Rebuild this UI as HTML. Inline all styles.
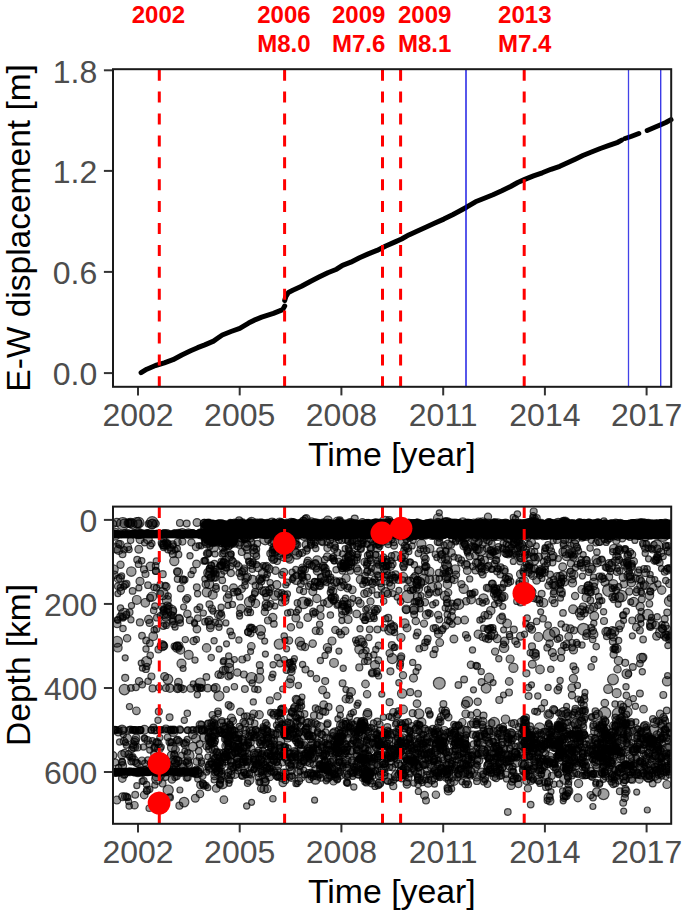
<!DOCTYPE html><html><head><meta charset="utf-8"><style>html,body{margin:0;padding:0;background:#fff;width:685px;height:915px;overflow:hidden}svg{display:block}</style></head><body>
<svg width="685" height="915" viewBox="0 0 685 915">
<text x="158.4" y="23.0" font-family="Liberation Sans, sans-serif" font-weight="bold" font-size="24" fill="#ff0000" text-anchor="middle">2002</text>
<text x="283.9" y="23.0" font-family="Liberation Sans, sans-serif" font-weight="bold" font-size="24" fill="#ff0000" text-anchor="middle">2006</text>
<text x="283.9" y="52.1" font-family="Liberation Sans, sans-serif" font-weight="bold" font-size="24" fill="#ff0000" text-anchor="middle">M8.0</text>
<text x="358.7" y="23.0" font-family="Liberation Sans, sans-serif" font-weight="bold" font-size="24" fill="#ff0000" text-anchor="middle">2009</text>
<text x="358.7" y="52.1" font-family="Liberation Sans, sans-serif" font-weight="bold" font-size="24" fill="#ff0000" text-anchor="middle">M7.6</text>
<text x="424.7" y="23.0" font-family="Liberation Sans, sans-serif" font-weight="bold" font-size="24" fill="#ff0000" text-anchor="middle">2009</text>
<text x="424.7" y="52.1" font-family="Liberation Sans, sans-serif" font-weight="bold" font-size="24" fill="#ff0000" text-anchor="middle">M8.1</text>
<text x="524.8" y="23.0" font-family="Liberation Sans, sans-serif" font-weight="bold" font-size="24" fill="#ff0000" text-anchor="middle">2013</text>
<text x="524.8" y="52.1" font-family="Liberation Sans, sans-serif" font-weight="bold" font-size="24" fill="#ff0000" text-anchor="middle">M7.4</text>
<line x1="103.9" x2="113" y1="70.3" y2="70.3" stroke="#333" stroke-width="2"/>
<text x="97.3" y="82.6" font-family="Liberation Sans, sans-serif" font-size="32" fill="#4d4d4d" text-anchor="end">1.8</text>
<line x1="103.9" x2="113" y1="170.9" y2="170.9" stroke="#333" stroke-width="2"/>
<text x="97.3" y="183.2" font-family="Liberation Sans, sans-serif" font-size="32" fill="#4d4d4d" text-anchor="end">1.2</text>
<line x1="103.9" x2="113" y1="271.9" y2="271.9" stroke="#333" stroke-width="2"/>
<text x="97.3" y="284.2" font-family="Liberation Sans, sans-serif" font-size="32" fill="#4d4d4d" text-anchor="end">0.6</text>
<line x1="103.9" x2="113" y1="373.1" y2="373.1" stroke="#333" stroke-width="2"/>
<text x="97.3" y="385.4" font-family="Liberation Sans, sans-serif" font-size="32" fill="#4d4d4d" text-anchor="end">0.0</text>
<line x1="138.0" x2="138.0" y1="386.8" y2="395.40000000000003" stroke="#333" stroke-width="2"/>
<text x="138.0" y="426.4" font-family="Liberation Sans, sans-serif" font-size="32" fill="#4d4d4d" text-anchor="middle">2002</text>
<line x1="239.7" x2="239.7" y1="386.8" y2="395.40000000000003" stroke="#333" stroke-width="2"/>
<text x="239.7" y="426.4" font-family="Liberation Sans, sans-serif" font-size="32" fill="#4d4d4d" text-anchor="middle">2005</text>
<line x1="341.4" x2="341.4" y1="386.8" y2="395.40000000000003" stroke="#333" stroke-width="2"/>
<text x="341.4" y="426.4" font-family="Liberation Sans, sans-serif" font-size="32" fill="#4d4d4d" text-anchor="middle">2008</text>
<line x1="443.2" x2="443.2" y1="386.8" y2="395.40000000000003" stroke="#333" stroke-width="2"/>
<text x="443.2" y="426.4" font-family="Liberation Sans, sans-serif" font-size="32" fill="#4d4d4d" text-anchor="middle">2011</text>
<line x1="544.9" x2="544.9" y1="386.8" y2="395.40000000000003" stroke="#333" stroke-width="2"/>
<text x="544.9" y="426.4" font-family="Liberation Sans, sans-serif" font-size="32" fill="#4d4d4d" text-anchor="middle">2014</text>
<line x1="646.6" x2="646.6" y1="386.8" y2="395.40000000000003" stroke="#333" stroke-width="2"/>
<text x="646.6" y="426.4" font-family="Liberation Sans, sans-serif" font-size="32" fill="#4d4d4d" text-anchor="middle">2017</text>
<text x="391.8" y="466.4" font-family="Liberation Sans, sans-serif" font-size="33.8" fill="#000" text-anchor="middle">Time [year]</text>
<text transform="translate(29.7,227.9) rotate(-90)" x="0" y="0" font-family="Liberation Sans, sans-serif" font-size="33.5" fill="#000" text-anchor="middle">E-W displacement [m]</text>
<polyline points="141.1,372.7 146.8,369.2 155.5,365.5 164.3,362.9 173.0,359.7 181.8,355.0 190.6,350.8 197.6,347.7 204.8,344.9 213.5,341.1 217.9,338.0 222.3,335.0 231.0,331.5 239.8,328.4 248.6,323.1 255.6,319.6 261.7,317.2 273.4,313.4 282.7,309.6 284.7,306.0" fill="none" stroke="#000" stroke-width="5" stroke-linecap="round" stroke-linejoin="round"/>
<polyline points="284.7,300.5 285.8,296.8 288.4,292.4 292.8,290.2 301.5,286.3 310.3,281.5 319.0,277.1 327.8,272.7 336.6,269.2 342.5,265.3 350.8,262.2 359.5,257.8 368.3,253.9 377.0,250.4 385.8,246.0 394.6,242.1 401.6,239.0 408.8,234.9 417.5,230.9 426.3,227.0 435.0,223.0 443.8,219.1 452.6,214.7 459.6,211.0 466.5,207.2 475.5,201.8 484.3,198.3 493.0,194.8 501.8,190.8 510.6,186.5 517.7,182.5 524.8,179.4 533.5,175.9 542.3,172.8 551.0,169.3 559.8,166.3 568.6,162.3 575.7,158.9 582.8,155.5 591.5,152.0 600.3,148.5 609.0,145.4 617.8,142.3 621.7,140.1" fill="none" stroke="#000" stroke-width="5" stroke-linecap="round" stroke-linejoin="round"/>
<polyline points="625.0,138.5 631,136.5 638.8,133.5" fill="none" stroke="#000" stroke-width="5" stroke-linecap="round" stroke-linejoin="round"/>
<polyline points="647.2,130.5 654.8,127.3 660.7,124.7 665.8,122.5 671,119.6" fill="none" stroke="#000" stroke-width="5" stroke-linecap="round" stroke-linejoin="round"/>
<line x1="466.0" x2="466.0" y1="69.2" y2="386.8" stroke="#0000e0" stroke-opacity="0.66" stroke-width="2"/>
<line x1="628.5" x2="628.5" y1="69.2" y2="386.8" stroke="#0000e0" stroke-opacity="0.74" stroke-width="1.3"/>
<line x1="660.7" x2="660.7" y1="69.2" y2="386.8" stroke="#0000e0" stroke-opacity="0.77" stroke-width="1.4"/>
<line x1="159.3" x2="159.3" y1="69.7" y2="386.8" stroke="#ff0000" stroke-width="3" stroke-dasharray="11 10.9"/>
<line x1="284.6" x2="284.6" y1="69.7" y2="386.8" stroke="#ff0000" stroke-width="3" stroke-dasharray="11 10.9"/>
<line x1="382.5" x2="382.5" y1="69.7" y2="386.8" stroke="#ff0000" stroke-width="3" stroke-dasharray="11 10.9"/>
<line x1="400.6" x2="400.6" y1="69.7" y2="386.8" stroke="#ff0000" stroke-width="3" stroke-dasharray="11 10.9"/>
<line x1="524.2" x2="524.2" y1="69.7" y2="386.8" stroke="#ff0000" stroke-width="3" stroke-dasharray="11 10.9"/>
<rect x="113.0" y="69.2" width="558.2" height="317.6" fill="none" stroke="#1a1a1a" stroke-width="2"/>
<line x1="103.9" x2="113" y1="519.9" y2="519.9" stroke="#333" stroke-width="2"/>
<text x="97.3" y="532.2" font-family="Liberation Sans, sans-serif" font-size="32" fill="#4d4d4d" text-anchor="end">0</text>
<line x1="103.9" x2="113" y1="603.9399999999999" y2="603.9399999999999" stroke="#333" stroke-width="2"/>
<text x="97.3" y="616.2" font-family="Liberation Sans, sans-serif" font-size="32" fill="#4d4d4d" text-anchor="end">200</text>
<line x1="103.9" x2="113" y1="687.98" y2="687.98" stroke="#333" stroke-width="2"/>
<text x="97.3" y="700.3" font-family="Liberation Sans, sans-serif" font-size="32" fill="#4d4d4d" text-anchor="end">400</text>
<line x1="103.9" x2="113" y1="772.02" y2="772.02" stroke="#333" stroke-width="2"/>
<text x="97.3" y="784.3" font-family="Liberation Sans, sans-serif" font-size="32" fill="#4d4d4d" text-anchor="end">600</text>
<line x1="138.0" x2="138.0" y1="823.8" y2="832.4" stroke="#333" stroke-width="2"/>
<text x="138.0" y="863.4" font-family="Liberation Sans, sans-serif" font-size="32" fill="#4d4d4d" text-anchor="middle">2002</text>
<line x1="239.7" x2="239.7" y1="823.8" y2="832.4" stroke="#333" stroke-width="2"/>
<text x="239.7" y="863.4" font-family="Liberation Sans, sans-serif" font-size="32" fill="#4d4d4d" text-anchor="middle">2005</text>
<line x1="341.4" x2="341.4" y1="823.8" y2="832.4" stroke="#333" stroke-width="2"/>
<text x="341.4" y="863.4" font-family="Liberation Sans, sans-serif" font-size="32" fill="#4d4d4d" text-anchor="middle">2008</text>
<line x1="443.2" x2="443.2" y1="823.8" y2="832.4" stroke="#333" stroke-width="2"/>
<text x="443.2" y="863.4" font-family="Liberation Sans, sans-serif" font-size="32" fill="#4d4d4d" text-anchor="middle">2011</text>
<line x1="544.9" x2="544.9" y1="823.8" y2="832.4" stroke="#333" stroke-width="2"/>
<text x="544.9" y="863.4" font-family="Liberation Sans, sans-serif" font-size="32" fill="#4d4d4d" text-anchor="middle">2014</text>
<line x1="646.6" x2="646.6" y1="823.8" y2="832.4" stroke="#333" stroke-width="2"/>
<text x="646.6" y="863.4" font-family="Liberation Sans, sans-serif" font-size="32" fill="#4d4d4d" text-anchor="middle">2017</text>
<text x="391.8" y="903.4" font-family="Liberation Sans, sans-serif" font-size="33.8" fill="#000" text-anchor="middle">Time [year]</text>
<text transform="translate(29.7,664.9) rotate(-90)" x="0" y="0" font-family="Liberation Sans, sans-serif" font-size="33.5" fill="#000" text-anchor="middle">Depth [km]</text>
<svg x="113" y="506.6" width="558.2" height="317.2" viewBox="113 506.6 558.2 317.2" overflow="hidden">
<rect x="204" y="523.7" width="467.2" height="10.9" fill="#000"/>
<rect x="113" y="530.2" width="92" height="8.2" fill="#000"/>
<rect x="204" y="521" width="30" height="22" fill="#000"/>
<rect x="113" y="767.8" width="86" height="7.4" fill="#000"/>
<g fill="#000" fill-opacity="0.38" stroke="#000" stroke-opacity="0.7" stroke-width="1.2">
<circle cx="563.8" cy="768.0" r="3.6"/>
<circle cx="565.3" cy="757.7" r="3.8"/>
<circle cx="549.4" cy="744.9" r="3.2"/>
<circle cx="575.9" cy="533.8" r="3.0"/>
<circle cx="581.4" cy="525.0" r="4.8"/>
<circle cx="508.1" cy="582.8" r="3.6"/>
<circle cx="530.6" cy="523.3" r="3.5"/>
<circle cx="382.9" cy="566.5" r="3.3"/>
<circle cx="498.8" cy="602.9" r="3.2"/>
<circle cx="270.4" cy="524.0" r="3.0"/>
<circle cx="393.9" cy="542.7" r="3.0"/>
<circle cx="587.0" cy="535.1" r="3.3"/>
<circle cx="660.5" cy="756.5" r="3.7"/>
<circle cx="545.6" cy="548.3" r="3.0"/>
<circle cx="363.1" cy="765.2" r="3.4"/>
<circle cx="617.5" cy="669.2" r="3.7"/>
<circle cx="255.9" cy="760.1" r="3.7"/>
<circle cx="351.2" cy="531.2" r="3.8"/>
<circle cx="482.6" cy="523.7" r="3.1"/>
<circle cx="569.7" cy="760.6" r="3.0"/>
<circle cx="445.5" cy="753.3" r="3.0"/>
<circle cx="262.2" cy="775.2" r="3.4"/>
<circle cx="471.9" cy="756.6" r="3.8"/>
<circle cx="453.3" cy="734.8" r="5.5"/>
<circle cx="390.6" cy="752.2" r="4.4"/>
<circle cx="325.3" cy="711.8" r="3.5"/>
<circle cx="367.2" cy="737.0" r="3.2"/>
<circle cx="609.1" cy="534.3" r="3.0"/>
<circle cx="533.1" cy="515.5" r="3.0"/>
<circle cx="345.1" cy="548.7" r="3.0"/>
<circle cx="325.4" cy="528.8" r="3.6"/>
<circle cx="622.3" cy="538.5" r="3.3"/>
<circle cx="396.8" cy="759.8" r="3.4"/>
<circle cx="376.0" cy="543.2" r="3.1"/>
<circle cx="558.2" cy="745.7" r="4.2"/>
<circle cx="248.4" cy="534.5" r="3.2"/>
<circle cx="352.4" cy="553.3" r="3.1"/>
<circle cx="550.8" cy="669.3" r="3.2"/>
<circle cx="427.2" cy="771.0" r="3.9"/>
<circle cx="469.4" cy="533.4" r="3.7"/>
<circle cx="372.4" cy="672.9" r="4.0"/>
<circle cx="164.8" cy="771.5" r="3.5"/>
<circle cx="557.9" cy="534.7" r="4.8"/>
<circle cx="595.4" cy="524.3" r="3.0"/>
<circle cx="236.1" cy="523.7" r="3.0"/>
<circle cx="610.3" cy="523.9" r="3.7"/>
<circle cx="195.0" cy="660.1" r="3.1"/>
<circle cx="625.3" cy="534.0" r="3.4"/>
<circle cx="337.7" cy="773.7" r="3.7"/>
<circle cx="608.9" cy="590.2" r="6.3"/>
<circle cx="291.5" cy="534.3" r="3.6"/>
<circle cx="400.7" cy="523.3" r="3.2"/>
<circle cx="380.1" cy="532.8" r="3.6"/>
<circle cx="532.0" cy="735.6" r="3.3"/>
<circle cx="467.7" cy="524.2" r="3.1"/>
<circle cx="634.1" cy="749.3" r="3.0"/>
<circle cx="139.8" cy="771.7" r="4.1"/>
<circle cx="507.8" cy="812.0" r="3.3"/>
<circle cx="511.7" cy="534.1" r="3.2"/>
<circle cx="486.2" cy="771.3" r="3.2"/>
<circle cx="364.5" cy="562.0" r="3.6"/>
<circle cx="567.3" cy="524.1" r="3.5"/>
<circle cx="364.3" cy="524.4" r="3.6"/>
<circle cx="371.3" cy="772.9" r="3.0"/>
<circle cx="525.8" cy="729.0" r="3.0"/>
<circle cx="369.4" cy="534.2" r="4.5"/>
<circle cx="471.7" cy="534.7" r="3.1"/>
<circle cx="628.5" cy="673.8" r="3.2"/>
<circle cx="345.9" cy="724.4" r="3.9"/>
<circle cx="669.7" cy="524.1" r="3.2"/>
<circle cx="626.8" cy="742.8" r="3.7"/>
<circle cx="215.1" cy="723.8" r="3.2"/>
<circle cx="200.2" cy="683.1" r="5.1"/>
<circle cx="561.1" cy="582.1" r="3.7"/>
<circle cx="559.4" cy="533.2" r="4.1"/>
<circle cx="394.7" cy="756.0" r="3.1"/>
<circle cx="170.7" cy="742.4" r="3.0"/>
<circle cx="320.0" cy="523.7" r="3.6"/>
<circle cx="578.6" cy="783.5" r="4.1"/>
<circle cx="407.0" cy="769.5" r="3.2"/>
<circle cx="265.1" cy="591.6" r="4.9"/>
<circle cx="356.8" cy="560.2" r="3.1"/>
<circle cx="308.8" cy="524.5" r="3.5"/>
<circle cx="558.1" cy="739.8" r="3.1"/>
<circle cx="197.3" cy="694.7" r="3.1"/>
<circle cx="302.2" cy="552.8" r="3.5"/>
<circle cx="488.6" cy="741.4" r="3.7"/>
<circle cx="127.3" cy="738.2" r="4.1"/>
<circle cx="200.6" cy="533.9" r="5.0"/>
<circle cx="562.6" cy="760.0" r="4.6"/>
<circle cx="463.6" cy="534.3" r="3.2"/>
<circle cx="507.5" cy="741.9" r="3.6"/>
<circle cx="628.4" cy="534.4" r="3.3"/>
<circle cx="166.1" cy="772.0" r="3.6"/>
<circle cx="393.7" cy="533.0" r="3.9"/>
<circle cx="451.6" cy="788.8" r="3.1"/>
<circle cx="545.2" cy="525.1" r="3.1"/>
<circle cx="423.3" cy="764.6" r="3.1"/>
<circle cx="664.0" cy="635.9" r="3.2"/>
<circle cx="651.3" cy="548.5" r="3.2"/>
<circle cx="362.6" cy="778.3" r="3.2"/>
<circle cx="330.2" cy="533.7" r="3.7"/>
<circle cx="557.2" cy="724.3" r="3.0"/>
<circle cx="320.7" cy="529.3" r="3.2"/>
<circle cx="295.5" cy="752.4" r="3.7"/>
<circle cx="272.8" cy="617.5" r="4.1"/>
<circle cx="607.0" cy="760.1" r="4.0"/>
<circle cx="288.3" cy="526.3" r="3.7"/>
<circle cx="418.2" cy="724.5" r="3.1"/>
<circle cx="235.6" cy="747.3" r="3.3"/>
<circle cx="481.7" cy="568.3" r="3.7"/>
<circle cx="414.0" cy="765.1" r="3.0"/>
<circle cx="623.2" cy="802.8" r="3.4"/>
<circle cx="670.1" cy="552.2" r="3.8"/>
<circle cx="153.2" cy="636.2" r="4.3"/>
<circle cx="502.7" cy="741.8" r="3.7"/>
<circle cx="349.9" cy="534.8" r="3.4"/>
<circle cx="516.3" cy="549.7" r="4.7"/>
<circle cx="188.8" cy="755.4" r="5.2"/>
<circle cx="590.7" cy="795.1" r="3.6"/>
<circle cx="188.2" cy="771.8" r="3.3"/>
<circle cx="232.7" cy="529.8" r="3.0"/>
<circle cx="433.7" cy="524.1" r="3.1"/>
<circle cx="213.7" cy="722.6" r="3.7"/>
<circle cx="556.6" cy="534.6" r="3.2"/>
<circle cx="326.5" cy="769.0" r="4.0"/>
<circle cx="355.2" cy="534.1" r="4.3"/>
<circle cx="218.6" cy="523.6" r="3.8"/>
<circle cx="307.0" cy="757.7" r="3.4"/>
<circle cx="587.7" cy="588.0" r="3.8"/>
<circle cx="647.8" cy="524.5" r="3.5"/>
<circle cx="264.7" cy="641.1" r="3.0"/>
<circle cx="362.7" cy="584.4" r="3.0"/>
<circle cx="344.2" cy="566.6" r="3.6"/>
<circle cx="176.6" cy="761.6" r="5.1"/>
<circle cx="533.9" cy="533.8" r="3.8"/>
<circle cx="439.3" cy="533.7" r="3.3"/>
<circle cx="440.7" cy="740.0" r="3.2"/>
<circle cx="545.8" cy="760.9" r="3.1"/>
<circle cx="273.5" cy="559.6" r="3.9"/>
<circle cx="264.2" cy="523.6" r="3.2"/>
<circle cx="448.5" cy="533.5" r="3.0"/>
<circle cx="652.9" cy="534.1" r="3.6"/>
<circle cx="597.5" cy="522.4" r="3.3"/>
<circle cx="146.7" cy="771.8" r="3.8"/>
<circle cx="419.2" cy="725.6" r="3.4"/>
<circle cx="457.9" cy="524.6" r="3.7"/>
<circle cx="627.2" cy="533.1" r="3.4"/>
<circle cx="269.4" cy="768.9" r="3.3"/>
<circle cx="470.4" cy="775.8" r="3.2"/>
<circle cx="210.3" cy="528.2" r="3.4"/>
<circle cx="165.2" cy="622.7" r="4.5"/>
<circle cx="290.6" cy="764.6" r="3.0"/>
<circle cx="299.2" cy="554.0" r="3.0"/>
<circle cx="509.2" cy="534.7" r="3.6"/>
<circle cx="488.7" cy="764.1" r="3.5"/>
<circle cx="630.4" cy="534.7" r="3.0"/>
<circle cx="221.6" cy="542.9" r="3.8"/>
<circle cx="402.1" cy="774.6" r="4.4"/>
<circle cx="487.1" cy="566.8" r="3.6"/>
<circle cx="553.8" cy="766.3" r="4.0"/>
<circle cx="289.5" cy="663.0" r="3.5"/>
<circle cx="210.8" cy="531.5" r="3.8"/>
<circle cx="245.7" cy="534.6" r="6.8"/>
<circle cx="518.1" cy="533.5" r="3.3"/>
<circle cx="536.0" cy="528.7" r="3.9"/>
<circle cx="244.2" cy="716.0" r="3.0"/>
<circle cx="559.0" cy="526.9" r="3.5"/>
<circle cx="645.0" cy="524.7" r="3.7"/>
<circle cx="346.6" cy="760.6" r="4.5"/>
<circle cx="343.2" cy="525.7" r="3.4"/>
<circle cx="637.2" cy="729.4" r="3.3"/>
<circle cx="330.2" cy="523.9" r="3.8"/>
<circle cx="247.2" cy="761.9" r="3.6"/>
<circle cx="184.8" cy="751.2" r="3.0"/>
<circle cx="589.5" cy="524.4" r="4.1"/>
<circle cx="606.7" cy="748.4" r="3.3"/>
<circle cx="371.0" cy="780.9" r="3.0"/>
<circle cx="179.0" cy="619.4" r="4.3"/>
<circle cx="529.5" cy="522.0" r="3.5"/>
<circle cx="354.5" cy="740.0" r="4.4"/>
<circle cx="583.3" cy="534.8" r="5.0"/>
<circle cx="375.7" cy="528.6" r="4.6"/>
<circle cx="669.1" cy="738.8" r="3.4"/>
<circle cx="339.0" cy="742.0" r="3.1"/>
<circle cx="400.4" cy="663.6" r="3.2"/>
<circle cx="531.6" cy="524.2" r="3.0"/>
<circle cx="342.0" cy="534.0" r="3.1"/>
<circle cx="501.8" cy="523.9" r="3.0"/>
<circle cx="652.2" cy="739.4" r="3.6"/>
<circle cx="115.1" cy="762.4" r="3.5"/>
<circle cx="599.2" cy="756.2" r="4.4"/>
<circle cx="557.4" cy="535.9" r="3.5"/>
<circle cx="326.6" cy="534.8" r="3.2"/>
<circle cx="430.6" cy="752.7" r="3.8"/>
<circle cx="406.2" cy="743.8" r="3.6"/>
<circle cx="346.0" cy="578.3" r="4.1"/>
<circle cx="417.0" cy="723.4" r="3.1"/>
<circle cx="470.2" cy="534.2" r="3.5"/>
<circle cx="372.1" cy="673.1" r="3.0"/>
<circle cx="527.7" cy="537.7" r="3.1"/>
<circle cx="501.1" cy="535.5" r="3.1"/>
<circle cx="345.0" cy="534.3" r="4.4"/>
<circle cx="405.5" cy="746.3" r="3.0"/>
<circle cx="154.9" cy="785.0" r="3.1"/>
<circle cx="606.7" cy="534.6" r="3.1"/>
<circle cx="232.4" cy="526.8" r="3.0"/>
<circle cx="534.4" cy="527.8" r="3.1"/>
<circle cx="598.0" cy="524.1" r="3.2"/>
<circle cx="210.8" cy="763.6" r="3.0"/>
<circle cx="382.7" cy="762.2" r="3.2"/>
<circle cx="614.3" cy="779.9" r="3.1"/>
<circle cx="225.0" cy="533.8" r="5.2"/>
<circle cx="391.6" cy="539.1" r="3.7"/>
<circle cx="464.2" cy="534.2" r="3.3"/>
<circle cx="203.4" cy="533.6" r="3.6"/>
<circle cx="230.2" cy="631.5" r="3.3"/>
<circle cx="366.6" cy="524.7" r="4.0"/>
<circle cx="254.8" cy="737.7" r="3.3"/>
<circle cx="269.4" cy="523.7" r="3.1"/>
<circle cx="340.3" cy="715.2" r="3.0"/>
<circle cx="356.7" cy="613.9" r="3.8"/>
<circle cx="559.1" cy="752.8" r="3.2"/>
<circle cx="627.9" cy="526.7" r="3.2"/>
<circle cx="444.2" cy="524.7" r="4.2"/>
<circle cx="279.4" cy="745.1" r="3.5"/>
<circle cx="148.6" cy="533.5" r="3.7"/>
<circle cx="606.2" cy="542.4" r="3.0"/>
<circle cx="558.2" cy="737.1" r="3.1"/>
<circle cx="422.2" cy="534.0" r="3.1"/>
<circle cx="209.0" cy="553.3" r="3.0"/>
<circle cx="469.7" cy="556.3" r="3.6"/>
<circle cx="545.2" cy="547.8" r="3.3"/>
<circle cx="223.0" cy="534.7" r="3.4"/>
<circle cx="216.2" cy="788.4" r="3.8"/>
<circle cx="376.8" cy="534.8" r="3.5"/>
<circle cx="496.8" cy="592.9" r="3.5"/>
<circle cx="564.0" cy="797.8" r="3.6"/>
<circle cx="402.4" cy="523.8" r="3.0"/>
<circle cx="221.7" cy="765.3" r="3.9"/>
<circle cx="612.1" cy="532.3" r="3.2"/>
<circle cx="373.8" cy="654.8" r="3.2"/>
<circle cx="477.3" cy="742.7" r="3.1"/>
<circle cx="129.2" cy="806.0" r="3.2"/>
<circle cx="521.9" cy="531.4" r="4.4"/>
<circle cx="657.1" cy="533.5" r="3.3"/>
<circle cx="375.6" cy="770.7" r="3.1"/>
<circle cx="410.7" cy="536.2" r="3.9"/>
<circle cx="643.5" cy="709.2" r="3.8"/>
<circle cx="427.5" cy="523.9" r="3.0"/>
<circle cx="476.1" cy="764.0" r="3.2"/>
<circle cx="517.7" cy="548.2" r="3.4"/>
<circle cx="367.4" cy="562.2" r="3.7"/>
<circle cx="577.1" cy="564.2" r="3.0"/>
<circle cx="209.8" cy="738.1" r="4.5"/>
<circle cx="602.4" cy="725.2" r="4.2"/>
<circle cx="320.6" cy="777.9" r="3.3"/>
<circle cx="204.5" cy="730.1" r="3.1"/>
<circle cx="268.4" cy="753.6" r="3.9"/>
<circle cx="353.3" cy="773.3" r="3.6"/>
<circle cx="274.0" cy="524.4" r="3.0"/>
<circle cx="136.8" cy="785.7" r="3.0"/>
<circle cx="629.2" cy="571.3" r="3.1"/>
<circle cx="653.3" cy="587.2" r="3.7"/>
<circle cx="269.9" cy="700.4" r="3.5"/>
<circle cx="591.3" cy="534.3" r="4.1"/>
<circle cx="488.7" cy="565.7" r="3.4"/>
<circle cx="511.2" cy="547.2" r="3.0"/>
<circle cx="366.0" cy="524.4" r="3.3"/>
<circle cx="649.4" cy="775.9" r="3.4"/>
<circle cx="428.4" cy="730.2" r="3.4"/>
<circle cx="232.5" cy="604.4" r="3.1"/>
<circle cx="614.7" cy="776.2" r="3.7"/>
<circle cx="596.9" cy="552.0" r="3.2"/>
<circle cx="500.6" cy="567.4" r="3.5"/>
<circle cx="249.6" cy="527.8" r="3.3"/>
<circle cx="275.0" cy="535.0" r="4.7"/>
<circle cx="120.4" cy="587.6" r="3.2"/>
<circle cx="173.7" cy="624.5" r="3.1"/>
<circle cx="360.4" cy="528.2" r="3.2"/>
<circle cx="217.2" cy="542.9" r="3.2"/>
<circle cx="524.3" cy="736.7" r="3.8"/>
<circle cx="655.8" cy="535.0" r="3.0"/>
<circle cx="518.8" cy="545.0" r="3.3"/>
<circle cx="512.5" cy="533.7" r="3.4"/>
<circle cx="572.2" cy="775.7" r="3.1"/>
<circle cx="227.2" cy="721.6" r="3.0"/>
<circle cx="528.6" cy="696.1" r="3.4"/>
<circle cx="470.5" cy="762.6" r="3.6"/>
<circle cx="547.2" cy="783.6" r="3.1"/>
<circle cx="401.0" cy="751.6" r="3.2"/>
<circle cx="625.9" cy="791.2" r="4.1"/>
<circle cx="578.3" cy="748.7" r="3.2"/>
<circle cx="332.9" cy="773.1" r="3.0"/>
<circle cx="170.2" cy="797.5" r="3.3"/>
<circle cx="521.2" cy="753.1" r="3.2"/>
<circle cx="608.1" cy="524.1" r="3.0"/>
<circle cx="477.7" cy="526.2" r="3.1"/>
<circle cx="656.3" cy="523.9" r="3.2"/>
<circle cx="597.8" cy="733.1" r="3.7"/>
<circle cx="559.7" cy="524.4" r="3.6"/>
<circle cx="625.1" cy="724.1" r="3.4"/>
<circle cx="616.1" cy="747.8" r="3.7"/>
<circle cx="254.3" cy="753.2" r="3.9"/>
<circle cx="227.6" cy="542.8" r="3.1"/>
<circle cx="656.6" cy="556.7" r="3.0"/>
<circle cx="601.9" cy="600.7" r="3.0"/>
<circle cx="525.9" cy="534.6" r="3.9"/>
<circle cx="598.7" cy="524.8" r="3.1"/>
<circle cx="614.9" cy="725.7" r="3.3"/>
<circle cx="652.5" cy="747.2" r="5.8"/>
<circle cx="230.2" cy="540.0" r="3.0"/>
<circle cx="590.4" cy="523.9" r="3.5"/>
<circle cx="611.1" cy="735.5" r="3.1"/>
<circle cx="265.1" cy="524.5" r="4.0"/>
<circle cx="620.5" cy="534.2" r="3.9"/>
<circle cx="641.0" cy="618.3" r="3.4"/>
<circle cx="373.3" cy="743.3" r="3.7"/>
<circle cx="553.2" cy="540.9" r="3.0"/>
<circle cx="605.3" cy="730.6" r="3.1"/>
<circle cx="212.7" cy="534.0" r="3.2"/>
<circle cx="371.5" cy="768.4" r="3.5"/>
<circle cx="315.3" cy="612.4" r="3.0"/>
<circle cx="257.5" cy="524.5" r="3.0"/>
<circle cx="365.1" cy="776.7" r="3.6"/>
<circle cx="168.0" cy="549.7" r="3.2"/>
<circle cx="583.8" cy="732.6" r="3.0"/>
<circle cx="204.7" cy="526.6" r="4.3"/>
<circle cx="206.3" cy="524.8" r="3.5"/>
<circle cx="538.4" cy="524.2" r="3.2"/>
<circle cx="594.2" cy="586.4" r="3.2"/>
<circle cx="338.0" cy="523.7" r="3.4"/>
<circle cx="396.3" cy="523.7" r="4.3"/>
<circle cx="568.9" cy="747.7" r="3.0"/>
<circle cx="648.5" cy="736.2" r="3.5"/>
<circle cx="144.8" cy="738.9" r="3.2"/>
<circle cx="227.9" cy="741.0" r="3.6"/>
<circle cx="400.9" cy="723.4" r="3.7"/>
<circle cx="449.2" cy="523.3" r="3.3"/>
<circle cx="343.9" cy="749.2" r="3.2"/>
<circle cx="220.6" cy="779.9" r="3.1"/>
<circle cx="294.3" cy="534.6" r="4.7"/>
<circle cx="386.0" cy="565.9" r="3.2"/>
<circle cx="641.6" cy="522.7" r="3.3"/>
<circle cx="658.6" cy="750.5" r="3.1"/>
<circle cx="591.5" cy="527.6" r="3.0"/>
<circle cx="113.5" cy="569.5" r="4.7"/>
<circle cx="420.0" cy="724.8" r="3.1"/>
<circle cx="434.9" cy="533.4" r="4.6"/>
<circle cx="587.0" cy="633.3" r="3.8"/>
<circle cx="401.1" cy="558.1" r="3.7"/>
<circle cx="464.1" cy="679.5" r="3.4"/>
<circle cx="231.4" cy="718.2" r="4.0"/>
<circle cx="615.0" cy="770.1" r="3.1"/>
<circle cx="403.0" cy="540.9" r="4.9"/>
<circle cx="455.9" cy="765.5" r="3.7"/>
<circle cx="621.5" cy="596.1" r="5.7"/>
<circle cx="441.8" cy="554.5" r="4.0"/>
<circle cx="273.1" cy="549.4" r="3.1"/>
<circle cx="638.7" cy="528.3" r="3.2"/>
<circle cx="572.4" cy="714.7" r="3.1"/>
<circle cx="563.1" cy="751.8" r="3.2"/>
<circle cx="651.5" cy="617.4" r="3.0"/>
<circle cx="118.5" cy="772.1" r="3.5"/>
<circle cx="597.7" cy="523.8" r="3.5"/>
<circle cx="563.3" cy="529.6" r="3.1"/>
<circle cx="246.4" cy="773.8" r="3.9"/>
<circle cx="398.9" cy="590.3" r="3.0"/>
<circle cx="259.7" cy="665.1" r="3.4"/>
<circle cx="203.3" cy="613.1" r="3.1"/>
<circle cx="241.7" cy="775.7" r="3.0"/>
<circle cx="336.7" cy="523.5" r="3.0"/>
<circle cx="562.1" cy="750.7" r="3.2"/>
<circle cx="405.6" cy="524.4" r="4.8"/>
<circle cx="621.7" cy="768.4" r="3.7"/>
<circle cx="147.3" cy="533.4" r="3.7"/>
<circle cx="537.4" cy="524.2" r="3.4"/>
<circle cx="348.8" cy="555.1" r="3.1"/>
<circle cx="516.5" cy="554.9" r="3.2"/>
<circle cx="139.1" cy="681.3" r="3.7"/>
<circle cx="503.6" cy="644.4" r="3.2"/>
<circle cx="310.7" cy="545.4" r="3.2"/>
<circle cx="267.3" cy="527.8" r="3.1"/>
<circle cx="217.9" cy="524.0" r="3.2"/>
<circle cx="368.0" cy="728.8" r="3.9"/>
<circle cx="378.4" cy="545.1" r="3.0"/>
<circle cx="242.7" cy="534.7" r="4.9"/>
<circle cx="189.6" cy="533.1" r="3.2"/>
<circle cx="517.0" cy="601.2" r="3.3"/>
<circle cx="597.2" cy="562.8" r="4.1"/>
<circle cx="587.2" cy="532.5" r="3.4"/>
<circle cx="667.5" cy="524.1" r="4.6"/>
<circle cx="520.5" cy="602.4" r="3.5"/>
<circle cx="607.4" cy="750.3" r="3.1"/>
<circle cx="454.4" cy="742.6" r="3.0"/>
<circle cx="270.0" cy="751.5" r="3.0"/>
<circle cx="491.2" cy="534.3" r="3.9"/>
<circle cx="286.3" cy="533.9" r="3.0"/>
<circle cx="232.3" cy="766.4" r="3.7"/>
<circle cx="526.1" cy="737.9" r="4.0"/>
<circle cx="604.0" cy="719.0" r="3.0"/>
<circle cx="549.9" cy="524.0" r="4.1"/>
<circle cx="335.8" cy="747.8" r="3.4"/>
<circle cx="162.4" cy="593.8" r="5.9"/>
<circle cx="440.3" cy="750.7" r="3.4"/>
<circle cx="525.6" cy="533.2" r="4.8"/>
<circle cx="489.6" cy="758.2" r="3.5"/>
<circle cx="441.4" cy="524.3" r="3.0"/>
<circle cx="335.0" cy="774.3" r="3.3"/>
<circle cx="294.7" cy="754.0" r="3.7"/>
<circle cx="616.7" cy="551.3" r="3.5"/>
<circle cx="298.8" cy="733.4" r="3.1"/>
<circle cx="389.1" cy="716.6" r="3.0"/>
<circle cx="571.2" cy="523.6" r="3.5"/>
<circle cx="186.6" cy="772.0" r="3.9"/>
<circle cx="257.4" cy="524.7" r="3.0"/>
<circle cx="209.1" cy="769.9" r="3.2"/>
<circle cx="231.1" cy="732.1" r="4.5"/>
<circle cx="522.8" cy="534.2" r="3.1"/>
<circle cx="221.2" cy="536.1" r="3.2"/>
<circle cx="231.5" cy="524.6" r="3.8"/>
<circle cx="554.3" cy="710.1" r="3.4"/>
<circle cx="501.8" cy="738.4" r="3.5"/>
<circle cx="512.3" cy="532.7" r="3.4"/>
<circle cx="254.6" cy="593.8" r="3.1"/>
<circle cx="541.5" cy="527.6" r="3.7"/>
<circle cx="241.5" cy="530.2" r="3.0"/>
<circle cx="367.3" cy="608.4" r="3.0"/>
<circle cx="210.3" cy="766.4" r="5.2"/>
<circle cx="263.2" cy="524.2" r="3.0"/>
<circle cx="207.9" cy="756.8" r="3.0"/>
<circle cx="274.2" cy="772.6" r="3.4"/>
<circle cx="276.4" cy="534.1" r="3.4"/>
<circle cx="119.2" cy="772.1" r="3.4"/>
<circle cx="476.9" cy="781.2" r="3.3"/>
<circle cx="275.2" cy="532.9" r="3.1"/>
<circle cx="411.9" cy="759.5" r="4.8"/>
<circle cx="246.8" cy="525.3" r="3.7"/>
<circle cx="354.5" cy="767.1" r="3.2"/>
<circle cx="207.8" cy="541.2" r="3.1"/>
<circle cx="259.2" cy="524.1" r="4.0"/>
<circle cx="428.8" cy="526.0" r="3.7"/>
<circle cx="538.4" cy="779.6" r="4.5"/>
<circle cx="221.8" cy="542.6" r="4.0"/>
<circle cx="441.6" cy="524.2" r="3.0"/>
<circle cx="657.2" cy="616.7" r="3.1"/>
<circle cx="274.2" cy="540.7" r="4.4"/>
<circle cx="276.9" cy="733.1" r="3.8"/>
<circle cx="469.2" cy="522.9" r="3.5"/>
<circle cx="544.7" cy="782.7" r="3.0"/>
<circle cx="454.1" cy="524.3" r="3.2"/>
<circle cx="666.5" cy="737.5" r="3.6"/>
<circle cx="544.1" cy="767.1" r="3.6"/>
<circle cx="609.4" cy="538.9" r="3.0"/>
<circle cx="138.7" cy="533.7" r="3.8"/>
<circle cx="356.4" cy="523.1" r="3.1"/>
<circle cx="393.7" cy="626.4" r="3.9"/>
<circle cx="396.0" cy="534.6" r="3.1"/>
<circle cx="373.9" cy="524.0" r="3.1"/>
<circle cx="286.0" cy="734.3" r="3.6"/>
<circle cx="356.6" cy="533.6" r="3.9"/>
<circle cx="485.1" cy="780.1" r="3.1"/>
<circle cx="357.5" cy="523.9" r="3.2"/>
<circle cx="375.0" cy="786.4" r="3.1"/>
<circle cx="393.5" cy="534.8" r="3.3"/>
<circle cx="626.3" cy="611.2" r="3.1"/>
<circle cx="641.2" cy="532.9" r="4.2"/>
<circle cx="242.4" cy="523.3" r="4.5"/>
<circle cx="273.7" cy="759.4" r="3.7"/>
<circle cx="452.5" cy="523.7" r="4.0"/>
<circle cx="472.8" cy="734.7" r="3.5"/>
<circle cx="600.9" cy="742.0" r="3.1"/>
<circle cx="199.8" cy="606.9" r="3.0"/>
<circle cx="347.4" cy="526.6" r="3.7"/>
<circle cx="591.2" cy="528.8" r="3.4"/>
<circle cx="626.4" cy="695.5" r="3.3"/>
<circle cx="669.9" cy="733.0" r="3.7"/>
<circle cx="393.4" cy="749.6" r="3.1"/>
<circle cx="456.0" cy="523.7" r="3.3"/>
<circle cx="591.2" cy="627.8" r="3.4"/>
<circle cx="331.7" cy="533.9" r="4.4"/>
<circle cx="166.3" cy="762.2" r="3.9"/>
<circle cx="640.0" cy="761.3" r="3.5"/>
<circle cx="251.5" cy="522.5" r="5.1"/>
<circle cx="665.3" cy="533.9" r="3.5"/>
<circle cx="276.4" cy="725.2" r="3.0"/>
<circle cx="387.8" cy="734.9" r="3.4"/>
<circle cx="277.5" cy="696.3" r="3.6"/>
<circle cx="440.4" cy="748.5" r="3.5"/>
<circle cx="227.0" cy="545.4" r="3.0"/>
<circle cx="204.1" cy="560.9" r="3.3"/>
<circle cx="458.8" cy="524.0" r="4.4"/>
<circle cx="650.6" cy="591.4" r="3.3"/>
<circle cx="499.8" cy="523.9" r="3.1"/>
<circle cx="252.4" cy="569.1" r="3.3"/>
<circle cx="557.2" cy="531.6" r="3.5"/>
<circle cx="670.3" cy="636.8" r="3.5"/>
<circle cx="541.6" cy="523.5" r="3.1"/>
<circle cx="283.8" cy="572.2" r="3.9"/>
<circle cx="520.5" cy="636.3" r="3.9"/>
<circle cx="470.9" cy="724.4" r="3.4"/>
<circle cx="494.4" cy="523.9" r="3.7"/>
<circle cx="371.0" cy="524.8" r="3.3"/>
<circle cx="444.1" cy="532.2" r="3.3"/>
<circle cx="657.2" cy="525.0" r="3.2"/>
<circle cx="503.6" cy="533.7" r="3.0"/>
<circle cx="554.6" cy="632.4" r="5.0"/>
<circle cx="511.5" cy="745.1" r="3.4"/>
<circle cx="351.7" cy="751.2" r="3.4"/>
<circle cx="352.1" cy="760.4" r="3.5"/>
<circle cx="221.2" cy="565.4" r="3.4"/>
<circle cx="301.2" cy="533.8" r="3.6"/>
<circle cx="356.9" cy="643.3" r="3.1"/>
<circle cx="623.7" cy="811.1" r="3.0"/>
<circle cx="249.4" cy="534.5" r="3.3"/>
<circle cx="246.8" cy="765.5" r="3.0"/>
<circle cx="306.1" cy="535.4" r="3.8"/>
<circle cx="355.6" cy="524.4" r="3.6"/>
<circle cx="275.2" cy="534.3" r="3.2"/>
<circle cx="324.9" cy="742.3" r="3.0"/>
<circle cx="571.2" cy="554.7" r="3.0"/>
<circle cx="642.6" cy="749.1" r="4.3"/>
<circle cx="499.0" cy="763.1" r="3.1"/>
<circle cx="200.3" cy="785.0" r="3.6"/>
<circle cx="582.3" cy="524.1" r="4.2"/>
<circle cx="503.6" cy="596.8" r="4.4"/>
<circle cx="163.6" cy="609.6" r="3.0"/>
<circle cx="219.7" cy="784.1" r="3.0"/>
<circle cx="256.4" cy="526.0" r="3.4"/>
<circle cx="541.6" cy="593.8" r="3.5"/>
<circle cx="605.5" cy="567.2" r="3.2"/>
<circle cx="463.8" cy="527.7" r="3.0"/>
<circle cx="280.1" cy="534.3" r="3.0"/>
<circle cx="419.3" cy="731.3" r="3.0"/>
<circle cx="604.9" cy="523.8" r="3.7"/>
<circle cx="378.6" cy="523.9" r="3.5"/>
<circle cx="317.5" cy="533.9" r="3.0"/>
<circle cx="541.6" cy="774.5" r="3.1"/>
<circle cx="581.4" cy="533.6" r="3.7"/>
<circle cx="251.3" cy="646.3" r="3.8"/>
<circle cx="424.5" cy="795.3" r="3.9"/>
<circle cx="307.9" cy="560.8" r="3.7"/>
<circle cx="268.1" cy="539.7" r="3.4"/>
<circle cx="573.0" cy="555.9" r="3.2"/>
<circle cx="299.9" cy="744.8" r="3.0"/>
<circle cx="582.9" cy="528.9" r="3.4"/>
<circle cx="317.7" cy="732.8" r="3.3"/>
<circle cx="516.6" cy="758.2" r="3.0"/>
<circle cx="302.7" cy="568.0" r="4.0"/>
<circle cx="571.3" cy="535.0" r="3.3"/>
<circle cx="273.8" cy="525.2" r="3.8"/>
<circle cx="488.1" cy="524.3" r="3.0"/>
<circle cx="605.4" cy="776.0" r="3.8"/>
<circle cx="531.9" cy="629.5" r="3.7"/>
<circle cx="236.6" cy="763.9" r="3.5"/>
<circle cx="549.6" cy="757.9" r="5.4"/>
<circle cx="265.8" cy="534.2" r="3.4"/>
<circle cx="550.8" cy="534.7" r="3.2"/>
<circle cx="667.9" cy="645.6" r="3.1"/>
<circle cx="495.7" cy="756.8" r="3.0"/>
<circle cx="649.3" cy="756.4" r="3.1"/>
<circle cx="605.5" cy="733.4" r="3.0"/>
<circle cx="255.5" cy="754.0" r="3.0"/>
<circle cx="221.6" cy="525.2" r="3.6"/>
<circle cx="548.1" cy="625.1" r="3.3"/>
<circle cx="201.5" cy="724.8" r="3.4"/>
<circle cx="445.1" cy="524.1" r="6.3"/>
<circle cx="392.1" cy="733.7" r="4.0"/>
<circle cx="532.2" cy="734.4" r="3.2"/>
<circle cx="472.2" cy="524.6" r="3.2"/>
<circle cx="376.8" cy="765.6" r="3.0"/>
<circle cx="529.5" cy="734.1" r="3.6"/>
<circle cx="384.4" cy="523.8" r="3.8"/>
<circle cx="245.7" cy="730.3" r="4.0"/>
<circle cx="530.6" cy="776.7" r="3.8"/>
<circle cx="566.4" cy="523.7" r="4.8"/>
<circle cx="244.7" cy="539.6" r="3.0"/>
<circle cx="198.9" cy="729.0" r="3.4"/>
<circle cx="575.1" cy="596.0" r="3.6"/>
<circle cx="447.8" cy="771.5" r="5.0"/>
<circle cx="546.9" cy="529.1" r="3.4"/>
<circle cx="271.2" cy="756.2" r="3.0"/>
<circle cx="374.8" cy="609.0" r="3.6"/>
<circle cx="425.2" cy="534.6" r="3.6"/>
<circle cx="417.4" cy="534.2" r="3.2"/>
<circle cx="568.4" cy="767.0" r="4.4"/>
<circle cx="399.0" cy="535.3" r="4.6"/>
<circle cx="508.9" cy="577.0" r="3.5"/>
<circle cx="477.7" cy="754.3" r="3.0"/>
<circle cx="317.7" cy="534.4" r="4.0"/>
<circle cx="224.9" cy="739.0" r="3.4"/>
<circle cx="230.6" cy="533.6" r="3.2"/>
<circle cx="251.0" cy="736.8" r="3.3"/>
<circle cx="400.5" cy="526.1" r="4.0"/>
<circle cx="268.3" cy="534.8" r="3.2"/>
<circle cx="521.4" cy="738.2" r="3.5"/>
<circle cx="278.1" cy="754.6" r="3.2"/>
<circle cx="424.6" cy="740.2" r="4.7"/>
<circle cx="379.6" cy="745.7" r="3.0"/>
<circle cx="601.1" cy="527.2" r="3.1"/>
<circle cx="237.7" cy="770.6" r="3.2"/>
<circle cx="493.1" cy="741.4" r="3.0"/>
<circle cx="288.7" cy="524.8" r="4.3"/>
<circle cx="588.8" cy="523.9" r="3.5"/>
<circle cx="282.2" cy="523.8" r="3.2"/>
<circle cx="502.6" cy="587.7" r="3.1"/>
<circle cx="391.0" cy="757.4" r="3.9"/>
<circle cx="356.5" cy="554.5" r="3.4"/>
<circle cx="581.1" cy="563.1" r="3.6"/>
<circle cx="213.1" cy="540.7" r="3.3"/>
<circle cx="661.4" cy="534.7" r="3.0"/>
<circle cx="600.4" cy="523.7" r="3.1"/>
<circle cx="271.2" cy="732.5" r="3.4"/>
<circle cx="563.0" cy="551.8" r="4.1"/>
<circle cx="524.6" cy="757.3" r="3.6"/>
<circle cx="321.9" cy="741.5" r="3.0"/>
<circle cx="236.3" cy="523.3" r="3.4"/>
<circle cx="509.9" cy="748.4" r="3.2"/>
<circle cx="365.8" cy="525.7" r="3.1"/>
<circle cx="667.5" cy="526.0" r="3.8"/>
<circle cx="136.4" cy="710.8" r="3.8"/>
<circle cx="503.8" cy="569.7" r="4.2"/>
<circle cx="590.1" cy="548.1" r="3.2"/>
<circle cx="379.8" cy="724.3" r="3.3"/>
<circle cx="457.6" cy="533.8" r="4.1"/>
<circle cx="359.4" cy="732.0" r="3.7"/>
<circle cx="639.7" cy="524.6" r="3.8"/>
<circle cx="660.6" cy="767.9" r="3.3"/>
<circle cx="351.6" cy="762.6" r="3.6"/>
<circle cx="530.8" cy="569.0" r="4.3"/>
<circle cx="644.1" cy="744.2" r="3.4"/>
<circle cx="613.6" cy="725.8" r="4.0"/>
<circle cx="517.5" cy="736.7" r="3.0"/>
<circle cx="234.5" cy="524.3" r="3.2"/>
<circle cx="338.6" cy="752.9" r="3.0"/>
<circle cx="454.9" cy="534.7" r="3.2"/>
<circle cx="167.0" cy="533.9" r="4.2"/>
<circle cx="640.6" cy="522.6" r="3.8"/>
<circle cx="324.4" cy="534.4" r="3.2"/>
<circle cx="292.1" cy="572.3" r="3.1"/>
<circle cx="431.2" cy="524.2" r="3.9"/>
<circle cx="549.6" cy="581.4" r="3.1"/>
<circle cx="529.3" cy="564.1" r="3.8"/>
<circle cx="313.2" cy="533.6" r="3.0"/>
<circle cx="218.0" cy="711.3" r="3.3"/>
<circle cx="626.0" cy="531.1" r="3.8"/>
<circle cx="455.1" cy="769.3" r="3.6"/>
<circle cx="580.0" cy="745.1" r="3.1"/>
<circle cx="465.4" cy="784.3" r="3.4"/>
<circle cx="557.9" cy="743.5" r="3.1"/>
<circle cx="248.0" cy="632.0" r="3.4"/>
<circle cx="495.4" cy="752.8" r="3.5"/>
<circle cx="400.9" cy="747.1" r="5.3"/>
<circle cx="492.4" cy="533.8" r="3.7"/>
<circle cx="233.5" cy="767.9" r="3.0"/>
<circle cx="517.1" cy="524.6" r="3.8"/>
<circle cx="553.8" cy="593.8" r="3.6"/>
<circle cx="279.4" cy="524.8" r="3.8"/>
<circle cx="620.3" cy="534.1" r="3.0"/>
<circle cx="149.9" cy="643.2" r="3.3"/>
<circle cx="290.9" cy="627.3" r="3.7"/>
<circle cx="469.7" cy="578.9" r="3.1"/>
<circle cx="599.4" cy="535.1" r="3.0"/>
<circle cx="277.5" cy="524.5" r="3.6"/>
<circle cx="407.4" cy="524.4" r="3.2"/>
<circle cx="275.1" cy="595.5" r="4.6"/>
<circle cx="627.0" cy="740.1" r="3.1"/>
<circle cx="407.9" cy="523.5" r="3.2"/>
<circle cx="346.3" cy="774.5" r="4.3"/>
<circle cx="637.5" cy="536.0" r="3.0"/>
<circle cx="635.7" cy="523.9" r="3.2"/>
<circle cx="349.2" cy="550.9" r="3.2"/>
<circle cx="290.7" cy="758.2" r="3.4"/>
<circle cx="427.7" cy="530.1" r="3.8"/>
<circle cx="325.8" cy="571.7" r="3.8"/>
<circle cx="408.1" cy="757.2" r="5.7"/>
<circle cx="259.2" cy="757.8" r="3.0"/>
<circle cx="228.6" cy="542.3" r="3.0"/>
<circle cx="657.6" cy="772.6" r="3.4"/>
<circle cx="272.9" cy="674.3" r="3.1"/>
<circle cx="241.5" cy="524.2" r="3.5"/>
<circle cx="495.1" cy="651.6" r="3.6"/>
<circle cx="502.0" cy="767.6" r="3.8"/>
<circle cx="416.2" cy="524.1" r="3.2"/>
<circle cx="317.2" cy="560.3" r="4.5"/>
<circle cx="136.9" cy="534.2" r="3.9"/>
<circle cx="560.9" cy="737.1" r="4.1"/>
<circle cx="609.7" cy="533.3" r="3.2"/>
<circle cx="300.2" cy="756.3" r="3.1"/>
<circle cx="129.1" cy="549.6" r="3.1"/>
<circle cx="260.2" cy="532.6" r="3.3"/>
<circle cx="547.6" cy="534.2" r="4.5"/>
<circle cx="308.6" cy="751.3" r="4.0"/>
<circle cx="490.4" cy="772.2" r="3.8"/>
<circle cx="410.3" cy="535.7" r="4.5"/>
<circle cx="339.8" cy="520.2" r="3.4"/>
<circle cx="501.4" cy="598.2" r="3.8"/>
<circle cx="635.2" cy="534.4" r="3.6"/>
<circle cx="434.3" cy="734.5" r="3.1"/>
<circle cx="377.4" cy="629.5" r="3.4"/>
<circle cx="615.6" cy="533.6" r="3.5"/>
<circle cx="449.2" cy="762.9" r="3.8"/>
<circle cx="175.2" cy="730.1" r="3.2"/>
<circle cx="312.4" cy="736.2" r="3.6"/>
<circle cx="547.9" cy="544.6" r="3.1"/>
<circle cx="424.7" cy="562.2" r="3.2"/>
<circle cx="229.7" cy="534.8" r="3.5"/>
<circle cx="368.6" cy="656.7" r="3.4"/>
<circle cx="159.0" cy="748.5" r="4.4"/>
<circle cx="338.4" cy="537.0" r="3.0"/>
<circle cx="282.9" cy="782.7" r="3.9"/>
<circle cx="228.6" cy="746.7" r="3.2"/>
<circle cx="274.7" cy="530.8" r="3.9"/>
<circle cx="418.7" cy="765.3" r="3.0"/>
<circle cx="387.2" cy="756.4" r="3.7"/>
<circle cx="564.4" cy="714.1" r="6.8"/>
<circle cx="607.2" cy="753.1" r="6.8"/>
<circle cx="546.6" cy="531.7" r="3.1"/>
<circle cx="524.1" cy="594.0" r="3.1"/>
<circle cx="201.7" cy="730.3" r="3.6"/>
<circle cx="324.8" cy="559.6" r="3.3"/>
<circle cx="526.0" cy="534.1" r="3.5"/>
<circle cx="333.5" cy="601.2" r="3.2"/>
<circle cx="194.4" cy="622.5" r="3.0"/>
<circle cx="257.0" cy="764.7" r="3.2"/>
<circle cx="361.2" cy="724.5" r="3.4"/>
<circle cx="430.1" cy="525.9" r="3.8"/>
<circle cx="225.5" cy="669.6" r="3.5"/>
<circle cx="589.4" cy="744.3" r="3.5"/>
<circle cx="583.1" cy="710.4" r="3.2"/>
<circle cx="274.7" cy="524.3" r="3.2"/>
<circle cx="626.0" cy="686.8" r="3.1"/>
<circle cx="213.1" cy="726.5" r="3.3"/>
<circle cx="515.3" cy="533.6" r="3.4"/>
<circle cx="408.3" cy="721.8" r="3.2"/>
<circle cx="469.9" cy="523.9" r="3.9"/>
<circle cx="516.5" cy="533.4" r="4.3"/>
<circle cx="540.4" cy="746.0" r="3.0"/>
<circle cx="540.1" cy="733.0" r="3.5"/>
<circle cx="466.0" cy="734.8" r="3.0"/>
<circle cx="488.0" cy="614.9" r="4.0"/>
<circle cx="624.9" cy="550.3" r="3.1"/>
<circle cx="499.3" cy="751.2" r="3.8"/>
<circle cx="132.8" cy="756.9" r="3.2"/>
<circle cx="228.0" cy="739.1" r="5.3"/>
<circle cx="613.9" cy="748.2" r="5.7"/>
<circle cx="465.4" cy="704.3" r="4.0"/>
<circle cx="656.5" cy="743.5" r="4.0"/>
<circle cx="627.1" cy="534.0" r="3.5"/>
<circle cx="219.7" cy="532.2" r="4.2"/>
<circle cx="210.8" cy="525.3" r="3.6"/>
<circle cx="541.0" cy="570.1" r="4.7"/>
<circle cx="338.6" cy="730.4" r="3.7"/>
<circle cx="315.5" cy="779.2" r="5.0"/>
<circle cx="239.7" cy="616.1" r="3.0"/>
<circle cx="450.3" cy="523.8" r="3.4"/>
<circle cx="652.7" cy="783.5" r="3.4"/>
<circle cx="370.5" cy="773.3" r="3.3"/>
<circle cx="252.4" cy="526.9" r="3.3"/>
<circle cx="401.1" cy="746.6" r="3.1"/>
<circle cx="377.3" cy="721.6" r="3.5"/>
<circle cx="492.9" cy="523.9" r="3.6"/>
<circle cx="456.5" cy="749.0" r="4.1"/>
<circle cx="530.1" cy="533.4" r="3.2"/>
<circle cx="374.2" cy="618.6" r="3.1"/>
<circle cx="552.1" cy="530.6" r="3.1"/>
<circle cx="156.6" cy="730.4" r="3.1"/>
<circle cx="299.8" cy="524.1" r="4.4"/>
<circle cx="626.2" cy="723.4" r="3.1"/>
<circle cx="285.3" cy="757.7" r="3.5"/>
<circle cx="487.7" cy="757.6" r="3.0"/>
<circle cx="267.1" cy="768.3" r="3.9"/>
<circle cx="586.3" cy="560.6" r="4.1"/>
<circle cx="667.2" cy="612.5" r="3.4"/>
<circle cx="665.3" cy="522.2" r="3.0"/>
<circle cx="270.9" cy="747.4" r="3.4"/>
<circle cx="668.9" cy="772.0" r="3.1"/>
<circle cx="508.0" cy="524.1" r="3.1"/>
<circle cx="559.2" cy="583.7" r="3.0"/>
<circle cx="420.4" cy="740.7" r="3.4"/>
<circle cx="344.0" cy="601.6" r="4.0"/>
<circle cx="389.5" cy="533.8" r="3.8"/>
<circle cx="180.8" cy="533.8" r="3.3"/>
<circle cx="391.3" cy="749.7" r="4.1"/>
<circle cx="412.2" cy="545.9" r="3.0"/>
<circle cx="342.6" cy="604.2" r="3.5"/>
<circle cx="545.9" cy="787.2" r="3.3"/>
<circle cx="534.3" cy="534.6" r="3.3"/>
<circle cx="225.7" cy="546.0" r="3.8"/>
<circle cx="554.9" cy="524.2" r="3.2"/>
<circle cx="204.7" cy="536.8" r="3.0"/>
<circle cx="272.9" cy="798.7" r="3.2"/>
<circle cx="351.9" cy="562.3" r="3.0"/>
<circle cx="197.4" cy="687.7" r="3.6"/>
<circle cx="555.9" cy="524.2" r="3.5"/>
<circle cx="668.4" cy="757.5" r="3.5"/>
<circle cx="553.9" cy="745.3" r="3.0"/>
<circle cx="600.3" cy="524.5" r="3.2"/>
<circle cx="576.5" cy="731.9" r="4.2"/>
<circle cx="323.4" cy="566.0" r="3.6"/>
<circle cx="339.8" cy="733.2" r="3.1"/>
<circle cx="498.9" cy="752.0" r="3.2"/>
<circle cx="326.2" cy="780.8" r="3.0"/>
<circle cx="411.7" cy="725.8" r="3.3"/>
<circle cx="583.0" cy="764.7" r="3.0"/>
<circle cx="400.5" cy="601.2" r="3.3"/>
<circle cx="351.1" cy="691.9" r="4.3"/>
<circle cx="544.4" cy="744.9" r="3.5"/>
<circle cx="286.3" cy="528.1" r="3.6"/>
<circle cx="328.5" cy="524.6" r="3.4"/>
<circle cx="226.4" cy="542.3" r="3.0"/>
<circle cx="329.0" cy="772.2" r="3.0"/>
<circle cx="536.1" cy="730.8" r="3.0"/>
<circle cx="402.6" cy="533.8" r="3.4"/>
<circle cx="459.0" cy="741.7" r="3.8"/>
<circle cx="594.7" cy="738.6" r="3.5"/>
<circle cx="361.0" cy="758.2" r="3.1"/>
<circle cx="468.4" cy="548.8" r="3.7"/>
<circle cx="386.5" cy="533.6" r="4.2"/>
<circle cx="424.5" cy="753.5" r="3.3"/>
<circle cx="456.3" cy="524.3" r="4.4"/>
<circle cx="211.5" cy="565.7" r="3.3"/>
<circle cx="651.6" cy="524.4" r="3.2"/>
<circle cx="624.2" cy="528.4" r="4.3"/>
<circle cx="300.1" cy="715.0" r="3.7"/>
<circle cx="560.4" cy="531.0" r="3.5"/>
<circle cx="417.6" cy="523.2" r="4.2"/>
<circle cx="615.2" cy="647.0" r="3.1"/>
<circle cx="435.0" cy="534.0" r="3.3"/>
<circle cx="661.1" cy="524.9" r="4.0"/>
<circle cx="242.3" cy="659.5" r="3.5"/>
<circle cx="268.9" cy="524.6" r="3.9"/>
<circle cx="551.9" cy="731.8" r="3.2"/>
<circle cx="514.7" cy="532.7" r="4.0"/>
<circle cx="450.6" cy="782.7" r="3.6"/>
<circle cx="340.7" cy="732.1" r="3.0"/>
<circle cx="438.2" cy="615.1" r="3.7"/>
<circle cx="475.5" cy="537.8" r="3.3"/>
<circle cx="339.7" cy="533.8" r="3.2"/>
<circle cx="263.2" cy="534.5" r="3.4"/>
<circle cx="327.9" cy="523.3" r="3.2"/>
<circle cx="510.3" cy="761.2" r="3.6"/>
<circle cx="593.1" cy="745.8" r="3.1"/>
<circle cx="208.0" cy="553.5" r="3.6"/>
<circle cx="445.9" cy="551.5" r="3.3"/>
<circle cx="229.7" cy="539.4" r="3.3"/>
<circle cx="249.3" cy="524.1" r="4.7"/>
<circle cx="352.7" cy="776.4" r="3.0"/>
<circle cx="444.0" cy="743.9" r="3.0"/>
<circle cx="127.1" cy="638.3" r="3.7"/>
<circle cx="368.7" cy="524.4" r="5.1"/>
<circle cx="623.1" cy="734.8" r="3.1"/>
<circle cx="579.6" cy="523.8" r="3.2"/>
<circle cx="501.8" cy="744.8" r="3.1"/>
<circle cx="626.2" cy="532.4" r="3.0"/>
<circle cx="505.0" cy="571.2" r="3.1"/>
<circle cx="258.9" cy="763.3" r="3.0"/>
<circle cx="599.8" cy="601.0" r="3.2"/>
<circle cx="321.4" cy="535.2" r="5.0"/>
<circle cx="305.5" cy="524.9" r="3.4"/>
<circle cx="424.6" cy="524.5" r="3.1"/>
<circle cx="648.3" cy="534.3" r="4.6"/>
<circle cx="470.6" cy="535.1" r="3.2"/>
<circle cx="411.6" cy="524.1" r="4.5"/>
<circle cx="478.4" cy="524.5" r="3.4"/>
<circle cx="452.4" cy="760.7" r="3.1"/>
<circle cx="515.1" cy="751.8" r="3.1"/>
<circle cx="310.1" cy="534.0" r="3.6"/>
<circle cx="466.5" cy="524.5" r="3.6"/>
<circle cx="503.0" cy="760.4" r="3.0"/>
<circle cx="286.8" cy="524.1" r="3.0"/>
<circle cx="452.5" cy="523.7" r="3.9"/>
<circle cx="430.0" cy="613.7" r="3.2"/>
<circle cx="214.7" cy="719.1" r="3.6"/>
<circle cx="336.5" cy="748.6" r="3.7"/>
<circle cx="649.7" cy="626.3" r="3.1"/>
<circle cx="407.4" cy="524.5" r="3.3"/>
<circle cx="114.4" cy="533.8" r="3.5"/>
<circle cx="125.5" cy="771.5" r="3.2"/>
<circle cx="594.0" cy="659.3" r="3.0"/>
<circle cx="590.9" cy="770.9" r="3.4"/>
<circle cx="510.6" cy="528.5" r="3.7"/>
<circle cx="234.4" cy="659.5" r="3.0"/>
<circle cx="565.7" cy="534.5" r="4.1"/>
<circle cx="454.2" cy="535.3" r="4.0"/>
<circle cx="423.4" cy="745.8" r="3.6"/>
<circle cx="317.5" cy="582.2" r="3.3"/>
<circle cx="584.2" cy="719.4" r="3.4"/>
<circle cx="231.0" cy="524.4" r="3.2"/>
<circle cx="509.0" cy="692.4" r="3.4"/>
<circle cx="118.2" cy="732.1" r="3.8"/>
<circle cx="504.7" cy="641.4" r="4.2"/>
<circle cx="521.0" cy="535.7" r="4.7"/>
<circle cx="579.4" cy="733.9" r="3.2"/>
<circle cx="517.4" cy="514.1" r="3.2"/>
<circle cx="476.0" cy="525.2" r="3.4"/>
<circle cx="660.5" cy="751.1" r="3.6"/>
<circle cx="353.4" cy="766.9" r="3.0"/>
<circle cx="387.8" cy="758.3" r="3.0"/>
<circle cx="645.1" cy="762.3" r="3.7"/>
<circle cx="192.8" cy="734.6" r="4.3"/>
<circle cx="316.1" cy="529.7" r="3.6"/>
<circle cx="533.0" cy="559.3" r="6.3"/>
<circle cx="383.4" cy="717.3" r="3.1"/>
<circle cx="612.3" cy="630.3" r="3.8"/>
<circle cx="335.5" cy="754.2" r="3.2"/>
<circle cx="525.3" cy="731.4" r="3.4"/>
<circle cx="291.1" cy="524.3" r="3.0"/>
<circle cx="238.5" cy="749.5" r="4.1"/>
<circle cx="299.4" cy="708.1" r="3.8"/>
<circle cx="554.9" cy="763.4" r="3.0"/>
<circle cx="484.5" cy="560.2" r="3.9"/>
<circle cx="376.2" cy="747.0" r="3.9"/>
<circle cx="231.0" cy="554.0" r="3.2"/>
<circle cx="366.7" cy="770.2" r="3.1"/>
<circle cx="595.6" cy="590.9" r="3.5"/>
<circle cx="447.4" cy="584.2" r="4.3"/>
<circle cx="526.7" cy="757.3" r="3.1"/>
<circle cx="568.6" cy="636.5" r="3.8"/>
<circle cx="632.5" cy="772.4" r="3.2"/>
<circle cx="563.3" cy="756.0" r="3.1"/>
<circle cx="350.0" cy="556.0" r="4.9"/>
<circle cx="620.3" cy="524.1" r="4.7"/>
<circle cx="604.6" cy="735.9" r="3.3"/>
<circle cx="540.7" cy="611.8" r="3.0"/>
<circle cx="367.3" cy="563.4" r="3.1"/>
<circle cx="379.2" cy="741.7" r="3.7"/>
<circle cx="548.5" cy="524.1" r="3.1"/>
<circle cx="347.6" cy="747.0" r="3.3"/>
<circle cx="210.3" cy="527.5" r="4.7"/>
<circle cx="324.6" cy="580.4" r="3.9"/>
<circle cx="403.2" cy="737.3" r="3.4"/>
<circle cx="373.4" cy="616.5" r="3.3"/>
<circle cx="262.1" cy="741.2" r="3.8"/>
<circle cx="414.2" cy="769.7" r="3.5"/>
<circle cx="248.1" cy="753.3" r="3.1"/>
<circle cx="582.8" cy="757.2" r="3.6"/>
<circle cx="140.8" cy="534.2" r="4.3"/>
<circle cx="386.7" cy="559.4" r="3.2"/>
<circle cx="362.4" cy="758.7" r="3.8"/>
<circle cx="527.8" cy="742.2" r="3.5"/>
<circle cx="364.4" cy="593.6" r="3.7"/>
<circle cx="425.4" cy="566.6" r="3.8"/>
<circle cx="327.5" cy="534.5" r="3.3"/>
<circle cx="270.1" cy="755.0" r="3.2"/>
<circle cx="552.8" cy="535.0" r="3.0"/>
<circle cx="339.0" cy="539.8" r="3.6"/>
<circle cx="231.1" cy="523.9" r="3.3"/>
<circle cx="663.8" cy="525.3" r="3.5"/>
<circle cx="286.5" cy="670.0" r="3.4"/>
<circle cx="379.9" cy="533.1" r="3.1"/>
<circle cx="315.5" cy="533.3" r="3.5"/>
<circle cx="246.2" cy="534.9" r="3.1"/>
<circle cx="444.5" cy="749.6" r="4.6"/>
<circle cx="233.1" cy="540.2" r="3.6"/>
<circle cx="531.7" cy="534.4" r="3.1"/>
<circle cx="421.1" cy="754.8" r="3.3"/>
<circle cx="547.3" cy="559.5" r="3.2"/>
<circle cx="655.7" cy="533.4" r="3.0"/>
<circle cx="657.7" cy="557.6" r="3.6"/>
<circle cx="395.5" cy="764.5" r="3.0"/>
<circle cx="318.7" cy="774.4" r="3.5"/>
<circle cx="389.8" cy="528.8" r="3.7"/>
<circle cx="661.6" cy="534.6" r="3.0"/>
<circle cx="346.2" cy="750.6" r="3.7"/>
<circle cx="356.9" cy="534.0" r="3.4"/>
<circle cx="116.2" cy="533.7" r="3.2"/>
<circle cx="379.6" cy="735.8" r="3.8"/>
<circle cx="365.3" cy="756.6" r="6.6"/>
<circle cx="628.9" cy="576.1" r="3.2"/>
<circle cx="385.7" cy="618.8" r="3.1"/>
<circle cx="141.0" cy="772.1" r="3.4"/>
<circle cx="467.2" cy="759.1" r="4.7"/>
<circle cx="155.7" cy="571.0" r="3.3"/>
<circle cx="597.8" cy="534.1" r="3.1"/>
<circle cx="279.9" cy="726.9" r="3.1"/>
<circle cx="362.8" cy="527.0" r="3.5"/>
<circle cx="165.9" cy="617.2" r="4.1"/>
<circle cx="509.4" cy="524.4" r="3.4"/>
<circle cx="486.1" cy="688.2" r="4.9"/>
<circle cx="658.9" cy="758.2" r="4.2"/>
<circle cx="410.1" cy="730.5" r="3.3"/>
<circle cx="335.2" cy="534.4" r="3.3"/>
<circle cx="406.2" cy="534.3" r="3.3"/>
<circle cx="312.0" cy="536.5" r="4.5"/>
<circle cx="302.4" cy="577.3" r="3.6"/>
<circle cx="237.5" cy="528.9" r="4.1"/>
<circle cx="305.2" cy="518.4" r="3.0"/>
<circle cx="387.8" cy="533.6" r="3.2"/>
<circle cx="216.3" cy="762.9" r="3.4"/>
<circle cx="220.0" cy="784.3" r="3.5"/>
<circle cx="224.2" cy="551.0" r="3.0"/>
<circle cx="417.4" cy="523.7" r="3.6"/>
<circle cx="349.3" cy="531.3" r="4.2"/>
<circle cx="534.6" cy="534.1" r="3.4"/>
<circle cx="266.0" cy="755.9" r="3.1"/>
<circle cx="283.3" cy="746.5" r="3.5"/>
<circle cx="179.9" cy="522.9" r="3.4"/>
<circle cx="297.9" cy="718.2" r="3.1"/>
<circle cx="656.6" cy="524.7" r="3.0"/>
<circle cx="660.9" cy="738.1" r="3.3"/>
<circle cx="287.3" cy="523.4" r="3.2"/>
<circle cx="333.6" cy="598.2" r="5.2"/>
<circle cx="405.7" cy="726.7" r="3.0"/>
<circle cx="216.4" cy="771.1" r="3.6"/>
<circle cx="601.0" cy="730.5" r="3.0"/>
<circle cx="161.7" cy="803.1" r="3.3"/>
<circle cx="386.5" cy="745.3" r="3.3"/>
<circle cx="341.7" cy="737.3" r="3.7"/>
<circle cx="313.4" cy="613.8" r="3.3"/>
<circle cx="213.5" cy="737.1" r="4.3"/>
<circle cx="397.1" cy="597.1" r="3.0"/>
<circle cx="452.5" cy="533.6" r="4.3"/>
<circle cx="284.2" cy="594.7" r="3.6"/>
<circle cx="230.5" cy="727.5" r="3.8"/>
<circle cx="442.3" cy="746.7" r="3.8"/>
<circle cx="650.3" cy="524.0" r="3.2"/>
<circle cx="233.1" cy="539.7" r="3.0"/>
<circle cx="254.7" cy="768.2" r="3.1"/>
<circle cx="483.8" cy="532.8" r="4.7"/>
<circle cx="408.8" cy="523.7" r="4.6"/>
<circle cx="353.5" cy="712.2" r="3.0"/>
<circle cx="213.0" cy="611.1" r="3.1"/>
<circle cx="529.4" cy="756.8" r="3.4"/>
<circle cx="527.8" cy="554.4" r="3.0"/>
<circle cx="233.3" cy="541.6" r="3.5"/>
<circle cx="221.6" cy="732.8" r="3.6"/>
<circle cx="238.1" cy="534.7" r="3.5"/>
<circle cx="121.6" cy="771.7" r="3.2"/>
<circle cx="617.3" cy="568.4" r="3.0"/>
<circle cx="656.0" cy="533.9" r="4.1"/>
<circle cx="212.7" cy="524.0" r="3.9"/>
<circle cx="620.8" cy="752.4" r="3.5"/>
<circle cx="291.3" cy="671.5" r="3.8"/>
<circle cx="376.7" cy="523.7" r="4.5"/>
<circle cx="396.6" cy="732.9" r="3.4"/>
<circle cx="463.1" cy="535.2" r="3.1"/>
<circle cx="359.3" cy="667.4" r="3.5"/>
<circle cx="615.6" cy="726.0" r="3.2"/>
<circle cx="196.7" cy="730.1" r="3.3"/>
<circle cx="177.4" cy="646.4" r="4.3"/>
<circle cx="563.4" cy="543.6" r="3.2"/>
<circle cx="270.7" cy="532.4" r="3.7"/>
<circle cx="400.1" cy="770.8" r="3.0"/>
<circle cx="605.6" cy="721.6" r="3.4"/>
<circle cx="583.8" cy="705.3" r="3.4"/>
<circle cx="648.2" cy="764.8" r="3.0"/>
<circle cx="512.4" cy="523.5" r="4.1"/>
<circle cx="432.5" cy="524.3" r="3.5"/>
<circle cx="539.6" cy="745.2" r="5.2"/>
<circle cx="506.4" cy="549.8" r="3.4"/>
<circle cx="375.5" cy="554.8" r="3.3"/>
<circle cx="302.0" cy="759.9" r="4.6"/>
<circle cx="537.2" cy="711.7" r="3.4"/>
<circle cx="463.8" cy="753.2" r="3.5"/>
<circle cx="446.0" cy="771.4" r="3.2"/>
<circle cx="634.0" cy="530.0" r="3.1"/>
<circle cx="211.9" cy="763.8" r="3.0"/>
<circle cx="464.8" cy="544.3" r="3.3"/>
<circle cx="249.4" cy="779.7" r="4.6"/>
<circle cx="563.4" cy="534.7" r="4.1"/>
<circle cx="199.8" cy="769.5" r="3.8"/>
<circle cx="211.2" cy="761.5" r="3.3"/>
<circle cx="428.1" cy="783.2" r="4.0"/>
<circle cx="653.6" cy="525.5" r="3.2"/>
<circle cx="274.3" cy="558.7" r="3.7"/>
<circle cx="161.2" cy="747.1" r="3.1"/>
<circle cx="574.2" cy="735.0" r="3.6"/>
<circle cx="380.6" cy="755.5" r="4.1"/>
<circle cx="491.7" cy="773.6" r="3.0"/>
<circle cx="568.7" cy="534.6" r="3.0"/>
<circle cx="220.4" cy="536.6" r="3.2"/>
<circle cx="502.1" cy="616.2" r="3.1"/>
<circle cx="196.3" cy="769.2" r="3.1"/>
<circle cx="572.3" cy="747.0" r="3.0"/>
<circle cx="231.7" cy="533.8" r="3.2"/>
<circle cx="516.2" cy="524.0" r="3.2"/>
<circle cx="580.4" cy="534.9" r="4.5"/>
<circle cx="301.4" cy="523.5" r="3.1"/>
<circle cx="178.8" cy="533.7" r="4.4"/>
<circle cx="615.2" cy="524.8" r="3.3"/>
<circle cx="267.3" cy="533.7" r="3.5"/>
<circle cx="466.4" cy="523.5" r="3.1"/>
<circle cx="270.3" cy="756.3" r="3.3"/>
<circle cx="422.8" cy="534.2" r="3.4"/>
<circle cx="452.0" cy="534.3" r="3.1"/>
<circle cx="578.0" cy="774.5" r="3.1"/>
<circle cx="610.2" cy="751.4" r="3.4"/>
<circle cx="494.8" cy="536.5" r="3.1"/>
<circle cx="237.8" cy="745.3" r="4.1"/>
<circle cx="661.2" cy="523.7" r="3.9"/>
<circle cx="609.9" cy="767.5" r="3.2"/>
<circle cx="641.3" cy="731.2" r="3.5"/>
<circle cx="669.9" cy="638.2" r="3.6"/>
<circle cx="309.4" cy="564.4" r="3.4"/>
<circle cx="162.1" cy="606.7" r="3.4"/>
<circle cx="250.6" cy="533.5" r="4.0"/>
<circle cx="670.9" cy="761.8" r="3.2"/>
<circle cx="264.3" cy="771.1" r="3.4"/>
<circle cx="513.4" cy="738.5" r="3.1"/>
<circle cx="218.6" cy="524.6" r="4.2"/>
<circle cx="549.3" cy="761.5" r="3.3"/>
<circle cx="159.8" cy="772.6" r="3.5"/>
<circle cx="216.1" cy="586.5" r="3.0"/>
<circle cx="229.5" cy="534.6" r="3.0"/>
<circle cx="187.4" cy="730.2" r="3.2"/>
<circle cx="431.6" cy="732.1" r="3.4"/>
<circle cx="548.8" cy="714.5" r="4.8"/>
<circle cx="516.1" cy="524.5" r="3.2"/>
<circle cx="665.6" cy="637.6" r="3.3"/>
<circle cx="338.5" cy="525.7" r="3.9"/>
<circle cx="363.9" cy="753.2" r="3.1"/>
<circle cx="387.5" cy="730.3" r="3.1"/>
<circle cx="346.6" cy="782.4" r="3.2"/>
<circle cx="576.6" cy="738.1" r="3.5"/>
<circle cx="662.8" cy="739.2" r="3.0"/>
<circle cx="249.5" cy="729.5" r="3.5"/>
<circle cx="221.7" cy="524.1" r="3.1"/>
<circle cx="391.1" cy="782.3" r="3.1"/>
<circle cx="374.2" cy="612.6" r="3.0"/>
<circle cx="381.7" cy="594.6" r="3.0"/>
<circle cx="559.6" cy="783.9" r="3.2"/>
<circle cx="348.4" cy="547.8" r="3.1"/>
<circle cx="577.4" cy="685.4" r="3.1"/>
<circle cx="296.9" cy="724.0" r="4.3"/>
<circle cx="597.2" cy="743.6" r="3.1"/>
<circle cx="364.0" cy="524.5" r="4.4"/>
<circle cx="245.5" cy="527.3" r="3.0"/>
<circle cx="633.7" cy="601.9" r="4.6"/>
<circle cx="487.5" cy="756.3" r="3.7"/>
<circle cx="249.6" cy="534.9" r="3.2"/>
<circle cx="657.3" cy="746.8" r="4.5"/>
<circle cx="468.2" cy="784.3" r="3.4"/>
<circle cx="300.6" cy="725.8" r="3.1"/>
<circle cx="492.6" cy="583.8" r="3.7"/>
<circle cx="456.7" cy="524.6" r="3.6"/>
<circle cx="229.0" cy="668.1" r="4.7"/>
<circle cx="570.3" cy="527.3" r="3.2"/>
<circle cx="414.2" cy="614.6" r="3.4"/>
<circle cx="290.0" cy="717.0" r="3.1"/>
<circle cx="431.9" cy="534.7" r="4.6"/>
<circle cx="576.5" cy="749.3" r="3.4"/>
<circle cx="295.9" cy="617.9" r="4.0"/>
<circle cx="123.4" cy="730.1" r="3.3"/>
<circle cx="528.9" cy="736.2" r="3.5"/>
<circle cx="671.4" cy="533.2" r="3.0"/>
<circle cx="412.9" cy="523.7" r="3.0"/>
<circle cx="213.8" cy="534.3" r="3.4"/>
<circle cx="315.8" cy="524.0" r="3.0"/>
<circle cx="557.8" cy="533.8" r="3.2"/>
<circle cx="559.0" cy="742.5" r="4.2"/>
<circle cx="493.0" cy="742.1" r="3.4"/>
<circle cx="583.7" cy="535.9" r="4.1"/>
<circle cx="389.6" cy="523.7" r="3.1"/>
<circle cx="619.6" cy="629.0" r="3.0"/>
<circle cx="613.1" cy="534.6" r="5.6"/>
<circle cx="447.0" cy="757.7" r="3.1"/>
<circle cx="594.2" cy="754.6" r="4.0"/>
<circle cx="563.4" cy="522.3" r="5.0"/>
<circle cx="339.4" cy="524.6" r="4.4"/>
<circle cx="499.6" cy="770.1" r="3.7"/>
<circle cx="158.8" cy="711.6" r="3.5"/>
<circle cx="134.5" cy="805.2" r="3.7"/>
<circle cx="419.6" cy="534.4" r="3.0"/>
<circle cx="667.2" cy="534.0" r="3.0"/>
<circle cx="541.6" cy="522.4" r="3.0"/>
<circle cx="633.5" cy="766.1" r="4.0"/>
<circle cx="510.1" cy="659.0" r="4.0"/>
<circle cx="379.2" cy="782.9" r="4.0"/>
<circle cx="668.6" cy="635.5" r="3.8"/>
<circle cx="241.7" cy="588.8" r="3.7"/>
<circle cx="411.6" cy="762.3" r="3.4"/>
<circle cx="558.9" cy="774.2" r="3.0"/>
<circle cx="439.7" cy="642.6" r="3.9"/>
<circle cx="560.9" cy="591.7" r="4.3"/>
<circle cx="475.7" cy="528.8" r="4.0"/>
<circle cx="582.0" cy="760.5" r="3.4"/>
<circle cx="219.1" cy="649.1" r="3.0"/>
<circle cx="238.6" cy="566.2" r="3.6"/>
<circle cx="428.7" cy="748.4" r="3.8"/>
<circle cx="469.6" cy="523.2" r="3.6"/>
<circle cx="422.3" cy="743.3" r="3.3"/>
<circle cx="193.5" cy="772.4" r="3.3"/>
<circle cx="385.2" cy="533.6" r="3.9"/>
<circle cx="632.4" cy="523.4" r="3.8"/>
<circle cx="326.3" cy="582.6" r="3.0"/>
<circle cx="277.5" cy="776.6" r="3.0"/>
<circle cx="489.0" cy="636.3" r="3.0"/>
<circle cx="364.7" cy="768.5" r="3.3"/>
<circle cx="212.9" cy="542.7" r="3.9"/>
<circle cx="570.5" cy="523.8" r="3.4"/>
<circle cx="612.2" cy="731.8" r="3.4"/>
<circle cx="523.8" cy="581.1" r="4.6"/>
<circle cx="670.2" cy="635.2" r="3.1"/>
<circle cx="253.5" cy="759.3" r="3.2"/>
<circle cx="542.4" cy="758.4" r="3.1"/>
<circle cx="495.8" cy="524.1" r="4.5"/>
<circle cx="387.7" cy="525.7" r="4.1"/>
<circle cx="193.0" cy="773.3" r="3.7"/>
<circle cx="552.2" cy="534.2" r="3.7"/>
<circle cx="551.8" cy="736.7" r="3.0"/>
<circle cx="427.4" cy="589.5" r="3.1"/>
<circle cx="347.7" cy="764.8" r="3.0"/>
<circle cx="630.3" cy="576.4" r="3.7"/>
<circle cx="421.5" cy="722.3" r="4.4"/>
<circle cx="641.8" cy="593.1" r="3.0"/>
<circle cx="644.4" cy="526.7" r="3.1"/>
<circle cx="456.4" cy="726.0" r="3.6"/>
<circle cx="449.6" cy="621.5" r="3.1"/>
<circle cx="520.5" cy="523.6" r="3.2"/>
<circle cx="406.6" cy="760.2" r="3.0"/>
<circle cx="250.0" cy="522.5" r="3.7"/>
<circle cx="498.0" cy="524.3" r="5.4"/>
<circle cx="230.2" cy="675.4" r="3.1"/>
<circle cx="426.3" cy="566.6" r="3.7"/>
<circle cx="353.2" cy="524.6" r="3.3"/>
<circle cx="362.3" cy="725.9" r="3.4"/>
<circle cx="487.4" cy="533.3" r="3.4"/>
<circle cx="447.7" cy="560.1" r="3.7"/>
<circle cx="216.5" cy="751.6" r="3.2"/>
<circle cx="454.8" cy="534.0" r="3.1"/>
<circle cx="239.2" cy="534.4" r="4.0"/>
<circle cx="392.1" cy="529.0" r="3.0"/>
<circle cx="345.8" cy="538.8" r="4.4"/>
<circle cx="329.1" cy="746.0" r="6.0"/>
<circle cx="334.2" cy="750.9" r="3.6"/>
<circle cx="187.9" cy="760.3" r="3.4"/>
<circle cx="377.6" cy="609.0" r="3.5"/>
<circle cx="391.2" cy="560.6" r="3.1"/>
<circle cx="147.6" cy="772.0" r="3.6"/>
<circle cx="262.3" cy="733.8" r="4.2"/>
<circle cx="149.0" cy="771.2" r="4.4"/>
<circle cx="563.2" cy="800.8" r="3.0"/>
<circle cx="265.1" cy="532.8" r="3.8"/>
<circle cx="289.1" cy="640.5" r="3.6"/>
<circle cx="414.1" cy="535.2" r="4.2"/>
<circle cx="641.3" cy="749.9" r="3.5"/>
<circle cx="420.7" cy="747.8" r="3.7"/>
<circle cx="640.9" cy="733.4" r="3.1"/>
<circle cx="268.1" cy="534.7" r="3.4"/>
<circle cx="297.3" cy="534.1" r="3.3"/>
<circle cx="575.1" cy="745.2" r="3.8"/>
<circle cx="575.5" cy="567.6" r="3.2"/>
<circle cx="398.0" cy="743.5" r="3.8"/>
<circle cx="243.1" cy="534.4" r="3.6"/>
<circle cx="451.9" cy="523.8" r="3.7"/>
<circle cx="381.6" cy="524.2" r="3.3"/>
<circle cx="622.6" cy="751.2" r="3.2"/>
<circle cx="619.8" cy="570.8" r="3.2"/>
<circle cx="364.9" cy="620.2" r="3.3"/>
<circle cx="260.9" cy="744.2" r="3.5"/>
<circle cx="504.8" cy="533.6" r="3.9"/>
<circle cx="417.1" cy="523.8" r="4.8"/>
<circle cx="485.6" cy="638.8" r="3.2"/>
<circle cx="251.6" cy="532.8" r="3.0"/>
<circle cx="652.0" cy="773.0" r="3.6"/>
<circle cx="446.7" cy="603.5" r="3.0"/>
<circle cx="640.4" cy="524.5" r="3.3"/>
<circle cx="574.0" cy="630.3" r="3.5"/>
<circle cx="273.9" cy="623.9" r="3.3"/>
<circle cx="199.7" cy="744.1" r="3.4"/>
<circle cx="231.2" cy="524.1" r="3.0"/>
<circle cx="563.3" cy="535.1" r="3.5"/>
<circle cx="308.9" cy="524.8" r="3.4"/>
<circle cx="507.3" cy="534.2" r="3.6"/>
<circle cx="295.1" cy="715.7" r="3.6"/>
<circle cx="314.4" cy="533.8" r="3.0"/>
<circle cx="120.5" cy="608.0" r="3.1"/>
<circle cx="648.6" cy="524.4" r="4.4"/>
<circle cx="327.3" cy="522.9" r="3.8"/>
<circle cx="265.9" cy="742.8" r="3.5"/>
<circle cx="444.6" cy="534.6" r="3.5"/>
<circle cx="358.0" cy="524.1" r="3.3"/>
<circle cx="363.4" cy="617.2" r="3.5"/>
<circle cx="548.9" cy="781.7" r="3.8"/>
<circle cx="327.9" cy="520.6" r="4.4"/>
<circle cx="539.0" cy="747.1" r="3.3"/>
<circle cx="239.4" cy="613.3" r="3.0"/>
<circle cx="279.7" cy="523.9" r="5.7"/>
<circle cx="555.6" cy="524.1" r="4.0"/>
<circle cx="413.5" cy="757.8" r="3.1"/>
<circle cx="394.9" cy="647.3" r="3.2"/>
<circle cx="496.3" cy="748.0" r="3.0"/>
<circle cx="344.7" cy="749.0" r="3.0"/>
<circle cx="244.6" cy="524.8" r="3.1"/>
<circle cx="437.7" cy="529.3" r="3.7"/>
<circle cx="387.0" cy="534.8" r="4.3"/>
<circle cx="174.0" cy="767.7" r="4.0"/>
<circle cx="230.2" cy="724.7" r="3.2"/>
<circle cx="641.0" cy="738.5" r="3.3"/>
<circle cx="639.5" cy="535.6" r="3.3"/>
<circle cx="430.2" cy="524.0" r="3.1"/>
<circle cx="615.1" cy="596.7" r="3.4"/>
<circle cx="635.4" cy="526.0" r="3.1"/>
<circle cx="275.0" cy="552.4" r="3.7"/>
<circle cx="607.3" cy="736.9" r="3.9"/>
<circle cx="395.3" cy="525.9" r="3.6"/>
<circle cx="380.6" cy="524.0" r="3.3"/>
<circle cx="297.2" cy="699.9" r="3.9"/>
<circle cx="309.4" cy="779.2" r="3.5"/>
<circle cx="279.5" cy="728.4" r="4.5"/>
<circle cx="300.9" cy="583.7" r="3.4"/>
<circle cx="613.9" cy="523.8" r="3.3"/>
<circle cx="425.1" cy="749.4" r="3.3"/>
<circle cx="462.5" cy="524.1" r="3.3"/>
<circle cx="667.7" cy="752.9" r="3.0"/>
<circle cx="270.7" cy="603.8" r="3.3"/>
<circle cx="408.7" cy="534.9" r="3.1"/>
<circle cx="548.6" cy="533.8" r="3.7"/>
<circle cx="240.5" cy="728.4" r="3.0"/>
<circle cx="312.8" cy="591.6" r="4.0"/>
<circle cx="648.4" cy="777.3" r="4.6"/>
<circle cx="502.9" cy="729.4" r="3.6"/>
<circle cx="557.2" cy="532.5" r="3.0"/>
<circle cx="366.3" cy="544.0" r="3.2"/>
<circle cx="227.8" cy="750.1" r="3.7"/>
<circle cx="462.0" cy="781.8" r="3.0"/>
<circle cx="339.2" cy="534.9" r="4.2"/>
<circle cx="643.0" cy="657.3" r="3.9"/>
<circle cx="333.5" cy="781.2" r="3.8"/>
<circle cx="183.6" cy="607.0" r="3.0"/>
<circle cx="541.2" cy="770.7" r="3.0"/>
<circle cx="291.0" cy="532.6" r="3.2"/>
<circle cx="276.4" cy="762.1" r="3.5"/>
<circle cx="535.0" cy="531.5" r="3.1"/>
<circle cx="337.6" cy="524.3" r="4.0"/>
<circle cx="228.6" cy="779.4" r="3.6"/>
<circle cx="531.1" cy="552.3" r="3.8"/>
<circle cx="396.2" cy="533.9" r="3.7"/>
<circle cx="384.0" cy="744.3" r="3.5"/>
<circle cx="541.3" cy="524.5" r="3.0"/>
<circle cx="127.9" cy="533.3" r="3.7"/>
<circle cx="555.5" cy="733.1" r="3.8"/>
<circle cx="193.4" cy="729.8" r="3.2"/>
<circle cx="209.4" cy="725.6" r="5.6"/>
<circle cx="328.6" cy="745.8" r="3.4"/>
<circle cx="360.5" cy="745.8" r="3.0"/>
<circle cx="216.9" cy="534.5" r="3.7"/>
<circle cx="446.9" cy="770.8" r="3.0"/>
<circle cx="411.7" cy="734.7" r="3.2"/>
<circle cx="416.2" cy="601.8" r="3.2"/>
<circle cx="405.3" cy="535.0" r="3.4"/>
<circle cx="287.1" cy="733.9" r="5.0"/>
<circle cx="592.0" cy="569.1" r="4.0"/>
<circle cx="432.7" cy="534.5" r="3.2"/>
<circle cx="665.8" cy="776.4" r="3.1"/>
<circle cx="449.3" cy="533.7" r="3.5"/>
<circle cx="372.6" cy="530.7" r="5.7"/>
<circle cx="433.5" cy="654.2" r="3.5"/>
<circle cx="373.6" cy="737.0" r="3.0"/>
<circle cx="486.2" cy="736.9" r="4.0"/>
<circle cx="208.4" cy="523.5" r="4.5"/>
<circle cx="165.7" cy="777.3" r="3.1"/>
<circle cx="277.7" cy="716.3" r="3.1"/>
<circle cx="556.8" cy="534.8" r="4.0"/>
<circle cx="214.7" cy="775.9" r="3.8"/>
<circle cx="634.4" cy="750.1" r="4.9"/>
<circle cx="306.3" cy="533.9" r="4.1"/>
<circle cx="233.7" cy="534.0" r="4.7"/>
<circle cx="552.8" cy="744.3" r="3.1"/>
<circle cx="477.5" cy="759.5" r="3.3"/>
<circle cx="656.6" cy="524.2" r="3.9"/>
<circle cx="290.4" cy="736.2" r="3.5"/>
<circle cx="287.6" cy="612.9" r="3.1"/>
<circle cx="316.8" cy="598.5" r="4.1"/>
<circle cx="544.7" cy="533.8" r="4.1"/>
<circle cx="656.2" cy="523.3" r="3.1"/>
<circle cx="360.5" cy="579.6" r="4.2"/>
<circle cx="439.7" cy="745.5" r="3.6"/>
<circle cx="580.9" cy="723.0" r="5.3"/>
<circle cx="530.7" cy="804.6" r="3.3"/>
<circle cx="605.4" cy="735.2" r="4.1"/>
<circle cx="539.7" cy="572.9" r="3.4"/>
<circle cx="170.6" cy="547.7" r="3.2"/>
<circle cx="641.4" cy="533.0" r="3.9"/>
<circle cx="274.5" cy="524.4" r="4.4"/>
<circle cx="519.0" cy="536.9" r="3.5"/>
<circle cx="513.8" cy="523.8" r="3.4"/>
<circle cx="362.4" cy="522.3" r="3.7"/>
<circle cx="511.8" cy="733.3" r="3.9"/>
<circle cx="588.1" cy="524.2" r="3.3"/>
<circle cx="151.4" cy="729.9" r="3.1"/>
<circle cx="286.6" cy="648.8" r="3.0"/>
<circle cx="566.8" cy="534.1" r="3.8"/>
<circle cx="612.9" cy="641.4" r="3.5"/>
<circle cx="336.2" cy="736.7" r="3.1"/>
<circle cx="641.4" cy="658.1" r="4.8"/>
<circle cx="513.8" cy="629.6" r="3.5"/>
<circle cx="179.9" cy="790.0" r="3.0"/>
<circle cx="212.4" cy="533.9" r="3.6"/>
<circle cx="482.0" cy="752.3" r="6.7"/>
<circle cx="614.4" cy="631.7" r="4.4"/>
<circle cx="612.0" cy="533.0" r="3.6"/>
<circle cx="290.7" cy="678.8" r="3.8"/>
<circle cx="307.8" cy="524.0" r="3.2"/>
<circle cx="520.7" cy="535.3" r="3.3"/>
<circle cx="641.9" cy="534.2" r="3.9"/>
<circle cx="292.3" cy="712.2" r="4.1"/>
<circle cx="259.8" cy="579.1" r="4.2"/>
<circle cx="220.6" cy="533.6" r="3.2"/>
<circle cx="308.6" cy="749.7" r="4.8"/>
<circle cx="447.2" cy="774.5" r="3.2"/>
<circle cx="306.0" cy="729.0" r="3.1"/>
<circle cx="568.0" cy="777.1" r="3.6"/>
<circle cx="139.9" cy="622.4" r="3.5"/>
<circle cx="449.9" cy="534.2" r="3.8"/>
<circle cx="605.9" cy="531.6" r="4.4"/>
<circle cx="556.1" cy="767.9" r="3.3"/>
<circle cx="235.4" cy="753.0" r="3.5"/>
<circle cx="128.2" cy="523.0" r="4.1"/>
<circle cx="348.5" cy="567.2" r="3.1"/>
<circle cx="187.2" cy="739.4" r="3.1"/>
<circle cx="389.0" cy="523.8" r="3.8"/>
<circle cx="303.7" cy="731.5" r="3.3"/>
<circle cx="182.7" cy="534.0" r="3.2"/>
<circle cx="617.1" cy="522.7" r="3.2"/>
<circle cx="405.7" cy="528.0" r="3.0"/>
<circle cx="271.9" cy="677.6" r="3.2"/>
<circle cx="647.8" cy="614.7" r="5.4"/>
<circle cx="587.1" cy="533.3" r="4.0"/>
<circle cx="447.0" cy="523.4" r="5.8"/>
<circle cx="452.3" cy="741.3" r="3.4"/>
<circle cx="464.9" cy="738.3" r="3.4"/>
<circle cx="609.5" cy="755.9" r="4.4"/>
<circle cx="297.2" cy="534.2" r="4.9"/>
<circle cx="327.1" cy="724.5" r="3.1"/>
<circle cx="349.5" cy="695.7" r="3.0"/>
<circle cx="215.5" cy="533.1" r="4.0"/>
<circle cx="551.8" cy="529.7" r="3.9"/>
<circle cx="599.4" cy="534.3" r="3.2"/>
<circle cx="373.1" cy="535.2" r="3.5"/>
<circle cx="643.4" cy="773.0" r="3.6"/>
<circle cx="217.5" cy="524.0" r="3.5"/>
<circle cx="623.7" cy="782.5" r="3.2"/>
<circle cx="227.7" cy="598.3" r="4.4"/>
<circle cx="502.8" cy="549.2" r="3.0"/>
<circle cx="395.4" cy="577.1" r="3.0"/>
<circle cx="536.6" cy="580.3" r="3.8"/>
<circle cx="374.8" cy="524.4" r="3.0"/>
<circle cx="390.1" cy="529.2" r="3.0"/>
<circle cx="494.0" cy="537.5" r="3.1"/>
<circle cx="637.3" cy="735.7" r="3.4"/>
<circle cx="452.8" cy="751.3" r="3.5"/>
<circle cx="239.9" cy="542.1" r="4.1"/>
<circle cx="311.1" cy="543.8" r="3.6"/>
<circle cx="252.2" cy="528.9" r="3.5"/>
<circle cx="448.0" cy="769.1" r="3.4"/>
<circle cx="332.8" cy="533.7" r="3.0"/>
<circle cx="528.0" cy="744.1" r="3.6"/>
<circle cx="447.2" cy="787.9" r="3.2"/>
<circle cx="340.8" cy="586.6" r="4.0"/>
<circle cx="291.1" cy="524.1" r="3.1"/>
<circle cx="564.7" cy="535.7" r="3.0"/>
<circle cx="291.5" cy="669.3" r="3.1"/>
<circle cx="278.0" cy="713.2" r="3.7"/>
<circle cx="227.0" cy="532.6" r="3.2"/>
<circle cx="289.5" cy="683.3" r="4.5"/>
<circle cx="234.8" cy="526.7" r="4.0"/>
<circle cx="231.9" cy="635.4" r="3.3"/>
<circle cx="371.1" cy="547.9" r="3.4"/>
<circle cx="518.4" cy="534.8" r="3.4"/>
<circle cx="285.7" cy="597.7" r="3.5"/>
<circle cx="508.3" cy="742.8" r="3.3"/>
<circle cx="585.8" cy="775.1" r="3.4"/>
<circle cx="360.1" cy="538.3" r="3.3"/>
<circle cx="188.3" cy="533.7" r="3.1"/>
<circle cx="566.1" cy="524.3" r="3.1"/>
<circle cx="326.6" cy="764.9" r="3.0"/>
<circle cx="593.9" cy="534.3" r="3.7"/>
<circle cx="662.8" cy="534.6" r="6.8"/>
<circle cx="408.0" cy="760.9" r="4.2"/>
<circle cx="358.2" cy="600.7" r="3.3"/>
<circle cx="292.8" cy="523.5" r="4.6"/>
<circle cx="554.5" cy="603.2" r="3.5"/>
<circle cx="294.9" cy="544.6" r="4.4"/>
<circle cx="158.4" cy="772.0" r="3.2"/>
<circle cx="599.3" cy="751.7" r="4.9"/>
<circle cx="525.6" cy="742.4" r="4.5"/>
<circle cx="499.5" cy="727.7" r="3.1"/>
<circle cx="613.0" cy="679.4" r="5.4"/>
<circle cx="255.9" cy="764.8" r="3.2"/>
<circle cx="379.6" cy="775.5" r="4.3"/>
<circle cx="131.5" cy="605.6" r="3.1"/>
<circle cx="501.4" cy="534.5" r="4.1"/>
<circle cx="461.5" cy="534.9" r="3.9"/>
<circle cx="520.8" cy="534.3" r="3.0"/>
<circle cx="198.5" cy="534.0" r="3.5"/>
<circle cx="175.2" cy="550.0" r="3.0"/>
<circle cx="211.2" cy="534.1" r="3.7"/>
<circle cx="468.0" cy="755.5" r="3.4"/>
<circle cx="227.5" cy="775.6" r="3.0"/>
<circle cx="172.8" cy="621.3" r="3.2"/>
<circle cx="606.1" cy="766.8" r="3.3"/>
<circle cx="418.4" cy="791.4" r="3.1"/>
<circle cx="634.9" cy="540.4" r="3.0"/>
<circle cx="614.3" cy="587.7" r="3.0"/>
<circle cx="435.4" cy="733.4" r="3.3"/>
<circle cx="537.4" cy="534.8" r="4.6"/>
<circle cx="565.7" cy="627.7" r="3.5"/>
<circle cx="395.4" cy="724.2" r="3.0"/>
<circle cx="560.1" cy="721.1" r="3.2"/>
<circle cx="613.3" cy="524.8" r="4.0"/>
<circle cx="474.8" cy="592.3" r="3.3"/>
<circle cx="161.2" cy="776.3" r="3.0"/>
<circle cx="531.6" cy="533.8" r="3.0"/>
<circle cx="208.4" cy="524.3" r="3.0"/>
<circle cx="382.1" cy="559.6" r="3.7"/>
<circle cx="566.2" cy="748.0" r="3.1"/>
<circle cx="580.5" cy="762.6" r="3.8"/>
<circle cx="625.5" cy="776.3" r="3.0"/>
<circle cx="241.0" cy="525.1" r="3.1"/>
<circle cx="668.4" cy="528.4" r="3.1"/>
<circle cx="222.0" cy="534.8" r="4.1"/>
<circle cx="413.2" cy="523.5" r="3.1"/>
<circle cx="579.3" cy="738.4" r="3.0"/>
<circle cx="538.7" cy="770.4" r="3.1"/>
<circle cx="663.7" cy="531.8" r="3.0"/>
<circle cx="336.7" cy="743.5" r="3.8"/>
<circle cx="315.8" cy="630.7" r="3.6"/>
<circle cx="337.9" cy="718.9" r="3.0"/>
<circle cx="646.5" cy="766.7" r="3.6"/>
<circle cx="179.1" cy="618.5" r="4.1"/>
<circle cx="586.8" cy="523.8" r="4.0"/>
<circle cx="202.8" cy="783.4" r="3.4"/>
<circle cx="413.0" cy="523.9" r="4.2"/>
<circle cx="489.2" cy="541.7" r="3.0"/>
<circle cx="383.5" cy="534.2" r="3.0"/>
<circle cx="612.4" cy="733.7" r="4.9"/>
<circle cx="473.6" cy="744.1" r="3.3"/>
<circle cx="319.7" cy="716.0" r="3.1"/>
<circle cx="196.7" cy="687.7" r="3.8"/>
<circle cx="513.6" cy="551.7" r="4.6"/>
<circle cx="371.2" cy="727.8" r="3.4"/>
<circle cx="466.6" cy="765.7" r="3.3"/>
<circle cx="243.9" cy="534.1" r="3.2"/>
<circle cx="489.7" cy="553.9" r="3.8"/>
<circle cx="332.3" cy="524.2" r="3.0"/>
<circle cx="251.8" cy="627.6" r="3.3"/>
<circle cx="319.9" cy="774.7" r="3.4"/>
<circle cx="548.7" cy="523.0" r="4.4"/>
<circle cx="368.0" cy="524.4" r="3.7"/>
<circle cx="151.2" cy="730.0" r="3.4"/>
<circle cx="409.2" cy="524.3" r="3.1"/>
<circle cx="626.2" cy="535.2" r="3.1"/>
<circle cx="212.8" cy="523.8" r="3.4"/>
<circle cx="128.4" cy="523.1" r="3.4"/>
<circle cx="422.0" cy="524.9" r="3.2"/>
<circle cx="523.2" cy="726.7" r="3.0"/>
<circle cx="355.7" cy="734.6" r="3.7"/>
<circle cx="219.6" cy="534.9" r="5.5"/>
<circle cx="190.8" cy="688.3" r="3.8"/>
<circle cx="601.7" cy="757.2" r="4.7"/>
<circle cx="179.3" cy="645.7" r="3.7"/>
<circle cx="591.3" cy="737.1" r="3.0"/>
<circle cx="158.5" cy="533.2" r="3.2"/>
<circle cx="665.1" cy="730.7" r="4.1"/>
<circle cx="267.0" cy="767.3" r="3.6"/>
<circle cx="421.5" cy="533.5" r="3.2"/>
<circle cx="483.6" cy="524.2" r="3.1"/>
<circle cx="125.1" cy="796.4" r="3.5"/>
<circle cx="448.9" cy="571.5" r="3.6"/>
<circle cx="277.5" cy="657.4" r="3.1"/>
<circle cx="299.3" cy="743.7" r="4.0"/>
<circle cx="665.1" cy="534.8" r="3.6"/>
<circle cx="174.2" cy="755.2" r="3.6"/>
<circle cx="535.6" cy="743.9" r="3.6"/>
<circle cx="361.6" cy="535.4" r="3.4"/>
<circle cx="413.0" cy="528.4" r="3.5"/>
<circle cx="560.6" cy="724.3" r="3.3"/>
<circle cx="115.3" cy="730.3" r="3.7"/>
<circle cx="499.7" cy="757.9" r="3.3"/>
<circle cx="566.6" cy="706.4" r="3.0"/>
<circle cx="232.8" cy="562.2" r="4.1"/>
<circle cx="238.9" cy="640.0" r="3.1"/>
<circle cx="340.1" cy="534.7" r="3.4"/>
<circle cx="436.8" cy="557.6" r="3.0"/>
<circle cx="292.4" cy="534.9" r="3.0"/>
<circle cx="277.1" cy="534.0" r="4.5"/>
<circle cx="626.0" cy="533.9" r="3.3"/>
<circle cx="388.9" cy="731.4" r="3.1"/>
<circle cx="495.3" cy="523.3" r="4.4"/>
<circle cx="428.3" cy="524.0" r="3.4"/>
<circle cx="490.4" cy="556.0" r="3.3"/>
<circle cx="452.0" cy="523.4" r="3.3"/>
<circle cx="250.7" cy="529.9" r="3.4"/>
<circle cx="410.0" cy="524.6" r="4.1"/>
<circle cx="473.7" cy="531.6" r="4.0"/>
<circle cx="451.8" cy="579.5" r="3.0"/>
<circle cx="349.0" cy="727.0" r="3.0"/>
<circle cx="397.7" cy="744.7" r="3.3"/>
<circle cx="427.0" cy="754.0" r="3.0"/>
<circle cx="417.4" cy="580.5" r="3.9"/>
<circle cx="585.1" cy="590.9" r="3.1"/>
<circle cx="219.7" cy="768.3" r="3.4"/>
<circle cx="642.3" cy="671.7" r="3.1"/>
<circle cx="419.7" cy="603.1" r="3.7"/>
<circle cx="372.2" cy="533.4" r="4.8"/>
<circle cx="158.4" cy="649.4" r="3.4"/>
<circle cx="610.2" cy="743.3" r="3.5"/>
<circle cx="297.4" cy="530.4" r="3.5"/>
<circle cx="403.8" cy="535.3" r="4.8"/>
<circle cx="304.4" cy="745.0" r="3.3"/>
<circle cx="128.6" cy="801.6" r="3.1"/>
<circle cx="408.1" cy="580.2" r="3.3"/>
<circle cx="502.4" cy="532.8" r="3.4"/>
<circle cx="604.1" cy="735.4" r="3.0"/>
<circle cx="273.6" cy="734.1" r="3.5"/>
<circle cx="378.6" cy="645.5" r="3.3"/>
<circle cx="565.8" cy="760.2" r="3.8"/>
<circle cx="315.0" cy="565.2" r="4.9"/>
<circle cx="299.5" cy="525.2" r="3.4"/>
<circle cx="386.9" cy="561.7" r="3.3"/>
<circle cx="624.8" cy="798.0" r="3.6"/>
<circle cx="508.4" cy="545.2" r="3.0"/>
<circle cx="310.4" cy="738.9" r="3.6"/>
<circle cx="173.1" cy="619.9" r="3.2"/>
<circle cx="334.5" cy="533.2" r="3.0"/>
<circle cx="409.7" cy="739.1" r="3.5"/>
<circle cx="483.2" cy="523.0" r="3.0"/>
<circle cx="489.0" cy="526.3" r="3.0"/>
<circle cx="558.5" cy="523.6" r="3.1"/>
<circle cx="223.4" cy="561.6" r="3.0"/>
<circle cx="600.6" cy="743.8" r="3.1"/>
<circle cx="212.6" cy="542.6" r="3.1"/>
<circle cx="599.1" cy="542.3" r="3.2"/>
<circle cx="639.4" cy="535.6" r="3.8"/>
<circle cx="393.7" cy="756.7" r="3.2"/>
<circle cx="146.0" cy="649.0" r="3.1"/>
<circle cx="356.8" cy="732.0" r="3.2"/>
<circle cx="490.8" cy="533.9" r="3.3"/>
<circle cx="345.9" cy="689.6" r="3.0"/>
<circle cx="254.4" cy="534.5" r="3.7"/>
<circle cx="521.3" cy="722.7" r="4.5"/>
<circle cx="379.7" cy="524.2" r="3.1"/>
<circle cx="265.6" cy="593.1" r="3.4"/>
<circle cx="250.3" cy="628.0" r="3.9"/>
<circle cx="592.2" cy="777.2" r="3.1"/>
<circle cx="361.3" cy="544.3" r="3.3"/>
<circle cx="399.4" cy="750.7" r="3.2"/>
<circle cx="475.8" cy="735.8" r="3.4"/>
<circle cx="513.6" cy="754.4" r="5.5"/>
<circle cx="251.9" cy="598.9" r="3.3"/>
<circle cx="340.8" cy="534.5" r="3.7"/>
<circle cx="385.4" cy="763.6" r="3.3"/>
<circle cx="361.7" cy="534.5" r="3.0"/>
<circle cx="492.1" cy="534.3" r="3.4"/>
<circle cx="250.5" cy="538.6" r="3.4"/>
<circle cx="494.6" cy="534.8" r="3.4"/>
<circle cx="343.4" cy="565.9" r="3.0"/>
<circle cx="400.9" cy="739.6" r="3.0"/>
<circle cx="134.2" cy="747.0" r="4.5"/>
<circle cx="402.1" cy="693.5" r="4.6"/>
<circle cx="461.4" cy="560.1" r="3.2"/>
<circle cx="389.9" cy="579.0" r="3.1"/>
<circle cx="186.0" cy="742.4" r="3.6"/>
<circle cx="195.3" cy="798.2" r="3.9"/>
<circle cx="404.1" cy="534.4" r="3.0"/>
<circle cx="567.9" cy="722.6" r="3.0"/>
<circle cx="597.3" cy="534.5" r="3.4"/>
<circle cx="447.3" cy="566.6" r="4.7"/>
<circle cx="357.1" cy="533.4" r="3.0"/>
<circle cx="417.5" cy="535.0" r="3.7"/>
<circle cx="498.4" cy="592.3" r="3.1"/>
<circle cx="631.3" cy="582.6" r="4.3"/>
<circle cx="343.6" cy="533.4" r="3.1"/>
<circle cx="209.9" cy="534.5" r="3.3"/>
<circle cx="234.3" cy="540.9" r="3.0"/>
<circle cx="348.7" cy="532.8" r="3.4"/>
<circle cx="412.5" cy="534.6" r="3.9"/>
<circle cx="553.7" cy="763.7" r="3.5"/>
<circle cx="132.1" cy="523.7" r="4.9"/>
<circle cx="413.9" cy="771.8" r="3.0"/>
<circle cx="266.0" cy="577.8" r="3.1"/>
<circle cx="155.0" cy="606.1" r="3.3"/>
<circle cx="453.0" cy="534.3" r="4.4"/>
<circle cx="540.0" cy="750.5" r="3.9"/>
<circle cx="449.4" cy="751.8" r="3.4"/>
<circle cx="501.2" cy="527.4" r="3.6"/>
<circle cx="530.6" cy="737.0" r="4.1"/>
<circle cx="229.0" cy="783.3" r="3.0"/>
<circle cx="441.1" cy="768.9" r="3.6"/>
<circle cx="256.3" cy="524.3" r="3.4"/>
<circle cx="324.9" cy="761.3" r="3.0"/>
<circle cx="503.0" cy="727.0" r="3.6"/>
<circle cx="266.8" cy="738.1" r="3.3"/>
<circle cx="625.9" cy="534.7" r="3.1"/>
<circle cx="531.2" cy="574.1" r="3.2"/>
<circle cx="243.0" cy="761.5" r="3.6"/>
<circle cx="493.0" cy="630.2" r="3.0"/>
<circle cx="260.2" cy="760.4" r="4.7"/>
<circle cx="622.4" cy="723.4" r="3.1"/>
<circle cx="496.8" cy="588.1" r="3.1"/>
<circle cx="333.9" cy="773.6" r="3.6"/>
<circle cx="667.6" cy="628.5" r="3.0"/>
<circle cx="569.3" cy="765.5" r="3.2"/>
<circle cx="625.8" cy="564.1" r="5.1"/>
<circle cx="641.8" cy="599.3" r="3.4"/>
<circle cx="435.3" cy="524.0" r="3.3"/>
<circle cx="213.5" cy="539.2" r="3.1"/>
<circle cx="601.2" cy="754.4" r="3.6"/>
<circle cx="437.6" cy="764.4" r="3.5"/>
<circle cx="472.7" cy="593.9" r="3.2"/>
<circle cx="500.0" cy="524.1" r="3.0"/>
<circle cx="665.3" cy="760.0" r="5.1"/>
<circle cx="303.8" cy="580.8" r="3.5"/>
<circle cx="228.3" cy="772.6" r="3.4"/>
<circle cx="425.6" cy="759.8" r="3.0"/>
<circle cx="415.0" cy="747.4" r="4.9"/>
<circle cx="456.3" cy="759.9" r="3.0"/>
<circle cx="495.5" cy="524.2" r="3.0"/>
<circle cx="572.1" cy="642.7" r="3.2"/>
<circle cx="243.7" cy="534.1" r="3.2"/>
<circle cx="356.3" cy="530.2" r="3.0"/>
<circle cx="367.1" cy="533.7" r="3.1"/>
<circle cx="115.1" cy="772.6" r="3.3"/>
<circle cx="221.5" cy="533.2" r="3.5"/>
<circle cx="435.7" cy="743.0" r="3.2"/>
<circle cx="277.2" cy="771.0" r="4.0"/>
<circle cx="621.5" cy="524.0" r="4.0"/>
<circle cx="435.7" cy="750.9" r="3.2"/>
<circle cx="151.9" cy="524.2" r="4.7"/>
<circle cx="527.2" cy="567.1" r="3.3"/>
<circle cx="142.0" cy="760.7" r="3.7"/>
<circle cx="431.7" cy="523.5" r="3.1"/>
<circle cx="381.4" cy="523.3" r="3.6"/>
<circle cx="454.7" cy="755.6" r="3.9"/>
<circle cx="155.7" cy="771.7" r="3.9"/>
<circle cx="267.4" cy="534.5" r="3.6"/>
<circle cx="331.9" cy="752.6" r="4.2"/>
<circle cx="205.7" cy="532.4" r="3.4"/>
<circle cx="535.3" cy="533.6" r="3.3"/>
<circle cx="549.7" cy="528.9" r="4.0"/>
<circle cx="487.1" cy="771.8" r="3.2"/>
<circle cx="388.4" cy="526.7" r="3.6"/>
<circle cx="334.6" cy="545.1" r="3.4"/>
<circle cx="585.8" cy="524.8" r="3.0"/>
<circle cx="580.3" cy="563.5" r="3.0"/>
<circle cx="592.7" cy="759.7" r="3.1"/>
<circle cx="224.3" cy="544.0" r="3.2"/>
<circle cx="545.3" cy="534.1" r="3.2"/>
<circle cx="435.3" cy="748.5" r="3.2"/>
<circle cx="550.4" cy="533.3" r="3.9"/>
<circle cx="372.4" cy="582.0" r="3.2"/>
<circle cx="323.7" cy="704.7" r="3.9"/>
<circle cx="384.6" cy="775.5" r="3.4"/>
<circle cx="421.6" cy="523.4" r="3.1"/>
<circle cx="506.3" cy="543.9" r="3.1"/>
<circle cx="473.9" cy="533.9" r="3.0"/>
<circle cx="389.6" cy="702.2" r="3.5"/>
<circle cx="253.7" cy="761.7" r="3.0"/>
<circle cx="419.0" cy="570.0" r="3.8"/>
<circle cx="241.0" cy="533.8" r="3.1"/>
<circle cx="499.6" cy="529.1" r="3.4"/>
<circle cx="396.0" cy="741.0" r="3.6"/>
<circle cx="665.1" cy="625.8" r="4.0"/>
<circle cx="308.9" cy="722.6" r="4.0"/>
<circle cx="645.9" cy="534.1" r="4.0"/>
<circle cx="173.2" cy="545.8" r="3.0"/>
<circle cx="138.8" cy="549.2" r="3.9"/>
<circle cx="586.0" cy="744.2" r="3.4"/>
<circle cx="514.2" cy="778.7" r="3.9"/>
<circle cx="502.9" cy="523.4" r="3.0"/>
<circle cx="490.6" cy="766.7" r="3.3"/>
<circle cx="532.5" cy="754.2" r="3.0"/>
<circle cx="508.7" cy="761.4" r="3.5"/>
<circle cx="486.1" cy="525.3" r="3.4"/>
<circle cx="351.4" cy="562.4" r="3.5"/>
<circle cx="350.5" cy="534.5" r="3.2"/>
<circle cx="180.4" cy="649.9" r="4.3"/>
<circle cx="255.3" cy="525.2" r="3.1"/>
<circle cx="348.1" cy="619.4" r="4.0"/>
<circle cx="472.5" cy="650.0" r="3.1"/>
<circle cx="601.8" cy="533.7" r="3.3"/>
<circle cx="120.3" cy="578.3" r="3.9"/>
<circle cx="215.4" cy="536.4" r="4.7"/>
<circle cx="580.7" cy="524.2" r="4.6"/>
<circle cx="571.5" cy="524.4" r="3.7"/>
<circle cx="150.0" cy="597.9" r="3.5"/>
<circle cx="493.6" cy="753.2" r="3.0"/>
<circle cx="585.6" cy="523.9" r="3.0"/>
<circle cx="538.5" cy="557.1" r="4.0"/>
<circle cx="307.9" cy="534.4" r="3.7"/>
<circle cx="359.4" cy="743.8" r="4.2"/>
<circle cx="274.7" cy="750.8" r="3.4"/>
<circle cx="321.0" cy="534.5" r="3.0"/>
<circle cx="425.3" cy="524.6" r="4.2"/>
<circle cx="626.8" cy="722.8" r="3.4"/>
<circle cx="606.5" cy="749.2" r="3.8"/>
<circle cx="594.3" cy="616.1" r="4.4"/>
<circle cx="437.4" cy="533.3" r="4.2"/>
<circle cx="574.0" cy="524.2" r="3.1"/>
<circle cx="225.1" cy="543.4" r="3.4"/>
<circle cx="222.3" cy="580.3" r="3.3"/>
<circle cx="139.4" cy="770.7" r="3.4"/>
<circle cx="364.3" cy="760.4" r="3.0"/>
<circle cx="277.1" cy="534.3" r="3.7"/>
<circle cx="551.1" cy="525.2" r="3.0"/>
<circle cx="142.8" cy="533.4" r="3.4"/>
<circle cx="619.2" cy="597.4" r="4.8"/>
<circle cx="211.0" cy="565.2" r="3.3"/>
<circle cx="336.1" cy="526.2" r="3.3"/>
<circle cx="360.0" cy="628.7" r="3.1"/>
<circle cx="281.1" cy="713.4" r="3.3"/>
<circle cx="348.1" cy="524.2" r="3.6"/>
<circle cx="479.0" cy="743.2" r="3.1"/>
<circle cx="405.5" cy="533.6" r="3.7"/>
<circle cx="488.9" cy="533.3" r="3.7"/>
<circle cx="431.9" cy="766.9" r="4.6"/>
<circle cx="599.5" cy="784.2" r="3.1"/>
<circle cx="648.6" cy="752.8" r="3.3"/>
<circle cx="626.3" cy="764.5" r="3.0"/>
<circle cx="588.6" cy="523.8" r="3.3"/>
<circle cx="648.2" cy="548.1" r="3.1"/>
<circle cx="406.0" cy="524.1" r="3.2"/>
<circle cx="551.1" cy="534.9" r="3.0"/>
<circle cx="312.4" cy="524.0" r="3.3"/>
<circle cx="616.3" cy="540.8" r="3.5"/>
<circle cx="534.6" cy="745.1" r="3.5"/>
<circle cx="482.6" cy="637.0" r="3.5"/>
<circle cx="233.6" cy="524.5" r="3.2"/>
<circle cx="283.7" cy="754.3" r="4.5"/>
<circle cx="528.4" cy="687.6" r="3.2"/>
<circle cx="410.4" cy="529.4" r="3.4"/>
<circle cx="552.7" cy="557.1" r="3.2"/>
<circle cx="563.5" cy="524.0" r="4.8"/>
<circle cx="142.2" cy="684.7" r="3.2"/>
<circle cx="205.8" cy="584.2" r="3.7"/>
<circle cx="403.9" cy="563.7" r="3.3"/>
<circle cx="407.1" cy="587.9" r="3.1"/>
<circle cx="606.7" cy="761.8" r="3.0"/>
<circle cx="286.6" cy="552.3" r="3.1"/>
<circle cx="641.0" cy="623.5" r="3.0"/>
<circle cx="347.8" cy="774.6" r="3.0"/>
<circle cx="174.3" cy="561.1" r="4.6"/>
<circle cx="287.3" cy="538.3" r="3.4"/>
<circle cx="241.0" cy="608.6" r="4.2"/>
<circle cx="406.9" cy="765.3" r="4.7"/>
<circle cx="501.3" cy="524.6" r="3.0"/>
<circle cx="403.4" cy="523.9" r="3.5"/>
<circle cx="633.7" cy="748.2" r="4.3"/>
<circle cx="396.6" cy="775.8" r="5.3"/>
<circle cx="541.6" cy="525.1" r="3.1"/>
<circle cx="665.7" cy="768.3" r="4.0"/>
<circle cx="367.7" cy="660.9" r="3.6"/>
<circle cx="444.0" cy="746.3" r="3.9"/>
<circle cx="434.4" cy="523.9" r="3.1"/>
<circle cx="498.1" cy="599.6" r="4.2"/>
<circle cx="491.0" cy="533.3" r="3.2"/>
<circle cx="352.9" cy="598.5" r="3.0"/>
<circle cx="393.5" cy="712.3" r="3.8"/>
<circle cx="646.1" cy="524.3" r="3.2"/>
<circle cx="331.0" cy="598.0" r="3.2"/>
<circle cx="477.1" cy="666.2" r="3.4"/>
<circle cx="269.3" cy="533.8" r="3.9"/>
<circle cx="386.4" cy="754.1" r="3.0"/>
<circle cx="438.7" cy="526.5" r="3.0"/>
<circle cx="443.3" cy="534.4" r="3.0"/>
<circle cx="276.8" cy="584.7" r="4.1"/>
<circle cx="406.2" cy="534.7" r="3.2"/>
<circle cx="365.0" cy="762.7" r="3.1"/>
<circle cx="323.3" cy="747.8" r="3.0"/>
<circle cx="214.0" cy="688.0" r="3.1"/>
<circle cx="487.7" cy="750.2" r="3.3"/>
<circle cx="561.7" cy="524.2" r="3.2"/>
<circle cx="601.6" cy="773.1" r="3.1"/>
<circle cx="418.2" cy="533.2" r="3.3"/>
<circle cx="252.8" cy="523.8" r="3.3"/>
<circle cx="568.9" cy="539.5" r="3.0"/>
<circle cx="447.9" cy="771.2" r="3.0"/>
<circle cx="451.8" cy="734.7" r="3.7"/>
<circle cx="517.6" cy="533.6" r="3.8"/>
<circle cx="261.1" cy="754.2" r="3.0"/>
<circle cx="494.2" cy="524.1" r="5.0"/>
<circle cx="379.0" cy="576.3" r="3.9"/>
<circle cx="308.3" cy="755.6" r="3.8"/>
<circle cx="523.6" cy="524.5" r="3.3"/>
<circle cx="460.3" cy="524.8" r="3.8"/>
<circle cx="628.0" cy="554.5" r="3.4"/>
<circle cx="437.2" cy="740.4" r="3.1"/>
<circle cx="400.9" cy="765.2" r="3.1"/>
<circle cx="648.2" cy="524.2" r="3.0"/>
<circle cx="152.0" cy="596.6" r="4.6"/>
<circle cx="299.7" cy="625.0" r="3.1"/>
<circle cx="213.7" cy="539.8" r="5.9"/>
<circle cx="315.0" cy="523.7" r="5.0"/>
<circle cx="432.5" cy="524.4" r="3.4"/>
<circle cx="467.6" cy="552.9" r="3.1"/>
<circle cx="275.9" cy="524.4" r="3.1"/>
<circle cx="668.2" cy="550.8" r="4.0"/>
<circle cx="633.7" cy="561.4" r="3.7"/>
<circle cx="607.1" cy="752.9" r="3.4"/>
<circle cx="570.8" cy="545.6" r="3.1"/>
<circle cx="448.3" cy="758.5" r="3.4"/>
<circle cx="338.8" cy="762.4" r="3.1"/>
<circle cx="662.1" cy="724.3" r="4.6"/>
<circle cx="235.1" cy="543.9" r="3.2"/>
<circle cx="501.3" cy="523.9" r="4.3"/>
<circle cx="328.4" cy="776.5" r="4.7"/>
<circle cx="400.9" cy="530.7" r="3.1"/>
<circle cx="661.7" cy="757.5" r="3.3"/>
<circle cx="442.2" cy="739.0" r="4.6"/>
<circle cx="647.5" cy="535.0" r="3.4"/>
<circle cx="552.5" cy="599.7" r="3.7"/>
<circle cx="599.7" cy="528.6" r="3.0"/>
<circle cx="254.5" cy="757.8" r="4.1"/>
<circle cx="493.1" cy="552.4" r="3.2"/>
<circle cx="290.6" cy="756.6" r="3.1"/>
<circle cx="458.1" cy="523.6" r="3.9"/>
<circle cx="376.3" cy="734.7" r="3.4"/>
<circle cx="281.6" cy="523.5" r="3.9"/>
<circle cx="459.3" cy="524.1" r="3.3"/>
<circle cx="434.6" cy="759.0" r="3.0"/>
<circle cx="453.7" cy="527.8" r="3.4"/>
<circle cx="231.4" cy="729.7" r="4.2"/>
<circle cx="219.4" cy="757.5" r="3.4"/>
<circle cx="510.4" cy="733.6" r="5.0"/>
<circle cx="602.0" cy="750.4" r="3.9"/>
<circle cx="385.2" cy="732.8" r="3.3"/>
<circle cx="313.1" cy="736.5" r="3.1"/>
<circle cx="597.9" cy="605.2" r="3.3"/>
<circle cx="668.7" cy="524.4" r="3.3"/>
<circle cx="611.1" cy="734.9" r="3.0"/>
<circle cx="385.0" cy="540.2" r="3.1"/>
<circle cx="385.6" cy="734.9" r="3.2"/>
<circle cx="390.3" cy="529.7" r="3.1"/>
<circle cx="354.4" cy="769.8" r="3.0"/>
<circle cx="637.9" cy="524.3" r="3.1"/>
<circle cx="145.9" cy="669.2" r="3.3"/>
<circle cx="476.4" cy="534.3" r="4.0"/>
<circle cx="485.8" cy="740.5" r="3.0"/>
<circle cx="625.4" cy="789.2" r="3.5"/>
<circle cx="641.6" cy="530.0" r="3.8"/>
<circle cx="308.4" cy="586.3" r="3.0"/>
<circle cx="399.3" cy="729.8" r="3.0"/>
<circle cx="342.2" cy="581.9" r="3.2"/>
<circle cx="525.8" cy="523.7" r="3.8"/>
<circle cx="578.4" cy="523.3" r="3.0"/>
<circle cx="490.1" cy="532.7" r="3.0"/>
<circle cx="361.6" cy="523.6" r="3.2"/>
<circle cx="164.6" cy="772.0" r="4.1"/>
<circle cx="457.5" cy="777.1" r="3.7"/>
<circle cx="302.9" cy="524.0" r="3.7"/>
<circle cx="312.2" cy="529.1" r="4.1"/>
<circle cx="438.6" cy="591.6" r="3.4"/>
<circle cx="327.5" cy="647.7" r="4.2"/>
<circle cx="218.0" cy="732.0" r="4.7"/>
<circle cx="548.7" cy="797.4" r="4.6"/>
<circle cx="548.5" cy="533.8" r="3.3"/>
<circle cx="256.4" cy="549.1" r="3.3"/>
<circle cx="538.0" cy="524.5" r="3.8"/>
<circle cx="525.0" cy="523.7" r="3.5"/>
<circle cx="524.9" cy="534.6" r="3.0"/>
<circle cx="285.1" cy="735.9" r="3.2"/>
<circle cx="571.4" cy="744.7" r="3.9"/>
<circle cx="500.2" cy="574.7" r="3.2"/>
<circle cx="182.2" cy="533.5" r="5.0"/>
<circle cx="667.0" cy="681.3" r="4.6"/>
<circle cx="539.3" cy="571.5" r="3.5"/>
<circle cx="526.4" cy="744.7" r="3.9"/>
<circle cx="612.7" cy="535.1" r="3.0"/>
<circle cx="227.9" cy="536.9" r="3.4"/>
<circle cx="527.9" cy="788.4" r="3.6"/>
<circle cx="584.6" cy="533.1" r="3.2"/>
<circle cx="371.9" cy="590.3" r="3.1"/>
<circle cx="517.2" cy="523.7" r="3.3"/>
<circle cx="350.2" cy="570.7" r="3.4"/>
<circle cx="342.6" cy="683.3" r="3.4"/>
<circle cx="437.9" cy="524.4" r="3.4"/>
<circle cx="481.4" cy="571.9" r="3.4"/>
<circle cx="303.9" cy="533.9" r="3.6"/>
<circle cx="602.7" cy="532.9" r="3.0"/>
<circle cx="270.6" cy="525.2" r="4.0"/>
<circle cx="280.9" cy="719.0" r="3.6"/>
<circle cx="320.2" cy="535.6" r="3.0"/>
<circle cx="319.4" cy="524.3" r="3.3"/>
<circle cx="529.5" cy="524.7" r="3.9"/>
<circle cx="423.6" cy="527.7" r="3.0"/>
<circle cx="330.8" cy="577.1" r="3.0"/>
<circle cx="624.6" cy="778.7" r="4.8"/>
<circle cx="418.6" cy="527.1" r="3.7"/>
<circle cx="524.6" cy="524.0" r="3.4"/>
<circle cx="523.7" cy="534.4" r="3.2"/>
<circle cx="424.5" cy="532.8" r="4.3"/>
<circle cx="500.7" cy="534.5" r="3.9"/>
<circle cx="571.5" cy="756.5" r="4.3"/>
<circle cx="393.4" cy="749.6" r="3.6"/>
<circle cx="215.8" cy="569.6" r="3.4"/>
<circle cx="669.0" cy="534.8" r="3.1"/>
<circle cx="352.4" cy="529.2" r="4.0"/>
<circle cx="415.4" cy="536.1" r="3.2"/>
<circle cx="612.0" cy="562.8" r="3.5"/>
<circle cx="606.0" cy="533.8" r="3.5"/>
<circle cx="313.5" cy="748.0" r="3.3"/>
<circle cx="455.3" cy="726.3" r="3.2"/>
<circle cx="208.1" cy="523.7" r="4.2"/>
<circle cx="557.3" cy="523.7" r="3.9"/>
<circle cx="593.6" cy="751.8" r="6.2"/>
<circle cx="665.6" cy="545.2" r="3.2"/>
<circle cx="236.8" cy="736.4" r="4.8"/>
<circle cx="246.4" cy="534.9" r="3.1"/>
<circle cx="637.4" cy="532.8" r="3.3"/>
<circle cx="295.9" cy="783.7" r="3.0"/>
<circle cx="372.8" cy="534.4" r="3.3"/>
<circle cx="413.0" cy="524.7" r="3.1"/>
<circle cx="482.3" cy="535.2" r="3.4"/>
<circle cx="149.2" cy="808.2" r="3.2"/>
<circle cx="455.2" cy="569.5" r="4.6"/>
<circle cx="118.6" cy="767.7" r="3.3"/>
<circle cx="132.8" cy="533.7" r="3.2"/>
<circle cx="562.5" cy="524.0" r="3.0"/>
<circle cx="139.5" cy="533.3" r="3.6"/>
<circle cx="653.0" cy="523.8" r="3.9"/>
<circle cx="279.5" cy="775.7" r="3.5"/>
<circle cx="538.1" cy="524.1" r="3.4"/>
<circle cx="540.3" cy="534.5" r="3.6"/>
<circle cx="259.3" cy="772.4" r="4.3"/>
<circle cx="187.4" cy="613.9" r="3.7"/>
<circle cx="430.5" cy="533.9" r="3.5"/>
<circle cx="221.3" cy="561.6" r="3.2"/>
<circle cx="448.1" cy="755.7" r="3.8"/>
<circle cx="233.7" cy="592.2" r="3.6"/>
<circle cx="193.6" cy="641.0" r="3.7"/>
<circle cx="610.3" cy="528.1" r="4.2"/>
<circle cx="284.8" cy="535.6" r="3.0"/>
<circle cx="533.4" cy="598.1" r="3.5"/>
<circle cx="415.8" cy="621.0" r="3.7"/>
<circle cx="530.9" cy="534.3" r="3.0"/>
<circle cx="386.9" cy="539.9" r="5.1"/>
<circle cx="339.2" cy="759.5" r="3.6"/>
<circle cx="586.7" cy="525.2" r="3.4"/>
<circle cx="356.6" cy="771.1" r="3.2"/>
<circle cx="581.4" cy="610.3" r="4.4"/>
<circle cx="158.4" cy="772.2" r="3.4"/>
<circle cx="666.9" cy="784.5" r="4.0"/>
<circle cx="613.4" cy="523.3" r="3.1"/>
<circle cx="569.0" cy="534.4" r="3.2"/>
<circle cx="213.9" cy="573.1" r="3.2"/>
<circle cx="395.1" cy="534.9" r="3.0"/>
<circle cx="589.1" cy="525.1" r="3.4"/>
<circle cx="634.2" cy="523.7" r="3.1"/>
<circle cx="178.6" cy="760.9" r="3.7"/>
<circle cx="335.9" cy="527.4" r="3.0"/>
<circle cx="459.8" cy="532.2" r="3.2"/>
<circle cx="352.6" cy="540.9" r="3.6"/>
<circle cx="531.2" cy="528.7" r="3.4"/>
<circle cx="172.9" cy="554.2" r="3.5"/>
<circle cx="625.5" cy="764.5" r="3.1"/>
<circle cx="269.5" cy="592.7" r="3.0"/>
<circle cx="434.8" cy="534.3" r="3.1"/>
<circle cx="380.6" cy="583.2" r="3.5"/>
<circle cx="359.0" cy="534.3" r="3.1"/>
<circle cx="238.9" cy="531.4" r="4.4"/>
<circle cx="259.5" cy="534.0" r="3.4"/>
<circle cx="327.2" cy="542.3" r="3.2"/>
<circle cx="294.7" cy="524.7" r="3.7"/>
<circle cx="215.4" cy="542.3" r="3.4"/>
<circle cx="310.3" cy="755.0" r="3.3"/>
<circle cx="173.9" cy="730.0" r="3.8"/>
<circle cx="402.4" cy="524.5" r="3.0"/>
<circle cx="627.7" cy="555.9" r="3.8"/>
<circle cx="264.2" cy="527.9" r="3.2"/>
<circle cx="574.6" cy="534.8" r="3.9"/>
<circle cx="221.7" cy="771.2" r="3.0"/>
<circle cx="122.9" cy="617.9" r="3.2"/>
<circle cx="423.5" cy="528.6" r="3.7"/>
<circle cx="370.9" cy="572.2" r="3.2"/>
<circle cx="225.6" cy="534.8" r="3.1"/>
<circle cx="596.8" cy="534.2" r="3.2"/>
<circle cx="321.0" cy="534.7" r="4.3"/>
<circle cx="494.2" cy="722.7" r="5.3"/>
<circle cx="208.1" cy="621.6" r="3.4"/>
<circle cx="331.5" cy="597.0" r="3.1"/>
<circle cx="479.4" cy="533.0" r="3.6"/>
<circle cx="488.0" cy="765.2" r="4.0"/>
<circle cx="548.6" cy="523.8" r="3.1"/>
<circle cx="503.7" cy="524.3" r="4.2"/>
<circle cx="439.5" cy="542.5" r="3.4"/>
<circle cx="408.6" cy="777.7" r="3.3"/>
<circle cx="533.2" cy="780.0" r="3.0"/>
<circle cx="337.0" cy="766.5" r="3.3"/>
<circle cx="251.5" cy="678.0" r="5.5"/>
<circle cx="482.8" cy="574.5" r="3.3"/>
<circle cx="258.1" cy="753.0" r="3.5"/>
<circle cx="330.0" cy="539.9" r="3.7"/>
<circle cx="641.1" cy="524.6" r="3.4"/>
<circle cx="670.0" cy="527.0" r="3.8"/>
<circle cx="667.4" cy="569.7" r="4.4"/>
<circle cx="465.2" cy="534.0" r="3.4"/>
<circle cx="626.6" cy="735.3" r="3.7"/>
<circle cx="340.0" cy="522.3" r="4.0"/>
<circle cx="196.4" cy="639.4" r="3.1"/>
<circle cx="124.8" cy="774.0" r="3.7"/>
<circle cx="482.2" cy="523.3" r="3.5"/>
<circle cx="332.6" cy="762.0" r="4.1"/>
<circle cx="527.0" cy="530.8" r="5.1"/>
<circle cx="360.1" cy="640.7" r="5.0"/>
<circle cx="557.4" cy="639.2" r="3.1"/>
<circle cx="465.8" cy="634.8" r="3.3"/>
<circle cx="452.1" cy="777.4" r="3.9"/>
<circle cx="605.0" cy="582.2" r="4.0"/>
<circle cx="173.5" cy="759.9" r="3.7"/>
<circle cx="371.7" cy="783.1" r="3.8"/>
<circle cx="381.8" cy="745.1" r="3.2"/>
<circle cx="485.9" cy="534.8" r="3.6"/>
<circle cx="464.7" cy="527.3" r="3.0"/>
<circle cx="582.4" cy="753.8" r="3.3"/>
<circle cx="508.3" cy="523.7" r="3.3"/>
<circle cx="533.7" cy="511.5" r="3.5"/>
<circle cx="282.3" cy="762.4" r="3.6"/>
<circle cx="570.2" cy="734.7" r="3.4"/>
<circle cx="585.7" cy="533.7" r="6.8"/>
<circle cx="211.2" cy="726.2" r="3.3"/>
<circle cx="337.5" cy="746.0" r="4.3"/>
<circle cx="174.4" cy="646.3" r="3.3"/>
<circle cx="660.3" cy="524.4" r="3.2"/>
<circle cx="556.4" cy="756.1" r="3.1"/>
<circle cx="373.7" cy="533.9" r="3.4"/>
<circle cx="268.9" cy="534.4" r="3.4"/>
<circle cx="338.5" cy="561.2" r="3.0"/>
<circle cx="401.8" cy="725.5" r="3.6"/>
<circle cx="403.8" cy="744.0" r="5.1"/>
<circle cx="447.4" cy="614.6" r="3.3"/>
<circle cx="374.3" cy="523.8" r="3.4"/>
<circle cx="241.3" cy="528.8" r="3.0"/>
<circle cx="363.1" cy="768.7" r="4.2"/>
<circle cx="398.7" cy="751.1" r="3.3"/>
<circle cx="152.6" cy="533.4" r="3.3"/>
<circle cx="301.7" cy="745.0" r="3.5"/>
<circle cx="453.9" cy="639.0" r="3.9"/>
<circle cx="484.4" cy="734.2" r="3.1"/>
<circle cx="262.5" cy="523.9" r="4.5"/>
<circle cx="118.6" cy="550.0" r="4.4"/>
<circle cx="623.9" cy="584.1" r="3.9"/>
<circle cx="426.6" cy="775.0" r="3.4"/>
<circle cx="499.6" cy="534.8" r="3.5"/>
<circle cx="357.3" cy="731.2" r="3.1"/>
<circle cx="355.2" cy="526.4" r="3.2"/>
<circle cx="560.6" cy="523.7" r="3.0"/>
<circle cx="591.6" cy="533.6" r="3.2"/>
<circle cx="570.8" cy="747.8" r="3.8"/>
<circle cx="293.7" cy="523.7" r="3.6"/>
<circle cx="368.0" cy="731.3" r="4.0"/>
<circle cx="273.9" cy="761.0" r="3.3"/>
<circle cx="531.3" cy="534.0" r="3.0"/>
<circle cx="335.6" cy="533.5" r="3.1"/>
<circle cx="259.0" cy="765.1" r="3.5"/>
<circle cx="592.5" cy="524.2" r="3.0"/>
<circle cx="351.8" cy="743.5" r="3.2"/>
<circle cx="593.0" cy="797.5" r="3.3"/>
<circle cx="204.6" cy="537.9" r="3.3"/>
<circle cx="247.1" cy="549.4" r="3.8"/>
<circle cx="629.3" cy="591.5" r="3.6"/>
<circle cx="535.1" cy="533.8" r="4.3"/>
<circle cx="390.3" cy="757.9" r="3.1"/>
<circle cx="274.1" cy="740.5" r="3.5"/>
<circle cx="530.6" cy="523.2" r="3.1"/>
<circle cx="287.1" cy="582.3" r="3.3"/>
<circle cx="629.0" cy="765.9" r="3.3"/>
<circle cx="347.5" cy="783.3" r="3.2"/>
<circle cx="259.4" cy="586.2" r="3.2"/>
<circle cx="496.4" cy="560.2" r="3.4"/>
<circle cx="177.1" cy="772.2" r="3.3"/>
<circle cx="404.4" cy="524.2" r="3.2"/>
<circle cx="625.8" cy="533.3" r="3.4"/>
<circle cx="566.2" cy="758.3" r="3.7"/>
<circle cx="216.9" cy="533.9" r="3.5"/>
<circle cx="144.4" cy="729.8" r="4.4"/>
<circle cx="396.3" cy="533.8" r="3.9"/>
<circle cx="210.1" cy="571.7" r="4.3"/>
<circle cx="484.7" cy="733.6" r="3.2"/>
<circle cx="319.8" cy="631.4" r="3.2"/>
<circle cx="364.2" cy="644.4" r="3.0"/>
<circle cx="298.9" cy="534.6" r="3.3"/>
<circle cx="297.0" cy="532.1" r="3.1"/>
<circle cx="452.6" cy="523.5" r="4.5"/>
<circle cx="130.9" cy="687.9" r="3.3"/>
<circle cx="365.4" cy="524.4" r="3.3"/>
<circle cx="220.2" cy="523.4" r="3.5"/>
<circle cx="354.5" cy="531.0" r="3.3"/>
<circle cx="551.5" cy="740.1" r="4.0"/>
<circle cx="476.6" cy="776.4" r="4.6"/>
<circle cx="136.1" cy="729.8" r="3.3"/>
<circle cx="208.5" cy="534.4" r="3.5"/>
<circle cx="277.2" cy="529.9" r="3.9"/>
<circle cx="144.4" cy="737.8" r="3.0"/>
<circle cx="421.6" cy="754.9" r="3.9"/>
<circle cx="612.2" cy="588.7" r="3.0"/>
<circle cx="145.3" cy="602.8" r="4.3"/>
<circle cx="335.0" cy="581.6" r="4.6"/>
<circle cx="620.9" cy="742.4" r="5.3"/>
<circle cx="513.3" cy="534.0" r="3.2"/>
<circle cx="316.5" cy="744.7" r="3.0"/>
<circle cx="275.5" cy="570.6" r="3.7"/>
<circle cx="525.1" cy="723.8" r="4.5"/>
<circle cx="504.6" cy="528.4" r="3.1"/>
<circle cx="227.8" cy="534.2" r="3.4"/>
<circle cx="268.1" cy="524.8" r="3.6"/>
<circle cx="652.3" cy="534.4" r="3.1"/>
<circle cx="180.7" cy="772.0" r="3.2"/>
<circle cx="124.0" cy="586.6" r="3.0"/>
<circle cx="509.2" cy="534.6" r="3.5"/>
<circle cx="311.4" cy="522.1" r="4.2"/>
<circle cx="568.7" cy="781.8" r="3.1"/>
<circle cx="574.6" cy="535.0" r="3.1"/>
<circle cx="603.5" cy="765.9" r="3.0"/>
<circle cx="406.0" cy="546.9" r="3.3"/>
<circle cx="273.9" cy="535.1" r="4.6"/>
<circle cx="645.9" cy="532.2" r="3.7"/>
<circle cx="239.7" cy="596.7" r="3.3"/>
<circle cx="658.4" cy="775.0" r="3.2"/>
<circle cx="496.7" cy="767.8" r="5.1"/>
<circle cx="375.0" cy="729.2" r="3.0"/>
<circle cx="634.4" cy="770.9" r="4.0"/>
<circle cx="300.4" cy="527.0" r="3.4"/>
<circle cx="328.2" cy="534.0" r="3.2"/>
<circle cx="401.2" cy="738.0" r="3.0"/>
<circle cx="479.6" cy="735.9" r="3.4"/>
<circle cx="663.5" cy="717.4" r="3.7"/>
<circle cx="472.1" cy="754.6" r="3.1"/>
<circle cx="583.7" cy="523.7" r="3.9"/>
<circle cx="621.9" cy="768.9" r="3.3"/>
<circle cx="660.3" cy="524.3" r="3.0"/>
<circle cx="635.2" cy="534.5" r="3.7"/>
<circle cx="651.1" cy="620.5" r="3.1"/>
<circle cx="229.4" cy="556.6" r="4.4"/>
<circle cx="475.3" cy="555.6" r="3.8"/>
<circle cx="299.8" cy="524.1" r="3.2"/>
<circle cx="167.3" cy="772.0" r="3.2"/>
<circle cx="497.9" cy="733.9" r="3.2"/>
<circle cx="404.2" cy="554.8" r="4.2"/>
<circle cx="550.4" cy="522.9" r="3.8"/>
<circle cx="455.5" cy="534.2" r="3.7"/>
<circle cx="631.8" cy="535.2" r="3.2"/>
<circle cx="367.4" cy="544.1" r="3.2"/>
<circle cx="347.4" cy="525.0" r="3.2"/>
<circle cx="625.3" cy="780.2" r="3.2"/>
<circle cx="147.0" cy="533.6" r="3.8"/>
<circle cx="329.1" cy="524.6" r="3.2"/>
<circle cx="251.1" cy="524.5" r="3.5"/>
<circle cx="526.2" cy="535.1" r="3.4"/>
<circle cx="528.4" cy="533.8" r="3.5"/>
<circle cx="269.6" cy="766.4" r="3.5"/>
<circle cx="255.1" cy="760.2" r="4.2"/>
<circle cx="301.1" cy="702.0" r="3.2"/>
<circle cx="548.0" cy="743.0" r="4.2"/>
<circle cx="417.7" cy="749.1" r="3.0"/>
<circle cx="445.2" cy="608.1" r="3.1"/>
<circle cx="566.2" cy="795.7" r="4.1"/>
<circle cx="514.6" cy="757.1" r="3.6"/>
<circle cx="376.4" cy="757.1" r="4.4"/>
<circle cx="374.3" cy="523.8" r="4.2"/>
<circle cx="193.0" cy="746.8" r="4.4"/>
<circle cx="144.2" cy="795.0" r="3.8"/>
<circle cx="670.0" cy="726.9" r="4.2"/>
<circle cx="227.5" cy="757.3" r="3.0"/>
<circle cx="495.9" cy="746.6" r="3.7"/>
<circle cx="579.0" cy="733.9" r="3.6"/>
<circle cx="512.9" cy="554.6" r="3.2"/>
<circle cx="394.8" cy="758.2" r="3.1"/>
<circle cx="345.2" cy="749.1" r="5.2"/>
<circle cx="405.7" cy="524.2" r="3.2"/>
<circle cx="448.9" cy="524.2" r="3.8"/>
<circle cx="230.6" cy="706.5" r="3.6"/>
<circle cx="625.2" cy="524.5" r="3.3"/>
<circle cx="430.2" cy="523.7" r="4.1"/>
<circle cx="315.6" cy="708.2" r="3.3"/>
<circle cx="458.4" cy="526.9" r="3.2"/>
<circle cx="489.1" cy="758.6" r="3.2"/>
<circle cx="446.8" cy="599.2" r="3.5"/>
<circle cx="454.2" cy="534.6" r="3.1"/>
<circle cx="529.8" cy="743.5" r="3.8"/>
<circle cx="582.9" cy="523.7" r="3.4"/>
<circle cx="218.9" cy="695.9" r="5.0"/>
<circle cx="315.4" cy="542.8" r="3.0"/>
<circle cx="593.2" cy="533.4" r="3.6"/>
<circle cx="373.5" cy="722.9" r="3.1"/>
<circle cx="588.2" cy="590.2" r="4.1"/>
<circle cx="227.2" cy="535.2" r="5.2"/>
<circle cx="301.5" cy="706.0" r="3.2"/>
<circle cx="322.4" cy="766.5" r="3.9"/>
<circle cx="532.0" cy="646.4" r="3.5"/>
<circle cx="546.5" cy="523.8" r="3.0"/>
<circle cx="228.6" cy="736.9" r="3.7"/>
<circle cx="440.2" cy="533.8" r="3.2"/>
<circle cx="567.3" cy="534.7" r="3.1"/>
<circle cx="211.7" cy="532.3" r="3.3"/>
<circle cx="243.5" cy="523.4" r="3.1"/>
<circle cx="163.4" cy="626.0" r="3.4"/>
<circle cx="630.7" cy="765.5" r="3.1"/>
<circle cx="537.6" cy="524.0" r="3.5"/>
<circle cx="189.9" cy="620.2" r="3.5"/>
<circle cx="390.4" cy="671.3" r="3.5"/>
<circle cx="495.8" cy="746.0" r="3.1"/>
<circle cx="360.0" cy="524.4" r="3.1"/>
<circle cx="161.7" cy="809.2" r="4.1"/>
<circle cx="243.1" cy="524.1" r="3.3"/>
<circle cx="320.5" cy="768.8" r="3.9"/>
<circle cx="292.9" cy="523.2" r="3.3"/>
<circle cx="625.9" cy="527.1" r="3.6"/>
<circle cx="251.9" cy="523.8" r="4.0"/>
<circle cx="415.8" cy="529.3" r="3.1"/>
<circle cx="349.5" cy="699.5" r="3.7"/>
<circle cx="163.7" cy="611.3" r="3.6"/>
<circle cx="618.6" cy="721.8" r="6.3"/>
<circle cx="324.7" cy="534.0" r="3.0"/>
<circle cx="309.7" cy="523.9" r="4.3"/>
<circle cx="438.5" cy="523.2" r="4.2"/>
<circle cx="508.4" cy="524.1" r="3.7"/>
<circle cx="209.7" cy="569.1" r="3.5"/>
<circle cx="274.3" cy="535.1" r="3.7"/>
<circle cx="603.4" cy="766.1" r="3.3"/>
<circle cx="458.5" cy="725.6" r="3.7"/>
<circle cx="402.2" cy="534.9" r="4.5"/>
<circle cx="424.8" cy="763.0" r="5.5"/>
<circle cx="664.8" cy="535.2" r="3.6"/>
<circle cx="640.1" cy="585.6" r="3.3"/>
<circle cx="151.7" cy="534.0" r="3.3"/>
<circle cx="114.9" cy="729.7" r="3.4"/>
<circle cx="610.7" cy="566.4" r="5.2"/>
<circle cx="428.4" cy="612.6" r="3.0"/>
<circle cx="599.4" cy="524.0" r="3.0"/>
<circle cx="421.2" cy="582.4" r="3.5"/>
<circle cx="505.5" cy="578.4" r="3.4"/>
<circle cx="251.1" cy="531.8" r="3.6"/>
<circle cx="488.5" cy="639.0" r="3.6"/>
<circle cx="382.6" cy="533.9" r="3.7"/>
<circle cx="545.5" cy="569.5" r="3.0"/>
<circle cx="646.7" cy="530.1" r="5.1"/>
<circle cx="309.1" cy="534.6" r="3.3"/>
<circle cx="641.9" cy="738.7" r="3.1"/>
<circle cx="611.1" cy="751.6" r="3.3"/>
<circle cx="479.6" cy="524.1" r="3.0"/>
<circle cx="307.8" cy="617.6" r="3.9"/>
<circle cx="580.8" cy="741.4" r="3.0"/>
<circle cx="610.3" cy="764.5" r="4.4"/>
<circle cx="579.4" cy="612.8" r="4.2"/>
<circle cx="407.0" cy="627.9" r="3.9"/>
<circle cx="380.4" cy="532.4" r="3.2"/>
<circle cx="271.5" cy="765.2" r="3.6"/>
<circle cx="633.8" cy="532.4" r="3.5"/>
<circle cx="615.3" cy="744.2" r="3.0"/>
<circle cx="514.8" cy="534.2" r="3.8"/>
<circle cx="347.2" cy="532.9" r="3.4"/>
<circle cx="445.8" cy="625.6" r="3.6"/>
<circle cx="670.5" cy="533.7" r="3.3"/>
<circle cx="429.7" cy="592.7" r="3.3"/>
<circle cx="183.9" cy="743.2" r="3.3"/>
<circle cx="421.3" cy="544.0" r="4.6"/>
<circle cx="583.5" cy="762.3" r="3.7"/>
<circle cx="122.1" cy="761.5" r="3.2"/>
<circle cx="390.9" cy="623.9" r="3.2"/>
<circle cx="301.4" cy="763.6" r="3.5"/>
<circle cx="542.8" cy="524.2" r="3.5"/>
<circle cx="628.9" cy="524.0" r="3.3"/>
<circle cx="360.6" cy="763.7" r="3.4"/>
<circle cx="371.0" cy="533.4" r="3.2"/>
<circle cx="273.5" cy="546.9" r="3.3"/>
<circle cx="266.2" cy="731.6" r="4.4"/>
<circle cx="446.3" cy="564.6" r="4.8"/>
<circle cx="502.7" cy="767.6" r="3.3"/>
<circle cx="438.9" cy="776.9" r="3.0"/>
<circle cx="260.8" cy="533.9" r="3.2"/>
<circle cx="285.1" cy="640.4" r="3.0"/>
<circle cx="436.0" cy="772.8" r="3.2"/>
<circle cx="207.2" cy="553.5" r="3.8"/>
<circle cx="393.1" cy="533.4" r="3.0"/>
<circle cx="608.1" cy="759.6" r="3.1"/>
<circle cx="283.3" cy="772.6" r="3.6"/>
<circle cx="636.9" cy="746.4" r="3.3"/>
<circle cx="558.5" cy="756.4" r="3.5"/>
<circle cx="173.5" cy="729.7" r="3.2"/>
<circle cx="603.0" cy="762.1" r="3.0"/>
<circle cx="167.5" cy="767.3" r="3.2"/>
<circle cx="439.7" cy="534.7" r="3.7"/>
<circle cx="536.0" cy="736.6" r="3.0"/>
<circle cx="670.1" cy="524.5" r="3.7"/>
<circle cx="560.1" cy="680.5" r="3.1"/>
<circle cx="566.5" cy="644.2" r="3.5"/>
<circle cx="485.6" cy="534.2" r="4.7"/>
<circle cx="294.7" cy="524.3" r="4.8"/>
<circle cx="640.5" cy="731.6" r="3.1"/>
<circle cx="662.8" cy="767.2" r="3.0"/>
<circle cx="250.6" cy="651.5" r="3.0"/>
<circle cx="212.7" cy="532.0" r="5.1"/>
<circle cx="627.9" cy="524.8" r="3.9"/>
<circle cx="244.6" cy="534.0" r="3.0"/>
<circle cx="622.7" cy="524.2" r="3.1"/>
<circle cx="410.6" cy="581.4" r="4.0"/>
<circle cx="556.7" cy="747.6" r="4.5"/>
<circle cx="404.0" cy="550.4" r="3.3"/>
<circle cx="573.5" cy="557.4" r="3.7"/>
<circle cx="179.2" cy="741.7" r="3.5"/>
<circle cx="463.5" cy="533.5" r="3.1"/>
<circle cx="348.4" cy="756.0" r="3.0"/>
<circle cx="268.0" cy="526.3" r="3.2"/>
<circle cx="544.6" cy="550.9" r="3.1"/>
<circle cx="661.8" cy="748.5" r="3.2"/>
<circle cx="309.6" cy="603.0" r="3.2"/>
<circle cx="615.0" cy="527.1" r="4.6"/>
<circle cx="465.2" cy="523.5" r="3.1"/>
<circle cx="326.6" cy="532.5" r="3.1"/>
<circle cx="628.7" cy="746.1" r="4.7"/>
<circle cx="340.6" cy="742.1" r="3.0"/>
<circle cx="476.4" cy="724.7" r="3.6"/>
<circle cx="450.3" cy="524.9" r="3.3"/>
<circle cx="425.4" cy="780.0" r="3.0"/>
<circle cx="361.2" cy="532.9" r="4.9"/>
<circle cx="500.7" cy="533.8" r="3.1"/>
<circle cx="478.3" cy="524.2" r="3.1"/>
<circle cx="531.3" cy="542.5" r="4.2"/>
<circle cx="520.5" cy="582.5" r="4.6"/>
<circle cx="616.0" cy="726.1" r="3.9"/>
<circle cx="218.6" cy="526.3" r="3.4"/>
<circle cx="557.2" cy="533.9" r="3.4"/>
<circle cx="623.9" cy="535.3" r="3.4"/>
<circle cx="531.3" cy="521.0" r="3.2"/>
<circle cx="221.9" cy="541.2" r="3.2"/>
<circle cx="121.7" cy="575.9" r="3.0"/>
<circle cx="352.6" cy="560.4" r="5.1"/>
<circle cx="337.7" cy="752.0" r="4.2"/>
<circle cx="437.9" cy="523.3" r="4.9"/>
<circle cx="534.2" cy="739.4" r="3.3"/>
<circle cx="423.7" cy="548.9" r="3.3"/>
<circle cx="623.3" cy="706.9" r="3.5"/>
<circle cx="554.4" cy="534.2" r="4.2"/>
<circle cx="114.6" cy="574.8" r="3.6"/>
<circle cx="118.8" cy="772.3" r="3.2"/>
<circle cx="636.7" cy="792.1" r="3.0"/>
<circle cx="495.1" cy="524.3" r="3.9"/>
<circle cx="306.6" cy="525.5" r="3.1"/>
<circle cx="285.4" cy="780.2" r="3.4"/>
<circle cx="516.6" cy="524.0" r="4.5"/>
<circle cx="601.8" cy="578.5" r="4.0"/>
<circle cx="581.3" cy="702.8" r="3.0"/>
<circle cx="281.9" cy="723.5" r="3.0"/>
<circle cx="229.4" cy="524.2" r="3.0"/>
<circle cx="277.2" cy="761.8" r="3.3"/>
<circle cx="269.8" cy="776.9" r="3.8"/>
<circle cx="325.9" cy="770.4" r="3.2"/>
<circle cx="516.2" cy="761.6" r="5.6"/>
<circle cx="334.2" cy="742.0" r="3.2"/>
<circle cx="495.6" cy="560.3" r="3.6"/>
<circle cx="365.4" cy="527.8" r="4.3"/>
<circle cx="527.4" cy="531.3" r="4.4"/>
<circle cx="416.7" cy="583.1" r="4.0"/>
<circle cx="263.8" cy="524.4" r="3.3"/>
<circle cx="613.6" cy="654.6" r="3.6"/>
<circle cx="218.5" cy="533.6" r="3.3"/>
<circle cx="148.5" cy="523.8" r="3.3"/>
<circle cx="221.0" cy="780.1" r="3.0"/>
<circle cx="337.1" cy="605.2" r="3.1"/>
<circle cx="503.6" cy="629.8" r="3.0"/>
<circle cx="641.1" cy="775.4" r="3.5"/>
<circle cx="574.6" cy="722.5" r="4.6"/>
<circle cx="579.3" cy="533.3" r="3.2"/>
<circle cx="348.3" cy="733.5" r="3.6"/>
<circle cx="125.2" cy="657.8" r="3.0"/>
<circle cx="619.5" cy="769.0" r="3.6"/>
<circle cx="390.3" cy="526.7" r="3.8"/>
<circle cx="484.7" cy="523.1" r="3.5"/>
<circle cx="591.1" cy="530.7" r="3.0"/>
<circle cx="164.9" cy="761.0" r="3.8"/>
<circle cx="649.4" cy="603.8" r="3.3"/>
<circle cx="402.5" cy="773.8" r="4.5"/>
<circle cx="150.2" cy="655.4" r="3.2"/>
<circle cx="304.7" cy="534.0" r="6.6"/>
<circle cx="433.2" cy="534.8" r="3.1"/>
<circle cx="208.8" cy="524.5" r="4.7"/>
<circle cx="549.6" cy="643.6" r="3.7"/>
<circle cx="151.0" cy="533.5" r="3.1"/>
<circle cx="597.1" cy="524.3" r="4.1"/>
<circle cx="643.7" cy="533.7" r="4.4"/>
<circle cx="187.5" cy="752.2" r="3.0"/>
<circle cx="633.0" cy="534.5" r="3.0"/>
<circle cx="322.3" cy="766.0" r="3.0"/>
<circle cx="377.0" cy="525.4" r="3.9"/>
<circle cx="130.4" cy="522.8" r="4.5"/>
<circle cx="271.2" cy="542.8" r="3.2"/>
<circle cx="391.3" cy="748.7" r="3.6"/>
<circle cx="363.4" cy="721.9" r="4.3"/>
<circle cx="615.5" cy="649.5" r="3.5"/>
<circle cx="552.2" cy="741.4" r="3.3"/>
<circle cx="457.2" cy="534.2" r="3.2"/>
<circle cx="549.8" cy="547.3" r="3.5"/>
<circle cx="357.4" cy="742.9" r="4.8"/>
<circle cx="458.6" cy="725.2" r="3.2"/>
<circle cx="227.5" cy="728.7" r="4.0"/>
<circle cx="625.5" cy="764.3" r="3.8"/>
<circle cx="529.5" cy="735.6" r="3.1"/>
<circle cx="324.2" cy="768.2" r="3.9"/>
<circle cx="408.5" cy="523.8" r="3.1"/>
<circle cx="490.1" cy="769.7" r="3.9"/>
<circle cx="453.7" cy="533.2" r="3.7"/>
<circle cx="215.2" cy="532.1" r="3.0"/>
<circle cx="565.6" cy="764.1" r="3.2"/>
<circle cx="339.4" cy="762.3" r="3.1"/>
<circle cx="558.8" cy="755.7" r="3.0"/>
<circle cx="550.9" cy="761.6" r="5.0"/>
<circle cx="271.6" cy="740.7" r="3.2"/>
<circle cx="341.1" cy="634.4" r="3.4"/>
<circle cx="439.9" cy="776.7" r="3.9"/>
<circle cx="434.8" cy="534.4" r="3.6"/>
<circle cx="251.6" cy="802.3" r="3.0"/>
<circle cx="341.5" cy="750.7" r="3.6"/>
<circle cx="267.2" cy="574.3" r="3.2"/>
<circle cx="580.3" cy="530.7" r="4.0"/>
<circle cx="200.2" cy="773.5" r="3.1"/>
<circle cx="293.7" cy="523.5" r="4.8"/>
<circle cx="256.0" cy="730.1" r="3.5"/>
<circle cx="337.1" cy="742.9" r="3.3"/>
<circle cx="210.6" cy="742.6" r="3.3"/>
<circle cx="473.4" cy="547.4" r="3.8"/>
<circle cx="129.8" cy="756.8" r="3.1"/>
<circle cx="615.6" cy="730.5" r="3.2"/>
<circle cx="160.6" cy="593.4" r="3.0"/>
<circle cx="234.7" cy="523.0" r="3.9"/>
<circle cx="670.9" cy="533.6" r="3.3"/>
<circle cx="349.6" cy="716.9" r="3.0"/>
<circle cx="323.8" cy="534.7" r="3.3"/>
<circle cx="618.9" cy="722.9" r="4.4"/>
<circle cx="246.5" cy="535.0" r="3.0"/>
<circle cx="360.3" cy="603.5" r="3.8"/>
<circle cx="524.8" cy="534.1" r="3.3"/>
<circle cx="266.0" cy="762.1" r="3.0"/>
<circle cx="452.2" cy="611.3" r="3.0"/>
<circle cx="626.3" cy="714.6" r="3.4"/>
<circle cx="297.6" cy="544.8" r="3.3"/>
<circle cx="301.8" cy="523.5" r="3.0"/>
<circle cx="228.1" cy="743.1" r="3.3"/>
<circle cx="389.5" cy="767.3" r="3.2"/>
<circle cx="663.0" cy="526.6" r="3.4"/>
<circle cx="658.5" cy="533.1" r="3.0"/>
<circle cx="587.8" cy="535.0" r="3.8"/>
<circle cx="223.3" cy="670.5" r="4.0"/>
<circle cx="355.6" cy="526.0" r="3.0"/>
<circle cx="358.1" cy="571.0" r="3.9"/>
<circle cx="269.3" cy="524.3" r="3.8"/>
<circle cx="378.2" cy="785.3" r="3.4"/>
<circle cx="236.0" cy="737.7" r="3.2"/>
<circle cx="130.6" cy="540.3" r="3.2"/>
<circle cx="551.3" cy="730.1" r="3.4"/>
<circle cx="524.4" cy="586.2" r="3.5"/>
<circle cx="634.9" cy="523.3" r="3.6"/>
<circle cx="560.6" cy="585.3" r="3.0"/>
<circle cx="263.7" cy="534.4" r="3.2"/>
<circle cx="483.5" cy="715.6" r="3.5"/>
<circle cx="443.3" cy="524.6" r="3.2"/>
<circle cx="379.5" cy="730.3" r="3.3"/>
<circle cx="618.6" cy="532.8" r="4.0"/>
<circle cx="557.9" cy="534.3" r="3.2"/>
<circle cx="541.3" cy="534.7" r="3.2"/>
<circle cx="210.2" cy="540.7" r="4.7"/>
<circle cx="576.3" cy="723.7" r="5.1"/>
<circle cx="573.8" cy="526.2" r="3.1"/>
<circle cx="387.6" cy="781.2" r="3.2"/>
<circle cx="584.6" cy="523.8" r="3.4"/>
<circle cx="444.2" cy="569.4" r="4.2"/>
<circle cx="508.1" cy="536.9" r="5.6"/>
<circle cx="267.7" cy="731.2" r="3.4"/>
<circle cx="616.5" cy="750.4" r="3.0"/>
<circle cx="407.3" cy="760.0" r="3.1"/>
<circle cx="454.2" cy="732.4" r="3.6"/>
<circle cx="553.3" cy="744.8" r="4.3"/>
<circle cx="531.3" cy="748.1" r="3.0"/>
<circle cx="309.0" cy="524.4" r="3.2"/>
<circle cx="552.3" cy="534.7" r="3.8"/>
<circle cx="338.5" cy="524.0" r="3.6"/>
<circle cx="459.5" cy="743.9" r="4.4"/>
<circle cx="324.0" cy="768.0" r="3.2"/>
<circle cx="345.9" cy="699.0" r="3.8"/>
<circle cx="657.7" cy="534.8" r="4.1"/>
<circle cx="666.5" cy="528.5" r="4.1"/>
<circle cx="431.7" cy="751.3" r="3.0"/>
<circle cx="376.0" cy="582.2" r="3.2"/>
<circle cx="247.6" cy="783.2" r="3.2"/>
<circle cx="179.4" cy="805.7" r="3.5"/>
<circle cx="583.4" cy="524.2" r="3.5"/>
<circle cx="605.2" cy="534.7" r="3.6"/>
<circle cx="546.7" cy="523.7" r="3.1"/>
<circle cx="336.9" cy="523.0" r="3.3"/>
<circle cx="650.1" cy="524.2" r="3.4"/>
<circle cx="642.7" cy="770.7" r="3.2"/>
<circle cx="453.8" cy="533.8" r="3.2"/>
<circle cx="424.4" cy="533.3" r="4.2"/>
<circle cx="594.7" cy="534.3" r="3.2"/>
<circle cx="291.9" cy="712.9" r="3.0"/>
<circle cx="238.2" cy="764.8" r="3.0"/>
<circle cx="559.5" cy="740.0" r="3.3"/>
<circle cx="167.9" cy="542.9" r="3.0"/>
<circle cx="322.2" cy="524.0" r="3.2"/>
<circle cx="425.7" cy="764.0" r="3.1"/>
<circle cx="246.7" cy="806.0" r="3.1"/>
<circle cx="130.6" cy="729.4" r="3.3"/>
<circle cx="613.9" cy="737.1" r="3.0"/>
<circle cx="186.1" cy="599.6" r="3.6"/>
<circle cx="539.8" cy="575.4" r="3.1"/>
<circle cx="141.8" cy="772.2" r="3.5"/>
<circle cx="500.3" cy="588.4" r="3.9"/>
<circle cx="432.1" cy="587.4" r="4.7"/>
<circle cx="356.3" cy="524.8" r="3.3"/>
<circle cx="402.9" cy="533.4" r="3.6"/>
<circle cx="294.1" cy="708.4" r="3.5"/>
<circle cx="326.2" cy="574.3" r="3.7"/>
<circle cx="500.9" cy="524.4" r="3.2"/>
<circle cx="381.3" cy="587.1" r="3.3"/>
<circle cx="433.4" cy="732.0" r="3.1"/>
<circle cx="333.3" cy="523.8" r="3.2"/>
<circle cx="598.2" cy="753.5" r="3.1"/>
<circle cx="246.8" cy="745.4" r="3.5"/>
<circle cx="186.3" cy="533.8" r="3.2"/>
<circle cx="357.6" cy="760.8" r="3.2"/>
<circle cx="156.6" cy="533.9" r="3.5"/>
<circle cx="354.8" cy="527.6" r="3.1"/>
<circle cx="167.7" cy="609.3" r="3.9"/>
<circle cx="118.5" cy="543.9" r="3.6"/>
<circle cx="175.1" cy="771.8" r="3.1"/>
<circle cx="225.1" cy="755.9" r="4.3"/>
<circle cx="603.5" cy="794.1" r="5.5"/>
<circle cx="208.6" cy="572.8" r="4.9"/>
<circle cx="665.5" cy="534.3" r="3.2"/>
<circle cx="446.0" cy="770.8" r="4.2"/>
<circle cx="297.4" cy="602.9" r="3.2"/>
<circle cx="231.5" cy="534.4" r="3.3"/>
<circle cx="377.2" cy="547.6" r="4.5"/>
<circle cx="253.0" cy="523.4" r="3.0"/>
<circle cx="565.6" cy="733.6" r="3.5"/>
<circle cx="615.4" cy="561.2" r="4.1"/>
<circle cx="474.2" cy="523.5" r="3.1"/>
<circle cx="646.4" cy="737.1" r="3.1"/>
<circle cx="330.4" cy="615.0" r="3.2"/>
<circle cx="463.6" cy="523.6" r="3.2"/>
<circle cx="168.1" cy="596.0" r="3.2"/>
<circle cx="349.6" cy="750.6" r="4.3"/>
<circle cx="279.8" cy="524.2" r="4.8"/>
<circle cx="564.5" cy="533.7" r="3.2"/>
<circle cx="595.7" cy="741.1" r="3.6"/>
<circle cx="353.5" cy="740.5" r="3.5"/>
<circle cx="459.2" cy="534.8" r="3.1"/>
<circle cx="260.9" cy="772.2" r="3.0"/>
<circle cx="208.2" cy="523.9" r="3.8"/>
<circle cx="222.9" cy="547.1" r="4.1"/>
<circle cx="164.1" cy="646.0" r="3.6"/>
<circle cx="340.1" cy="774.9" r="4.4"/>
<circle cx="314.9" cy="723.2" r="3.6"/>
<circle cx="394.8" cy="532.0" r="3.2"/>
<circle cx="282.3" cy="725.1" r="3.6"/>
<circle cx="207.9" cy="524.1" r="4.0"/>
<circle cx="418.0" cy="524.3" r="3.0"/>
<circle cx="585.1" cy="534.5" r="3.1"/>
<circle cx="416.3" cy="534.7" r="3.1"/>
<circle cx="573.4" cy="666.3" r="3.4"/>
<circle cx="360.6" cy="721.6" r="3.0"/>
<circle cx="317.4" cy="744.4" r="3.0"/>
<circle cx="207.0" cy="532.7" r="3.3"/>
<circle cx="231.4" cy="754.2" r="4.5"/>
<circle cx="418.1" cy="667.3" r="3.0"/>
<circle cx="296.4" cy="612.3" r="3.0"/>
<circle cx="390.4" cy="566.3" r="4.1"/>
<circle cx="309.6" cy="531.1" r="3.7"/>
<circle cx="651.8" cy="740.3" r="5.0"/>
<circle cx="545.6" cy="523.9" r="3.6"/>
<circle cx="417.6" cy="597.1" r="4.1"/>
<circle cx="450.0" cy="534.0" r="3.1"/>
<circle cx="546.4" cy="744.6" r="3.3"/>
<circle cx="534.3" cy="771.7" r="3.2"/>
<circle cx="253.2" cy="561.6" r="3.0"/>
<circle cx="516.3" cy="538.7" r="4.1"/>
<circle cx="588.8" cy="739.5" r="3.6"/>
<circle cx="486.8" cy="540.2" r="3.3"/>
<circle cx="593.4" cy="774.4" r="3.1"/>
<circle cx="239.0" cy="523.5" r="3.2"/>
<circle cx="620.9" cy="524.4" r="3.3"/>
<circle cx="574.1" cy="759.5" r="4.0"/>
<circle cx="503.8" cy="730.8" r="3.7"/>
<circle cx="175.7" cy="771.9" r="3.8"/>
<circle cx="230.8" cy="538.2" r="4.9"/>
<circle cx="489.0" cy="769.3" r="3.0"/>
<circle cx="208.7" cy="749.4" r="3.1"/>
<circle cx="544.2" cy="765.4" r="3.1"/>
<circle cx="291.5" cy="729.5" r="3.2"/>
<circle cx="428.3" cy="594.4" r="3.2"/>
<circle cx="471.9" cy="546.2" r="3.1"/>
<circle cx="496.1" cy="778.0" r="3.7"/>
<circle cx="356.4" cy="767.6" r="3.8"/>
<circle cx="575.5" cy="737.1" r="3.5"/>
<circle cx="266.6" cy="734.7" r="3.1"/>
<circle cx="612.7" cy="759.6" r="3.9"/>
<circle cx="315.8" cy="548.6" r="3.1"/>
<circle cx="291.5" cy="757.4" r="3.3"/>
<circle cx="120.2" cy="544.4" r="3.9"/>
<circle cx="630.0" cy="537.4" r="3.0"/>
<circle cx="417.5" cy="579.9" r="3.6"/>
<circle cx="327.4" cy="744.8" r="3.0"/>
<circle cx="378.5" cy="745.2" r="3.0"/>
<circle cx="312.5" cy="742.9" r="3.8"/>
<circle cx="284.2" cy="535.4" r="3.6"/>
<circle cx="606.1" cy="523.4" r="3.2"/>
<circle cx="657.8" cy="554.8" r="3.1"/>
<circle cx="503.2" cy="542.9" r="3.1"/>
<circle cx="497.4" cy="534.8" r="5.7"/>
<circle cx="488.6" cy="588.1" r="3.7"/>
<circle cx="262.7" cy="751.0" r="3.7"/>
<circle cx="270.1" cy="582.6" r="3.1"/>
<circle cx="530.2" cy="756.4" r="3.2"/>
<circle cx="480.9" cy="753.2" r="3.2"/>
<circle cx="481.5" cy="561.5" r="3.0"/>
<circle cx="626.1" cy="724.5" r="3.4"/>
<circle cx="209.8" cy="546.6" r="3.0"/>
<circle cx="626.0" cy="524.5" r="3.0"/>
<circle cx="138.9" cy="587.9" r="3.0"/>
<circle cx="274.2" cy="523.4" r="4.0"/>
<circle cx="313.7" cy="541.2" r="3.5"/>
<circle cx="147.9" cy="533.8" r="3.5"/>
<circle cx="304.3" cy="774.7" r="3.1"/>
<circle cx="292.9" cy="738.1" r="3.2"/>
<circle cx="657.0" cy="735.0" r="4.1"/>
<circle cx="519.4" cy="541.5" r="3.1"/>
<circle cx="485.9" cy="524.1" r="3.1"/>
<circle cx="558.7" cy="758.0" r="3.3"/>
<circle cx="489.7" cy="743.4" r="3.2"/>
<circle cx="448.3" cy="780.2" r="3.1"/>
<circle cx="374.7" cy="524.2" r="3.1"/>
<circle cx="215.2" cy="539.2" r="3.5"/>
<circle cx="196.5" cy="563.9" r="3.8"/>
<circle cx="453.9" cy="724.6" r="3.2"/>
<circle cx="541.7" cy="533.4" r="3.0"/>
<circle cx="394.3" cy="578.0" r="3.1"/>
<circle cx="439.3" cy="524.2" r="3.2"/>
<circle cx="327.5" cy="535.4" r="4.1"/>
<circle cx="193.3" cy="683.9" r="3.0"/>
<circle cx="645.8" cy="742.8" r="3.2"/>
<circle cx="417.8" cy="570.6" r="3.5"/>
<circle cx="518.4" cy="528.1" r="3.9"/>
<circle cx="612.3" cy="751.6" r="3.2"/>
<circle cx="290.7" cy="753.6" r="3.7"/>
<circle cx="192.4" cy="533.6" r="3.9"/>
<circle cx="222.9" cy="562.4" r="3.2"/>
<circle cx="134.0" cy="760.5" r="4.4"/>
<circle cx="491.8" cy="543.6" r="3.3"/>
<circle cx="566.2" cy="768.0" r="3.3"/>
<circle cx="177.2" cy="771.4" r="3.4"/>
<circle cx="357.1" cy="720.9" r="3.3"/>
<circle cx="247.2" cy="543.9" r="3.3"/>
<circle cx="660.8" cy="535.4" r="3.4"/>
<circle cx="137.2" cy="772.4" r="3.3"/>
<circle cx="616.1" cy="590.3" r="3.4"/>
<circle cx="335.6" cy="535.2" r="3.2"/>
<circle cx="225.9" cy="622.9" r="3.0"/>
<circle cx="627.7" cy="568.1" r="4.0"/>
<circle cx="635.7" cy="578.5" r="3.6"/>
<circle cx="345.3" cy="743.8" r="3.5"/>
<circle cx="509.4" cy="634.5" r="3.1"/>
<circle cx="237.6" cy="739.9" r="4.0"/>
<circle cx="632.1" cy="742.5" r="3.0"/>
<circle cx="215.7" cy="688.1" r="4.5"/>
<circle cx="324.8" cy="760.2" r="3.1"/>
<circle cx="348.7" cy="561.6" r="4.0"/>
<circle cx="655.9" cy="535.8" r="3.1"/>
<circle cx="426.5" cy="534.3" r="3.0"/>
<circle cx="548.1" cy="764.3" r="3.6"/>
<circle cx="602.5" cy="734.5" r="3.2"/>
<circle cx="366.5" cy="782.9" r="3.1"/>
<circle cx="374.8" cy="534.9" r="3.3"/>
<circle cx="502.3" cy="547.9" r="3.2"/>
<circle cx="185.3" cy="639.6" r="3.1"/>
<circle cx="567.6" cy="776.9" r="3.0"/>
<circle cx="511.1" cy="535.4" r="3.5"/>
<circle cx="254.2" cy="629.4" r="3.1"/>
<circle cx="611.3" cy="523.4" r="3.0"/>
<circle cx="370.2" cy="558.4" r="3.0"/>
<circle cx="135.9" cy="687.3" r="3.3"/>
<circle cx="453.1" cy="733.9" r="3.1"/>
<circle cx="550.1" cy="574.4" r="3.3"/>
<circle cx="564.7" cy="741.2" r="3.8"/>
<circle cx="393.0" cy="593.7" r="3.0"/>
<circle cx="655.6" cy="533.3" r="3.0"/>
<circle cx="426.5" cy="614.8" r="4.2"/>
<circle cx="529.5" cy="534.1" r="3.5"/>
<circle cx="241.5" cy="538.3" r="3.9"/>
<circle cx="580.9" cy="525.3" r="3.2"/>
<circle cx="336.6" cy="523.3" r="3.0"/>
<circle cx="398.7" cy="533.6" r="3.8"/>
<circle cx="170.9" cy="730.1" r="3.9"/>
<circle cx="286.7" cy="726.1" r="4.6"/>
<circle cx="245.7" cy="774.7" r="3.1"/>
<circle cx="394.9" cy="533.6" r="3.1"/>
<circle cx="261.3" cy="763.2" r="3.4"/>
<circle cx="519.0" cy="583.6" r="3.0"/>
<circle cx="407.0" cy="784.3" r="3.9"/>
<circle cx="550.9" cy="534.7" r="3.0"/>
<circle cx="271.5" cy="558.1" r="3.0"/>
<circle cx="396.4" cy="524.3" r="4.2"/>
<circle cx="305.5" cy="669.5" r="3.5"/>
<circle cx="499.2" cy="524.1" r="3.1"/>
<circle cx="461.5" cy="534.6" r="3.0"/>
<circle cx="319.0" cy="752.9" r="3.3"/>
<circle cx="627.7" cy="737.5" r="3.6"/>
<circle cx="526.2" cy="717.4" r="3.3"/>
<circle cx="526.5" cy="730.5" r="3.2"/>
<circle cx="310.5" cy="534.4" r="3.0"/>
<circle cx="124.6" cy="753.1" r="3.8"/>
<circle cx="203.1" cy="729.9" r="4.1"/>
<circle cx="204.8" cy="542.4" r="3.1"/>
<circle cx="422.3" cy="523.8" r="3.2"/>
<circle cx="644.1" cy="568.9" r="3.4"/>
<circle cx="389.1" cy="535.6" r="3.4"/>
<circle cx="553.9" cy="784.3" r="3.1"/>
<circle cx="209.5" cy="604.3" r="3.5"/>
<circle cx="666.3" cy="524.0" r="3.1"/>
<circle cx="234.8" cy="747.2" r="4.0"/>
<circle cx="630.4" cy="724.2" r="4.0"/>
<circle cx="223.1" cy="540.5" r="3.7"/>
<circle cx="152.2" cy="522.5" r="5.8"/>
<circle cx="592.0" cy="773.8" r="3.2"/>
<circle cx="271.9" cy="524.0" r="3.3"/>
<circle cx="593.4" cy="634.2" r="4.5"/>
<circle cx="509.6" cy="528.1" r="4.8"/>
<circle cx="315.9" cy="769.6" r="4.1"/>
<circle cx="571.8" cy="533.3" r="3.1"/>
<circle cx="417.5" cy="776.6" r="3.1"/>
<circle cx="465.6" cy="534.1" r="3.7"/>
<circle cx="626.5" cy="527.0" r="4.6"/>
<circle cx="441.2" cy="524.5" r="4.8"/>
<circle cx="242.0" cy="571.8" r="3.4"/>
<circle cx="250.6" cy="742.4" r="3.7"/>
<circle cx="258.4" cy="777.4" r="3.2"/>
<circle cx="308.8" cy="530.1" r="4.2"/>
<circle cx="639.7" cy="579.1" r="3.5"/>
<circle cx="581.4" cy="721.2" r="4.1"/>
<circle cx="217.5" cy="762.6" r="3.5"/>
<circle cx="668.3" cy="754.6" r="3.0"/>
<circle cx="599.4" cy="576.4" r="3.4"/>
<circle cx="604.6" cy="738.8" r="4.3"/>
<circle cx="296.9" cy="742.7" r="3.0"/>
<circle cx="482.8" cy="721.5" r="4.1"/>
<circle cx="606.6" cy="535.0" r="3.2"/>
<circle cx="264.0" cy="534.5" r="3.1"/>
<circle cx="553.2" cy="762.1" r="3.0"/>
<circle cx="441.4" cy="528.9" r="3.6"/>
<circle cx="607.9" cy="533.4" r="4.4"/>
<circle cx="496.5" cy="534.2" r="3.0"/>
<circle cx="524.0" cy="567.8" r="3.0"/>
<circle cx="213.8" cy="533.7" r="3.7"/>
<circle cx="358.9" cy="773.4" r="4.7"/>
<circle cx="389.9" cy="629.8" r="5.2"/>
<circle cx="296.0" cy="731.5" r="3.1"/>
<circle cx="614.6" cy="748.0" r="4.3"/>
<circle cx="377.0" cy="671.4" r="3.3"/>
<circle cx="578.4" cy="550.8" r="3.3"/>
<circle cx="429.3" cy="571.8" r="4.7"/>
<circle cx="220.2" cy="731.4" r="3.9"/>
<circle cx="521.1" cy="534.9" r="3.0"/>
<circle cx="345.2" cy="524.7" r="3.4"/>
<circle cx="426.2" cy="524.0" r="3.0"/>
<circle cx="243.6" cy="748.6" r="6.4"/>
<circle cx="351.0" cy="542.6" r="3.1"/>
<circle cx="628.0" cy="527.5" r="3.3"/>
<circle cx="556.7" cy="735.3" r="3.7"/>
<circle cx="411.8" cy="533.6" r="3.1"/>
<circle cx="623.9" cy="529.6" r="3.1"/>
<circle cx="181.7" cy="755.3" r="3.2"/>
<circle cx="488.2" cy="534.4" r="3.5"/>
<circle cx="540.1" cy="534.8" r="3.6"/>
<circle cx="496.9" cy="534.1" r="3.0"/>
<circle cx="149.9" cy="744.4" r="3.6"/>
<circle cx="277.7" cy="551.0" r="3.8"/>
<circle cx="651.5" cy="534.2" r="3.6"/>
<circle cx="135.2" cy="794.8" r="3.4"/>
<circle cx="245.4" cy="757.3" r="3.6"/>
<circle cx="367.4" cy="714.8" r="4.5"/>
<circle cx="581.3" cy="533.9" r="3.3"/>
<circle cx="284.2" cy="755.1" r="3.0"/>
<circle cx="547.2" cy="647.7" r="3.3"/>
<circle cx="433.0" cy="773.2" r="3.1"/>
<circle cx="664.2" cy="729.6" r="3.1"/>
<circle cx="366.6" cy="766.6" r="3.6"/>
<circle cx="307.2" cy="602.4" r="3.0"/>
<circle cx="146.6" cy="661.5" r="5.0"/>
<circle cx="659.3" cy="523.8" r="3.2"/>
<circle cx="305.1" cy="647.0" r="3.6"/>
<circle cx="668.4" cy="769.3" r="3.5"/>
<circle cx="420.1" cy="738.2" r="3.9"/>
<circle cx="448.2" cy="788.7" r="3.7"/>
<circle cx="377.5" cy="738.7" r="3.3"/>
<circle cx="656.7" cy="750.9" r="4.2"/>
<circle cx="140.0" cy="539.6" r="3.9"/>
<circle cx="383.9" cy="627.7" r="3.3"/>
<circle cx="615.0" cy="534.1" r="3.2"/>
<circle cx="584.9" cy="747.7" r="3.3"/>
<circle cx="304.0" cy="736.6" r="3.6"/>
<circle cx="293.2" cy="661.4" r="3.0"/>
<circle cx="156.5" cy="629.0" r="3.3"/>
<circle cx="620.8" cy="719.1" r="4.8"/>
<circle cx="416.0" cy="671.5" r="3.0"/>
<circle cx="403.5" cy="523.4" r="3.1"/>
<circle cx="603.9" cy="521.1" r="3.2"/>
<circle cx="476.0" cy="665.4" r="3.1"/>
<circle cx="445.4" cy="558.8" r="4.1"/>
<circle cx="585.9" cy="609.9" r="3.0"/>
<circle cx="481.1" cy="566.2" r="3.6"/>
<circle cx="568.4" cy="534.7" r="3.6"/>
<circle cx="147.2" cy="790.2" r="3.8"/>
<circle cx="550.4" cy="737.8" r="3.0"/>
<circle cx="235.7" cy="524.4" r="3.7"/>
<circle cx="259.2" cy="782.1" r="3.3"/>
<circle cx="366.8" cy="730.4" r="3.4"/>
<circle cx="460.7" cy="563.0" r="3.0"/>
<circle cx="395.7" cy="523.9" r="3.4"/>
<circle cx="568.1" cy="716.1" r="3.7"/>
<circle cx="533.7" cy="524.1" r="3.3"/>
<circle cx="543.4" cy="744.5" r="4.2"/>
<circle cx="657.9" cy="584.0" r="3.1"/>
<circle cx="208.9" cy="575.1" r="3.8"/>
<circle cx="251.7" cy="532.5" r="3.8"/>
<circle cx="437.9" cy="586.0" r="3.8"/>
<circle cx="363.9" cy="729.5" r="3.3"/>
<circle cx="178.3" cy="572.4" r="4.2"/>
<circle cx="427.3" cy="739.5" r="3.8"/>
<circle cx="230.1" cy="765.8" r="3.2"/>
<circle cx="602.9" cy="774.2" r="3.2"/>
<circle cx="476.8" cy="524.8" r="3.0"/>
<circle cx="208.0" cy="543.4" r="3.4"/>
<circle cx="445.7" cy="550.6" r="3.1"/>
<circle cx="575.2" cy="554.3" r="3.0"/>
<circle cx="418.7" cy="600.9" r="3.5"/>
<circle cx="260.8" cy="579.4" r="3.0"/>
<circle cx="298.8" cy="780.8" r="3.8"/>
<circle cx="229.0" cy="541.1" r="3.0"/>
<circle cx="595.0" cy="759.2" r="3.3"/>
<circle cx="353.4" cy="528.8" r="3.3"/>
<circle cx="341.9" cy="540.4" r="3.2"/>
<circle cx="204.3" cy="523.4" r="4.1"/>
<circle cx="187.6" cy="762.6" r="4.0"/>
<circle cx="320.5" cy="577.0" r="3.1"/>
<circle cx="298.4" cy="685.5" r="3.1"/>
<circle cx="587.2" cy="753.3" r="3.0"/>
<circle cx="217.2" cy="534.3" r="3.5"/>
<circle cx="542.0" cy="578.4" r="3.0"/>
<circle cx="367.1" cy="694.2" r="3.7"/>
<circle cx="222.4" cy="762.9" r="3.1"/>
<circle cx="232.2" cy="542.5" r="3.2"/>
<circle cx="396.6" cy="523.7" r="3.3"/>
<circle cx="122.5" cy="554.2" r="3.4"/>
<circle cx="357.3" cy="557.3" r="3.3"/>
<circle cx="382.7" cy="532.7" r="3.4"/>
<circle cx="595.8" cy="748.1" r="3.3"/>
<circle cx="478.7" cy="542.3" r="3.6"/>
<circle cx="450.2" cy="738.6" r="3.0"/>
<circle cx="247.0" cy="657.7" r="3.2"/>
<circle cx="635.4" cy="533.8" r="3.9"/>
<circle cx="356.6" cy="755.0" r="3.1"/>
<circle cx="547.8" cy="524.2" r="3.4"/>
<circle cx="317.6" cy="570.8" r="4.4"/>
<circle cx="417.6" cy="632.4" r="3.4"/>
<circle cx="140.8" cy="730.0" r="3.3"/>
<circle cx="612.3" cy="763.3" r="3.2"/>
<circle cx="357.0" cy="705.3" r="3.0"/>
<circle cx="484.1" cy="534.8" r="3.2"/>
<circle cx="593.8" cy="582.4" r="4.3"/>
<circle cx="535.0" cy="535.2" r="3.6"/>
<circle cx="218.1" cy="523.9" r="3.1"/>
<circle cx="361.3" cy="535.1" r="5.6"/>
<circle cx="526.6" cy="774.0" r="3.0"/>
<circle cx="465.3" cy="524.1" r="3.3"/>
<circle cx="641.1" cy="534.3" r="4.5"/>
<circle cx="313.9" cy="524.0" r="4.4"/>
<circle cx="596.0" cy="542.8" r="3.2"/>
<circle cx="364.0" cy="535.8" r="3.1"/>
<circle cx="368.3" cy="523.9" r="3.0"/>
<circle cx="576.2" cy="763.1" r="3.5"/>
<circle cx="197.1" cy="609.5" r="3.1"/>
<circle cx="316.5" cy="535.1" r="4.0"/>
<circle cx="609.6" cy="533.5" r="4.9"/>
<circle cx="274.5" cy="756.7" r="3.0"/>
<circle cx="362.8" cy="533.6" r="3.4"/>
<circle cx="347.7" cy="607.7" r="3.6"/>
<circle cx="419.1" cy="582.7" r="5.7"/>
<circle cx="655.0" cy="722.8" r="4.8"/>
<circle cx="337.4" cy="552.5" r="3.5"/>
<circle cx="301.0" cy="777.2" r="4.2"/>
<circle cx="595.6" cy="738.0" r="3.2"/>
<circle cx="448.3" cy="524.1" r="3.1"/>
<circle cx="243.7" cy="534.0" r="3.5"/>
<circle cx="509.7" cy="534.7" r="3.3"/>
<circle cx="574.1" cy="773.3" r="3.5"/>
<circle cx="290.7" cy="612.3" r="3.2"/>
<circle cx="443.7" cy="771.8" r="3.2"/>
<circle cx="483.1" cy="533.1" r="4.3"/>
<circle cx="428.7" cy="523.6" r="3.1"/>
<circle cx="625.7" cy="751.0" r="4.7"/>
<circle cx="164.7" cy="772.1" r="3.3"/>
<circle cx="477.0" cy="723.7" r="3.3"/>
<circle cx="348.5" cy="557.5" r="3.5"/>
<circle cx="539.8" cy="783.4" r="3.0"/>
<circle cx="643.9" cy="585.6" r="3.4"/>
<circle cx="124.1" cy="774.8" r="3.5"/>
<circle cx="406.8" cy="782.2" r="3.4"/>
<circle cx="496.0" cy="596.7" r="4.0"/>
<circle cx="471.6" cy="770.7" r="3.2"/>
<circle cx="617.8" cy="742.0" r="3.1"/>
<circle cx="469.3" cy="526.8" r="3.8"/>
<circle cx="142.0" cy="635.7" r="3.3"/>
<circle cx="175.0" cy="777.5" r="3.1"/>
<circle cx="523.4" cy="771.0" r="3.6"/>
<circle cx="600.7" cy="757.4" r="3.0"/>
<circle cx="150.6" cy="763.2" r="3.1"/>
<circle cx="493.1" cy="682.6" r="3.0"/>
<circle cx="550.6" cy="523.5" r="3.1"/>
<circle cx="317.7" cy="742.7" r="3.5"/>
<circle cx="224.7" cy="534.8" r="3.2"/>
<circle cx="180.3" cy="773.4" r="3.2"/>
<circle cx="441.1" cy="773.0" r="4.1"/>
<circle cx="384.5" cy="533.7" r="3.0"/>
<circle cx="221.9" cy="773.5" r="3.2"/>
<circle cx="357.5" cy="545.7" r="4.2"/>
<circle cx="333.5" cy="733.6" r="4.4"/>
<circle cx="322.9" cy="711.5" r="3.4"/>
<circle cx="247.7" cy="523.5" r="3.1"/>
<circle cx="520.1" cy="557.6" r="3.7"/>
<circle cx="253.8" cy="534.4" r="4.4"/>
<circle cx="328.9" cy="533.1" r="3.6"/>
<circle cx="523.5" cy="730.6" r="3.3"/>
<circle cx="287.3" cy="554.6" r="3.5"/>
<circle cx="313.9" cy="715.6" r="3.4"/>
<circle cx="213.0" cy="541.0" r="3.0"/>
<circle cx="509.6" cy="524.0" r="3.2"/>
<circle cx="592.2" cy="533.3" r="3.3"/>
<circle cx="508.5" cy="523.7" r="3.4"/>
<circle cx="325.2" cy="681.1" r="3.5"/>
<circle cx="338.7" cy="742.0" r="3.9"/>
<circle cx="429.0" cy="524.0" r="3.0"/>
<circle cx="315.4" cy="534.4" r="3.4"/>
<circle cx="579.7" cy="523.6" r="5.0"/>
<circle cx="603.2" cy="779.5" r="3.0"/>
<circle cx="291.3" cy="777.1" r="4.3"/>
<circle cx="431.6" cy="780.2" r="3.9"/>
<circle cx="529.1" cy="524.3" r="4.0"/>
<circle cx="342.9" cy="765.6" r="3.0"/>
<circle cx="606.7" cy="532.0" r="4.9"/>
<circle cx="445.2" cy="533.8" r="3.7"/>
<circle cx="466.9" cy="524.1" r="3.1"/>
<circle cx="358.7" cy="759.3" r="3.1"/>
<circle cx="327.6" cy="524.9" r="3.0"/>
<circle cx="122.3" cy="778.5" r="3.8"/>
<circle cx="630.8" cy="772.3" r="3.6"/>
<circle cx="496.4" cy="535.6" r="3.4"/>
<circle cx="540.9" cy="523.7" r="3.7"/>
<circle cx="667.6" cy="740.8" r="3.0"/>
<circle cx="466.2" cy="534.5" r="4.1"/>
<circle cx="265.4" cy="654.1" r="3.0"/>
<circle cx="511.7" cy="539.2" r="5.2"/>
<circle cx="367.2" cy="571.7" r="3.6"/>
<circle cx="210.0" cy="741.8" r="3.8"/>
<circle cx="585.0" cy="709.9" r="3.2"/>
<circle cx="328.4" cy="602.5" r="4.8"/>
<circle cx="294.0" cy="759.0" r="5.1"/>
<circle cx="209.1" cy="764.6" r="3.4"/>
<circle cx="282.2" cy="777.8" r="4.2"/>
<circle cx="506.9" cy="733.0" r="3.3"/>
<circle cx="578.5" cy="741.2" r="4.3"/>
<circle cx="539.6" cy="728.1" r="5.3"/>
<circle cx="484.8" cy="530.0" r="3.9"/>
<circle cx="306.0" cy="523.6" r="3.6"/>
<circle cx="178.4" cy="682.2" r="3.8"/>
<circle cx="165.2" cy="585.5" r="3.2"/>
<circle cx="337.9" cy="742.6" r="3.0"/>
<circle cx="581.8" cy="535.2" r="3.1"/>
<circle cx="405.5" cy="561.4" r="3.0"/>
<circle cx="135.3" cy="730.3" r="3.4"/>
<circle cx="234.2" cy="535.6" r="3.2"/>
<circle cx="270.3" cy="756.2" r="3.1"/>
<circle cx="208.2" cy="732.1" r="4.1"/>
<circle cx="326.4" cy="534.5" r="3.5"/>
<circle cx="191.7" cy="772.7" r="3.2"/>
<circle cx="553.6" cy="709.7" r="4.1"/>
<circle cx="449.5" cy="534.6" r="3.0"/>
<circle cx="554.2" cy="534.9" r="3.0"/>
<circle cx="340.5" cy="736.5" r="3.1"/>
<circle cx="623.6" cy="775.7" r="4.1"/>
<circle cx="124.4" cy="689.6" r="5.2"/>
<circle cx="364.0" cy="524.6" r="3.2"/>
<circle cx="618.6" cy="781.1" r="3.1"/>
<circle cx="222.5" cy="523.9" r="3.0"/>
<circle cx="596.2" cy="646.6" r="3.2"/>
<circle cx="248.7" cy="609.4" r="3.0"/>
<circle cx="616.7" cy="693.2" r="4.5"/>
<circle cx="434.0" cy="739.5" r="3.2"/>
<circle cx="513.0" cy="779.2" r="3.0"/>
<circle cx="594.7" cy="523.6" r="3.2"/>
<circle cx="306.4" cy="733.1" r="3.8"/>
<circle cx="534.3" cy="557.2" r="3.6"/>
<circle cx="226.2" cy="754.3" r="3.4"/>
<circle cx="624.0" cy="738.0" r="3.5"/>
<circle cx="291.8" cy="711.6" r="3.4"/>
<circle cx="446.1" cy="713.3" r="3.8"/>
<circle cx="656.6" cy="636.2" r="3.9"/>
<circle cx="504.1" cy="523.9" r="3.8"/>
<circle cx="261.2" cy="581.4" r="3.5"/>
<circle cx="166.2" cy="534.3" r="3.1"/>
<circle cx="515.5" cy="542.2" r="4.2"/>
<circle cx="459.7" cy="525.0" r="3.7"/>
<circle cx="670.2" cy="764.2" r="3.1"/>
<circle cx="206.3" cy="524.3" r="3.3"/>
<circle cx="417.9" cy="585.1" r="3.0"/>
<circle cx="119.6" cy="742.0" r="3.1"/>
<circle cx="307.5" cy="577.1" r="3.0"/>
<circle cx="357.7" cy="546.7" r="3.2"/>
<circle cx="162.7" cy="574.2" r="3.5"/>
<circle cx="524.8" cy="534.1" r="4.6"/>
<circle cx="614.1" cy="769.3" r="3.0"/>
<circle cx="526.3" cy="780.9" r="3.5"/>
<circle cx="569.8" cy="768.1" r="3.0"/>
<circle cx="247.9" cy="534.5" r="3.0"/>
<circle cx="250.7" cy="564.7" r="3.9"/>
<circle cx="257.9" cy="689.6" r="3.2"/>
<circle cx="365.4" cy="523.7" r="3.1"/>
<circle cx="211.2" cy="539.8" r="3.3"/>
<circle cx="191.9" cy="730.1" r="3.2"/>
<circle cx="360.3" cy="529.7" r="3.3"/>
<circle cx="515.0" cy="746.3" r="3.1"/>
<circle cx="296.8" cy="532.7" r="3.2"/>
<circle cx="293.0" cy="523.5" r="3.9"/>
<circle cx="429.8" cy="715.1" r="3.1"/>
<circle cx="610.1" cy="533.2" r="3.7"/>
<circle cx="355.6" cy="640.1" r="3.1"/>
<circle cx="518.4" cy="778.5" r="3.0"/>
<circle cx="266.0" cy="534.7" r="3.9"/>
<circle cx="578.7" cy="728.5" r="3.5"/>
<circle cx="221.4" cy="723.1" r="4.0"/>
<circle cx="213.1" cy="733.8" r="6.2"/>
<circle cx="319.8" cy="764.7" r="3.2"/>
<circle cx="279.3" cy="712.7" r="3.3"/>
<circle cx="670.6" cy="597.9" r="3.3"/>
<circle cx="418.4" cy="553.3" r="3.3"/>
<circle cx="660.4" cy="632.8" r="4.9"/>
<circle cx="553.6" cy="523.5" r="3.7"/>
<circle cx="545.1" cy="566.2" r="3.3"/>
<circle cx="429.6" cy="752.7" r="3.0"/>
<circle cx="663.5" cy="527.0" r="3.3"/>
<circle cx="164.6" cy="676.5" r="3.9"/>
<circle cx="365.2" cy="781.7" r="3.4"/>
<circle cx="357.0" cy="523.7" r="3.4"/>
<circle cx="457.0" cy="523.8" r="3.2"/>
<circle cx="293.2" cy="523.8" r="4.8"/>
<circle cx="264.9" cy="607.5" r="3.1"/>
<circle cx="442.1" cy="524.3" r="4.2"/>
<circle cx="651.7" cy="534.8" r="4.2"/>
<circle cx="358.5" cy="739.2" r="3.1"/>
<circle cx="652.6" cy="524.0" r="3.0"/>
<circle cx="561.6" cy="721.6" r="3.1"/>
<circle cx="256.4" cy="535.3" r="3.0"/>
<circle cx="441.8" cy="630.2" r="3.5"/>
<circle cx="489.7" cy="759.3" r="4.4"/>
<circle cx="309.0" cy="735.7" r="3.4"/>
<circle cx="223.9" cy="799.7" r="3.8"/>
<circle cx="331.3" cy="527.5" r="3.2"/>
<circle cx="428.9" cy="524.4" r="3.0"/>
<circle cx="351.1" cy="713.6" r="3.1"/>
<circle cx="263.2" cy="573.1" r="4.7"/>
<circle cx="431.4" cy="524.0" r="3.0"/>
<circle cx="640.0" cy="744.4" r="3.5"/>
<circle cx="384.9" cy="534.3" r="3.2"/>
<circle cx="637.4" cy="773.7" r="3.9"/>
<circle cx="574.2" cy="752.9" r="3.5"/>
<circle cx="407.7" cy="547.8" r="3.8"/>
<circle cx="654.7" cy="766.8" r="3.7"/>
<circle cx="592.5" cy="758.2" r="3.8"/>
<circle cx="270.8" cy="712.6" r="3.2"/>
<circle cx="645.5" cy="535.0" r="3.9"/>
<circle cx="615.5" cy="717.8" r="3.7"/>
<circle cx="365.1" cy="534.2" r="3.9"/>
<circle cx="229.8" cy="780.1" r="3.2"/>
<circle cx="428.2" cy="753.6" r="3.9"/>
<circle cx="618.5" cy="524.3" r="3.2"/>
<circle cx="488.4" cy="533.5" r="3.7"/>
<circle cx="169.7" cy="742.1" r="3.7"/>
<circle cx="231.6" cy="537.1" r="3.1"/>
<circle cx="221.8" cy="533.1" r="4.3"/>
<circle cx="264.0" cy="739.6" r="3.7"/>
<circle cx="285.9" cy="751.9" r="4.9"/>
<circle cx="117.8" cy="620.2" r="3.1"/>
<circle cx="441.1" cy="716.9" r="3.7"/>
<circle cx="158.9" cy="687.6" r="3.1"/>
<circle cx="224.2" cy="562.9" r="4.0"/>
<circle cx="219.9" cy="523.7" r="3.3"/>
<circle cx="352.8" cy="524.1" r="4.0"/>
<circle cx="550.2" cy="524.4" r="3.9"/>
<circle cx="657.4" cy="531.5" r="4.3"/>
<circle cx="338.9" cy="651.1" r="3.0"/>
<circle cx="584.9" cy="717.4" r="3.1"/>
<circle cx="535.5" cy="535.0" r="3.7"/>
<circle cx="526.3" cy="527.4" r="3.2"/>
<circle cx="610.2" cy="738.6" r="5.2"/>
<circle cx="639.8" cy="536.1" r="3.4"/>
<circle cx="401.6" cy="534.5" r="3.0"/>
<circle cx="525.6" cy="749.6" r="3.5"/>
<circle cx="474.1" cy="529.3" r="3.0"/>
<circle cx="563.7" cy="545.3" r="3.4"/>
<circle cx="553.0" cy="534.1" r="3.0"/>
<circle cx="624.1" cy="532.3" r="3.1"/>
<circle cx="244.2" cy="568.6" r="3.6"/>
<circle cx="404.0" cy="524.1" r="3.3"/>
<circle cx="577.6" cy="644.3" r="3.0"/>
<circle cx="650.1" cy="574.5" r="3.1"/>
<circle cx="402.2" cy="534.3" r="3.8"/>
<circle cx="529.1" cy="544.4" r="3.2"/>
<circle cx="440.6" cy="721.9" r="3.3"/>
<circle cx="446.5" cy="576.2" r="4.5"/>
<circle cx="654.9" cy="533.4" r="3.8"/>
<circle cx="137.6" cy="747.3" r="3.7"/>
<circle cx="138.7" cy="522.6" r="5.3"/>
<circle cx="372.6" cy="775.9" r="3.3"/>
<circle cx="520.9" cy="532.9" r="3.1"/>
<circle cx="412.7" cy="713.2" r="3.5"/>
<circle cx="269.0" cy="569.0" r="4.2"/>
<circle cx="199.4" cy="757.2" r="3.2"/>
<circle cx="326.3" cy="754.3" r="3.1"/>
<circle cx="211.8" cy="534.0" r="3.3"/>
<circle cx="261.1" cy="788.6" r="3.6"/>
<circle cx="624.3" cy="529.8" r="4.1"/>
<circle cx="656.6" cy="770.8" r="4.0"/>
<circle cx="655.2" cy="533.8" r="3.0"/>
<circle cx="318.2" cy="536.2" r="3.0"/>
<circle cx="243.9" cy="674.4" r="3.4"/>
<circle cx="416.7" cy="764.4" r="4.5"/>
<circle cx="545.4" cy="733.6" r="5.0"/>
<circle cx="475.5" cy="524.0" r="3.1"/>
<circle cx="462.7" cy="524.3" r="3.3"/>
<circle cx="413.2" cy="540.6" r="3.0"/>
<circle cx="621.7" cy="767.1" r="3.6"/>
<circle cx="457.4" cy="741.9" r="3.1"/>
<circle cx="561.4" cy="578.1" r="3.0"/>
<circle cx="136.1" cy="762.8" r="3.5"/>
<circle cx="356.4" cy="529.4" r="3.5"/>
<circle cx="653.0" cy="770.7" r="3.0"/>
<circle cx="645.4" cy="733.4" r="5.7"/>
<circle cx="258.3" cy="532.6" r="3.1"/>
<circle cx="369.0" cy="758.6" r="3.3"/>
<circle cx="398.5" cy="728.9" r="3.3"/>
<circle cx="466.9" cy="564.2" r="3.0"/>
<circle cx="207.9" cy="787.7" r="3.0"/>
<circle cx="316.9" cy="775.9" r="3.9"/>
<circle cx="245.0" cy="585.5" r="3.3"/>
<circle cx="399.8" cy="534.3" r="3.2"/>
<circle cx="244.9" cy="689.1" r="3.4"/>
<circle cx="165.9" cy="688.1" r="3.4"/>
<circle cx="313.2" cy="773.6" r="3.1"/>
<circle cx="343.6" cy="724.5" r="3.8"/>
<circle cx="215.8" cy="588.8" r="3.6"/>
<circle cx="407.7" cy="596.5" r="6.1"/>
<circle cx="410.1" cy="733.0" r="3.1"/>
<circle cx="122.6" cy="796.7" r="3.9"/>
<circle cx="294.4" cy="751.2" r="3.5"/>
<circle cx="415.2" cy="523.3" r="3.4"/>
<circle cx="370.6" cy="759.2" r="4.6"/>
<circle cx="435.5" cy="627.6" r="3.1"/>
<circle cx="496.0" cy="746.7" r="4.5"/>
<circle cx="617.5" cy="772.6" r="3.1"/>
<circle cx="351.3" cy="534.7" r="3.4"/>
<circle cx="343.2" cy="668.3" r="3.1"/>
<circle cx="228.7" cy="656.0" r="3.1"/>
<circle cx="522.8" cy="571.2" r="3.0"/>
<circle cx="622.8" cy="718.3" r="5.3"/>
<circle cx="296.3" cy="575.6" r="3.2"/>
<circle cx="609.9" cy="762.1" r="4.4"/>
<circle cx="572.4" cy="736.9" r="3.6"/>
<circle cx="126.8" cy="796.8" r="3.4"/>
<circle cx="161.3" cy="729.8" r="3.1"/>
<circle cx="306.4" cy="518.4" r="3.7"/>
<circle cx="534.6" cy="711.3" r="3.0"/>
<circle cx="204.9" cy="578.9" r="3.1"/>
<circle cx="525.6" cy="720.0" r="3.5"/>
<circle cx="304.9" cy="524.5" r="4.6"/>
<circle cx="347.7" cy="540.9" r="3.2"/>
<circle cx="644.2" cy="525.7" r="3.9"/>
<circle cx="333.3" cy="759.4" r="3.8"/>
<circle cx="432.8" cy="728.6" r="3.3"/>
<circle cx="588.7" cy="586.3" r="4.4"/>
<circle cx="387.1" cy="746.9" r="3.1"/>
<circle cx="665.4" cy="728.9" r="3.3"/>
<circle cx="284.6" cy="523.7" r="3.0"/>
<circle cx="210.5" cy="578.0" r="3.6"/>
<circle cx="661.7" cy="590.1" r="4.2"/>
<circle cx="183.0" cy="579.3" r="3.4"/>
<circle cx="258.5" cy="750.2" r="3.0"/>
<circle cx="322.7" cy="523.9" r="3.6"/>
<circle cx="631.3" cy="765.7" r="3.2"/>
<circle cx="650.3" cy="524.1" r="3.1"/>
<circle cx="231.0" cy="522.7" r="3.2"/>
<circle cx="660.5" cy="522.7" r="3.2"/>
<circle cx="146.6" cy="784.5" r="3.2"/>
<circle cx="490.9" cy="635.5" r="3.9"/>
<circle cx="531.5" cy="737.3" r="3.4"/>
<circle cx="231.5" cy="762.6" r="4.0"/>
<circle cx="652.4" cy="549.4" r="3.4"/>
<circle cx="309.8" cy="538.0" r="3.0"/>
<circle cx="318.2" cy="750.0" r="3.6"/>
<circle cx="572.2" cy="647.5" r="3.3"/>
<circle cx="261.9" cy="524.2" r="3.7"/>
<circle cx="285.5" cy="534.5" r="4.5"/>
<circle cx="305.7" cy="760.6" r="5.4"/>
<circle cx="339.4" cy="533.3" r="5.5"/>
<circle cx="119.1" cy="729.8" r="3.1"/>
<circle cx="646.1" cy="727.1" r="3.1"/>
<circle cx="248.4" cy="529.2" r="3.3"/>
<circle cx="359.5" cy="649.3" r="4.7"/>
<circle cx="220.0" cy="540.4" r="3.1"/>
<circle cx="444.3" cy="730.6" r="4.1"/>
<circle cx="653.8" cy="729.7" r="4.8"/>
<circle cx="474.5" cy="523.6" r="3.1"/>
<circle cx="567.0" cy="735.9" r="3.4"/>
<circle cx="474.0" cy="534.5" r="3.2"/>
<circle cx="260.1" cy="782.1" r="3.0"/>
<circle cx="584.1" cy="735.0" r="3.4"/>
<circle cx="127.6" cy="546.9" r="3.9"/>
<circle cx="214.7" cy="536.7" r="3.3"/>
<circle cx="611.1" cy="524.0" r="3.1"/>
<circle cx="339.8" cy="530.0" r="3.0"/>
<circle cx="239.5" cy="533.9" r="3.4"/>
<circle cx="391.1" cy="534.8" r="3.1"/>
<circle cx="259.2" cy="528.4" r="5.4"/>
<circle cx="364.2" cy="534.7" r="3.1"/>
<circle cx="493.0" cy="634.5" r="4.8"/>
<circle cx="526.8" cy="748.0" r="4.6"/>
<circle cx="325.4" cy="754.1" r="4.1"/>
<circle cx="329.7" cy="751.0" r="4.3"/>
<circle cx="600.3" cy="534.8" r="3.4"/>
<circle cx="224.0" cy="527.7" r="4.0"/>
<circle cx="442.5" cy="528.5" r="3.0"/>
<circle cx="438.5" cy="742.0" r="3.0"/>
<circle cx="225.3" cy="734.8" r="3.0"/>
<circle cx="543.1" cy="741.5" r="3.6"/>
<circle cx="151.4" cy="676.5" r="3.5"/>
<circle cx="301.2" cy="749.0" r="4.0"/>
<circle cx="581.9" cy="589.5" r="4.0"/>
<circle cx="383.6" cy="534.8" r="4.4"/>
<circle cx="353.6" cy="730.1" r="4.2"/>
<circle cx="223.3" cy="726.2" r="3.3"/>
<circle cx="319.9" cy="585.6" r="4.0"/>
<circle cx="167.5" cy="543.8" r="3.3"/>
<circle cx="413.3" cy="760.5" r="3.6"/>
<circle cx="445.7" cy="525.0" r="3.3"/>
<circle cx="422.4" cy="782.6" r="3.1"/>
<circle cx="336.2" cy="752.7" r="3.1"/>
<circle cx="593.8" cy="623.2" r="3.1"/>
<circle cx="273.5" cy="532.1" r="4.3"/>
<circle cx="380.0" cy="534.5" r="3.9"/>
<circle cx="371.4" cy="568.3" r="3.1"/>
<circle cx="628.9" cy="575.5" r="4.9"/>
<circle cx="350.6" cy="726.9" r="3.0"/>
<circle cx="576.5" cy="642.4" r="3.1"/>
<circle cx="366.6" cy="616.6" r="3.8"/>
<circle cx="234.9" cy="734.5" r="3.1"/>
<circle cx="293.1" cy="577.8" r="3.0"/>
<circle cx="528.4" cy="529.8" r="4.2"/>
<circle cx="286.5" cy="540.4" r="3.3"/>
<circle cx="425.6" cy="730.8" r="3.8"/>
<circle cx="639.9" cy="693.5" r="3.4"/>
<circle cx="281.7" cy="596.9" r="4.0"/>
<circle cx="400.9" cy="637.6" r="4.1"/>
<circle cx="389.2" cy="520.0" r="3.5"/>
<circle cx="563.7" cy="645.4" r="3.1"/>
<circle cx="570.3" cy="628.8" r="3.9"/>
<circle cx="511.1" cy="738.9" r="3.0"/>
<circle cx="371.6" cy="524.4" r="3.4"/>
<circle cx="642.3" cy="522.3" r="3.1"/>
<circle cx="576.7" cy="546.9" r="3.4"/>
<circle cx="534.2" cy="532.2" r="5.6"/>
<circle cx="584.9" cy="775.6" r="3.4"/>
<circle cx="517.1" cy="644.3" r="3.1"/>
<circle cx="572.4" cy="767.2" r="3.6"/>
<circle cx="391.7" cy="524.4" r="4.1"/>
<circle cx="192.6" cy="533.9" r="4.3"/>
<circle cx="494.6" cy="590.4" r="3.3"/>
<circle cx="453.7" cy="534.0" r="3.0"/>
<circle cx="268.1" cy="738.1" r="3.7"/>
<circle cx="208.6" cy="732.3" r="3.1"/>
<circle cx="420.8" cy="532.8" r="3.1"/>
<circle cx="554.0" cy="533.8" r="4.9"/>
<circle cx="366.0" cy="650.5" r="3.2"/>
<circle cx="573.8" cy="574.7" r="4.2"/>
<circle cx="599.8" cy="725.8" r="3.7"/>
<circle cx="263.3" cy="534.6" r="3.2"/>
<circle cx="447.6" cy="523.9" r="3.3"/>
<circle cx="174.4" cy="533.5" r="3.2"/>
<circle cx="661.9" cy="523.8" r="3.8"/>
<circle cx="406.3" cy="522.8" r="3.3"/>
<circle cx="492.7" cy="534.6" r="4.0"/>
<circle cx="466.0" cy="744.9" r="3.4"/>
<circle cx="618.7" cy="586.7" r="3.1"/>
<circle cx="462.0" cy="534.4" r="3.1"/>
<circle cx="384.2" cy="534.4" r="3.6"/>
<circle cx="465.9" cy="523.9" r="3.0"/>
<circle cx="259.2" cy="524.3" r="3.1"/>
<circle cx="595.7" cy="534.4" r="3.1"/>
<circle cx="352.4" cy="773.1" r="3.0"/>
<circle cx="394.5" cy="523.9" r="3.0"/>
<circle cx="508.9" cy="534.5" r="4.1"/>
<circle cx="557.6" cy="772.4" r="3.1"/>
<circle cx="346.1" cy="729.1" r="3.1"/>
<circle cx="143.5" cy="747.0" r="3.1"/>
<circle cx="272.6" cy="748.0" r="4.7"/>
<circle cx="176.8" cy="740.1" r="3.3"/>
<circle cx="467.5" cy="638.0" r="3.2"/>
<circle cx="256.1" cy="734.8" r="3.0"/>
<circle cx="387.0" cy="533.6" r="3.3"/>
<circle cx="633.3" cy="533.1" r="3.4"/>
<circle cx="569.8" cy="753.6" r="3.0"/>
<circle cx="247.4" cy="556.2" r="3.3"/>
<circle cx="342.4" cy="553.9" r="3.0"/>
<circle cx="463.5" cy="732.9" r="6.7"/>
<circle cx="310.5" cy="535.6" r="4.3"/>
<circle cx="448.5" cy="523.6" r="3.1"/>
<circle cx="251.3" cy="542.2" r="3.6"/>
<circle cx="433.5" cy="628.3" r="3.4"/>
<circle cx="484.1" cy="524.2" r="4.1"/>
<circle cx="397.6" cy="736.9" r="3.2"/>
<circle cx="417.4" cy="773.3" r="4.4"/>
<circle cx="563.6" cy="578.4" r="3.4"/>
<circle cx="123.9" cy="741.3" r="3.7"/>
<circle cx="342.1" cy="534.3" r="3.3"/>
<circle cx="527.9" cy="524.3" r="3.5"/>
<circle cx="280.9" cy="534.2" r="3.1"/>
<circle cx="143.6" cy="780.8" r="3.5"/>
<circle cx="630.0" cy="552.1" r="3.6"/>
<circle cx="310.9" cy="523.8" r="3.4"/>
<circle cx="509.1" cy="739.4" r="3.3"/>
<circle cx="379.0" cy="535.2" r="3.0"/>
<circle cx="519.0" cy="733.9" r="3.3"/>
<circle cx="526.4" cy="673.3" r="3.5"/>
<circle cx="253.7" cy="737.5" r="3.2"/>
<circle cx="582.8" cy="524.6" r="3.9"/>
<circle cx="278.3" cy="751.8" r="3.0"/>
<circle cx="501.3" cy="535.0" r="3.7"/>
<circle cx="414.4" cy="601.8" r="3.3"/>
<circle cx="219.8" cy="761.6" r="4.0"/>
<circle cx="252.8" cy="597.7" r="3.0"/>
<circle cx="388.2" cy="544.1" r="3.5"/>
<circle cx="388.4" cy="744.4" r="4.3"/>
<circle cx="232.0" cy="754.9" r="3.4"/>
<circle cx="211.2" cy="657.6" r="3.2"/>
<circle cx="623.8" cy="727.4" r="3.1"/>
<circle cx="265.3" cy="539.3" r="5.5"/>
<circle cx="504.5" cy="524.7" r="3.1"/>
<circle cx="470.7" cy="534.5" r="3.6"/>
<circle cx="504.3" cy="748.2" r="3.0"/>
<circle cx="301.5" cy="570.4" r="3.6"/>
<circle cx="458.3" cy="774.1" r="3.0"/>
<circle cx="351.2" cy="524.1" r="3.1"/>
<circle cx="641.6" cy="524.8" r="3.4"/>
<circle cx="217.8" cy="533.1" r="4.1"/>
<circle cx="486.7" cy="587.7" r="3.3"/>
<circle cx="513.7" cy="544.1" r="3.3"/>
<circle cx="236.1" cy="766.1" r="3.6"/>
<circle cx="620.7" cy="704.2" r="3.2"/>
<circle cx="409.9" cy="749.9" r="3.8"/>
<circle cx="451.4" cy="552.7" r="3.8"/>
<circle cx="669.6" cy="523.7" r="3.1"/>
<circle cx="122.5" cy="765.7" r="4.1"/>
<circle cx="622.0" cy="731.4" r="4.8"/>
<circle cx="186.0" cy="762.0" r="3.0"/>
<circle cx="134.7" cy="741.9" r="3.6"/>
<circle cx="584.9" cy="533.4" r="3.2"/>
<circle cx="391.0" cy="761.2" r="3.6"/>
<circle cx="363.1" cy="543.4" r="3.0"/>
<circle cx="504.1" cy="534.3" r="3.5"/>
<circle cx="213.8" cy="570.9" r="3.0"/>
<circle cx="237.2" cy="740.1" r="4.6"/>
<circle cx="327.9" cy="579.1" r="3.3"/>
<circle cx="328.4" cy="532.9" r="3.1"/>
<circle cx="220.2" cy="539.5" r="3.1"/>
<circle cx="162.2" cy="542.7" r="4.0"/>
<circle cx="515.3" cy="753.1" r="4.3"/>
<circle cx="522.5" cy="535.2" r="3.8"/>
<circle cx="249.8" cy="562.0" r="3.7"/>
<circle cx="288.5" cy="524.0" r="3.3"/>
<circle cx="614.5" cy="750.8" r="3.3"/>
<circle cx="176.9" cy="645.8" r="3.8"/>
<circle cx="428.5" cy="779.5" r="3.1"/>
<circle cx="260.3" cy="630.3" r="5.2"/>
<circle cx="339.2" cy="632.0" r="3.0"/>
<circle cx="393.4" cy="578.8" r="4.6"/>
<circle cx="394.6" cy="632.5" r="3.1"/>
<circle cx="455.6" cy="523.2" r="4.1"/>
<circle cx="376.1" cy="523.7" r="3.0"/>
<circle cx="301.8" cy="523.4" r="3.4"/>
<circle cx="216.3" cy="534.2" r="3.0"/>
<circle cx="414.8" cy="532.8" r="3.0"/>
<circle cx="592.9" cy="630.7" r="3.6"/>
<circle cx="146.1" cy="640.5" r="3.3"/>
<circle cx="133.4" cy="747.0" r="3.8"/>
<circle cx="573.1" cy="609.3" r="4.4"/>
<circle cx="398.4" cy="524.5" r="3.9"/>
<circle cx="652.9" cy="719.0" r="3.3"/>
<circle cx="607.5" cy="524.1" r="3.0"/>
<circle cx="541.4" cy="708.5" r="3.3"/>
<circle cx="606.4" cy="524.0" r="3.3"/>
<circle cx="418.5" cy="751.9" r="3.0"/>
<circle cx="273.4" cy="524.6" r="3.0"/>
<circle cx="435.2" cy="649.4" r="3.0"/>
<circle cx="211.7" cy="537.5" r="3.8"/>
<circle cx="658.9" cy="741.1" r="4.0"/>
<circle cx="375.8" cy="649.5" r="3.1"/>
<circle cx="252.2" cy="530.5" r="6.0"/>
<circle cx="582.2" cy="711.1" r="3.1"/>
<circle cx="441.7" cy="745.2" r="3.2"/>
<circle cx="218.9" cy="529.4" r="4.0"/>
<circle cx="532.6" cy="592.0" r="3.4"/>
<circle cx="661.0" cy="523.7" r="4.2"/>
<circle cx="424.8" cy="571.8" r="3.3"/>
<circle cx="563.1" cy="533.8" r="4.3"/>
<circle cx="205.9" cy="534.5" r="3.8"/>
<circle cx="555.6" cy="769.0" r="3.6"/>
<circle cx="461.2" cy="769.3" r="3.0"/>
<circle cx="245.3" cy="536.9" r="4.7"/>
<circle cx="115.8" cy="533.9" r="3.2"/>
<circle cx="192.0" cy="772.0" r="3.8"/>
<circle cx="131.6" cy="757.8" r="3.4"/>
<circle cx="302.3" cy="523.0" r="3.3"/>
<circle cx="415.9" cy="729.4" r="4.1"/>
<circle cx="577.1" cy="750.7" r="3.6"/>
<circle cx="314.6" cy="800.2" r="3.0"/>
<circle cx="272.0" cy="524.1" r="6.0"/>
<circle cx="466.7" cy="749.5" r="3.4"/>
<circle cx="386.2" cy="737.3" r="3.1"/>
<circle cx="650.0" cy="591.5" r="3.3"/>
<circle cx="301.8" cy="573.7" r="3.4"/>
<circle cx="550.1" cy="535.3" r="3.0"/>
<circle cx="188.5" cy="533.5" r="4.6"/>
<circle cx="360.9" cy="549.0" r="3.4"/>
<circle cx="584.2" cy="533.8" r="3.0"/>
<circle cx="295.8" cy="524.1" r="3.6"/>
<circle cx="464.1" cy="748.5" r="3.5"/>
<circle cx="668.2" cy="727.5" r="4.0"/>
<circle cx="522.5" cy="524.3" r="3.6"/>
<circle cx="634.0" cy="525.7" r="3.1"/>
<circle cx="528.2" cy="524.0" r="3.1"/>
<circle cx="211.4" cy="524.4" r="3.6"/>
<circle cx="521.1" cy="524.1" r="3.2"/>
<circle cx="262.3" cy="770.5" r="3.3"/>
<circle cx="270.6" cy="768.1" r="3.0"/>
<circle cx="427.2" cy="642.0" r="3.0"/>
<circle cx="254.4" cy="535.1" r="3.0"/>
<circle cx="419.5" cy="533.7" r="3.3"/>
<circle cx="465.6" cy="523.4" r="3.5"/>
<circle cx="124.2" cy="523.4" r="4.3"/>
<circle cx="264.3" cy="524.0" r="3.0"/>
<circle cx="599.0" cy="774.2" r="3.2"/>
<circle cx="231.0" cy="775.0" r="3.7"/>
<circle cx="548.1" cy="687.4" r="3.1"/>
<circle cx="611.5" cy="740.1" r="3.1"/>
<circle cx="403.1" cy="709.5" r="4.3"/>
<circle cx="511.9" cy="524.6" r="3.4"/>
<circle cx="389.3" cy="739.6" r="3.7"/>
<circle cx="345.0" cy="733.0" r="3.0"/>
<circle cx="368.2" cy="750.4" r="3.0"/>
<circle cx="142.7" cy="771.3" r="5.1"/>
<circle cx="242.1" cy="764.8" r="3.0"/>
<circle cx="224.8" cy="533.2" r="3.0"/>
<circle cx="669.9" cy="753.1" r="3.0"/>
<circle cx="356.4" cy="524.3" r="3.2"/>
<circle cx="644.2" cy="535.3" r="3.2"/>
<circle cx="439.2" cy="719.6" r="3.0"/>
<circle cx="428.2" cy="758.6" r="3.0"/>
<circle cx="591.2" cy="540.3" r="3.1"/>
<circle cx="538.0" cy="757.8" r="3.2"/>
<circle cx="308.4" cy="533.7" r="3.4"/>
<circle cx="369.8" cy="749.9" r="3.5"/>
<circle cx="218.6" cy="674.5" r="3.7"/>
<circle cx="204.6" cy="737.0" r="4.9"/>
<circle cx="498.4" cy="546.8" r="3.2"/>
<circle cx="451.6" cy="534.3" r="3.2"/>
<circle cx="378.5" cy="524.0" r="4.6"/>
<circle cx="570.9" cy="524.4" r="3.5"/>
<circle cx="524.9" cy="593.3" r="3.3"/>
<circle cx="590.8" cy="775.6" r="3.8"/>
<circle cx="611.6" cy="535.9" r="3.3"/>
<circle cx="215.0" cy="730.2" r="3.3"/>
<circle cx="592.1" cy="746.1" r="3.2"/>
<circle cx="559.6" cy="727.4" r="3.9"/>
<circle cx="599.4" cy="755.7" r="3.3"/>
<circle cx="473.2" cy="774.2" r="3.2"/>
<circle cx="565.1" cy="749.2" r="3.5"/>
<circle cx="423.0" cy="744.0" r="3.7"/>
<circle cx="303.3" cy="569.2" r="3.3"/>
<circle cx="533.6" cy="557.6" r="3.0"/>
<circle cx="574.4" cy="757.5" r="3.1"/>
<circle cx="354.7" cy="518.6" r="3.5"/>
<circle cx="238.3" cy="534.8" r="4.2"/>
<circle cx="247.3" cy="577.0" r="4.0"/>
<circle cx="433.2" cy="534.9" r="3.8"/>
<circle cx="213.9" cy="540.6" r="3.0"/>
<circle cx="308.9" cy="524.4" r="3.1"/>
<circle cx="606.8" cy="636.3" r="3.3"/>
<circle cx="633.6" cy="534.0" r="3.3"/>
<circle cx="350.8" cy="534.3" r="3.0"/>
<circle cx="236.7" cy="525.8" r="3.1"/>
<circle cx="655.0" cy="776.2" r="4.0"/>
<circle cx="599.2" cy="523.7" r="3.8"/>
<circle cx="394.1" cy="533.6" r="3.6"/>
<circle cx="555.9" cy="533.8" r="3.6"/>
<circle cx="649.9" cy="533.7" r="5.4"/>
<circle cx="631.7" cy="524.0" r="3.4"/>
<circle cx="554.6" cy="524.2" r="3.0"/>
<circle cx="372.4" cy="533.9" r="3.5"/>
<circle cx="435.5" cy="743.9" r="3.2"/>
<circle cx="320.3" cy="763.8" r="3.3"/>
<circle cx="447.9" cy="544.5" r="4.4"/>
<circle cx="632.8" cy="667.0" r="3.4"/>
<circle cx="424.0" cy="623.6" r="3.6"/>
<circle cx="212.0" cy="524.4" r="3.3"/>
<circle cx="628.7" cy="768.0" r="4.6"/>
<circle cx="580.6" cy="699.8" r="3.0"/>
<circle cx="622.5" cy="743.0" r="6.8"/>
<circle cx="515.3" cy="529.0" r="3.3"/>
<circle cx="208.7" cy="746.2" r="3.0"/>
<circle cx="494.9" cy="524.6" r="3.5"/>
<circle cx="461.8" cy="537.7" r="3.2"/>
<circle cx="491.7" cy="534.5" r="4.2"/>
<circle cx="540.3" cy="761.9" r="3.7"/>
<circle cx="582.9" cy="757.6" r="3.3"/>
<circle cx="323.3" cy="523.0" r="3.1"/>
<circle cx="418.4" cy="524.0" r="3.5"/>
<circle cx="615.1" cy="704.0" r="3.2"/>
<circle cx="590.9" cy="592.8" r="3.2"/>
<circle cx="632.4" cy="524.5" r="4.8"/>
<circle cx="664.5" cy="732.7" r="3.1"/>
<circle cx="279.5" cy="523.8" r="3.2"/>
<circle cx="238.0" cy="591.7" r="3.0"/>
<circle cx="187.4" cy="598.1" r="3.6"/>
<circle cx="222.3" cy="553.7" r="3.4"/>
<circle cx="564.3" cy="733.2" r="3.2"/>
<circle cx="619.3" cy="533.3" r="4.7"/>
<circle cx="372.6" cy="583.3" r="3.9"/>
<circle cx="285.8" cy="585.0" r="3.0"/>
<circle cx="347.5" cy="588.1" r="3.7"/>
<circle cx="221.0" cy="532.9" r="3.8"/>
<circle cx="602.4" cy="722.5" r="3.2"/>
<circle cx="316.7" cy="773.5" r="3.1"/>
<circle cx="347.3" cy="782.5" r="3.1"/>
<circle cx="206.6" cy="772.2" r="3.0"/>
<circle cx="387.2" cy="535.3" r="3.0"/>
<circle cx="582.1" cy="752.5" r="3.0"/>
<circle cx="654.7" cy="560.4" r="3.9"/>
<circle cx="229.0" cy="536.6" r="3.5"/>
<circle cx="226.7" cy="568.2" r="3.0"/>
<circle cx="465.1" cy="534.7" r="6.8"/>
<circle cx="559.4" cy="534.0" r="4.3"/>
<circle cx="631.6" cy="554.5" r="4.1"/>
<circle cx="139.8" cy="730.1" r="3.3"/>
<circle cx="309.4" cy="751.0" r="3.8"/>
<circle cx="523.2" cy="730.8" r="3.1"/>
<circle cx="657.3" cy="746.3" r="3.8"/>
<circle cx="163.0" cy="533.4" r="3.2"/>
<circle cx="211.8" cy="608.6" r="3.6"/>
<circle cx="460.0" cy="524.0" r="3.7"/>
<circle cx="301.6" cy="525.2" r="4.0"/>
<circle cx="266.3" cy="596.7" r="3.4"/>
<circle cx="385.4" cy="561.6" r="3.0"/>
<circle cx="366.6" cy="565.3" r="3.1"/>
<circle cx="250.3" cy="628.4" r="3.1"/>
<circle cx="610.6" cy="571.5" r="3.2"/>
<circle cx="649.1" cy="770.0" r="3.5"/>
<circle cx="422.6" cy="535.3" r="3.7"/>
<circle cx="225.8" cy="542.4" r="4.1"/>
<circle cx="129.9" cy="771.3" r="3.4"/>
<circle cx="582.0" cy="645.0" r="3.1"/>
<circle cx="405.3" cy="534.0" r="3.0"/>
<circle cx="605.1" cy="753.2" r="4.7"/>
<circle cx="564.0" cy="529.3" r="3.1"/>
<circle cx="564.8" cy="534.6" r="3.3"/>
<circle cx="327.8" cy="534.4" r="3.0"/>
<circle cx="345.3" cy="753.1" r="3.7"/>
<circle cx="377.3" cy="733.6" r="3.4"/>
<circle cx="621.4" cy="752.9" r="3.4"/>
<circle cx="291.2" cy="728.6" r="3.1"/>
<circle cx="126.2" cy="614.7" r="3.3"/>
<circle cx="489.6" cy="535.3" r="3.5"/>
<circle cx="420.2" cy="534.0" r="3.4"/>
<circle cx="349.5" cy="534.9" r="3.6"/>
<circle cx="539.0" cy="524.1" r="3.7"/>
<circle cx="429.8" cy="742.0" r="3.5"/>
<circle cx="436.8" cy="530.9" r="3.5"/>
<circle cx="503.3" cy="524.0" r="3.0"/>
<circle cx="237.2" cy="535.0" r="3.0"/>
<circle cx="487.7" cy="628.9" r="3.6"/>
<circle cx="466.1" cy="747.1" r="3.0"/>
<circle cx="311.6" cy="723.1" r="3.4"/>
<circle cx="272.2" cy="552.6" r="3.3"/>
<circle cx="295.9" cy="531.3" r="3.8"/>
<circle cx="638.0" cy="572.7" r="3.5"/>
<circle cx="177.6" cy="579.1" r="3.3"/>
<circle cx="206.8" cy="535.2" r="3.3"/>
<circle cx="236.0" cy="534.2" r="3.6"/>
<circle cx="491.7" cy="569.4" r="3.0"/>
<circle cx="420.1" cy="609.0" r="3.0"/>
<circle cx="629.5" cy="755.3" r="3.5"/>
<circle cx="538.9" cy="762.8" r="3.1"/>
<circle cx="305.6" cy="533.6" r="3.2"/>
<circle cx="334.0" cy="662.9" r="4.4"/>
<circle cx="570.3" cy="734.7" r="3.4"/>
<circle cx="368.7" cy="581.4" r="3.7"/>
<circle cx="493.2" cy="731.2" r="3.3"/>
<circle cx="589.7" cy="567.8" r="5.0"/>
<circle cx="365.0" cy="748.3" r="3.9"/>
<circle cx="626.4" cy="730.1" r="3.8"/>
<circle cx="648.7" cy="740.5" r="3.1"/>
<circle cx="374.9" cy="743.7" r="3.4"/>
<circle cx="475.3" cy="547.4" r="3.3"/>
<circle cx="448.7" cy="523.4" r="4.5"/>
<circle cx="408.7" cy="533.3" r="3.7"/>
<circle cx="148.0" cy="539.5" r="4.3"/>
<circle cx="479.5" cy="524.6" r="3.9"/>
<circle cx="613.3" cy="784.1" r="3.6"/>
<circle cx="419.9" cy="534.5" r="3.3"/>
<circle cx="172.3" cy="747.4" r="4.8"/>
<circle cx="528.6" cy="776.5" r="3.2"/>
<circle cx="656.9" cy="546.6" r="6.4"/>
<circle cx="416.8" cy="524.4" r="5.0"/>
<circle cx="381.7" cy="736.7" r="3.1"/>
<circle cx="423.6" cy="764.8" r="3.7"/>
<circle cx="315.6" cy="523.9" r="4.3"/>
<circle cx="524.0" cy="765.6" r="4.1"/>
<circle cx="496.2" cy="533.9" r="3.5"/>
<circle cx="359.8" cy="524.9" r="3.3"/>
<circle cx="550.6" cy="742.5" r="3.5"/>
<circle cx="385.1" cy="766.3" r="3.7"/>
<circle cx="303.3" cy="602.9" r="5.8"/>
<circle cx="550.4" cy="524.9" r="4.4"/>
<circle cx="659.8" cy="761.8" r="3.0"/>
<circle cx="394.0" cy="647.5" r="3.0"/>
<circle cx="232.3" cy="560.1" r="3.0"/>
<circle cx="359.8" cy="757.9" r="3.1"/>
<circle cx="280.2" cy="741.2" r="4.4"/>
<circle cx="290.1" cy="524.5" r="3.7"/>
<circle cx="495.1" cy="739.7" r="4.4"/>
<circle cx="535.2" cy="523.2" r="4.1"/>
<circle cx="461.1" cy="534.2" r="4.2"/>
<circle cx="485.4" cy="523.7" r="3.0"/>
<circle cx="313.2" cy="611.7" r="3.6"/>
<circle cx="235.8" cy="533.8" r="3.6"/>
<circle cx="291.3" cy="524.8" r="4.4"/>
<circle cx="117.4" cy="619.6" r="3.1"/>
<circle cx="313.0" cy="730.1" r="3.1"/>
<circle cx="232.8" cy="735.4" r="3.0"/>
<circle cx="540.6" cy="761.4" r="3.3"/>
<circle cx="375.8" cy="739.1" r="3.0"/>
<circle cx="433.7" cy="761.5" r="3.0"/>
<circle cx="608.2" cy="764.5" r="3.0"/>
<circle cx="593.1" cy="524.0" r="3.0"/>
<circle cx="471.7" cy="524.1" r="3.2"/>
<circle cx="216.0" cy="758.4" r="4.1"/>
<circle cx="470.1" cy="533.9" r="3.2"/>
<circle cx="395.1" cy="535.5" r="3.5"/>
<circle cx="142.6" cy="771.0" r="3.2"/>
<circle cx="211.4" cy="523.7" r="3.0"/>
<circle cx="604.8" cy="721.4" r="4.0"/>
<circle cx="625.5" cy="549.1" r="3.2"/>
<circle cx="331.7" cy="534.2" r="3.5"/>
<circle cx="486.4" cy="533.9" r="5.0"/>
<circle cx="605.2" cy="734.0" r="3.6"/>
<circle cx="504.3" cy="534.1" r="3.1"/>
<circle cx="128.5" cy="754.2" r="3.6"/>
<circle cx="377.8" cy="755.9" r="3.8"/>
<circle cx="186.6" cy="777.8" r="3.4"/>
<circle cx="306.2" cy="533.7" r="3.3"/>
<circle cx="348.5" cy="525.0" r="3.6"/>
<circle cx="232.4" cy="533.8" r="3.2"/>
<circle cx="457.3" cy="758.6" r="4.7"/>
<circle cx="645.1" cy="523.7" r="4.1"/>
<circle cx="347.4" cy="724.9" r="4.9"/>
<circle cx="509.9" cy="548.2" r="3.2"/>
<circle cx="253.5" cy="549.8" r="4.1"/>
<circle cx="335.5" cy="776.6" r="4.0"/>
<circle cx="300.0" cy="741.1" r="3.0"/>
<circle cx="229.9" cy="535.2" r="3.0"/>
<circle cx="399.3" cy="534.5" r="3.1"/>
<circle cx="562.6" cy="790.9" r="3.1"/>
<circle cx="450.9" cy="523.9" r="3.1"/>
<circle cx="628.2" cy="772.7" r="3.2"/>
<circle cx="132.7" cy="730.1" r="3.2"/>
<circle cx="533.6" cy="528.8" r="3.1"/>
<circle cx="667.3" cy="533.5" r="3.3"/>
<circle cx="572.5" cy="761.1" r="3.9"/>
<circle cx="449.7" cy="534.1" r="3.3"/>
<circle cx="496.9" cy="532.9" r="3.2"/>
<circle cx="601.5" cy="752.8" r="3.4"/>
<circle cx="566.4" cy="772.8" r="3.3"/>
<circle cx="602.2" cy="743.4" r="3.7"/>
<circle cx="124.5" cy="771.6" r="3.1"/>
<circle cx="154.2" cy="630.0" r="3.2"/>
<circle cx="458.2" cy="534.3" r="3.1"/>
<circle cx="367.5" cy="778.1" r="3.6"/>
<circle cx="340.9" cy="527.1" r="3.0"/>
<circle cx="656.3" cy="533.9" r="5.1"/>
<circle cx="212.9" cy="736.7" r="3.1"/>
<circle cx="439.2" cy="731.7" r="3.9"/>
<circle cx="470.9" cy="528.2" r="3.4"/>
<circle cx="400.4" cy="742.2" r="3.3"/>
<circle cx="116.9" cy="800.1" r="3.9"/>
<circle cx="253.9" cy="547.2" r="3.1"/>
<circle cx="534.8" cy="523.6" r="3.5"/>
<circle cx="228.8" cy="534.2" r="4.3"/>
<circle cx="437.2" cy="631.0" r="3.0"/>
<circle cx="239.3" cy="726.5" r="3.2"/>
<circle cx="414.8" cy="762.1" r="3.7"/>
<circle cx="362.3" cy="773.4" r="3.0"/>
<circle cx="441.5" cy="767.8" r="3.8"/>
<circle cx="364.7" cy="534.7" r="3.5"/>
<circle cx="425.7" cy="524.5" r="3.0"/>
<circle cx="460.6" cy="772.1" r="6.2"/>
<circle cx="380.4" cy="774.4" r="3.1"/>
<circle cx="506.2" cy="554.2" r="3.1"/>
<circle cx="642.2" cy="524.3" r="3.1"/>
<circle cx="402.7" cy="774.1" r="4.0"/>
<circle cx="385.0" cy="772.9" r="3.1"/>
<circle cx="490.2" cy="532.4" r="3.3"/>
<circle cx="379.5" cy="524.1" r="4.7"/>
<circle cx="372.5" cy="743.0" r="3.0"/>
<circle cx="448.3" cy="776.4" r="4.5"/>
<circle cx="342.6" cy="533.6" r="3.9"/>
<circle cx="260.5" cy="534.6" r="3.3"/>
<circle cx="604.8" cy="703.1" r="3.8"/>
<circle cx="120.4" cy="616.4" r="3.6"/>
<circle cx="281.9" cy="574.8" r="3.3"/>
<circle cx="637.1" cy="738.3" r="3.3"/>
<circle cx="665.8" cy="634.4" r="3.2"/>
<circle cx="316.4" cy="568.9" r="3.0"/>
<circle cx="248.2" cy="532.4" r="3.4"/>
<circle cx="484.3" cy="777.5" r="4.5"/>
<circle cx="266.8" cy="524.1" r="3.3"/>
<circle cx="283.8" cy="733.4" r="3.4"/>
<circle cx="265.5" cy="535.5" r="3.0"/>
<circle cx="366.6" cy="742.2" r="3.3"/>
<circle cx="608.1" cy="689.1" r="4.4"/>
<circle cx="531.4" cy="736.7" r="3.1"/>
<circle cx="220.9" cy="775.9" r="4.0"/>
<circle cx="193.5" cy="533.8" r="3.4"/>
<circle cx="425.0" cy="531.0" r="3.9"/>
<circle cx="618.1" cy="556.4" r="3.1"/>
<circle cx="202.3" cy="775.7" r="3.7"/>
<circle cx="264.2" cy="532.4" r="3.3"/>
<circle cx="609.2" cy="569.0" r="3.1"/>
<circle cx="644.9" cy="767.8" r="3.0"/>
<circle cx="561.9" cy="739.8" r="3.8"/>
<circle cx="463.0" cy="753.8" r="3.0"/>
<circle cx="655.9" cy="529.5" r="3.7"/>
<circle cx="263.8" cy="524.4" r="3.0"/>
<circle cx="583.0" cy="568.0" r="3.1"/>
<circle cx="214.4" cy="537.4" r="3.7"/>
<circle cx="255.2" cy="592.2" r="3.5"/>
<circle cx="542.2" cy="573.4" r="3.6"/>
<circle cx="434.3" cy="535.2" r="4.0"/>
<circle cx="572.1" cy="750.2" r="3.9"/>
<circle cx="203.3" cy="784.3" r="3.6"/>
<circle cx="272.0" cy="533.7" r="3.1"/>
<circle cx="320.6" cy="616.0" r="3.5"/>
<circle cx="543.7" cy="731.3" r="3.0"/>
<circle cx="339.9" cy="709.1" r="3.7"/>
<circle cx="132.6" cy="590.9" r="3.3"/>
<circle cx="363.3" cy="526.1" r="3.5"/>
<circle cx="418.6" cy="534.3" r="3.5"/>
<circle cx="283.0" cy="524.8" r="3.0"/>
<circle cx="502.4" cy="531.9" r="3.0"/>
<circle cx="148.6" cy="619.4" r="4.0"/>
<circle cx="196.5" cy="772.6" r="5.1"/>
<circle cx="256.1" cy="533.7" r="3.1"/>
<circle cx="336.5" cy="524.4" r="3.3"/>
<circle cx="401.9" cy="743.7" r="3.2"/>
<circle cx="542.2" cy="534.3" r="3.3"/>
<circle cx="466.8" cy="730.5" r="4.1"/>
<circle cx="633.2" cy="730.7" r="3.3"/>
<circle cx="447.3" cy="732.7" r="3.6"/>
<circle cx="417.9" cy="780.1" r="3.5"/>
<circle cx="596.3" cy="530.8" r="3.3"/>
<circle cx="527.5" cy="597.7" r="3.1"/>
<circle cx="299.8" cy="641.7" r="4.6"/>
<circle cx="477.2" cy="533.7" r="3.8"/>
<circle cx="328.7" cy="767.0" r="3.7"/>
<circle cx="370.3" cy="548.2" r="3.2"/>
<circle cx="328.9" cy="535.0" r="3.1"/>
<circle cx="582.4" cy="576.1" r="3.0"/>
<circle cx="577.5" cy="548.1" r="3.1"/>
<circle cx="575.5" cy="539.8" r="4.0"/>
<circle cx="649.8" cy="524.5" r="3.1"/>
<circle cx="460.9" cy="768.5" r="3.5"/>
<circle cx="604.3" cy="747.3" r="3.0"/>
<circle cx="237.0" cy="534.1" r="3.0"/>
<circle cx="417.3" cy="744.2" r="3.2"/>
<circle cx="288.8" cy="534.1" r="3.1"/>
<circle cx="418.2" cy="738.4" r="3.3"/>
<circle cx="184.3" cy="720.3" r="3.1"/>
<circle cx="274.5" cy="548.6" r="3.1"/>
<circle cx="645.8" cy="533.9" r="3.7"/>
<circle cx="478.7" cy="522.4" r="4.4"/>
<circle cx="551.7" cy="775.9" r="3.4"/>
<circle cx="322.0" cy="533.3" r="3.6"/>
<circle cx="201.4" cy="763.0" r="3.1"/>
<circle cx="148.0" cy="585.2" r="3.3"/>
<circle cx="447.5" cy="579.3" r="3.0"/>
<circle cx="572.8" cy="744.8" r="4.3"/>
<circle cx="392.7" cy="523.7" r="3.6"/>
<circle cx="582.1" cy="534.4" r="3.0"/>
<circle cx="609.2" cy="778.9" r="3.0"/>
<circle cx="247.2" cy="758.3" r="4.8"/>
<circle cx="265.4" cy="524.8" r="3.0"/>
<circle cx="341.6" cy="534.2" r="3.4"/>
<circle cx="287.9" cy="738.0" r="4.0"/>
<circle cx="478.2" cy="534.0" r="5.0"/>
<circle cx="575.5" cy="708.8" r="3.5"/>
<circle cx="164.5" cy="730.0" r="3.1"/>
<circle cx="557.7" cy="690.1" r="3.7"/>
<circle cx="452.2" cy="533.9" r="3.2"/>
<circle cx="527.1" cy="618.0" r="3.2"/>
<circle cx="237.2" cy="526.0" r="3.5"/>
<circle cx="329.6" cy="534.6" r="4.4"/>
<circle cx="228.5" cy="676.1" r="3.7"/>
<circle cx="541.5" cy="570.7" r="4.1"/>
<circle cx="425.2" cy="642.5" r="3.4"/>
<circle cx="477.5" cy="524.3" r="4.3"/>
<circle cx="576.6" cy="765.6" r="3.9"/>
<circle cx="353.5" cy="533.0" r="3.2"/>
<circle cx="418.0" cy="731.1" r="3.1"/>
<circle cx="430.0" cy="713.9" r="3.1"/>
<circle cx="521.9" cy="523.4" r="3.4"/>
<circle cx="631.1" cy="722.1" r="3.5"/>
<circle cx="323.0" cy="755.8" r="3.5"/>
<circle cx="632.5" cy="533.6" r="3.5"/>
<circle cx="624.4" cy="523.7" r="3.0"/>
<circle cx="224.5" cy="533.1" r="4.3"/>
<circle cx="444.4" cy="533.7" r="4.3"/>
<circle cx="387.1" cy="533.5" r="5.7"/>
<circle cx="509.6" cy="534.5" r="3.3"/>
<circle cx="610.2" cy="742.6" r="3.0"/>
<circle cx="162.2" cy="645.7" r="5.0"/>
<circle cx="502.0" cy="596.8" r="3.8"/>
<circle cx="209.7" cy="568.3" r="3.3"/>
<circle cx="116.8" cy="772.8" r="3.3"/>
<circle cx="289.1" cy="524.0" r="3.3"/>
<circle cx="233.4" cy="730.1" r="3.0"/>
<circle cx="399.5" cy="751.9" r="4.4"/>
<circle cx="313.3" cy="764.5" r="3.1"/>
<circle cx="610.4" cy="532.6" r="3.1"/>
<circle cx="568.9" cy="553.2" r="3.5"/>
<circle cx="482.7" cy="523.5" r="5.7"/>
<circle cx="427.9" cy="524.0" r="3.1"/>
<circle cx="527.2" cy="733.4" r="3.9"/>
<circle cx="625.1" cy="793.7" r="3.4"/>
<circle cx="431.7" cy="756.3" r="3.8"/>
<circle cx="211.1" cy="577.1" r="3.6"/>
<circle cx="223.8" cy="660.8" r="3.1"/>
<circle cx="407.6" cy="739.6" r="4.1"/>
<circle cx="534.7" cy="568.6" r="3.8"/>
<circle cx="375.5" cy="524.1" r="5.3"/>
<circle cx="177.5" cy="533.8" r="3.3"/>
<circle cx="226.6" cy="746.1" r="4.7"/>
<circle cx="517.3" cy="778.4" r="3.2"/>
<circle cx="362.8" cy="524.5" r="3.1"/>
<circle cx="319.6" cy="765.3" r="3.6"/>
<circle cx="113.3" cy="523.8" r="3.4"/>
<circle cx="200.6" cy="688.1" r="3.2"/>
<circle cx="620.4" cy="773.1" r="3.7"/>
<circle cx="409.0" cy="753.7" r="3.3"/>
<circle cx="579.6" cy="711.3" r="3.4"/>
<circle cx="577.2" cy="751.6" r="4.9"/>
<circle cx="303.8" cy="770.1" r="3.0"/>
<circle cx="336.7" cy="526.0" r="3.8"/>
<circle cx="180.7" cy="588.5" r="3.4"/>
<circle cx="478.0" cy="719.7" r="3.2"/>
<circle cx="664.7" cy="619.0" r="3.5"/>
<circle cx="655.1" cy="524.2" r="3.1"/>
<circle cx="463.6" cy="527.6" r="3.6"/>
<circle cx="665.5" cy="756.2" r="3.1"/>
<circle cx="475.2" cy="524.8" r="3.8"/>
<circle cx="484.8" cy="615.3" r="3.8"/>
<circle cx="539.2" cy="599.7" r="3.4"/>
<circle cx="297.3" cy="738.8" r="3.6"/>
<circle cx="557.8" cy="726.4" r="3.2"/>
<circle cx="384.3" cy="768.1" r="4.1"/>
<circle cx="631.4" cy="533.6" r="3.0"/>
<circle cx="498.0" cy="534.4" r="3.3"/>
<circle cx="227.3" cy="738.6" r="3.4"/>
<circle cx="595.6" cy="715.2" r="3.2"/>
<circle cx="479.4" cy="568.2" r="3.6"/>
<circle cx="312.6" cy="534.6" r="3.1"/>
<circle cx="524.7" cy="550.3" r="4.9"/>
<circle cx="656.2" cy="755.7" r="3.8"/>
<circle cx="138.2" cy="533.4" r="5.3"/>
<circle cx="650.1" cy="764.2" r="3.5"/>
<circle cx="512.5" cy="530.2" r="3.0"/>
<circle cx="267.9" cy="606.3" r="4.4"/>
<circle cx="589.1" cy="590.7" r="5.1"/>
<circle cx="288.1" cy="762.9" r="3.0"/>
<circle cx="483.3" cy="751.2" r="4.9"/>
<circle cx="389.1" cy="527.9" r="3.1"/>
<circle cx="205.2" cy="534.3" r="3.2"/>
<circle cx="439.3" cy="619.6" r="3.3"/>
<circle cx="553.8" cy="591.7" r="3.1"/>
<circle cx="545.4" cy="555.3" r="4.3"/>
<circle cx="256.4" cy="556.1" r="3.3"/>
<circle cx="275.3" cy="772.0" r="3.0"/>
<circle cx="448.4" cy="609.0" r="3.0"/>
<circle cx="400.8" cy="534.0" r="3.5"/>
<circle cx="624.1" cy="766.1" r="3.0"/>
<circle cx="609.7" cy="524.0" r="3.2"/>
<circle cx="413.8" cy="610.3" r="4.2"/>
<circle cx="357.3" cy="763.9" r="4.3"/>
<circle cx="295.2" cy="551.6" r="3.5"/>
<circle cx="290.8" cy="525.6" r="3.1"/>
<circle cx="387.5" cy="575.2" r="3.3"/>
<circle cx="334.0" cy="531.2" r="3.2"/>
<circle cx="496.8" cy="531.0" r="3.0"/>
<circle cx="376.9" cy="541.3" r="3.4"/>
<circle cx="638.5" cy="775.3" r="3.1"/>
<circle cx="544.9" cy="524.4" r="3.7"/>
<circle cx="493.4" cy="523.9" r="3.3"/>
<circle cx="460.6" cy="763.7" r="3.2"/>
<circle cx="503.6" cy="532.5" r="3.7"/>
<circle cx="284.6" cy="747.8" r="3.4"/>
<circle cx="556.7" cy="534.6" r="3.1"/>
<circle cx="398.6" cy="744.6" r="3.3"/>
<circle cx="388.2" cy="617.8" r="3.5"/>
<circle cx="634.2" cy="523.7" r="3.4"/>
<circle cx="203.5" cy="533.7" r="3.2"/>
<circle cx="636.5" cy="524.1" r="3.0"/>
<circle cx="538.6" cy="534.3" r="3.0"/>
<circle cx="651.2" cy="759.6" r="3.0"/>
<circle cx="445.6" cy="534.3" r="3.5"/>
<circle cx="625.5" cy="765.4" r="3.0"/>
<circle cx="398.2" cy="710.9" r="3.1"/>
<circle cx="291.9" cy="534.3" r="3.0"/>
<circle cx="449.6" cy="732.4" r="3.7"/>
<circle cx="136.8" cy="599.9" r="4.4"/>
<circle cx="304.2" cy="534.4" r="3.0"/>
<circle cx="517.5" cy="534.9" r="3.1"/>
<circle cx="428.0" cy="524.0" r="3.4"/>
<circle cx="241.8" cy="535.1" r="3.0"/>
<circle cx="378.5" cy="564.9" r="3.2"/>
<circle cx="626.5" cy="764.5" r="3.1"/>
<circle cx="319.3" cy="759.2" r="3.8"/>
<circle cx="533.1" cy="748.3" r="3.1"/>
<circle cx="536.7" cy="524.0" r="4.3"/>
<circle cx="452.1" cy="524.1" r="3.3"/>
<circle cx="337.2" cy="779.2" r="3.6"/>
<circle cx="291.1" cy="521.8" r="3.5"/>
<circle cx="466.3" cy="765.1" r="3.0"/>
<circle cx="214.8" cy="535.4" r="4.1"/>
<circle cx="440.1" cy="533.4" r="3.2"/>
<circle cx="220.7" cy="532.8" r="3.1"/>
<circle cx="559.9" cy="534.9" r="3.4"/>
<circle cx="612.1" cy="533.7" r="3.2"/>
<circle cx="475.4" cy="524.1" r="3.5"/>
<circle cx="491.0" cy="527.6" r="3.1"/>
<circle cx="622.8" cy="615.5" r="3.1"/>
<circle cx="330.1" cy="544.9" r="3.0"/>
<circle cx="465.9" cy="564.7" r="4.3"/>
<circle cx="624.9" cy="548.7" r="3.0"/>
<circle cx="299.3" cy="732.3" r="3.3"/>
<circle cx="639.6" cy="618.3" r="4.4"/>
<circle cx="664.7" cy="571.7" r="3.4"/>
<circle cx="615.9" cy="531.5" r="3.1"/>
<circle cx="430.8" cy="524.0" r="3.3"/>
<circle cx="209.1" cy="584.0" r="4.6"/>
<circle cx="511.9" cy="781.8" r="3.3"/>
<circle cx="646.9" cy="729.6" r="3.2"/>
<circle cx="489.2" cy="523.3" r="3.2"/>
<circle cx="437.5" cy="767.6" r="6.8"/>
<circle cx="488.4" cy="629.8" r="3.5"/>
<circle cx="487.4" cy="737.4" r="3.4"/>
<circle cx="595.7" cy="783.8" r="3.0"/>
<circle cx="199.1" cy="545.5" r="3.0"/>
<circle cx="205.5" cy="538.3" r="3.1"/>
<circle cx="387.4" cy="524.6" r="3.0"/>
<circle cx="489.9" cy="731.3" r="3.4"/>
<circle cx="618.3" cy="549.9" r="3.2"/>
<circle cx="341.1" cy="565.8" r="3.8"/>
<circle cx="601.2" cy="561.2" r="4.5"/>
<circle cx="190.0" cy="555.7" r="3.1"/>
<circle cx="530.9" cy="780.9" r="3.5"/>
<circle cx="322.0" cy="524.2" r="3.0"/>
<circle cx="432.7" cy="604.7" r="3.1"/>
<circle cx="357.0" cy="750.0" r="3.4"/>
<circle cx="663.7" cy="534.5" r="3.2"/>
<circle cx="156.4" cy="776.7" r="4.2"/>
<circle cx="473.8" cy="524.1" r="5.0"/>
<circle cx="546.2" cy="535.3" r="4.2"/>
<circle cx="551.6" cy="525.9" r="3.0"/>
<circle cx="438.2" cy="518.2" r="4.7"/>
<circle cx="605.4" cy="753.6" r="3.5"/>
<circle cx="288.8" cy="534.2" r="3.1"/>
<circle cx="196.8" cy="761.5" r="3.7"/>
<circle cx="254.7" cy="723.5" r="3.3"/>
<circle cx="596.0" cy="782.3" r="3.0"/>
<circle cx="425.7" cy="534.5" r="3.0"/>
<circle cx="557.7" cy="524.3" r="3.7"/>
<circle cx="231.7" cy="534.9" r="3.6"/>
<circle cx="308.7" cy="758.3" r="3.0"/>
<circle cx="578.6" cy="523.1" r="3.7"/>
<circle cx="204.4" cy="523.5" r="4.1"/>
<circle cx="410.1" cy="773.9" r="3.0"/>
<circle cx="231.2" cy="535.8" r="3.0"/>
<circle cx="344.0" cy="525.5" r="3.6"/>
<circle cx="245.6" cy="734.0" r="3.7"/>
<circle cx="307.3" cy="548.6" r="3.0"/>
<circle cx="541.5" cy="734.4" r="3.4"/>
<circle cx="174.9" cy="763.9" r="4.2"/>
<circle cx="243.7" cy="570.9" r="4.1"/>
<circle cx="373.3" cy="757.8" r="3.0"/>
<circle cx="239.2" cy="573.1" r="3.3"/>
<circle cx="330.4" cy="579.9" r="3.7"/>
<circle cx="206.4" cy="533.8" r="4.7"/>
<circle cx="288.5" cy="524.3" r="3.0"/>
<circle cx="389.6" cy="583.1" r="3.0"/>
<circle cx="184.1" cy="802.1" r="4.8"/>
<circle cx="645.6" cy="572.8" r="3.9"/>
<circle cx="409.8" cy="731.2" r="3.2"/>
<circle cx="265.5" cy="744.2" r="3.4"/>
<circle cx="210.4" cy="523.8" r="3.6"/>
<circle cx="494.6" cy="524.9" r="4.8"/>
<circle cx="597.8" cy="751.4" r="4.7"/>
<circle cx="401.2" cy="656.5" r="3.6"/>
<circle cx="510.1" cy="534.7" r="4.4"/>
<circle cx="536.2" cy="533.4" r="3.0"/>
<circle cx="498.7" cy="533.8" r="3.5"/>
<circle cx="349.4" cy="524.4" r="3.4"/>
<circle cx="458.6" cy="538.2" r="3.2"/>
<circle cx="298.1" cy="535.1" r="3.8"/>
<circle cx="239.1" cy="746.4" r="3.0"/>
<circle cx="441.3" cy="528.3" r="3.0"/>
<circle cx="455.5" cy="541.9" r="3.0"/>
<circle cx="471.6" cy="532.4" r="5.1"/>
<circle cx="289.9" cy="534.5" r="3.1"/>
<circle cx="215.4" cy="577.9" r="3.2"/>
<circle cx="543.9" cy="561.5" r="3.5"/>
<circle cx="181.5" cy="663.6" r="4.5"/>
<circle cx="458.6" cy="604.2" r="5.3"/>
<circle cx="163.4" cy="644.8" r="3.1"/>
<circle cx="621.9" cy="535.3" r="3.1"/>
<circle cx="568.8" cy="524.4" r="3.3"/>
<circle cx="388.1" cy="533.9" r="3.4"/>
<circle cx="221.1" cy="607.3" r="3.1"/>
<circle cx="477.7" cy="701.7" r="3.6"/>
<circle cx="666.9" cy="750.4" r="6.6"/>
<circle cx="364.1" cy="727.1" r="4.3"/>
<circle cx="437.4" cy="534.6" r="3.3"/>
<circle cx="633.8" cy="523.9" r="3.7"/>
<circle cx="263.2" cy="745.4" r="3.6"/>
<circle cx="456.8" cy="743.8" r="4.8"/>
<circle cx="302.2" cy="534.1" r="3.1"/>
<circle cx="359.9" cy="759.5" r="3.5"/>
<circle cx="481.2" cy="744.1" r="5.0"/>
<circle cx="329.4" cy="774.9" r="3.5"/>
<circle cx="265.8" cy="730.7" r="5.0"/>
<circle cx="328.5" cy="706.9" r="3.5"/>
<circle cx="366.5" cy="524.1" r="3.0"/>
<circle cx="351.6" cy="523.3" r="3.4"/>
<circle cx="122.0" cy="754.8" r="4.2"/>
<circle cx="297.3" cy="523.5" r="3.4"/>
<circle cx="562.2" cy="594.2" r="3.0"/>
<circle cx="274.9" cy="524.5" r="3.7"/>
<circle cx="633.3" cy="698.6" r="3.1"/>
<circle cx="211.6" cy="741.3" r="3.4"/>
<circle cx="425.7" cy="747.7" r="3.8"/>
<circle cx="325.0" cy="655.4" r="3.1"/>
<circle cx="153.5" cy="727.6" r="3.5"/>
<circle cx="261.2" cy="635.5" r="3.7"/>
<circle cx="520.6" cy="574.1" r="4.1"/>
<circle cx="308.0" cy="524.3" r="3.4"/>
<circle cx="566.9" cy="522.9" r="3.0"/>
<circle cx="662.2" cy="524.0" r="3.1"/>
<circle cx="507.8" cy="579.5" r="3.4"/>
<circle cx="324.2" cy="753.5" r="3.0"/>
<circle cx="411.2" cy="534.5" r="3.2"/>
<circle cx="214.3" cy="726.0" r="3.6"/>
<circle cx="521.5" cy="546.9" r="5.2"/>
<circle cx="363.9" cy="723.2" r="3.8"/>
<circle cx="403.1" cy="523.7" r="3.6"/>
<circle cx="599.7" cy="783.1" r="3.2"/>
<circle cx="632.7" cy="534.0" r="3.2"/>
<circle cx="481.6" cy="529.0" r="4.0"/>
<circle cx="254.9" cy="526.3" r="4.0"/>
<circle cx="585.2" cy="533.8" r="3.8"/>
<circle cx="327.5" cy="778.5" r="3.7"/>
<circle cx="558.7" cy="754.5" r="3.4"/>
<circle cx="501.7" cy="775.8" r="3.0"/>
<circle cx="550.0" cy="801.0" r="3.9"/>
<circle cx="669.5" cy="601.2" r="5.1"/>
<circle cx="225.2" cy="533.5" r="4.5"/>
<circle cx="472.5" cy="525.0" r="3.1"/>
<circle cx="394.5" cy="754.7" r="3.0"/>
<circle cx="582.6" cy="535.8" r="3.7"/>
<circle cx="559.7" cy="748.2" r="3.1"/>
<circle cx="667.0" cy="534.9" r="3.6"/>
<circle cx="621.0" cy="533.8" r="3.0"/>
<circle cx="423.7" cy="579.5" r="5.5"/>
<circle cx="440.8" cy="525.7" r="3.8"/>
<circle cx="571.5" cy="553.3" r="3.8"/>
<circle cx="551.2" cy="526.2" r="4.1"/>
<circle cx="486.9" cy="548.5" r="3.5"/>
<circle cx="655.4" cy="625.0" r="3.8"/>
<circle cx="301.2" cy="523.8" r="3.3"/>
<circle cx="461.9" cy="537.1" r="3.0"/>
<circle cx="534.9" cy="743.8" r="3.2"/>
<circle cx="576.0" cy="534.7" r="3.0"/>
<circle cx="134.7" cy="730.0" r="3.1"/>
<circle cx="263.1" cy="755.9" r="3.1"/>
<circle cx="240.3" cy="746.5" r="3.1"/>
<circle cx="576.9" cy="761.1" r="3.4"/>
<circle cx="363.8" cy="758.2" r="3.1"/>
<circle cx="122.3" cy="762.6" r="3.4"/>
<circle cx="584.7" cy="524.9" r="3.5"/>
<circle cx="670.9" cy="524.2" r="3.2"/>
<circle cx="553.3" cy="747.2" r="3.7"/>
<circle cx="615.9" cy="737.6" r="3.2"/>
<circle cx="540.5" cy="768.5" r="3.0"/>
<circle cx="444.7" cy="736.4" r="3.3"/>
<circle cx="498.8" cy="658.7" r="3.1"/>
<circle cx="494.3" cy="524.2" r="3.4"/>
<circle cx="506.4" cy="523.8" r="4.2"/>
<circle cx="490.9" cy="534.6" r="3.5"/>
<circle cx="501.4" cy="755.5" r="3.8"/>
<circle cx="555.9" cy="744.5" r="3.2"/>
<circle cx="294.1" cy="729.4" r="3.0"/>
<circle cx="467.7" cy="523.8" r="4.6"/>
<circle cx="283.2" cy="709.9" r="4.0"/>
<circle cx="262.4" cy="730.3" r="3.3"/>
<circle cx="241.8" cy="552.0" r="3.5"/>
<circle cx="500.1" cy="770.6" r="3.4"/>
<circle cx="560.4" cy="740.8" r="3.3"/>
<circle cx="561.2" cy="624.0" r="3.2"/>
<circle cx="304.9" cy="753.0" r="3.0"/>
<circle cx="488.3" cy="732.8" r="4.8"/>
<circle cx="341.7" cy="725.2" r="3.1"/>
<circle cx="596.0" cy="749.8" r="3.1"/>
<circle cx="234.9" cy="774.3" r="4.1"/>
<circle cx="289.6" cy="753.3" r="3.3"/>
<circle cx="427.0" cy="737.4" r="3.0"/>
<circle cx="180.4" cy="623.0" r="3.1"/>
<circle cx="249.5" cy="524.8" r="3.1"/>
<circle cx="351.9" cy="524.2" r="3.3"/>
<circle cx="347.1" cy="534.8" r="3.5"/>
<circle cx="231.0" cy="533.9" r="3.0"/>
<circle cx="543.4" cy="534.4" r="3.0"/>
<circle cx="226.7" cy="564.4" r="3.2"/>
<circle cx="295.7" cy="569.3" r="3.0"/>
<circle cx="153.7" cy="610.4" r="3.2"/>
<circle cx="575.3" cy="524.4" r="3.0"/>
<circle cx="509.0" cy="552.9" r="3.4"/>
<circle cx="410.2" cy="742.3" r="3.4"/>
<circle cx="263.1" cy="534.9" r="3.3"/>
<circle cx="388.7" cy="522.3" r="3.3"/>
<circle cx="306.1" cy="753.7" r="3.7"/>
<circle cx="596.5" cy="767.1" r="3.7"/>
<circle cx="501.3" cy="526.8" r="3.2"/>
<circle cx="521.4" cy="755.0" r="3.1"/>
<circle cx="594.4" cy="534.5" r="3.7"/>
<circle cx="446.4" cy="764.9" r="3.5"/>
<circle cx="309.3" cy="524.1" r="3.1"/>
<circle cx="151.8" cy="543.5" r="3.2"/>
<circle cx="265.5" cy="781.4" r="3.8"/>
<circle cx="485.7" cy="529.8" r="3.3"/>
<circle cx="532.3" cy="664.2" r="3.9"/>
<circle cx="125.7" cy="742.6" r="3.0"/>
<circle cx="573.3" cy="534.7" r="3.9"/>
<circle cx="137.4" cy="763.2" r="3.4"/>
<circle cx="585.0" cy="767.0" r="3.4"/>
<circle cx="342.2" cy="725.3" r="5.6"/>
<circle cx="603.6" cy="611.8" r="3.1"/>
<circle cx="369.7" cy="776.1" r="3.1"/>
<circle cx="369.7" cy="616.9" r="4.8"/>
<circle cx="292.8" cy="527.1" r="3.1"/>
<circle cx="464.2" cy="545.7" r="4.3"/>
<circle cx="398.4" cy="764.0" r="3.9"/>
<circle cx="472.8" cy="524.6" r="3.4"/>
<circle cx="515.3" cy="641.1" r="3.5"/>
<circle cx="515.3" cy="533.8" r="3.1"/>
<circle cx="210.9" cy="534.8" r="3.9"/>
<circle cx="186.5" cy="771.7" r="3.1"/>
<circle cx="322.6" cy="542.6" r="3.0"/>
<circle cx="131.3" cy="571.6" r="4.7"/>
<circle cx="229.2" cy="533.6" r="3.8"/>
<circle cx="604.5" cy="523.8" r="3.7"/>
<circle cx="373.9" cy="758.5" r="3.9"/>
<circle cx="566.8" cy="534.5" r="3.3"/>
<circle cx="126.4" cy="583.9" r="3.5"/>
<circle cx="435.7" cy="745.9" r="3.4"/>
<circle cx="442.3" cy="523.6" r="3.7"/>
<circle cx="470.1" cy="533.6" r="3.4"/>
<circle cx="641.2" cy="611.5" r="3.1"/>
<circle cx="357.0" cy="742.8" r="3.5"/>
<circle cx="308.6" cy="523.9" r="3.2"/>
<circle cx="591.5" cy="524.3" r="4.1"/>
<circle cx="555.6" cy="523.8" r="3.5"/>
<circle cx="515.5" cy="525.1" r="3.8"/>
<circle cx="196.9" cy="629.1" r="3.8"/>
<circle cx="240.2" cy="711.8" r="3.7"/>
<circle cx="400.3" cy="524.7" r="5.2"/>
<circle cx="367.4" cy="774.6" r="3.2"/>
<circle cx="206.8" cy="543.3" r="4.7"/>
<circle cx="419.0" cy="524.4" r="3.6"/>
<circle cx="233.7" cy="524.7" r="3.3"/>
<circle cx="419.7" cy="533.7" r="3.9"/>
<circle cx="233.4" cy="539.3" r="4.5"/>
<circle cx="425.6" cy="535.4" r="3.8"/>
<circle cx="187.9" cy="730.1" r="3.3"/>
<circle cx="434.7" cy="532.8" r="4.1"/>
<circle cx="331.8" cy="586.3" r="3.6"/>
<circle cx="427.6" cy="638.8" r="3.5"/>
<circle cx="212.0" cy="749.5" r="3.1"/>
<circle cx="327.4" cy="556.8" r="3.9"/>
<circle cx="478.5" cy="523.8" r="3.4"/>
<circle cx="650.5" cy="738.9" r="3.8"/>
<circle cx="597.8" cy="742.5" r="3.5"/>
<circle cx="558.5" cy="712.8" r="3.0"/>
<circle cx="206.0" cy="785.5" r="3.1"/>
<circle cx="436.0" cy="531.4" r="3.3"/>
<circle cx="283.1" cy="557.8" r="3.0"/>
<circle cx="486.7" cy="524.0" r="3.2"/>
<circle cx="390.0" cy="523.5" r="5.1"/>
<circle cx="435.6" cy="751.2" r="4.4"/>
<circle cx="367.1" cy="739.1" r="3.4"/>
<circle cx="148.2" cy="772.1" r="3.4"/>
<circle cx="247.0" cy="716.1" r="3.2"/>
<circle cx="308.9" cy="534.0" r="3.4"/>
<circle cx="387.3" cy="758.5" r="3.9"/>
<circle cx="358.7" cy="735.0" r="4.3"/>
<circle cx="511.1" cy="734.4" r="3.3"/>
<circle cx="256.7" cy="534.0" r="3.3"/>
<circle cx="428.6" cy="523.6" r="4.1"/>
<circle cx="363.6" cy="725.2" r="3.3"/>
<circle cx="338.6" cy="524.3" r="3.6"/>
<circle cx="286.9" cy="546.9" r="3.0"/>
<circle cx="254.2" cy="735.3" r="3.5"/>
<circle cx="650.7" cy="524.7" r="3.2"/>
<circle cx="224.4" cy="534.2" r="5.1"/>
<circle cx="366.5" cy="740.4" r="3.6"/>
<circle cx="459.3" cy="756.7" r="3.8"/>
<circle cx="456.8" cy="534.1" r="3.1"/>
<circle cx="354.4" cy="524.3" r="3.6"/>
<circle cx="310.6" cy="673.6" r="3.0"/>
<circle cx="645.4" cy="537.6" r="3.4"/>
<circle cx="522.8" cy="524.6" r="3.0"/>
<circle cx="234.4" cy="534.1" r="3.6"/>
<circle cx="529.4" cy="627.7" r="3.7"/>
<circle cx="243.5" cy="752.0" r="3.6"/>
<circle cx="524.3" cy="741.7" r="3.0"/>
<circle cx="237.9" cy="750.7" r="4.1"/>
<circle cx="478.2" cy="634.3" r="4.1"/>
<circle cx="480.2" cy="534.0" r="6.1"/>
<circle cx="237.5" cy="761.8" r="3.2"/>
<circle cx="549.9" cy="737.5" r="3.0"/>
<circle cx="432.8" cy="743.0" r="4.1"/>
<circle cx="613.4" cy="734.1" r="3.6"/>
<circle cx="660.7" cy="552.5" r="4.2"/>
<circle cx="565.8" cy="769.2" r="3.7"/>
<circle cx="669.5" cy="568.1" r="3.4"/>
<circle cx="465.1" cy="527.3" r="3.0"/>
<circle cx="234.7" cy="730.6" r="3.3"/>
<circle cx="370.5" cy="560.6" r="3.1"/>
<circle cx="338.2" cy="524.3" r="3.8"/>
<circle cx="527.4" cy="769.8" r="3.0"/>
<circle cx="609.1" cy="577.0" r="3.6"/>
<circle cx="310.6" cy="584.3" r="3.2"/>
<circle cx="373.3" cy="524.0" r="4.3"/>
<circle cx="470.9" cy="715.0" r="3.2"/>
<circle cx="295.0" cy="726.7" r="3.0"/>
<circle cx="337.4" cy="533.3" r="4.1"/>
<circle cx="528.3" cy="766.0" r="4.2"/>
<circle cx="630.3" cy="725.1" r="4.0"/>
<circle cx="301.5" cy="720.1" r="3.3"/>
<circle cx="644.1" cy="533.1" r="3.2"/>
<circle cx="243.9" cy="772.4" r="3.3"/>
<circle cx="653.9" cy="524.7" r="3.0"/>
<circle cx="533.6" cy="751.3" r="3.1"/>
<circle cx="561.4" cy="728.8" r="3.1"/>
<circle cx="452.3" cy="539.1" r="3.4"/>
<circle cx="288.2" cy="747.8" r="3.0"/>
<circle cx="337.7" cy="521.8" r="4.8"/>
<circle cx="353.8" cy="787.0" r="3.1"/>
<circle cx="377.1" cy="569.0" r="5.5"/>
<circle cx="652.4" cy="533.7" r="3.0"/>
<circle cx="539.8" cy="533.5" r="3.0"/>
<circle cx="364.5" cy="580.4" r="3.2"/>
<circle cx="630.9" cy="524.7" r="3.0"/>
<circle cx="584.7" cy="735.4" r="3.6"/>
<circle cx="418.1" cy="784.5" r="3.2"/>
<circle cx="625.0" cy="527.4" r="3.0"/>
<circle cx="661.3" cy="724.9" r="3.1"/>
<circle cx="311.9" cy="776.4" r="3.9"/>
<circle cx="280.0" cy="663.5" r="3.3"/>
<circle cx="205.4" cy="560.8" r="3.3"/>
<circle cx="339.9" cy="524.9" r="3.4"/>
<circle cx="284.6" cy="532.9" r="4.5"/>
<circle cx="286.3" cy="533.6" r="4.3"/>
<circle cx="453.1" cy="533.5" r="3.2"/>
<circle cx="652.0" cy="747.6" r="3.1"/>
<circle cx="525.6" cy="589.9" r="4.8"/>
<circle cx="513.5" cy="772.2" r="3.4"/>
<circle cx="592.0" cy="533.3" r="3.0"/>
<circle cx="534.1" cy="765.9" r="3.5"/>
<circle cx="610.7" cy="524.1" r="3.9"/>
<circle cx="234.1" cy="525.4" r="3.2"/>
<circle cx="668.2" cy="765.0" r="3.2"/>
<circle cx="362.4" cy="524.6" r="3.0"/>
<circle cx="308.0" cy="522.9" r="3.1"/>
<circle cx="256.4" cy="765.1" r="4.2"/>
<circle cx="197.8" cy="779.1" r="3.1"/>
<circle cx="577.9" cy="699.1" r="3.1"/>
<circle cx="498.9" cy="533.4" r="3.6"/>
<circle cx="206.8" cy="592.2" r="4.6"/>
<circle cx="401.7" cy="534.0" r="3.5"/>
<circle cx="254.1" cy="769.5" r="3.2"/>
<circle cx="336.1" cy="747.7" r="4.7"/>
<circle cx="658.9" cy="721.7" r="3.2"/>
<circle cx="597.7" cy="714.8" r="4.7"/>
<circle cx="246.3" cy="545.4" r="5.2"/>
<circle cx="586.5" cy="597.5" r="4.4"/>
<circle cx="316.5" cy="750.7" r="3.5"/>
<circle cx="641.0" cy="524.3" r="3.2"/>
<circle cx="197.8" cy="618.2" r="3.3"/>
<circle cx="670.6" cy="761.5" r="3.1"/>
<circle cx="376.7" cy="542.8" r="5.2"/>
<circle cx="448.4" cy="767.3" r="5.4"/>
<circle cx="618.5" cy="660.7" r="4.2"/>
<circle cx="198.7" cy="750.9" r="3.3"/>
<circle cx="141.2" cy="663.1" r="3.0"/>
<circle cx="294.4" cy="658.7" r="3.0"/>
<circle cx="556.7" cy="524.5" r="3.2"/>
<circle cx="230.3" cy="522.4" r="3.0"/>
<circle cx="402.0" cy="533.8" r="3.0"/>
<circle cx="442.9" cy="741.6" r="3.6"/>
<circle cx="244.2" cy="747.5" r="3.3"/>
<circle cx="571.3" cy="524.0" r="3.8"/>
<circle cx="308.4" cy="535.2" r="3.3"/>
<circle cx="599.9" cy="535.0" r="3.4"/>
<circle cx="207.0" cy="534.8" r="4.4"/>
<circle cx="560.0" cy="727.8" r="3.6"/>
<circle cx="352.7" cy="546.0" r="3.0"/>
<circle cx="316.5" cy="678.6" r="3.2"/>
<circle cx="406.7" cy="534.0" r="3.4"/>
<circle cx="623.4" cy="615.1" r="3.4"/>
<circle cx="439.5" cy="741.3" r="4.1"/>
<circle cx="356.9" cy="568.4" r="3.5"/>
<circle cx="347.4" cy="534.7" r="3.5"/>
<circle cx="656.0" cy="560.0" r="3.3"/>
<circle cx="326.3" cy="534.4" r="3.4"/>
<circle cx="598.5" cy="755.6" r="3.6"/>
<circle cx="467.3" cy="570.5" r="3.9"/>
<circle cx="404.6" cy="623.4" r="4.5"/>
<circle cx="302.9" cy="575.4" r="3.1"/>
<circle cx="572.9" cy="523.9" r="4.3"/>
<circle cx="588.4" cy="523.4" r="4.1"/>
<circle cx="383.5" cy="524.4" r="5.4"/>
<circle cx="290.7" cy="724.1" r="3.9"/>
<circle cx="224.6" cy="757.7" r="3.2"/>
<circle cx="365.0" cy="575.6" r="3.3"/>
<circle cx="534.2" cy="653.6" r="4.7"/>
<circle cx="269.9" cy="531.5" r="3.4"/>
<circle cx="463.7" cy="588.8" r="4.6"/>
<circle cx="491.6" cy="551.2" r="3.8"/>
<circle cx="193.8" cy="772.0" r="4.5"/>
<circle cx="604.0" cy="729.8" r="3.8"/>
<circle cx="539.2" cy="765.8" r="3.0"/>
<circle cx="294.8" cy="765.0" r="3.0"/>
<circle cx="484.5" cy="533.0" r="3.5"/>
<circle cx="266.2" cy="604.1" r="4.0"/>
<circle cx="367.8" cy="780.5" r="3.3"/>
<circle cx="569.0" cy="533.3" r="4.5"/>
<circle cx="626.5" cy="524.3" r="3.5"/>
<circle cx="296.3" cy="524.4" r="4.3"/>
<circle cx="551.6" cy="524.2" r="3.7"/>
<circle cx="169.6" cy="717.3" r="3.4"/>
<circle cx="646.7" cy="771.1" r="3.0"/>
<circle cx="493.1" cy="551.7" r="3.1"/>
<circle cx="395.4" cy="574.4" r="3.5"/>
<circle cx="257.3" cy="543.6" r="3.3"/>
<circle cx="462.3" cy="722.2" r="3.7"/>
<circle cx="561.2" cy="535.0" r="4.1"/>
<circle cx="625.2" cy="662.8" r="3.5"/>
<circle cx="217.6" cy="755.6" r="3.6"/>
<circle cx="604.7" cy="713.1" r="6.0"/>
<circle cx="425.2" cy="741.9" r="3.0"/>
<circle cx="233.7" cy="539.6" r="4.1"/>
<circle cx="297.9" cy="533.7" r="3.6"/>
<circle cx="622.0" cy="533.8" r="3.2"/>
<circle cx="541.0" cy="759.0" r="4.0"/>
<circle cx="542.5" cy="533.8" r="3.5"/>
<circle cx="298.3" cy="534.2" r="3.4"/>
<circle cx="187.1" cy="771.9" r="3.7"/>
<circle cx="611.4" cy="528.6" r="3.6"/>
<circle cx="647.1" cy="568.9" r="3.2"/>
<circle cx="262.7" cy="771.5" r="4.1"/>
<circle cx="267.4" cy="533.4" r="4.5"/>
<circle cx="257.4" cy="731.7" r="3.3"/>
<circle cx="664.9" cy="523.1" r="3.3"/>
<circle cx="457.4" cy="602.3" r="3.3"/>
<circle cx="266.7" cy="524.4" r="3.6"/>
<circle cx="292.0" cy="524.0" r="3.9"/>
<circle cx="425.6" cy="559.0" r="3.6"/>
<circle cx="596.4" cy="724.1" r="3.4"/>
<circle cx="163.9" cy="614.0" r="4.1"/>
<circle cx="228.0" cy="534.2" r="3.7"/>
<circle cx="525.2" cy="772.5" r="3.0"/>
<circle cx="237.1" cy="524.2" r="3.4"/>
<circle cx="525.9" cy="773.5" r="3.3"/>
<circle cx="657.6" cy="779.2" r="3.7"/>
<circle cx="604.7" cy="772.4" r="3.0"/>
<circle cx="289.4" cy="534.3" r="3.9"/>
<circle cx="593.7" cy="607.4" r="4.1"/>
<circle cx="364.0" cy="775.4" r="3.0"/>
<circle cx="403.6" cy="727.9" r="4.1"/>
<circle cx="456.0" cy="540.6" r="3.4"/>
<circle cx="628.2" cy="732.7" r="3.4"/>
<circle cx="429.9" cy="774.5" r="3.6"/>
<circle cx="146.9" cy="666.4" r="3.1"/>
<circle cx="351.5" cy="527.4" r="3.0"/>
<circle cx="381.8" cy="694.2" r="3.0"/>
<circle cx="455.6" cy="734.3" r="3.1"/>
<circle cx="564.7" cy="524.0" r="3.0"/>
<circle cx="595.4" cy="711.2" r="3.3"/>
<circle cx="460.0" cy="533.6" r="3.0"/>
<circle cx="142.2" cy="781.3" r="3.1"/>
<circle cx="511.6" cy="723.2" r="3.1"/>
<circle cx="228.0" cy="543.3" r="3.1"/>
<circle cx="486.1" cy="529.3" r="3.5"/>
<circle cx="472.7" cy="533.6" r="3.0"/>
<circle cx="549.3" cy="535.4" r="3.6"/>
<circle cx="439.3" cy="683.2" r="5.9"/>
<circle cx="396.7" cy="716.1" r="3.5"/>
<circle cx="536.8" cy="744.4" r="3.3"/>
<circle cx="591.5" cy="716.6" r="3.1"/>
<circle cx="513.3" cy="561.4" r="3.0"/>
<circle cx="534.2" cy="529.4" r="3.2"/>
<circle cx="400.4" cy="523.4" r="4.0"/>
<circle cx="525.8" cy="524.4" r="3.3"/>
<circle cx="280.4" cy="535.2" r="3.1"/>
<circle cx="392.2" cy="628.3" r="5.3"/>
<circle cx="127.9" cy="797.4" r="3.0"/>
<circle cx="549.9" cy="732.3" r="4.7"/>
<circle cx="526.9" cy="533.9" r="3.0"/>
<circle cx="455.3" cy="523.8" r="3.0"/>
<circle cx="206.3" cy="530.8" r="3.3"/>
<circle cx="442.0" cy="710.0" r="3.0"/>
<circle cx="340.8" cy="535.2" r="3.3"/>
<circle cx="218.8" cy="524.0" r="3.0"/>
<circle cx="604.7" cy="772.0" r="3.8"/>
<circle cx="201.0" cy="533.5" r="3.9"/>
<circle cx="349.5" cy="524.2" r="3.1"/>
<circle cx="530.2" cy="652.8" r="3.1"/>
<circle cx="552.2" cy="556.2" r="4.9"/>
<circle cx="650.8" cy="523.5" r="3.4"/>
<circle cx="415.3" cy="741.9" r="3.9"/>
<circle cx="129.2" cy="730.1" r="3.5"/>
<circle cx="547.3" cy="524.0" r="4.1"/>
<circle cx="341.9" cy="620.6" r="3.0"/>
<circle cx="293.2" cy="733.9" r="3.0"/>
<circle cx="311.9" cy="524.3" r="3.4"/>
<circle cx="545.4" cy="741.5" r="3.0"/>
<circle cx="145.5" cy="574.0" r="3.5"/>
<circle cx="434.5" cy="784.2" r="3.0"/>
<circle cx="528.4" cy="747.9" r="3.0"/>
<circle cx="410.6" cy="562.1" r="3.1"/>
<circle cx="495.1" cy="757.1" r="3.0"/>
<circle cx="526.1" cy="552.2" r="3.1"/>
<circle cx="239.2" cy="738.4" r="3.1"/>
<circle cx="380.0" cy="743.9" r="3.3"/>
<circle cx="213.4" cy="734.1" r="3.9"/>
<circle cx="253.7" cy="769.4" r="3.0"/>
<circle cx="464.2" cy="535.0" r="3.6"/>
<circle cx="166.3" cy="625.4" r="3.1"/>
<circle cx="392.3" cy="658.6" r="5.0"/>
<circle cx="383.3" cy="527.5" r="3.0"/>
<circle cx="577.9" cy="797.8" r="4.0"/>
<circle cx="441.3" cy="524.4" r="3.4"/>
<circle cx="548.5" cy="723.5" r="3.1"/>
<circle cx="367.7" cy="524.0" r="4.5"/>
<circle cx="237.3" cy="672.5" r="3.7"/>
<circle cx="520.0" cy="534.1" r="3.6"/>
<circle cx="230.8" cy="524.0" r="3.2"/>
<circle cx="467.5" cy="534.7" r="3.0"/>
<circle cx="303.4" cy="534.9" r="3.1"/>
<circle cx="660.3" cy="768.7" r="3.6"/>
<circle cx="548.5" cy="585.5" r="3.6"/>
<circle cx="533.5" cy="528.0" r="3.1"/>
<circle cx="123.4" cy="734.7" r="3.0"/>
<circle cx="596.0" cy="533.4" r="4.2"/>
<circle cx="584.1" cy="523.5" r="4.1"/>
<circle cx="159.8" cy="730.0" r="3.3"/>
<circle cx="470.2" cy="523.7" r="3.5"/>
<circle cx="366.1" cy="524.3" r="4.0"/>
<circle cx="615.9" cy="535.1" r="4.2"/>
<circle cx="330.8" cy="750.6" r="3.3"/>
<circle cx="365.7" cy="609.6" r="3.0"/>
<circle cx="455.9" cy="524.1" r="3.8"/>
<circle cx="150.6" cy="771.8" r="3.3"/>
<circle cx="383.6" cy="534.0" r="3.5"/>
<circle cx="403.1" cy="577.0" r="4.5"/>
<circle cx="599.0" cy="757.7" r="6.8"/>
<circle cx="499.5" cy="523.9" r="3.3"/>
<circle cx="642.8" cy="523.6" r="3.2"/>
<circle cx="471.3" cy="759.4" r="3.2"/>
<circle cx="338.5" cy="770.8" r="3.1"/>
<circle cx="226.2" cy="524.5" r="3.0"/>
<circle cx="403.7" cy="565.5" r="4.1"/>
<circle cx="650.7" cy="579.8" r="4.2"/>
<circle cx="534.4" cy="739.0" r="3.5"/>
<circle cx="466.6" cy="523.3" r="3.7"/>
<circle cx="669.6" cy="774.2" r="3.8"/>
<circle cx="591.0" cy="524.4" r="3.7"/>
<circle cx="633.1" cy="750.5" r="4.1"/>
<circle cx="386.5" cy="566.7" r="3.0"/>
<circle cx="490.8" cy="610.7" r="4.2"/>
<circle cx="323.0" cy="534.1" r="3.0"/>
<circle cx="530.5" cy="729.5" r="3.1"/>
<circle cx="477.0" cy="712.9" r="3.6"/>
<circle cx="252.5" cy="562.9" r="3.4"/>
<circle cx="641.0" cy="591.8" r="3.1"/>
<circle cx="222.8" cy="535.0" r="3.0"/>
<circle cx="465.3" cy="544.0" r="3.7"/>
<circle cx="576.6" cy="730.6" r="4.1"/>
<circle cx="404.8" cy="524.3" r="3.6"/>
<circle cx="303.3" cy="523.2" r="5.5"/>
<circle cx="368.0" cy="528.1" r="3.4"/>
<circle cx="224.7" cy="525.0" r="3.7"/>
<circle cx="663.6" cy="534.4" r="3.5"/>
<circle cx="149.8" cy="750.1" r="3.1"/>
<circle cx="329.0" cy="770.5" r="3.0"/>
<circle cx="421.6" cy="773.0" r="3.6"/>
<circle cx="522.0" cy="544.4" r="3.8"/>
<circle cx="508.9" cy="531.3" r="4.3"/>
<circle cx="225.9" cy="734.0" r="4.4"/>
<circle cx="515.3" cy="533.9" r="3.2"/>
<circle cx="359.1" cy="532.9" r="3.9"/>
<circle cx="599.1" cy="524.3" r="3.0"/>
<circle cx="395.5" cy="747.7" r="3.0"/>
<circle cx="353.6" cy="534.3" r="3.9"/>
<circle cx="503.5" cy="695.0" r="3.0"/>
<circle cx="138.4" cy="523.7" r="3.9"/>
<circle cx="528.0" cy="524.7" r="3.7"/>
<circle cx="594.1" cy="533.6" r="3.0"/>
<circle cx="386.2" cy="566.5" r="3.1"/>
<circle cx="175.1" cy="627.2" r="3.0"/>
<circle cx="513.1" cy="524.4" r="4.3"/>
<circle cx="327.7" cy="534.4" r="3.0"/>
<circle cx="141.7" cy="560.8" r="3.2"/>
<circle cx="267.4" cy="788.9" r="3.7"/>
<circle cx="174.9" cy="533.1" r="3.5"/>
<circle cx="284.9" cy="534.4" r="4.1"/>
<circle cx="467.6" cy="551.4" r="3.0"/>
<circle cx="521.6" cy="591.0" r="3.1"/>
<circle cx="647.5" cy="738.1" r="4.8"/>
<circle cx="333.3" cy="533.6" r="3.3"/>
<circle cx="279.3" cy="644.1" r="5.1"/>
<circle cx="277.2" cy="523.6" r="3.2"/>
<circle cx="497.2" cy="638.7" r="4.0"/>
<circle cx="311.0" cy="541.5" r="3.8"/>
<circle cx="207.6" cy="729.7" r="3.3"/>
<circle cx="369.0" cy="773.5" r="3.2"/>
<circle cx="296.5" cy="717.3" r="3.3"/>
<circle cx="402.8" cy="579.8" r="3.0"/>
<circle cx="376.0" cy="554.5" r="3.1"/>
<circle cx="414.7" cy="749.7" r="3.1"/>
<circle cx="383.7" cy="601.1" r="3.2"/>
<circle cx="641.4" cy="528.9" r="3.4"/>
<circle cx="388.9" cy="748.1" r="3.1"/>
<circle cx="377.3" cy="574.9" r="3.0"/>
<circle cx="416.2" cy="635.8" r="3.0"/>
<circle cx="411.2" cy="534.6" r="4.3"/>
<circle cx="623.2" cy="577.6" r="4.0"/>
<circle cx="625.3" cy="533.8" r="4.4"/>
<circle cx="337.2" cy="738.6" r="3.4"/>
<circle cx="531.1" cy="524.5" r="3.0"/>
<circle cx="556.9" cy="744.7" r="3.6"/>
<circle cx="607.0" cy="728.6" r="3.2"/>
<circle cx="639.9" cy="630.4" r="3.4"/>
<circle cx="646.7" cy="523.6" r="3.4"/>
<circle cx="336.7" cy="582.2" r="3.6"/>
<circle cx="390.4" cy="525.4" r="3.3"/>
<circle cx="367.0" cy="523.9" r="4.6"/>
<circle cx="334.8" cy="732.8" r="4.9"/>
<circle cx="561.8" cy="529.2" r="3.1"/>
<circle cx="435.9" cy="794.7" r="3.7"/>
<circle cx="645.1" cy="523.4" r="3.0"/>
<circle cx="567.9" cy="739.5" r="3.0"/>
<circle cx="410.6" cy="590.3" r="3.3"/>
<circle cx="402.3" cy="524.6" r="3.2"/>
<circle cx="328.9" cy="744.4" r="3.0"/>
<circle cx="293.4" cy="524.1" r="3.4"/>
<circle cx="224.1" cy="533.5" r="3.0"/>
<circle cx="540.9" cy="774.5" r="3.2"/>
<circle cx="638.9" cy="524.6" r="3.3"/>
<circle cx="462.8" cy="523.1" r="5.2"/>
<circle cx="435.4" cy="554.2" r="3.2"/>
<circle cx="609.1" cy="535.3" r="3.0"/>
<circle cx="521.1" cy="733.5" r="3.2"/>
<circle cx="207.3" cy="534.6" r="4.3"/>
<circle cx="301.4" cy="645.7" r="4.4"/>
<circle cx="353.1" cy="524.3" r="3.1"/>
<circle cx="167.6" cy="737.3" r="3.3"/>
<circle cx="557.1" cy="539.7" r="3.7"/>
<circle cx="177.7" cy="740.0" r="3.7"/>
<circle cx="400.9" cy="658.5" r="3.6"/>
<circle cx="285.3" cy="601.1" r="3.6"/>
<circle cx="437.6" cy="753.9" r="3.4"/>
<circle cx="383.5" cy="524.3" r="4.4"/>
<circle cx="621.8" cy="710.8" r="3.0"/>
<circle cx="340.6" cy="524.8" r="3.0"/>
<circle cx="378.6" cy="675.9" r="3.1"/>
<circle cx="368.1" cy="534.4" r="3.3"/>
<circle cx="611.1" cy="633.9" r="4.6"/>
<circle cx="297.4" cy="756.2" r="4.4"/>
<circle cx="323.5" cy="602.8" r="3.0"/>
<circle cx="205.0" cy="621.7" r="3.3"/>
<circle cx="238.3" cy="530.5" r="3.2"/>
<circle cx="656.0" cy="526.0" r="3.2"/>
<circle cx="229.3" cy="755.2" r="3.0"/>
<circle cx="307.9" cy="523.3" r="3.0"/>
<circle cx="618.3" cy="754.5" r="3.2"/>
<circle cx="609.9" cy="750.6" r="3.0"/>
<circle cx="464.0" cy="524.2" r="3.0"/>
<circle cx="134.1" cy="772.1" r="3.6"/>
<circle cx="444.0" cy="740.5" r="3.3"/>
<circle cx="633.2" cy="769.4" r="3.5"/>
<circle cx="164.2" cy="771.9" r="3.2"/>
<circle cx="563.4" cy="739.3" r="4.1"/>
<circle cx="267.4" cy="752.8" r="3.3"/>
<circle cx="459.5" cy="540.6" r="3.5"/>
<circle cx="441.3" cy="554.5" r="3.1"/>
<circle cx="385.2" cy="524.2" r="3.3"/>
<circle cx="286.9" cy="523.9" r="3.2"/>
<circle cx="507.9" cy="738.0" r="4.1"/>
<circle cx="340.0" cy="533.8" r="3.1"/>
<circle cx="397.7" cy="776.5" r="4.0"/>
<circle cx="199.8" cy="534.4" r="3.3"/>
<circle cx="598.1" cy="523.9" r="5.0"/>
<circle cx="536.0" cy="524.1" r="3.1"/>
<circle cx="560.1" cy="576.7" r="4.3"/>
<circle cx="464.2" cy="543.0" r="3.4"/>
<circle cx="524.5" cy="742.8" r="3.4"/>
<circle cx="512.1" cy="769.6" r="3.9"/>
<circle cx="505.4" cy="552.9" r="3.7"/>
<circle cx="619.1" cy="534.3" r="3.3"/>
<circle cx="449.8" cy="529.6" r="3.2"/>
<circle cx="512.7" cy="771.4" r="3.1"/>
<circle cx="301.4" cy="576.2" r="3.4"/>
<circle cx="211.8" cy="722.9" r="4.0"/>
<circle cx="251.8" cy="524.4" r="5.0"/>
<circle cx="592.7" cy="639.4" r="3.2"/>
<circle cx="661.7" cy="762.2" r="3.3"/>
<circle cx="168.9" cy="772.4" r="3.5"/>
<circle cx="444.9" cy="595.8" r="4.6"/>
<circle cx="236.6" cy="523.5" r="4.0"/>
<circle cx="306.9" cy="524.2" r="3.6"/>
<circle cx="639.9" cy="663.6" r="3.3"/>
<circle cx="212.7" cy="594.7" r="4.5"/>
<circle cx="292.3" cy="579.4" r="3.0"/>
<circle cx="467.4" cy="701.9" r="5.3"/>
<circle cx="602.0" cy="749.4" r="3.8"/>
<circle cx="354.8" cy="731.9" r="4.1"/>
<circle cx="451.2" cy="730.6" r="3.0"/>
<circle cx="311.9" cy="565.7" r="3.4"/>
<circle cx="630.1" cy="524.0" r="4.1"/>
<circle cx="480.6" cy="558.0" r="3.0"/>
<circle cx="494.8" cy="551.3" r="3.5"/>
<circle cx="668.8" cy="535.1" r="3.1"/>
<circle cx="275.1" cy="535.4" r="3.0"/>
<circle cx="394.4" cy="524.1" r="3.8"/>
<circle cx="275.3" cy="533.9" r="3.0"/>
<circle cx="618.2" cy="604.3" r="3.0"/>
<circle cx="501.5" cy="533.5" r="3.5"/>
<circle cx="542.7" cy="528.8" r="3.0"/>
<circle cx="386.9" cy="536.2" r="3.2"/>
<circle cx="563.7" cy="766.9" r="3.7"/>
<circle cx="327.2" cy="524.2" r="3.3"/>
<circle cx="631.6" cy="758.1" r="3.1"/>
<circle cx="287.7" cy="731.8" r="3.0"/>
<circle cx="452.3" cy="624.3" r="3.0"/>
<circle cx="223.5" cy="752.5" r="3.2"/>
<circle cx="575.4" cy="670.1" r="3.4"/>
<circle cx="479.3" cy="601.5" r="3.2"/>
<circle cx="237.2" cy="532.9" r="3.7"/>
<circle cx="454.0" cy="781.2" r="4.2"/>
<circle cx="384.2" cy="764.1" r="3.4"/>
<circle cx="163.7" cy="547.3" r="3.4"/>
<circle cx="419.2" cy="533.8" r="3.1"/>
<circle cx="373.3" cy="763.4" r="4.9"/>
<circle cx="443.9" cy="533.5" r="3.9"/>
<circle cx="408.5" cy="766.7" r="4.0"/>
<circle cx="409.5" cy="562.0" r="3.1"/>
<circle cx="172.7" cy="611.1" r="3.7"/>
<circle cx="643.7" cy="745.2" r="3.2"/>
<circle cx="230.9" cy="566.4" r="3.1"/>
<circle cx="207.2" cy="526.4" r="5.5"/>
<circle cx="425.0" cy="602.2" r="3.6"/>
<circle cx="183.3" cy="766.8" r="3.7"/>
<circle cx="607.6" cy="540.3" r="3.0"/>
<circle cx="446.6" cy="578.2" r="4.4"/>
<circle cx="525.9" cy="623.5" r="3.1"/>
<circle cx="448.4" cy="523.8" r="3.4"/>
<circle cx="418.0" cy="533.6" r="3.1"/>
<circle cx="257.1" cy="526.1" r="3.0"/>
<circle cx="418.1" cy="693.7" r="3.3"/>
<circle cx="416.4" cy="588.1" r="3.4"/>
<circle cx="419.2" cy="534.1" r="3.8"/>
<circle cx="548.9" cy="714.1" r="3.3"/>
<circle cx="333.4" cy="556.7" r="3.2"/>
<circle cx="223.7" cy="533.4" r="3.0"/>
<circle cx="365.1" cy="580.6" r="3.0"/>
<circle cx="484.9" cy="523.8" r="3.7"/>
<circle cx="226.2" cy="523.9" r="3.1"/>
<circle cx="354.3" cy="540.2" r="4.0"/>
<circle cx="343.4" cy="534.3" r="3.7"/>
<circle cx="292.7" cy="537.8" r="3.5"/>
<circle cx="475.6" cy="570.4" r="3.5"/>
<circle cx="564.2" cy="524.2" r="3.0"/>
<circle cx="114.6" cy="534.2" r="6.0"/>
<circle cx="222.0" cy="720.8" r="3.1"/>
<circle cx="626.8" cy="673.8" r="4.8"/>
<circle cx="463.3" cy="747.2" r="3.1"/>
<circle cx="236.9" cy="563.9" r="3.0"/>
<circle cx="603.0" cy="757.8" r="3.7"/>
<circle cx="410.7" cy="760.6" r="3.5"/>
<circle cx="251.4" cy="732.5" r="5.2"/>
<circle cx="464.6" cy="740.0" r="4.1"/>
<circle cx="494.8" cy="767.3" r="3.6"/>
<circle cx="130.9" cy="619.7" r="3.1"/>
<circle cx="563.7" cy="796.1" r="3.6"/>
<circle cx="561.5" cy="651.2" r="3.5"/>
<circle cx="395.4" cy="556.1" r="4.5"/>
<circle cx="390.7" cy="524.0" r="3.2"/>
<circle cx="437.9" cy="534.6" r="3.6"/>
<circle cx="387.9" cy="593.7" r="3.6"/>
<circle cx="526.6" cy="533.8" r="4.0"/>
<circle cx="340.3" cy="741.6" r="3.4"/>
<circle cx="656.8" cy="737.8" r="3.0"/>
<circle cx="193.1" cy="570.4" r="3.1"/>
<circle cx="229.6" cy="735.3" r="3.3"/>
<circle cx="405.0" cy="546.0" r="3.8"/>
<circle cx="605.5" cy="755.0" r="3.8"/>
<circle cx="580.2" cy="759.6" r="3.1"/>
<circle cx="215.9" cy="532.4" r="3.4"/>
<circle cx="302.6" cy="664.5" r="3.1"/>
<circle cx="153.9" cy="753.7" r="3.2"/>
<circle cx="173.3" cy="731.7" r="4.6"/>
<circle cx="524.9" cy="728.6" r="5.3"/>
<circle cx="438.0" cy="773.1" r="4.0"/>
<circle cx="305.1" cy="569.5" r="3.4"/>
<circle cx="508.0" cy="526.4" r="3.4"/>
<circle cx="122.0" cy="729.8" r="4.7"/>
<circle cx="521.0" cy="746.0" r="3.2"/>
<circle cx="576.4" cy="773.1" r="3.6"/>
<circle cx="409.6" cy="745.8" r="4.5"/>
<circle cx="566.9" cy="712.9" r="3.2"/>
<circle cx="562.7" cy="737.0" r="3.1"/>
<circle cx="528.1" cy="734.2" r="3.2"/>
<circle cx="427.1" cy="742.8" r="3.4"/>
<circle cx="365.1" cy="748.8" r="3.1"/>
<circle cx="518.4" cy="522.5" r="3.4"/>
<circle cx="351.3" cy="534.2" r="4.2"/>
<circle cx="663.6" cy="535.0" r="3.5"/>
<circle cx="526.7" cy="776.1" r="3.1"/>
<circle cx="573.5" cy="649.9" r="4.0"/>
<circle cx="453.1" cy="534.8" r="3.5"/>
<circle cx="649.8" cy="524.7" r="3.1"/>
<circle cx="415.6" cy="727.9" r="3.2"/>
<circle cx="225.4" cy="559.9" r="3.6"/>
<circle cx="296.7" cy="554.1" r="5.1"/>
<circle cx="444.9" cy="742.3" r="3.7"/>
<circle cx="604.5" cy="534.4" r="3.2"/>
<circle cx="345.5" cy="721.5" r="3.3"/>
<circle cx="442.7" cy="524.1" r="3.5"/>
<circle cx="606.2" cy="631.7" r="4.3"/>
<circle cx="252.5" cy="579.8" r="4.5"/>
<circle cx="418.3" cy="528.2" r="4.7"/>
<circle cx="380.3" cy="523.9" r="3.3"/>
<circle cx="421.0" cy="595.6" r="3.0"/>
<circle cx="511.7" cy="740.4" r="3.4"/>
<circle cx="394.0" cy="545.6" r="3.6"/>
<circle cx="280.4" cy="713.4" r="3.1"/>
<circle cx="360.7" cy="533.7" r="3.0"/>
<circle cx="262.3" cy="578.1" r="3.1"/>
<circle cx="220.1" cy="566.1" r="3.7"/>
<circle cx="451.4" cy="763.1" r="3.0"/>
<circle cx="654.9" cy="524.4" r="4.0"/>
<circle cx="284.5" cy="731.0" r="3.0"/>
<circle cx="349.0" cy="610.9" r="3.2"/>
<circle cx="417.9" cy="777.2" r="3.3"/>
<circle cx="278.1" cy="765.9" r="3.4"/>
<circle cx="651.1" cy="534.5" r="3.2"/>
<circle cx="657.6" cy="763.7" r="3.2"/>
<circle cx="477.3" cy="530.4" r="3.1"/>
<circle cx="398.8" cy="524.5" r="3.1"/>
<circle cx="613.5" cy="637.3" r="3.7"/>
<circle cx="493.0" cy="627.7" r="3.0"/>
<circle cx="666.1" cy="754.7" r="4.0"/>
<circle cx="539.6" cy="534.8" r="3.2"/>
<circle cx="581.7" cy="736.1" r="4.3"/>
<circle cx="458.7" cy="523.8" r="3.5"/>
<circle cx="228.1" cy="534.4" r="4.0"/>
<circle cx="644.6" cy="523.9" r="3.1"/>
<circle cx="447.5" cy="602.9" r="3.6"/>
<circle cx="505.7" cy="534.5" r="3.0"/>
<circle cx="173.6" cy="772.0" r="3.1"/>
<circle cx="166.8" cy="600.2" r="4.5"/>
<circle cx="378.3" cy="660.2" r="3.4"/>
<circle cx="553.5" cy="584.0" r="4.8"/>
<circle cx="133.6" cy="771.6" r="3.2"/>
<circle cx="595.0" cy="754.6" r="3.3"/>
<circle cx="185.0" cy="579.7" r="3.0"/>
<circle cx="637.7" cy="524.1" r="3.1"/>
<circle cx="319.6" cy="624.2" r="3.1"/>
<circle cx="484.9" cy="533.9" r="3.5"/>
<circle cx="407.2" cy="750.9" r="3.2"/>
<circle cx="531.0" cy="769.7" r="3.6"/>
<circle cx="232.8" cy="745.0" r="3.1"/>
<circle cx="651.7" cy="530.9" r="3.0"/>
<circle cx="376.7" cy="563.2" r="3.0"/>
<circle cx="584.6" cy="523.9" r="3.0"/>
<circle cx="491.4" cy="723.2" r="3.5"/>
<circle cx="251.9" cy="530.7" r="3.2"/>
<circle cx="369.5" cy="553.8" r="3.4"/>
<circle cx="378.1" cy="757.8" r="3.6"/>
<circle cx="518.4" cy="784.1" r="3.5"/>
<circle cx="337.6" cy="779.1" r="3.0"/>
<circle cx="387.9" cy="523.9" r="3.5"/>
<circle cx="385.7" cy="535.3" r="4.0"/>
<circle cx="228.4" cy="742.4" r="3.3"/>
<circle cx="137.2" cy="559.7" r="3.4"/>
<circle cx="323.6" cy="767.6" r="3.9"/>
<circle cx="329.9" cy="738.4" r="3.3"/>
<circle cx="387.2" cy="534.1" r="3.1"/>
<circle cx="199.0" cy="534.1" r="3.2"/>
<circle cx="667.3" cy="535.2" r="3.7"/>
<circle cx="385.6" cy="580.9" r="4.1"/>
<circle cx="159.9" cy="737.6" r="3.1"/>
<circle cx="113.0" cy="755.4" r="3.8"/>
<circle cx="169.9" cy="688.2" r="4.1"/>
<circle cx="337.1" cy="528.6" r="4.4"/>
<circle cx="225.9" cy="535.7" r="3.3"/>
<circle cx="221.4" cy="541.0" r="3.1"/>
<circle cx="602.2" cy="767.5" r="3.1"/>
<circle cx="494.1" cy="535.0" r="3.4"/>
<circle cx="552.2" cy="533.0" r="3.3"/>
<circle cx="357.3" cy="533.8" r="3.9"/>
<circle cx="634.2" cy="523.8" r="3.6"/>
<circle cx="554.4" cy="748.3" r="3.1"/>
<circle cx="612.6" cy="739.0" r="3.0"/>
<circle cx="501.6" cy="752.3" r="3.7"/>
<circle cx="436.8" cy="770.8" r="5.6"/>
<circle cx="413.5" cy="524.1" r="3.5"/>
<circle cx="306.8" cy="722.9" r="3.8"/>
<circle cx="252.2" cy="683.0" r="3.1"/>
<circle cx="206.6" cy="647.9" r="4.2"/>
<circle cx="180.3" cy="729.9" r="3.2"/>
<circle cx="661.9" cy="764.6" r="3.4"/>
<circle cx="331.5" cy="534.2" r="3.5"/>
<circle cx="631.0" cy="579.0" r="3.9"/>
<circle cx="606.7" cy="770.3" r="4.3"/>
<circle cx="247.9" cy="760.4" r="4.1"/>
<circle cx="347.7" cy="776.8" r="3.1"/>
<circle cx="516.2" cy="534.9" r="3.1"/>
<circle cx="669.6" cy="524.2" r="3.8"/>
<circle cx="604.5" cy="526.4" r="4.9"/>
<circle cx="302.4" cy="533.7" r="3.1"/>
<circle cx="186.7" cy="523.5" r="3.4"/>
<circle cx="260.3" cy="670.9" r="3.2"/>
<circle cx="611.3" cy="777.8" r="3.2"/>
<circle cx="465.5" cy="546.6" r="3.0"/>
<circle cx="583.9" cy="744.5" r="3.7"/>
<circle cx="424.7" cy="728.8" r="3.7"/>
<circle cx="291.4" cy="766.2" r="3.0"/>
<circle cx="573.0" cy="745.5" r="3.8"/>
<circle cx="574.8" cy="535.0" r="3.2"/>
<circle cx="196.1" cy="546.8" r="3.8"/>
<circle cx="421.4" cy="536.4" r="3.2"/>
<circle cx="527.7" cy="768.0" r="3.1"/>
<circle cx="264.3" cy="523.4" r="3.0"/>
<circle cx="215.0" cy="523.8" r="3.0"/>
<circle cx="222.5" cy="733.7" r="3.1"/>
<circle cx="438.3" cy="528.1" r="3.4"/>
<circle cx="594.4" cy="524.2" r="3.0"/>
<circle cx="263.1" cy="762.1" r="3.9"/>
<circle cx="520.9" cy="558.1" r="3.7"/>
<circle cx="523.5" cy="534.3" r="3.5"/>
<circle cx="383.4" cy="557.2" r="3.3"/>
<circle cx="559.1" cy="533.9" r="3.6"/>
<circle cx="630.7" cy="601.9" r="3.0"/>
<circle cx="385.0" cy="524.3" r="3.4"/>
<circle cx="436.0" cy="730.0" r="3.4"/>
<circle cx="370.5" cy="601.4" r="3.6"/>
<circle cx="563.0" cy="575.1" r="4.1"/>
<circle cx="648.5" cy="558.8" r="3.0"/>
<circle cx="384.7" cy="746.9" r="3.0"/>
<circle cx="594.4" cy="731.4" r="3.8"/>
<circle cx="328.0" cy="524.8" r="3.4"/>
<circle cx="307.7" cy="736.7" r="3.0"/>
<circle cx="386.5" cy="523.9" r="4.0"/>
<circle cx="225.4" cy="567.2" r="3.7"/>
<circle cx="503.1" cy="524.2" r="4.2"/>
<circle cx="278.5" cy="728.6" r="3.1"/>
<circle cx="158.4" cy="744.0" r="3.8"/>
<circle cx="284.2" cy="636.1" r="3.2"/>
<circle cx="569.1" cy="524.4" r="4.6"/>
<circle cx="575.0" cy="525.0" r="3.8"/>
<circle cx="542.7" cy="524.5" r="3.2"/>
<circle cx="413.5" cy="678.1" r="4.0"/>
<circle cx="342.8" cy="731.4" r="3.0"/>
<circle cx="178.1" cy="688.2" r="3.8"/>
<circle cx="601.5" cy="526.3" r="3.4"/>
<circle cx="420.1" cy="529.1" r="3.6"/>
<circle cx="392.6" cy="767.5" r="3.3"/>
<circle cx="402.6" cy="557.7" r="3.1"/>
<circle cx="256.4" cy="564.5" r="3.2"/>
<circle cx="248.6" cy="523.6" r="3.9"/>
<circle cx="590.3" cy="528.3" r="3.7"/>
<circle cx="615.1" cy="749.1" r="3.4"/>
<circle cx="666.6" cy="771.7" r="3.4"/>
<circle cx="632.4" cy="635.8" r="3.0"/>
<circle cx="660.4" cy="750.2" r="3.4"/>
<circle cx="585.3" cy="534.2" r="3.3"/>
<circle cx="458.2" cy="744.3" r="3.2"/>
<circle cx="326.0" cy="737.9" r="3.7"/>
<circle cx="386.4" cy="524.1" r="3.2"/>
<circle cx="326.1" cy="533.0" r="3.7"/>
<circle cx="623.6" cy="529.1" r="3.1"/>
<circle cx="167.9" cy="679.3" r="4.9"/>
<circle cx="267.9" cy="738.2" r="3.2"/>
<circle cx="537.0" cy="599.2" r="3.3"/>
<circle cx="612.0" cy="776.3" r="3.6"/>
<circle cx="117.1" cy="641.8" r="5.4"/>
<circle cx="506.5" cy="763.1" r="3.0"/>
<circle cx="544.6" cy="572.8" r="3.5"/>
<circle cx="366.7" cy="778.7" r="3.3"/>
<circle cx="293.8" cy="534.4" r="3.2"/>
<circle cx="613.7" cy="744.8" r="3.2"/>
<circle cx="327.4" cy="548.1" r="3.5"/>
<circle cx="642.7" cy="543.3" r="3.2"/>
<circle cx="543.7" cy="524.1" r="3.7"/>
<circle cx="218.4" cy="614.4" r="4.1"/>
<circle cx="594.8" cy="773.9" r="3.6"/>
<circle cx="612.6" cy="774.4" r="3.3"/>
<circle cx="446.1" cy="768.7" r="3.1"/>
<circle cx="471.4" cy="533.1" r="3.8"/>
<circle cx="639.4" cy="779.4" r="3.8"/>
<circle cx="234.8" cy="526.3" r="3.4"/>
<circle cx="410.3" cy="744.5" r="3.8"/>
<circle cx="547.4" cy="737.4" r="3.1"/>
<circle cx="572.3" cy="579.4" r="3.6"/>
<circle cx="364.4" cy="723.1" r="3.3"/>
<circle cx="322.4" cy="578.0" r="4.6"/>
<circle cx="236.3" cy="748.4" r="3.1"/>
<circle cx="529.5" cy="749.7" r="4.3"/>
<circle cx="668.7" cy="639.9" r="3.0"/>
<circle cx="322.1" cy="567.3" r="3.3"/>
<circle cx="639.0" cy="524.6" r="3.0"/>
<circle cx="345.3" cy="524.9" r="3.9"/>
<circle cx="537.0" cy="523.7" r="3.2"/>
<circle cx="243.4" cy="742.3" r="3.3"/>
<circle cx="233.8" cy="523.7" r="3.6"/>
<circle cx="209.1" cy="620.3" r="4.0"/>
<circle cx="477.8" cy="562.8" r="3.7"/>
<circle cx="226.5" cy="643.8" r="3.0"/>
<circle cx="292.7" cy="667.4" r="3.6"/>
<circle cx="154.1" cy="587.3" r="3.3"/>
<circle cx="665.8" cy="524.3" r="3.5"/>
<circle cx="312.3" cy="750.5" r="3.0"/>
<circle cx="590.4" cy="600.2" r="3.4"/>
<circle cx="350.4" cy="771.9" r="3.0"/>
<circle cx="625.2" cy="725.1" r="3.9"/>
<circle cx="567.1" cy="732.6" r="4.2"/>
<circle cx="466.2" cy="601.3" r="3.7"/>
<circle cx="215.1" cy="772.6" r="3.3"/>
<circle cx="668.1" cy="545.6" r="3.1"/>
<circle cx="469.5" cy="531.5" r="3.6"/>
<circle cx="314.7" cy="581.6" r="3.3"/>
<circle cx="524.4" cy="525.0" r="3.4"/>
<circle cx="433.7" cy="737.6" r="3.9"/>
<circle cx="630.3" cy="534.8" r="3.0"/>
<circle cx="231.2" cy="535.8" r="4.1"/>
<circle cx="506.6" cy="754.5" r="3.3"/>
<circle cx="266.4" cy="533.4" r="3.0"/>
<circle cx="426.3" cy="524.1" r="3.1"/>
<circle cx="263.5" cy="728.3" r="3.1"/>
<circle cx="559.3" cy="534.2" r="3.3"/>
<circle cx="618.6" cy="640.5" r="3.2"/>
<circle cx="345.3" cy="565.5" r="3.5"/>
<circle cx="534.9" cy="748.1" r="3.4"/>
<circle cx="574.6" cy="761.6" r="4.0"/>
<circle cx="476.5" cy="541.7" r="5.6"/>
<circle cx="435.7" cy="525.1" r="3.7"/>
<circle cx="518.9" cy="745.8" r="3.1"/>
<circle cx="526.5" cy="734.7" r="3.5"/>
<circle cx="459.3" cy="738.2" r="3.0"/>
<circle cx="146.8" cy="791.3" r="3.1"/>
<circle cx="448.7" cy="524.1" r="3.1"/>
<circle cx="478.6" cy="533.5" r="3.0"/>
<circle cx="412.1" cy="750.8" r="3.0"/>
<circle cx="204.8" cy="560.7" r="3.0"/>
<circle cx="362.7" cy="748.1" r="3.6"/>
<circle cx="362.8" cy="755.8" r="3.2"/>
<circle cx="405.4" cy="531.0" r="3.1"/>
<circle cx="562.0" cy="713.8" r="3.0"/>
<circle cx="565.2" cy="534.8" r="3.8"/>
<circle cx="548.5" cy="725.6" r="3.8"/>
<circle cx="328.4" cy="650.1" r="3.1"/>
<circle cx="470.0" cy="593.4" r="3.1"/>
<circle cx="660.7" cy="739.4" r="3.3"/>
<circle cx="250.2" cy="721.4" r="3.3"/>
<circle cx="669.0" cy="569.5" r="3.0"/>
<circle cx="478.8" cy="753.5" r="3.4"/>
<circle cx="643.5" cy="524.3" r="3.9"/>
<circle cx="247.9" cy="534.9" r="3.0"/>
<circle cx="312.8" cy="535.0" r="3.1"/>
<circle cx="234.9" cy="752.3" r="3.6"/>
<circle cx="371.2" cy="524.2" r="3.5"/>
<circle cx="265.9" cy="566.8" r="3.3"/>
<circle cx="607.0" cy="533.8" r="4.0"/>
<circle cx="366.6" cy="740.3" r="3.1"/>
<circle cx="564.2" cy="523.6" r="5.5"/>
<circle cx="357.0" cy="729.8" r="3.3"/>
<circle cx="664.1" cy="534.7" r="3.3"/>
<circle cx="261.6" cy="759.5" r="3.3"/>
<circle cx="452.4" cy="531.1" r="3.8"/>
<circle cx="523.6" cy="719.7" r="3.3"/>
<circle cx="537.7" cy="534.0" r="3.3"/>
<circle cx="270.5" cy="744.0" r="3.2"/>
<circle cx="140.0" cy="581.3" r="4.0"/>
<circle cx="404.7" cy="525.5" r="3.7"/>
<circle cx="512.7" cy="534.2" r="3.1"/>
<circle cx="530.5" cy="747.4" r="3.0"/>
<circle cx="441.6" cy="559.0" r="4.0"/>
<circle cx="262.7" cy="534.6" r="3.1"/>
<circle cx="317.5" cy="731.1" r="3.1"/>
<circle cx="170.6" cy="729.8" r="3.2"/>
<circle cx="653.8" cy="534.1" r="3.1"/>
<circle cx="403.0" cy="675.3" r="3.6"/>
<circle cx="346.8" cy="767.8" r="3.7"/>
<circle cx="559.2" cy="744.3" r="3.1"/>
<circle cx="451.1" cy="544.8" r="3.4"/>
<circle cx="275.2" cy="734.6" r="3.7"/>
<circle cx="637.0" cy="749.5" r="3.5"/>
<circle cx="199.6" cy="533.7" r="3.3"/>
<circle cx="377.2" cy="561.2" r="3.0"/>
<circle cx="210.2" cy="539.5" r="3.1"/>
<circle cx="519.8" cy="553.2" r="3.3"/>
<circle cx="318.9" cy="534.1" r="5.2"/>
<circle cx="251.0" cy="767.7" r="3.0"/>
<circle cx="357.5" cy="524.4" r="3.2"/>
<circle cx="455.1" cy="751.3" r="3.2"/>
<circle cx="563.5" cy="739.1" r="3.7"/>
<circle cx="555.4" cy="585.4" r="3.7"/>
<circle cx="346.2" cy="568.1" r="3.4"/>
<circle cx="137.9" cy="772.1" r="4.6"/>
<circle cx="324.0" cy="756.8" r="3.1"/>
<circle cx="641.3" cy="580.9" r="3.3"/>
<circle cx="549.1" cy="635.1" r="6.1"/>
<circle cx="424.1" cy="646.9" r="3.8"/>
<circle cx="528.5" cy="523.8" r="3.2"/>
<circle cx="265.3" cy="527.4" r="3.0"/>
<circle cx="342.9" cy="767.3" r="3.2"/>
<circle cx="283.4" cy="533.9" r="3.4"/>
<circle cx="602.1" cy="726.5" r="3.8"/>
<circle cx="565.8" cy="523.5" r="5.2"/>
<circle cx="531.5" cy="684.8" r="3.0"/>
<circle cx="382.2" cy="563.2" r="3.1"/>
<circle cx="660.4" cy="771.4" r="3.3"/>
<circle cx="497.5" cy="749.5" r="4.4"/>
<circle cx="370.5" cy="773.7" r="3.6"/>
<circle cx="651.2" cy="533.5" r="5.1"/>
<circle cx="602.1" cy="530.1" r="3.9"/>
<circle cx="341.8" cy="736.0" r="3.3"/>
<circle cx="349.8" cy="732.0" r="3.0"/>
<circle cx="363.2" cy="653.9" r="4.5"/>
<circle cx="267.0" cy="725.1" r="3.2"/>
<circle cx="574.8" cy="524.7" r="3.1"/>
<circle cx="291.5" cy="770.5" r="3.9"/>
<circle cx="639.9" cy="533.9" r="3.0"/>
<circle cx="246.2" cy="523.9" r="3.0"/>
<circle cx="261.7" cy="523.6" r="3.9"/>
<circle cx="484.9" cy="569.2" r="4.1"/>
<circle cx="568.1" cy="769.6" r="3.9"/>
<circle cx="572.8" cy="535.0" r="3.5"/>
<circle cx="589.8" cy="609.1" r="4.2"/>
<circle cx="600.3" cy="534.4" r="3.1"/>
<circle cx="392.0" cy="575.2" r="3.4"/>
<circle cx="619.1" cy="765.7" r="3.5"/>
<circle cx="183.1" cy="668.5" r="3.0"/>
<circle cx="219.2" cy="752.4" r="3.3"/>
<circle cx="281.8" cy="534.4" r="3.7"/>
<circle cx="449.2" cy="570.7" r="3.2"/>
<circle cx="529.2" cy="567.6" r="3.5"/>
<circle cx="390.3" cy="735.1" r="3.9"/>
<circle cx="357.9" cy="543.4" r="3.0"/>
<circle cx="419.1" cy="742.9" r="4.0"/>
<circle cx="280.5" cy="553.6" r="3.4"/>
<circle cx="289.0" cy="663.0" r="3.2"/>
<circle cx="250.8" cy="633.6" r="3.2"/>
<circle cx="620.9" cy="730.5" r="4.3"/>
<circle cx="657.0" cy="524.6" r="4.8"/>
<circle cx="266.8" cy="523.8" r="3.0"/>
<circle cx="397.3" cy="738.4" r="3.0"/>
<circle cx="377.5" cy="754.1" r="3.3"/>
<circle cx="545.7" cy="774.0" r="4.9"/>
<circle cx="650.1" cy="524.3" r="3.3"/>
<circle cx="311.3" cy="758.7" r="4.3"/>
<circle cx="538.4" cy="637.0" r="4.5"/>
<circle cx="565.7" cy="796.1" r="3.4"/>
<circle cx="623.5" cy="759.4" r="3.6"/>
<circle cx="463.6" cy="751.2" r="3.9"/>
<circle cx="437.2" cy="530.2" r="3.0"/>
<circle cx="511.4" cy="534.2" r="4.1"/>
<circle cx="218.3" cy="534.1" r="3.8"/>
<circle cx="454.1" cy="556.9" r="3.1"/>
<circle cx="567.9" cy="791.0" r="4.9"/>
<circle cx="231.2" cy="524.2" r="3.7"/>
<circle cx="443.8" cy="535.1" r="3.4"/>
<circle cx="505.5" cy="719.2" r="4.2"/>
<circle cx="270.2" cy="533.6" r="3.0"/>
<circle cx="213.1" cy="541.6" r="3.2"/>
<circle cx="261.0" cy="739.6" r="4.1"/>
<circle cx="332.9" cy="735.6" r="3.0"/>
<circle cx="308.1" cy="601.0" r="3.0"/>
<circle cx="342.0" cy="524.5" r="3.3"/>
<circle cx="363.3" cy="725.3" r="3.7"/>
<circle cx="497.6" cy="737.3" r="3.0"/>
<circle cx="618.5" cy="526.7" r="3.9"/>
<circle cx="551.0" cy="791.7" r="3.0"/>
<circle cx="567.2" cy="523.8" r="3.1"/>
<circle cx="235.1" cy="533.2" r="3.0"/>
<circle cx="593.6" cy="724.7" r="3.6"/>
<circle cx="616.5" cy="556.3" r="3.7"/>
<circle cx="333.5" cy="770.1" r="4.7"/>
<circle cx="183.1" cy="580.3" r="3.8"/>
<circle cx="394.9" cy="523.5" r="3.5"/>
<circle cx="514.2" cy="541.9" r="3.7"/>
<circle cx="637.7" cy="728.6" r="3.0"/>
<circle cx="632.3" cy="534.7" r="4.3"/>
<circle cx="181.2" cy="534.0" r="3.3"/>
<circle cx="515.4" cy="518.5" r="3.0"/>
<circle cx="241.5" cy="752.6" r="3.7"/>
<circle cx="287.7" cy="523.8" r="3.2"/>
<circle cx="433.9" cy="759.8" r="3.3"/>
<circle cx="172.9" cy="544.2" r="3.3"/>
<circle cx="210.2" cy="530.0" r="3.3"/>
<circle cx="310.3" cy="754.9" r="4.0"/>
<circle cx="467.9" cy="759.9" r="3.3"/>
<circle cx="303.6" cy="591.6" r="3.1"/>
<circle cx="507.1" cy="623.5" r="4.3"/>
<circle cx="609.0" cy="563.6" r="3.9"/>
<circle cx="337.9" cy="523.5" r="4.1"/>
<circle cx="481.6" cy="682.1" r="3.4"/>
<circle cx="249.4" cy="736.5" r="3.8"/>
<circle cx="471.0" cy="763.6" r="3.6"/>
<circle cx="615.7" cy="522.9" r="3.7"/>
<circle cx="622.2" cy="738.7" r="4.6"/>
<circle cx="219.3" cy="537.5" r="4.4"/>
<circle cx="190.1" cy="772.0" r="3.0"/>
<circle cx="640.1" cy="606.6" r="4.1"/>
<circle cx="139.6" cy="730.3" r="3.8"/>
<circle cx="287.4" cy="594.0" r="3.1"/>
<circle cx="231.5" cy="526.1" r="3.3"/>
<circle cx="240.9" cy="576.5" r="3.3"/>
<circle cx="331.7" cy="558.1" r="3.0"/>
<circle cx="496.7" cy="523.9" r="3.6"/>
<circle cx="439.3" cy="512.8" r="3.0"/>
<circle cx="420.7" cy="603.5" r="3.0"/>
<circle cx="473.0" cy="537.6" r="5.3"/>
<circle cx="535.7" cy="653.4" r="3.5"/>
<circle cx="129.6" cy="612.2" r="3.4"/>
<circle cx="591.4" cy="528.4" r="3.1"/>
<circle cx="476.5" cy="562.9" r="4.0"/>
<circle cx="465.1" cy="533.2" r="4.1"/>
<circle cx="207.8" cy="767.1" r="3.0"/>
<circle cx="539.3" cy="740.1" r="3.6"/>
<circle cx="327.6" cy="761.7" r="3.1"/>
<circle cx="371.9" cy="771.2" r="3.2"/>
<circle cx="533.4" cy="534.3" r="3.0"/>
<circle cx="219.2" cy="729.8" r="3.1"/>
<circle cx="250.7" cy="534.7" r="3.2"/>
<circle cx="218.1" cy="523.9" r="3.1"/>
<circle cx="488.4" cy="730.0" r="4.2"/>
<circle cx="390.1" cy="523.7" r="3.3"/>
<circle cx="125.2" cy="677.8" r="3.5"/>
<circle cx="338.6" cy="524.1" r="3.4"/>
<circle cx="455.9" cy="739.3" r="3.3"/>
<circle cx="120.8" cy="590.8" r="3.7"/>
<circle cx="158.4" cy="771.8" r="4.9"/>
<circle cx="509.8" cy="553.5" r="3.0"/>
<circle cx="582.3" cy="775.6" r="3.2"/>
<circle cx="464.6" cy="620.1" r="3.9"/>
<circle cx="497.6" cy="549.9" r="3.5"/>
<circle cx="652.8" cy="758.5" r="3.2"/>
<circle cx="164.3" cy="533.3" r="3.5"/>
<circle cx="562.4" cy="727.0" r="3.8"/>
<circle cx="415.1" cy="575.9" r="3.4"/>
<circle cx="365.3" cy="620.0" r="3.3"/>
<circle cx="560.0" cy="524.3" r="3.4"/>
<circle cx="477.3" cy="523.9" r="4.2"/>
<circle cx="575.1" cy="730.2" r="3.1"/>
<circle cx="505.3" cy="533.5" r="3.9"/>
<circle cx="504.2" cy="534.3" r="5.6"/>
<circle cx="331.2" cy="534.0" r="3.2"/>
<circle cx="215.0" cy="571.3" r="3.0"/>
<circle cx="174.5" cy="753.6" r="3.0"/>
<circle cx="387.2" cy="733.9" r="3.1"/>
<circle cx="351.2" cy="525.8" r="3.8"/>
<circle cx="287.6" cy="532.9" r="4.9"/>
<circle cx="295.7" cy="740.7" r="3.2"/>
<circle cx="287.1" cy="731.0" r="3.4"/>
<circle cx="468.9" cy="523.4" r="3.7"/>
<circle cx="600.6" cy="749.7" r="3.3"/>
<circle cx="441.2" cy="757.2" r="4.2"/>
<circle cx="454.1" cy="579.5" r="4.1"/>
<circle cx="305.8" cy="544.7" r="3.5"/>
<circle cx="165.9" cy="542.4" r="3.3"/>
<circle cx="210.6" cy="624.9" r="4.1"/>
<circle cx="160.1" cy="584.6" r="3.2"/>
<circle cx="447.8" cy="620.3" r="3.4"/>
<circle cx="325.0" cy="568.6" r="4.1"/>
<circle cx="417.6" cy="757.7" r="4.3"/>
<circle cx="168.3" cy="730.0" r="3.2"/>
<circle cx="356.9" cy="528.2" r="3.9"/>
<circle cx="358.1" cy="703.2" r="3.0"/>
<circle cx="359.0" cy="772.4" r="3.0"/>
<circle cx="295.1" cy="738.6" r="3.0"/>
<circle cx="547.5" cy="764.1" r="3.2"/>
<circle cx="275.3" cy="748.8" r="3.9"/>
<circle cx="218.7" cy="534.7" r="4.3"/>
<circle cx="244.1" cy="757.8" r="3.2"/>
<circle cx="493.9" cy="748.2" r="3.2"/>
<circle cx="581.7" cy="533.9" r="4.4"/>
<circle cx="612.3" cy="523.5" r="3.7"/>
<circle cx="652.0" cy="524.8" r="3.2"/>
<circle cx="294.8" cy="707.5" r="4.1"/>
<circle cx="179.5" cy="533.9" r="3.3"/>
<circle cx="606.6" cy="733.0" r="3.7"/>
<circle cx="292.9" cy="524.0" r="3.1"/>
<circle cx="426.7" cy="534.8" r="3.7"/>
<circle cx="290.5" cy="662.0" r="3.0"/>
<circle cx="458.9" cy="774.6" r="3.0"/>
<circle cx="346.9" cy="534.3" r="3.8"/>
<circle cx="362.1" cy="642.2" r="4.0"/>
<circle cx="304.4" cy="524.3" r="3.4"/>
<circle cx="566.1" cy="770.6" r="3.4"/>
<circle cx="603.4" cy="534.0" r="3.1"/>
<circle cx="643.1" cy="639.5" r="3.3"/>
<circle cx="292.1" cy="776.0" r="3.0"/>
<circle cx="436.8" cy="524.2" r="3.4"/>
<circle cx="619.8" cy="791.3" r="3.4"/>
<circle cx="367.1" cy="534.3" r="3.1"/>
<circle cx="512.8" cy="766.6" r="3.3"/>
<circle cx="557.8" cy="725.9" r="3.5"/>
<circle cx="635.7" cy="774.4" r="3.9"/>
<circle cx="242.4" cy="775.9" r="3.6"/>
<circle cx="175.5" cy="749.5" r="3.8"/>
<circle cx="663.3" cy="736.2" r="4.4"/>
<circle cx="217.8" cy="534.3" r="3.2"/>
<circle cx="644.5" cy="528.3" r="3.1"/>
<circle cx="596.5" cy="559.6" r="4.6"/>
<circle cx="177.1" cy="571.5" r="3.6"/>
<circle cx="365.5" cy="753.6" r="3.0"/>
<circle cx="253.5" cy="532.3" r="3.7"/>
<circle cx="495.1" cy="590.2" r="3.1"/>
<circle cx="576.8" cy="524.1" r="3.6"/>
<circle cx="202.0" cy="730.1" r="3.9"/>
<circle cx="547.6" cy="534.3" r="3.3"/>
<circle cx="625.5" cy="533.3" r="3.7"/>
<circle cx="563.2" cy="730.7" r="3.5"/>
<circle cx="346.1" cy="744.4" r="3.0"/>
<circle cx="512.8" cy="534.3" r="3.1"/>
<circle cx="588.8" cy="572.3" r="3.2"/>
<circle cx="650.7" cy="747.2" r="3.2"/>
<circle cx="338.2" cy="603.9" r="3.4"/>
<circle cx="242.0" cy="523.1" r="3.6"/>
<circle cx="419.0" cy="778.6" r="4.2"/>
<circle cx="215.0" cy="749.0" r="3.2"/>
<circle cx="501.3" cy="754.0" r="3.7"/>
<circle cx="335.5" cy="547.2" r="3.1"/>
<circle cx="529.5" cy="742.5" r="3.0"/>
<circle cx="132.7" cy="729.8" r="3.2"/>
<circle cx="465.4" cy="534.0" r="3.2"/>
<circle cx="306.4" cy="550.4" r="3.7"/>
<circle cx="443.0" cy="749.4" r="4.0"/>
<circle cx="201.7" cy="688.1" r="3.4"/>
<circle cx="374.6" cy="579.0" r="3.2"/>
<circle cx="208.2" cy="738.4" r="3.2"/>
<circle cx="156.0" cy="742.1" r="3.1"/>
<circle cx="549.0" cy="723.9" r="3.2"/>
<circle cx="186.5" cy="533.6" r="3.5"/>
<circle cx="228.6" cy="705.1" r="3.4"/>
<circle cx="233.0" cy="524.2" r="3.5"/>
<circle cx="308.2" cy="772.7" r="3.2"/>
<circle cx="660.9" cy="532.6" r="4.9"/>
<circle cx="389.0" cy="524.5" r="3.4"/>
<circle cx="309.7" cy="523.8" r="4.0"/>
<circle cx="614.1" cy="775.9" r="3.1"/>
<circle cx="477.0" cy="549.5" r="3.9"/>
<circle cx="666.7" cy="710.4" r="3.3"/>
<circle cx="654.3" cy="754.7" r="5.2"/>
<circle cx="118.2" cy="578.9" r="3.8"/>
<circle cx="168.2" cy="790.1" r="5.1"/>
<circle cx="217.4" cy="524.1" r="3.6"/>
<circle cx="343.1" cy="563.5" r="3.2"/>
<circle cx="555.7" cy="530.7" r="3.3"/>
<circle cx="576.0" cy="532.8" r="3.4"/>
<circle cx="608.0" cy="524.8" r="3.2"/>
<circle cx="292.7" cy="757.2" r="3.5"/>
<circle cx="612.7" cy="551.8" r="3.1"/>
<circle cx="339.2" cy="763.7" r="5.2"/>
<circle cx="574.6" cy="543.9" r="4.1"/>
<circle cx="177.1" cy="647.4" r="4.7"/>
<circle cx="603.4" cy="727.9" r="3.5"/>
<circle cx="525.3" cy="720.7" r="3.2"/>
<circle cx="442.2" cy="748.5" r="4.2"/>
<circle cx="376.8" cy="523.9" r="3.1"/>
<circle cx="562.0" cy="524.0" r="3.6"/>
<circle cx="580.4" cy="523.7" r="3.2"/>
<circle cx="514.3" cy="723.8" r="4.1"/>
<circle cx="565.1" cy="522.4" r="5.3"/>
<circle cx="522.6" cy="769.4" r="3.3"/>
<circle cx="636.9" cy="589.8" r="3.1"/>
<circle cx="410.7" cy="524.1" r="3.2"/>
<circle cx="133.5" cy="729.7" r="3.1"/>
<circle cx="263.2" cy="565.5" r="3.0"/>
<circle cx="194.7" cy="623.7" r="3.0"/>
<circle cx="354.2" cy="726.0" r="4.7"/>
<circle cx="539.4" cy="571.4" r="3.8"/>
<circle cx="229.6" cy="523.5" r="3.0"/>
<circle cx="505.9" cy="524.1" r="3.4"/>
<circle cx="187.3" cy="713.3" r="3.2"/>
<circle cx="484.5" cy="534.4" r="4.3"/>
<circle cx="584.5" cy="696.6" r="3.0"/>
<circle cx="245.0" cy="534.1" r="3.7"/>
<circle cx="331.1" cy="589.8" r="3.2"/>
<circle cx="507.1" cy="533.9" r="3.1"/>
<circle cx="367.6" cy="523.8" r="3.3"/>
<circle cx="460.1" cy="753.7" r="3.8"/>
<circle cx="323.5" cy="523.5" r="4.7"/>
<circle cx="184.8" cy="744.4" r="3.7"/>
<circle cx="310.4" cy="533.7" r="3.6"/>
<circle cx="220.3" cy="533.0" r="3.1"/>
<circle cx="660.7" cy="524.3" r="3.4"/>
<circle cx="200.4" cy="725.0" r="4.2"/>
<circle cx="648.6" cy="753.3" r="4.1"/>
<circle cx="412.7" cy="662.4" r="3.1"/>
<circle cx="428.4" cy="760.1" r="3.6"/>
<circle cx="216.9" cy="753.5" r="4.1"/>
<circle cx="666.3" cy="767.9" r="5.0"/>
<circle cx="625.9" cy="533.7" r="3.3"/>
<circle cx="279.9" cy="747.7" r="3.3"/>
<circle cx="561.6" cy="727.0" r="3.8"/>
<circle cx="645.2" cy="553.3" r="3.1"/>
<circle cx="661.6" cy="758.4" r="3.0"/>
<circle cx="449.9" cy="534.9" r="3.6"/>
<circle cx="443.3" cy="759.8" r="3.0"/>
<circle cx="229.3" cy="663.3" r="4.4"/>
<circle cx="585.0" cy="711.6" r="3.2"/>
<circle cx="342.4" cy="762.4" r="3.9"/>
<circle cx="669.7" cy="583.5" r="4.0"/>
<circle cx="215.1" cy="527.0" r="3.1"/>
<circle cx="417.0" cy="703.6" r="3.8"/>
<circle cx="199.7" cy="534.2" r="3.1"/>
<circle cx="257.9" cy="567.3" r="4.4"/>
<circle cx="618.1" cy="732.2" r="3.4"/>
<circle cx="313.7" cy="524.2" r="3.2"/>
<circle cx="286.8" cy="523.8" r="4.7"/>
<circle cx="395.8" cy="531.0" r="3.1"/>
<circle cx="535.6" cy="520.9" r="3.1"/>
<circle cx="438.6" cy="760.4" r="3.0"/>
<circle cx="411.4" cy="748.0" r="3.3"/>
<circle cx="415.4" cy="760.0" r="3.4"/>
<circle cx="628.4" cy="703.1" r="3.6"/>
<circle cx="596.8" cy="792.0" r="4.2"/>
<circle cx="524.8" cy="764.4" r="4.2"/>
<circle cx="530.1" cy="726.2" r="3.4"/>
<circle cx="558.7" cy="745.0" r="3.8"/>
<circle cx="370.1" cy="743.5" r="4.4"/>
<circle cx="491.1" cy="524.2" r="3.1"/>
<circle cx="407.1" cy="533.0" r="3.2"/>
<circle cx="296.0" cy="732.9" r="4.0"/>
<circle cx="479.5" cy="534.0" r="3.0"/>
<circle cx="429.4" cy="579.3" r="4.3"/>
<circle cx="289.7" cy="777.0" r="3.2"/>
<circle cx="160.5" cy="772.2" r="3.3"/>
<circle cx="556.4" cy="743.6" r="3.3"/>
<circle cx="572.6" cy="533.6" r="3.4"/>
<circle cx="398.9" cy="682.7" r="3.1"/>
<circle cx="443.0" cy="628.7" r="3.2"/>
<circle cx="634.2" cy="526.1" r="3.6"/>
<circle cx="115.3" cy="772.7" r="3.7"/>
<circle cx="619.1" cy="523.6" r="3.4"/>
<circle cx="671.1" cy="534.7" r="3.1"/>
<circle cx="250.7" cy="773.9" r="4.2"/>
<circle cx="482.4" cy="724.8" r="3.7"/>
<circle cx="248.5" cy="561.0" r="3.0"/>
<circle cx="230.8" cy="533.6" r="3.0"/>
<circle cx="473.5" cy="689.8" r="3.0"/>
<circle cx="494.4" cy="604.7" r="3.0"/>
<circle cx="469.0" cy="533.4" r="3.0"/>
<circle cx="636.3" cy="627.1" r="3.8"/>
<circle cx="315.4" cy="530.7" r="3.2"/>
<circle cx="562.7" cy="566.7" r="3.9"/>
<circle cx="586.4" cy="559.6" r="3.1"/>
<circle cx="317.7" cy="537.4" r="3.2"/>
<circle cx="231.5" cy="543.4" r="4.1"/>
<circle cx="641.8" cy="762.8" r="3.5"/>
<circle cx="408.1" cy="730.0" r="3.0"/>
<circle cx="229.6" cy="724.2" r="3.2"/>
<circle cx="651.7" cy="523.5" r="3.1"/>
<circle cx="632.3" cy="534.1" r="3.0"/>
<circle cx="321.6" cy="541.7" r="3.2"/>
<circle cx="496.9" cy="771.5" r="3.3"/>
<circle cx="540.0" cy="523.9" r="3.3"/>
<circle cx="369.7" cy="629.3" r="3.3"/>
<circle cx="379.2" cy="772.2" r="3.0"/>
<circle cx="282.4" cy="524.1" r="3.3"/>
<circle cx="217.6" cy="533.6" r="3.2"/>
<circle cx="388.9" cy="756.2" r="3.7"/>
<circle cx="280.9" cy="756.2" r="3.6"/>
<circle cx="565.5" cy="713.9" r="3.6"/>
<circle cx="150.4" cy="566.4" r="4.3"/>
<circle cx="344.7" cy="534.4" r="3.1"/>
<circle cx="468.6" cy="765.1" r="3.0"/>
<circle cx="239.5" cy="544.6" r="3.7"/>
<circle cx="314.7" cy="586.8" r="3.8"/>
<circle cx="225.9" cy="533.7" r="4.6"/>
<circle cx="325.5" cy="732.2" r="3.3"/>
<circle cx="509.3" cy="766.8" r="3.2"/>
<circle cx="342.7" cy="753.7" r="4.8"/>
<circle cx="167.1" cy="545.1" r="3.7"/>
<circle cx="406.2" cy="609.1" r="4.1"/>
<circle cx="482.6" cy="544.4" r="3.5"/>
<circle cx="566.4" cy="556.3" r="4.3"/>
<circle cx="405.3" cy="722.5" r="3.2"/>
<circle cx="145.2" cy="769.3" r="3.0"/>
<circle cx="549.2" cy="523.6" r="4.4"/>
<circle cx="593.6" cy="577.2" r="3.2"/>
<circle cx="297.2" cy="528.1" r="3.6"/>
<circle cx="137.6" cy="772.4" r="3.3"/>
<circle cx="247.6" cy="740.8" r="3.0"/>
<circle cx="241.7" cy="533.1" r="3.5"/>
<circle cx="151.7" cy="766.2" r="3.1"/>
<circle cx="404.5" cy="528.2" r="4.0"/>
<circle cx="277.4" cy="756.2" r="3.1"/>
<circle cx="156.2" cy="533.5" r="3.2"/>
<circle cx="437.7" cy="542.0" r="3.4"/>
<circle cx="623.6" cy="620.5" r="3.0"/>
<circle cx="226.8" cy="535.4" r="4.3"/>
<circle cx="272.4" cy="532.4" r="3.5"/>
<circle cx="532.3" cy="535.2" r="3.3"/>
<circle cx="580.3" cy="522.8" r="3.0"/>
<circle cx="603.9" cy="578.5" r="3.1"/>
<circle cx="214.6" cy="758.6" r="3.6"/>
<circle cx="599.8" cy="540.0" r="5.4"/>
<circle cx="350.7" cy="743.9" r="3.0"/>
<circle cx="399.9" cy="665.9" r="3.4"/>
<circle cx="354.7" cy="522.9" r="3.4"/>
<circle cx="270.3" cy="524.0" r="3.0"/>
<circle cx="570.9" cy="572.9" r="4.4"/>
<circle cx="450.8" cy="533.9" r="3.1"/>
<circle cx="333.4" cy="527.3" r="3.1"/>
<circle cx="448.1" cy="525.1" r="3.9"/>
<circle cx="597.3" cy="523.9" r="3.3"/>
<circle cx="215.4" cy="740.7" r="3.1"/>
<circle cx="480.5" cy="736.6" r="3.0"/>
<circle cx="546.7" cy="759.3" r="3.4"/>
<circle cx="468.4" cy="524.2" r="3.2"/>
<circle cx="411.7" cy="523.8" r="3.7"/>
<circle cx="234.7" cy="737.7" r="3.2"/>
<circle cx="127.6" cy="534.4" r="3.2"/>
<circle cx="251.5" cy="748.7" r="3.5"/>
<circle cx="314.7" cy="545.0" r="3.0"/>
<circle cx="393.5" cy="523.9" r="3.1"/>
<circle cx="578.5" cy="736.1" r="3.8"/>
<circle cx="567.9" cy="793.3" r="3.1"/>
<circle cx="604.6" cy="753.2" r="6.8"/>
<circle cx="379.7" cy="546.3" r="3.2"/>
<circle cx="563.0" cy="612.9" r="3.3"/>
<circle cx="639.6" cy="763.7" r="3.4"/>
<circle cx="356.7" cy="750.0" r="3.2"/>
<circle cx="147.9" cy="760.2" r="3.3"/>
<circle cx="284.8" cy="534.0" r="3.0"/>
<circle cx="164.0" cy="545.1" r="4.1"/>
<circle cx="627.2" cy="534.3" r="4.6"/>
<circle cx="605.7" cy="740.9" r="3.3"/>
<circle cx="336.8" cy="536.2" r="4.3"/>
<circle cx="163.2" cy="771.9" r="3.2"/>
<circle cx="359.0" cy="527.7" r="3.1"/>
<circle cx="497.4" cy="568.3" r="3.3"/>
<circle cx="300.1" cy="771.5" r="3.1"/>
<circle cx="335.1" cy="747.1" r="3.8"/>
<circle cx="488.7" cy="524.8" r="3.3"/>
<circle cx="640.6" cy="761.6" r="3.2"/>
<circle cx="629.6" cy="765.9" r="3.0"/>
<circle cx="303.7" cy="534.0" r="3.3"/>
<circle cx="486.2" cy="537.6" r="3.1"/>
<circle cx="660.1" cy="713.9" r="3.7"/>
<circle cx="649.4" cy="533.7" r="3.0"/>
<circle cx="177.6" cy="542.1" r="3.6"/>
<circle cx="463.0" cy="540.1" r="3.1"/>
<circle cx="304.1" cy="762.1" r="3.0"/>
<circle cx="238.7" cy="767.6" r="3.3"/>
<circle cx="661.5" cy="736.8" r="3.0"/>
<circle cx="549.5" cy="796.5" r="3.0"/>
<circle cx="360.5" cy="729.3" r="3.2"/>
<circle cx="471.1" cy="599.5" r="4.3"/>
<circle cx="536.3" cy="545.9" r="3.0"/>
<circle cx="613.0" cy="523.9" r="3.6"/>
<circle cx="463.8" cy="524.0" r="3.6"/>
<circle cx="203.8" cy="785.5" r="3.6"/>
<circle cx="514.6" cy="524.3" r="3.7"/>
<circle cx="362.7" cy="730.8" r="3.2"/>
<circle cx="634.8" cy="763.6" r="3.0"/>
<circle cx="358.6" cy="750.8" r="3.6"/>
<circle cx="265.6" cy="526.0" r="4.1"/>
<circle cx="588.1" cy="585.9" r="4.1"/>
<circle cx="322.4" cy="734.8" r="3.5"/>
<circle cx="184.4" cy="533.6" r="3.4"/>
<circle cx="532.5" cy="769.6" r="4.1"/>
<circle cx="359.9" cy="728.8" r="3.3"/>
<circle cx="384.7" cy="534.4" r="3.3"/>
<circle cx="287.7" cy="533.5" r="4.0"/>
<circle cx="553.6" cy="579.1" r="3.1"/>
<circle cx="514.2" cy="527.6" r="3.1"/>
<circle cx="503.9" cy="535.4" r="3.6"/>
<circle cx="499.1" cy="763.8" r="4.1"/>
<circle cx="414.0" cy="608.5" r="4.9"/>
<circle cx="614.4" cy="649.1" r="3.1"/>
<circle cx="479.8" cy="620.2" r="3.0"/>
<circle cx="154.5" cy="747.0" r="3.1"/>
<circle cx="219.4" cy="536.3" r="3.0"/>
<circle cx="596.2" cy="524.1" r="3.1"/>
<circle cx="167.2" cy="605.3" r="3.3"/>
<circle cx="199.9" cy="687.6" r="3.4"/>
<circle cx="236.3" cy="528.9" r="3.1"/>
<circle cx="513.4" cy="667.7" r="4.6"/>
<circle cx="117.0" cy="730.1" r="3.1"/>
<circle cx="389.6" cy="653.2" r="3.6"/>
<circle cx="396.5" cy="533.2" r="3.3"/>
<circle cx="271.8" cy="737.5" r="3.1"/>
<circle cx="572.5" cy="582.9" r="4.1"/>
<circle cx="503.4" cy="534.2" r="3.9"/>
<circle cx="507.9" cy="755.6" r="3.4"/>
<circle cx="171.2" cy="610.6" r="5.5"/>
<circle cx="348.3" cy="609.5" r="3.2"/>
<circle cx="559.0" cy="728.3" r="4.4"/>
<circle cx="541.3" cy="534.7" r="3.0"/>
<circle cx="196.8" cy="587.3" r="3.4"/>
<circle cx="459.8" cy="533.4" r="3.4"/>
<circle cx="238.0" cy="751.5" r="5.5"/>
<circle cx="413.7" cy="534.6" r="3.0"/>
<circle cx="586.8" cy="775.1" r="3.4"/>
<circle cx="577.6" cy="524.4" r="3.0"/>
<circle cx="221.4" cy="534.0" r="3.4"/>
<circle cx="259.9" cy="534.0" r="3.0"/>
<circle cx="493.6" cy="594.1" r="3.2"/>
<circle cx="624.7" cy="523.8" r="3.2"/>
<circle cx="271.1" cy="587.7" r="3.0"/>
<circle cx="327.9" cy="532.3" r="3.0"/>
<circle cx="632.9" cy="524.1" r="4.1"/>
<circle cx="278.0" cy="777.2" r="3.3"/>
<circle cx="459.4" cy="736.7" r="4.5"/>
<circle cx="278.2" cy="593.2" r="3.9"/>
<circle cx="295.7" cy="756.6" r="3.0"/>
<circle cx="437.6" cy="727.9" r="3.9"/>
<circle cx="484.4" cy="524.6" r="3.4"/>
<circle cx="354.3" cy="524.0" r="3.2"/>
<circle cx="399.5" cy="750.7" r="3.4"/>
<circle cx="259.1" cy="742.4" r="3.0"/>
<circle cx="348.9" cy="522.6" r="3.4"/>
<circle cx="283.1" cy="524.7" r="3.3"/>
<circle cx="570.9" cy="563.4" r="3.6"/>
<circle cx="448.7" cy="530.9" r="3.3"/>
<circle cx="218.5" cy="524.2" r="3.1"/>
<circle cx="599.7" cy="523.5" r="3.9"/>
<circle cx="627.4" cy="534.0" r="3.1"/>
<circle cx="212.3" cy="534.0" r="4.1"/>
<circle cx="442.4" cy="736.1" r="5.6"/>
<circle cx="375.0" cy="665.1" r="4.5"/>
<circle cx="484.8" cy="533.6" r="3.2"/>
<circle cx="347.6" cy="739.1" r="4.4"/>
<circle cx="506.2" cy="759.9" r="3.2"/>
<circle cx="584.5" cy="770.8" r="3.6"/>
<circle cx="588.8" cy="523.4" r="4.3"/>
<circle cx="570.5" cy="524.6" r="3.0"/>
<circle cx="554.0" cy="533.9" r="4.5"/>
<circle cx="213.0" cy="737.5" r="3.0"/>
<circle cx="538.8" cy="781.2" r="3.1"/>
<circle cx="256.4" cy="524.4" r="3.5"/>
<circle cx="318.9" cy="534.9" r="3.4"/>
<circle cx="314.8" cy="525.0" r="3.5"/>
<circle cx="374.7" cy="524.2" r="4.8"/>
<circle cx="277.2" cy="561.3" r="3.2"/>
<circle cx="245.7" cy="529.1" r="3.3"/>
<circle cx="465.8" cy="713.9" r="3.9"/>
<circle cx="282.6" cy="689.0" r="3.0"/>
<circle cx="613.3" cy="584.3" r="4.6"/>
<circle cx="321.3" cy="533.7" r="3.0"/>
<circle cx="558.5" cy="524.5" r="3.2"/>
<circle cx="461.4" cy="584.3" r="3.6"/>
<circle cx="477.2" cy="742.9" r="3.0"/>
<circle cx="225.7" cy="759.4" r="3.3"/>
<circle cx="200.8" cy="533.3" r="3.5"/>
<circle cx="619.0" cy="548.1" r="3.2"/>
<circle cx="563.2" cy="534.9" r="3.2"/>
<circle cx="361.4" cy="720.7" r="3.1"/>
<circle cx="264.3" cy="524.3" r="3.2"/>
<circle cx="358.0" cy="554.2" r="3.2"/>
<circle cx="522.6" cy="764.0" r="4.1"/>
<circle cx="577.9" cy="714.7" r="3.0"/>
<circle cx="633.5" cy="524.5" r="3.6"/>
<circle cx="464.2" cy="764.8" r="4.4"/>
<circle cx="571.2" cy="733.8" r="3.4"/>
<circle cx="649.5" cy="595.5" r="4.2"/>
<circle cx="360.2" cy="725.2" r="3.0"/>
<circle cx="620.0" cy="625.1" r="4.4"/>
<circle cx="593.7" cy="524.0" r="3.0"/>
<circle cx="335.1" cy="535.7" r="3.4"/>
<circle cx="218.8" cy="765.4" r="3.6"/>
<circle cx="559.4" cy="751.7" r="3.4"/>
<circle cx="315.5" cy="562.6" r="3.1"/>
<circle cx="503.1" cy="525.0" r="3.7"/>
<circle cx="670.1" cy="534.5" r="3.6"/>
<circle cx="562.2" cy="751.7" r="3.0"/>
<circle cx="655.8" cy="560.3" r="3.6"/>
<circle cx="649.1" cy="531.5" r="4.3"/>
<circle cx="392.2" cy="564.0" r="3.9"/>
<circle cx="348.8" cy="557.1" r="4.5"/>
<circle cx="312.5" cy="534.6" r="4.1"/>
<circle cx="366.0" cy="772.2" r="4.2"/>
<circle cx="406.5" cy="524.9" r="4.6"/>
<circle cx="146.0" cy="534.0" r="3.5"/>
<circle cx="171.4" cy="550.3" r="3.8"/>
<circle cx="344.0" cy="609.3" r="5.7"/>
<circle cx="303.2" cy="755.0" r="3.0"/>
<circle cx="496.9" cy="772.0" r="3.8"/>
<circle cx="348.7" cy="534.1" r="4.5"/>
<circle cx="571.9" cy="687.9" r="4.0"/>
<circle cx="587.4" cy="532.7" r="3.0"/>
<circle cx="462.4" cy="534.6" r="5.0"/>
<circle cx="616.8" cy="534.2" r="3.1"/>
<circle cx="294.5" cy="540.2" r="4.5"/>
<circle cx="535.4" cy="762.0" r="3.0"/>
<circle cx="458.4" cy="558.2" r="3.3"/>
<circle cx="361.8" cy="769.5" r="3.5"/>
<circle cx="243.9" cy="523.8" r="3.8"/>
<circle cx="274.5" cy="714.2" r="4.8"/>
<circle cx="345.6" cy="763.6" r="3.8"/>
<circle cx="305.7" cy="729.5" r="3.8"/>
<circle cx="219.0" cy="730.7" r="3.2"/>
<circle cx="367.6" cy="570.6" r="3.3"/>
<circle cx="221.5" cy="574.4" r="3.0"/>
<circle cx="216.1" cy="538.4" r="3.8"/>
<circle cx="215.7" cy="766.8" r="4.3"/>
<circle cx="630.1" cy="775.0" r="3.1"/>
<circle cx="273.6" cy="759.5" r="4.3"/>
<circle cx="341.2" cy="737.1" r="3.0"/>
<circle cx="530.8" cy="625.8" r="3.5"/>
<circle cx="582.6" cy="523.6" r="3.5"/>
<circle cx="516.0" cy="776.2" r="3.0"/>
<circle cx="291.2" cy="533.6" r="3.8"/>
<circle cx="601.4" cy="534.8" r="3.5"/>
<circle cx="215.6" cy="767.3" r="4.4"/>
<circle cx="200.0" cy="793.9" r="3.7"/>
<circle cx="649.9" cy="739.5" r="3.0"/>
<circle cx="611.6" cy="534.3" r="4.4"/>
<circle cx="376.5" cy="524.2" r="3.3"/>
<circle cx="254.6" cy="689.2" r="3.0"/>
<circle cx="383.9" cy="524.2" r="3.1"/>
<circle cx="253.1" cy="533.0" r="3.1"/>
<circle cx="309.4" cy="734.5" r="3.3"/>
<circle cx="448.2" cy="592.6" r="3.6"/>
<circle cx="337.7" cy="749.7" r="3.3"/>
<circle cx="356.5" cy="533.5" r="5.0"/>
<circle cx="486.5" cy="536.3" r="3.1"/>
<circle cx="445.4" cy="711.1" r="4.0"/>
<circle cx="228.0" cy="605.4" r="3.0"/>
<circle cx="648.9" cy="776.4" r="5.8"/>
<circle cx="280.4" cy="524.4" r="3.0"/>
<circle cx="249.5" cy="602.0" r="5.1"/>
<circle cx="296.0" cy="728.8" r="3.2"/>
<circle cx="320.4" cy="660.5" r="3.1"/>
<circle cx="317.5" cy="524.3" r="3.3"/>
<circle cx="537.8" cy="696.0" r="3.1"/>
<circle cx="327.6" cy="723.4" r="3.5"/>
<circle cx="661.5" cy="568.6" r="3.0"/>
<circle cx="261.5" cy="524.4" r="3.2"/>
<circle cx="488.1" cy="523.3" r="4.2"/>
<circle cx="419.0" cy="528.6" r="3.1"/>
<circle cx="229.3" cy="744.5" r="4.0"/>
<circle cx="404.9" cy="769.0" r="4.2"/>
<circle cx="566.0" cy="524.5" r="3.1"/>
<circle cx="260.2" cy="524.2" r="3.1"/>
<circle cx="558.4" cy="558.6" r="3.0"/>
<circle cx="274.3" cy="750.2" r="3.6"/>
<circle cx="463.2" cy="758.2" r="3.2"/>
<circle cx="570.3" cy="524.6" r="3.0"/>
<circle cx="413.5" cy="760.9" r="3.5"/>
<circle cx="298.6" cy="526.9" r="4.0"/>
<circle cx="297.3" cy="783.6" r="3.0"/>
<circle cx="215.3" cy="622.3" r="3.2"/>
<circle cx="482.6" cy="524.2" r="3.2"/>
<circle cx="277.1" cy="533.9" r="3.4"/>
<circle cx="487.4" cy="748.5" r="3.0"/>
<circle cx="243.6" cy="759.4" r="3.3"/>
<circle cx="227.6" cy="534.6" r="4.4"/>
<circle cx="564.4" cy="582.1" r="3.9"/>
<circle cx="454.5" cy="525.0" r="3.8"/>
<circle cx="652.5" cy="742.8" r="4.4"/>
<circle cx="146.5" cy="771.8" r="3.5"/>
<circle cx="303.6" cy="534.3" r="3.4"/>
<circle cx="248.3" cy="632.0" r="3.6"/>
<circle cx="271.4" cy="771.8" r="3.2"/>
<circle cx="344.4" cy="523.8" r="3.1"/>
<circle cx="359.0" cy="523.9" r="3.3"/>
<circle cx="367.6" cy="712.8" r="4.1"/>
<circle cx="645.7" cy="775.2" r="4.1"/>
<circle cx="311.0" cy="773.0" r="3.8"/>
<circle cx="234.4" cy="686.7" r="3.2"/>
<circle cx="165.9" cy="728.5" r="3.5"/>
<circle cx="229.2" cy="735.8" r="3.8"/>
<circle cx="645.1" cy="726.2" r="4.8"/>
<circle cx="549.9" cy="726.4" r="3.4"/>
<circle cx="406.5" cy="758.4" r="3.0"/>
<circle cx="558.7" cy="724.8" r="3.1"/>
<circle cx="566.0" cy="753.5" r="3.2"/>
<circle cx="645.3" cy="548.5" r="3.6"/>
<circle cx="451.6" cy="616.6" r="4.1"/>
<circle cx="567.4" cy="766.7" r="3.3"/>
<circle cx="547.5" cy="781.9" r="3.1"/>
<circle cx="656.8" cy="720.7" r="3.3"/>
<circle cx="380.3" cy="524.6" r="3.8"/>
<circle cx="311.2" cy="533.7" r="3.5"/>
<circle cx="631.9" cy="563.8" r="3.3"/>
<circle cx="560.3" cy="589.6" r="3.0"/>
<circle cx="566.1" cy="533.4" r="3.4"/>
<circle cx="626.5" cy="563.3" r="3.0"/>
<circle cx="280.5" cy="531.8" r="3.5"/>
<circle cx="621.1" cy="756.5" r="3.6"/>
<circle cx="419.0" cy="713.8" r="4.9"/>
<circle cx="443.4" cy="704.1" r="3.4"/>
<circle cx="207.8" cy="531.6" r="3.3"/>
<circle cx="559.5" cy="637.9" r="3.3"/>
<circle cx="419.1" cy="767.4" r="3.4"/>
<circle cx="454.9" cy="606.7" r="3.5"/>
<circle cx="391.2" cy="534.4" r="3.0"/>
<circle cx="544.6" cy="747.1" r="3.1"/>
<circle cx="637.3" cy="748.9" r="3.3"/>
<circle cx="586.9" cy="523.8" r="3.1"/>
<circle cx="484.8" cy="533.8" r="3.9"/>
<circle cx="231.8" cy="534.4" r="3.2"/>
<circle cx="396.9" cy="755.7" r="3.2"/>
<circle cx="398.0" cy="714.4" r="3.6"/>
<circle cx="318.1" cy="709.4" r="3.1"/>
<circle cx="539.8" cy="603.4" r="3.1"/>
<circle cx="287.9" cy="736.1" r="3.5"/>
<circle cx="380.6" cy="744.7" r="4.5"/>
<circle cx="568.6" cy="759.9" r="3.5"/>
<circle cx="245.8" cy="577.8" r="3.9"/>
<circle cx="517.0" cy="541.8" r="3.0"/>
<circle cx="120.5" cy="564.8" r="3.6"/>
<circle cx="338.1" cy="529.4" r="5.4"/>
<circle cx="348.5" cy="587.0" r="3.0"/>
<circle cx="452.3" cy="769.3" r="3.3"/>
<circle cx="216.0" cy="534.5" r="3.7"/>
<circle cx="267.8" cy="759.3" r="3.3"/>
<circle cx="508.1" cy="737.1" r="3.9"/>
<circle cx="666.4" cy="546.9" r="3.7"/>
<circle cx="322.4" cy="523.3" r="3.1"/>
<circle cx="571.8" cy="534.2" r="4.0"/>
<circle cx="281.3" cy="523.7" r="4.2"/>
<circle cx="150.3" cy="545.5" r="3.3"/>
<circle cx="358.3" cy="773.6" r="4.4"/>
<circle cx="594.6" cy="534.5" r="3.9"/>
<circle cx="223.7" cy="757.7" r="3.0"/>
<circle cx="201.6" cy="761.1" r="3.2"/>
<circle cx="420.2" cy="523.9" r="3.8"/>
<circle cx="544.5" cy="745.8" r="3.8"/>
<circle cx="274.8" cy="524.2" r="4.4"/>
<circle cx="543.3" cy="533.8" r="4.0"/>
<circle cx="505.0" cy="533.5" r="3.0"/>
<circle cx="214.4" cy="563.6" r="3.3"/>
<circle cx="136.1" cy="738.0" r="3.9"/>
<circle cx="258.0" cy="535.0" r="3.0"/>
<circle cx="149.8" cy="789.3" r="3.1"/>
<circle cx="333.5" cy="741.0" r="3.1"/>
<circle cx="313.9" cy="775.4" r="3.9"/>
<circle cx="264.7" cy="781.9" r="4.1"/>
<circle cx="262.2" cy="753.6" r="3.2"/>
<circle cx="534.3" cy="761.5" r="3.3"/>
<circle cx="364.5" cy="758.1" r="4.2"/>
<circle cx="520.3" cy="534.0" r="3.9"/>
<circle cx="343.5" cy="605.8" r="3.0"/>
<circle cx="660.4" cy="774.1" r="3.2"/>
<circle cx="360.7" cy="534.2" r="3.3"/>
<circle cx="244.5" cy="524.8" r="3.0"/>
<circle cx="230.9" cy="554.0" r="3.0"/>
<circle cx="388.2" cy="529.0" r="3.7"/>
<circle cx="226.4" cy="689.5" r="3.0"/>
<circle cx="210.8" cy="525.3" r="3.3"/>
<circle cx="470.9" cy="664.8" r="3.6"/>
<circle cx="333.2" cy="591.3" r="3.6"/>
<circle cx="552.0" cy="524.2" r="4.6"/>
<circle cx="615.3" cy="783.4" r="3.3"/>
<circle cx="542.4" cy="530.7" r="3.6"/>
<circle cx="248.4" cy="742.4" r="3.4"/>
<circle cx="306.7" cy="729.0" r="4.6"/>
<circle cx="230.1" cy="541.1" r="3.2"/>
<circle cx="612.9" cy="524.8" r="3.0"/>
<circle cx="582.1" cy="524.3" r="3.1"/>
<circle cx="247.7" cy="525.8" r="5.0"/>
<circle cx="501.0" cy="735.1" r="4.6"/>
<circle cx="595.5" cy="524.1" r="3.9"/>
<circle cx="476.8" cy="738.8" r="3.0"/>
<circle cx="378.1" cy="524.5" r="4.3"/>
<circle cx="465.8" cy="773.7" r="3.2"/>
<circle cx="348.2" cy="523.8" r="3.4"/>
<circle cx="246.8" cy="533.8" r="3.0"/>
<circle cx="646.4" cy="531.4" r="3.6"/>
<circle cx="632.2" cy="620.4" r="3.4"/>
<circle cx="667.6" cy="529.5" r="3.3"/>
<circle cx="239.5" cy="533.8" r="3.2"/>
<circle cx="577.3" cy="733.8" r="3.1"/>
<circle cx="538.6" cy="523.9" r="4.4"/>
<circle cx="388.0" cy="778.7" r="5.2"/>
<circle cx="571.8" cy="725.0" r="3.1"/>
<circle cx="457.7" cy="736.7" r="3.0"/>
<circle cx="182.1" cy="533.6" r="3.4"/>
<circle cx="640.0" cy="733.8" r="3.0"/>
<circle cx="124.2" cy="614.0" r="5.6"/>
<circle cx="362.5" cy="524.2" r="3.6"/>
<circle cx="226.0" cy="540.6" r="3.2"/>
<circle cx="342.6" cy="738.7" r="3.7"/>
<circle cx="628.0" cy="565.5" r="3.2"/>
<circle cx="432.4" cy="524.2" r="3.3"/>
<circle cx="424.3" cy="556.9" r="3.6"/>
<circle cx="405.8" cy="533.4" r="4.6"/>
<circle cx="467.6" cy="770.1" r="4.0"/>
<circle cx="283.1" cy="524.6" r="3.3"/>
<circle cx="457.5" cy="742.3" r="3.7"/>
<circle cx="579.8" cy="741.6" r="3.1"/>
<circle cx="568.2" cy="751.0" r="5.2"/>
<circle cx="120.6" cy="772.1" r="3.3"/>
<circle cx="439.0" cy="533.3" r="5.8"/>
<circle cx="236.9" cy="535.5" r="3.0"/>
<circle cx="644.7" cy="545.0" r="4.5"/>
<circle cx="513.1" cy="534.6" r="5.4"/>
<circle cx="415.2" cy="760.0" r="4.1"/>
<circle cx="144.0" cy="569.4" r="3.5"/>
<circle cx="284.1" cy="534.0" r="3.2"/>
<circle cx="262.5" cy="590.9" r="3.9"/>
<circle cx="331.6" cy="537.1" r="3.5"/>
<circle cx="340.7" cy="753.2" r="3.7"/>
<circle cx="485.9" cy="534.5" r="3.7"/>
<circle cx="303.8" cy="526.0" r="4.5"/>
<circle cx="486.0" cy="534.8" r="3.6"/>
<circle cx="536.7" cy="534.4" r="3.7"/>
<circle cx="465.4" cy="763.8" r="3.1"/>
<circle cx="451.1" cy="534.6" r="3.8"/>
<circle cx="191.4" cy="542.4" r="3.6"/>
<circle cx="653.0" cy="533.4" r="3.0"/>
<circle cx="670.1" cy="523.7" r="3.4"/>
<circle cx="221.3" cy="613.3" r="3.0"/>
<circle cx="459.8" cy="768.9" r="3.0"/>
<circle cx="400.4" cy="741.7" r="3.3"/>
<circle cx="364.7" cy="768.6" r="3.1"/>
<circle cx="525.4" cy="523.8" r="4.4"/>
<circle cx="363.2" cy="540.4" r="3.0"/>
<circle cx="311.5" cy="774.2" r="4.1"/>
<circle cx="663.1" cy="556.4" r="3.1"/>
<circle cx="574.5" cy="712.1" r="3.0"/>
<circle cx="557.9" cy="527.1" r="3.6"/>
<circle cx="477.7" cy="765.2" r="3.1"/>
<circle cx="542.5" cy="535.1" r="3.4"/>
<circle cx="372.9" cy="541.5" r="3.2"/>
<circle cx="602.1" cy="772.7" r="3.4"/>
<circle cx="342.1" cy="533.5" r="3.3"/>
<circle cx="455.1" cy="743.5" r="3.5"/>
<circle cx="284.6" cy="734.6" r="3.4"/>
<circle cx="380.8" cy="738.1" r="5.5"/>
<circle cx="364.3" cy="524.8" r="3.7"/>
<circle cx="511.5" cy="758.7" r="3.0"/>
<circle cx="664.4" cy="718.6" r="3.1"/>
<circle cx="272.7" cy="550.0" r="3.7"/>
<circle cx="528.1" cy="534.5" r="3.0"/>
<circle cx="369.4" cy="531.3" r="5.7"/>
<circle cx="350.7" cy="566.3" r="3.6"/>
<circle cx="343.1" cy="736.3" r="3.0"/>
<circle cx="486.0" cy="524.1" r="3.3"/>
<circle cx="553.9" cy="657.0" r="3.8"/>
<circle cx="654.8" cy="579.6" r="3.0"/>
<circle cx="523.6" cy="572.9" r="3.1"/>
<circle cx="434.8" cy="778.9" r="3.2"/>
<circle cx="446.3" cy="532.9" r="3.1"/>
<circle cx="541.7" cy="739.4" r="3.3"/>
<circle cx="652.9" cy="527.1" r="3.1"/>
<circle cx="506.7" cy="533.2" r="3.4"/>
<circle cx="341.7" cy="614.7" r="3.0"/>
<circle cx="556.4" cy="536.0" r="3.6"/>
<circle cx="435.6" cy="578.7" r="3.5"/>
<circle cx="589.3" cy="523.7" r="4.4"/>
<circle cx="324.2" cy="524.0" r="3.0"/>
<circle cx="664.9" cy="772.6" r="3.1"/>
<circle cx="479.6" cy="527.0" r="3.0"/>
<circle cx="596.7" cy="743.9" r="3.1"/>
<circle cx="592.3" cy="750.6" r="3.0"/>
<circle cx="296.2" cy="721.8" r="3.1"/>
<circle cx="438.5" cy="633.9" r="3.9"/>
<circle cx="365.6" cy="776.3" r="5.2"/>
<circle cx="474.8" cy="546.8" r="3.2"/>
<circle cx="617.4" cy="751.9" r="3.1"/>
<circle cx="282.7" cy="534.3" r="3.1"/>
<circle cx="627.1" cy="534.3" r="3.1"/>
<circle cx="601.9" cy="559.2" r="3.0"/>
<circle cx="163.7" cy="609.0" r="3.2"/>
<circle cx="312.7" cy="643.6" r="3.7"/>
<circle cx="666.1" cy="524.0" r="3.5"/>
<circle cx="438.5" cy="741.8" r="3.2"/>
<circle cx="525.2" cy="534.2" r="5.2"/>
<circle cx="395.8" cy="731.9" r="3.4"/>
<circle cx="580.2" cy="565.9" r="3.1"/>
<circle cx="513.3" cy="539.3" r="3.0"/>
<circle cx="454.0" cy="745.0" r="3.7"/>
<circle cx="342.9" cy="605.4" r="4.2"/>
<circle cx="332.7" cy="529.1" r="3.6"/>
<circle cx="430.2" cy="524.5" r="3.9"/>
<circle cx="526.2" cy="534.5" r="3.1"/>
<circle cx="564.9" cy="532.6" r="3.0"/>
<circle cx="131.2" cy="761.6" r="3.3"/>
<circle cx="242.7" cy="739.4" r="4.1"/>
<circle cx="220.7" cy="565.2" r="3.3"/>
<circle cx="463.3" cy="762.2" r="3.3"/>
<circle cx="627.5" cy="534.9" r="4.4"/>
<circle cx="637.7" cy="772.5" r="3.1"/>
<circle cx="354.8" cy="524.2" r="3.5"/>
<circle cx="224.6" cy="524.1" r="3.3"/>
<circle cx="122.8" cy="523.7" r="6.2"/>
<circle cx="493.5" cy="524.5" r="4.7"/>
<circle cx="637.2" cy="524.5" r="5.4"/>
<circle cx="499.0" cy="533.9" r="4.1"/>
<circle cx="607.6" cy="631.4" r="3.8"/>
<circle cx="156.7" cy="771.9" r="4.6"/>
<circle cx="434.5" cy="771.6" r="3.7"/>
<circle cx="629.3" cy="523.9" r="3.3"/>
<circle cx="496.1" cy="764.0" r="3.0"/>
<circle cx="318.0" cy="522.9" r="3.5"/>
<circle cx="245.1" cy="723.6" r="3.5"/>
<circle cx="532.2" cy="524.3" r="3.1"/>
<circle cx="177.4" cy="548.7" r="3.0"/>
<circle cx="527.8" cy="522.0" r="3.2"/>
<circle cx="337.4" cy="737.9" r="3.4"/>
<circle cx="222.1" cy="783.4" r="5.5"/>
<circle cx="356.1" cy="737.1" r="3.0"/>
<circle cx="585.1" cy="761.7" r="3.2"/>
<circle cx="381.8" cy="770.4" r="3.7"/>
<circle cx="615.6" cy="534.1" r="3.7"/>
<circle cx="320.2" cy="727.3" r="4.7"/>
<circle cx="513.2" cy="517.4" r="3.0"/>
<circle cx="378.2" cy="750.5" r="4.0"/>
<circle cx="524.9" cy="555.7" r="3.3"/>
<circle cx="403.6" cy="524.9" r="3.0"/>
<circle cx="371.6" cy="761.3" r="3.6"/>
<circle cx="345.4" cy="524.8" r="3.4"/>
<circle cx="176.7" cy="759.3" r="3.0"/>
<circle cx="669.1" cy="747.1" r="3.5"/>
<circle cx="475.9" cy="524.6" r="3.9"/>
<circle cx="393.8" cy="532.2" r="3.2"/>
<circle cx="405.3" cy="523.3" r="3.8"/>
<circle cx="548.4" cy="786.9" r="3.1"/>
<circle cx="510.7" cy="534.5" r="3.3"/>
<circle cx="288.5" cy="729.5" r="3.5"/>
<circle cx="490.4" cy="550.1" r="3.3"/>
<circle cx="553.2" cy="585.0" r="3.0"/>
<circle cx="322.6" cy="690.1" r="3.9"/>
<circle cx="630.0" cy="534.9" r="3.5"/>
<circle cx="232.9" cy="533.7" r="3.0"/>
<circle cx="223.9" cy="553.0" r="3.7"/>
<circle cx="286.2" cy="533.9" r="3.0"/>
<circle cx="618.3" cy="713.8" r="6.1"/>
<circle cx="533.2" cy="759.1" r="3.0"/>
<circle cx="321.6" cy="766.7" r="4.6"/>
<circle cx="156.5" cy="587.9" r="3.2"/>
<circle cx="169.8" cy="765.8" r="3.1"/>
<circle cx="473.8" cy="753.9" r="5.6"/>
<circle cx="387.4" cy="727.2" r="3.5"/>
<circle cx="499.8" cy="534.5" r="3.1"/>
<circle cx="188.7" cy="654.8" r="4.5"/>
<circle cx="511.3" cy="775.6" r="3.0"/>
<circle cx="481.2" cy="671.6" r="3.1"/>
<circle cx="647.1" cy="523.4" r="3.3"/>
<circle cx="377.9" cy="764.8" r="3.2"/>
<circle cx="583.8" cy="524.2" r="3.0"/>
<circle cx="583.5" cy="629.2" r="5.9"/>
<circle cx="218.0" cy="713.6" r="3.2"/>
<circle cx="430.4" cy="534.2" r="3.0"/>
<circle cx="230.7" cy="761.1" r="3.1"/>
<circle cx="660.1" cy="533.0" r="5.1"/>
<circle cx="476.6" cy="734.2" r="3.0"/>
<circle cx="648.1" cy="523.8" r="3.3"/>
<circle cx="540.8" cy="534.3" r="3.2"/>
<circle cx="179.7" cy="729.5" r="3.6"/>
<circle cx="544.4" cy="534.3" r="3.5"/>
<circle cx="239.1" cy="520.3" r="3.5"/>
<circle cx="659.2" cy="532.7" r="3.0"/>
<circle cx="591.2" cy="666.9" r="3.2"/>
<circle cx="206.9" cy="524.3" r="3.0"/>
<circle cx="617.1" cy="750.2" r="3.3"/>
<circle cx="486.5" cy="524.4" r="3.5"/>
<circle cx="299.6" cy="590.0" r="3.1"/>
<circle cx="414.9" cy="523.0" r="3.1"/>
<circle cx="117.9" cy="593.7" r="3.0"/>
<circle cx="239.6" cy="534.6" r="3.2"/>
<circle cx="285.0" cy="746.6" r="3.5"/>
<circle cx="204.3" cy="539.4" r="3.0"/>
<circle cx="638.5" cy="742.8" r="4.0"/>
<circle cx="472.1" cy="533.0" r="3.4"/>
<circle cx="214.5" cy="540.7" r="3.9"/>
<circle cx="611.1" cy="524.7" r="3.3"/>
<circle cx="203.3" cy="533.8" r="3.3"/>
<circle cx="368.6" cy="776.5" r="3.6"/>
<circle cx="417.7" cy="747.3" r="3.2"/>
<circle cx="593.8" cy="533.7" r="3.7"/>
<circle cx="526.5" cy="588.7" r="3.0"/>
<circle cx="298.7" cy="756.5" r="5.8"/>
<circle cx="345.5" cy="598.3" r="3.2"/>
<circle cx="520.8" cy="524.4" r="3.1"/>
<circle cx="351.7" cy="722.8" r="3.0"/>
<circle cx="235.5" cy="534.4" r="4.3"/>
<circle cx="297.6" cy="772.0" r="4.0"/>
<circle cx="401.3" cy="533.9" r="3.6"/>
<circle cx="368.7" cy="533.9" r="3.0"/>
<circle cx="500.9" cy="758.1" r="3.1"/>
<circle cx="253.3" cy="701.9" r="3.1"/>
<circle cx="506.5" cy="779.0" r="3.1"/>
<circle cx="662.7" cy="628.9" r="3.8"/>
<circle cx="544.1" cy="533.9" r="3.4"/>
<circle cx="521.4" cy="739.8" r="3.1"/>
<circle cx="226.6" cy="732.3" r="3.5"/>
<circle cx="667.8" cy="533.1" r="4.2"/>
<circle cx="478.6" cy="525.0" r="3.8"/>
<circle cx="517.3" cy="754.0" r="3.2"/>
<circle cx="325.6" cy="527.7" r="4.0"/>
<circle cx="320.5" cy="528.1" r="3.5"/>
<circle cx="296.5" cy="736.4" r="3.0"/>
<circle cx="595.8" cy="534.1" r="3.1"/>
<circle cx="627.3" cy="561.9" r="3.7"/>
<circle cx="494.1" cy="587.2" r="3.0"/>
<circle cx="485.8" cy="524.1" r="3.2"/>
<circle cx="420.7" cy="524.3" r="3.9"/>
<circle cx="520.1" cy="561.7" r="3.1"/>
<circle cx="648.4" cy="746.2" r="3.2"/>
<circle cx="396.5" cy="530.8" r="3.0"/>
<circle cx="255.5" cy="585.5" r="3.3"/>
<circle cx="356.0" cy="756.3" r="3.3"/>
<circle cx="170.9" cy="730.1" r="3.4"/>
<circle cx="647.7" cy="739.6" r="3.4"/>
<circle cx="518.9" cy="535.1" r="3.1"/>
<circle cx="531.4" cy="746.1" r="3.8"/>
<circle cx="375.2" cy="523.3" r="3.3"/>
<circle cx="321.3" cy="734.2" r="3.5"/>
<circle cx="439.1" cy="535.0" r="3.1"/>
<circle cx="398.7" cy="752.4" r="3.1"/>
<circle cx="317.0" cy="533.5" r="3.1"/>
<circle cx="381.5" cy="523.8" r="3.0"/>
<circle cx="264.1" cy="524.4" r="3.7"/>
<circle cx="388.2" cy="565.6" r="3.1"/>
<circle cx="441.7" cy="524.1" r="4.0"/>
<circle cx="662.2" cy="628.4" r="3.9"/>
<circle cx="365.7" cy="761.9" r="4.5"/>
<circle cx="455.3" cy="534.7" r="3.6"/>
<circle cx="533.2" cy="778.8" r="3.2"/>
<circle cx="296.5" cy="578.6" r="5.8"/>
<circle cx="643.1" cy="523.7" r="3.0"/>
<circle cx="178.4" cy="554.6" r="3.4"/>
<circle cx="465.0" cy="533.1" r="3.5"/>
<circle cx="656.5" cy="769.6" r="3.0"/>
<circle cx="451.9" cy="603.1" r="3.0"/>
<circle cx="580.7" cy="616.2" r="3.8"/>
<circle cx="535.0" cy="534.3" r="3.2"/>
<circle cx="415.7" cy="534.7" r="4.3"/>
<circle cx="356.5" cy="747.9" r="3.0"/>
<circle cx="367.6" cy="555.3" r="3.2"/>
<circle cx="528.9" cy="595.6" r="3.2"/>
<circle cx="296.1" cy="543.8" r="3.2"/>
<circle cx="499.5" cy="754.7" r="3.2"/>
<circle cx="455.9" cy="574.8" r="3.7"/>
<circle cx="593.6" cy="726.8" r="3.8"/>
<circle cx="665.8" cy="580.6" r="3.2"/>
<circle cx="342.1" cy="533.9" r="3.2"/>
<circle cx="452.0" cy="534.9" r="3.0"/>
<circle cx="629.0" cy="732.0" r="4.4"/>
<circle cx="570.8" cy="533.3" r="3.2"/>
<circle cx="239.1" cy="734.1" r="3.3"/>
<circle cx="472.9" cy="566.3" r="3.3"/>
<circle cx="224.8" cy="729.2" r="3.8"/>
<circle cx="188.2" cy="771.8" r="3.4"/>
<circle cx="397.7" cy="534.6" r="3.9"/>
<circle cx="612.4" cy="533.7" r="3.6"/>
<circle cx="155.7" cy="523.6" r="3.6"/>
<circle cx="325.6" cy="768.6" r="4.1"/>
<circle cx="636.3" cy="592.1" r="3.6"/>
<circle cx="352.3" cy="589.8" r="3.8"/>
<circle cx="593.3" cy="773.4" r="3.1"/>
<circle cx="377.9" cy="535.3" r="3.7"/>
<circle cx="254.8" cy="553.1" r="4.4"/>
<circle cx="530.3" cy="527.7" r="3.0"/>
<circle cx="378.4" cy="534.6" r="3.7"/>
<circle cx="197.6" cy="593.7" r="3.1"/>
<circle cx="635.1" cy="535.1" r="4.1"/>
<circle cx="401.7" cy="771.4" r="4.7"/>
<circle cx="187.8" cy="777.5" r="3.3"/>
<circle cx="622.8" cy="721.9" r="3.0"/>
<circle cx="391.6" cy="555.8" r="3.2"/>
<circle cx="581.3" cy="559.5" r="3.1"/>
<circle cx="620.7" cy="758.8" r="3.8"/>
<circle cx="563.7" cy="528.4" r="3.1"/>
<circle cx="314.1" cy="755.4" r="4.9"/>
<circle cx="406.4" cy="525.0" r="3.1"/>
<circle cx="468.2" cy="766.5" r="3.7"/>
<circle cx="510.4" cy="534.2" r="3.1"/>
<circle cx="200.0" cy="533.1" r="3.8"/>
<circle cx="439.4" cy="537.7" r="3.5"/>
<circle cx="205.1" cy="528.4" r="4.1"/>
<circle cx="451.7" cy="764.3" r="3.6"/>
<circle cx="420.3" cy="524.8" r="4.2"/>
<circle cx="439.4" cy="734.1" r="3.0"/>
<circle cx="441.3" cy="534.2" r="5.1"/>
<circle cx="133.5" cy="744.6" r="3.7"/>
<circle cx="297.6" cy="763.8" r="3.9"/>
<circle cx="340.2" cy="772.1" r="3.3"/>
<circle cx="390.9" cy="585.8" r="3.9"/>
<circle cx="482.9" cy="727.2" r="3.3"/>
<circle cx="244.1" cy="531.0" r="3.3"/>
<circle cx="421.2" cy="753.3" r="3.3"/>
<circle cx="497.1" cy="571.6" r="3.4"/>
<circle cx="503.1" cy="528.0" r="3.1"/>
<circle cx="436.4" cy="775.8" r="3.3"/>
<circle cx="402.1" cy="723.7" r="3.0"/>
<circle cx="653.7" cy="740.1" r="3.4"/>
<circle cx="198.2" cy="534.0" r="3.2"/>
<circle cx="225.8" cy="752.0" r="3.4"/>
<circle cx="329.5" cy="531.4" r="4.5"/>
<circle cx="223.0" cy="534.0" r="3.0"/>
<circle cx="357.2" cy="768.9" r="3.1"/>
<circle cx="228.1" cy="534.6" r="3.0"/>
<circle cx="666.2" cy="534.4" r="3.0"/>
<circle cx="342.6" cy="567.5" r="4.1"/>
<circle cx="184.0" cy="771.4" r="3.3"/>
<circle cx="619.6" cy="550.3" r="4.0"/>
<circle cx="559.1" cy="687.3" r="3.0"/>
<circle cx="647.3" cy="810.0" r="3.0"/>
<circle cx="561.5" cy="748.0" r="4.5"/>
<circle cx="604.9" cy="534.0" r="3.6"/>
<circle cx="621.0" cy="770.0" r="5.7"/>
<circle cx="279.2" cy="721.7" r="3.9"/>
<circle cx="160.1" cy="615.6" r="3.0"/>
<circle cx="482.7" cy="603.0" r="3.1"/>
<circle cx="460.2" cy="533.9" r="3.1"/>
<circle cx="369.3" cy="771.4" r="3.1"/>
<circle cx="330.3" cy="592.4" r="3.1"/>
<circle cx="249.5" cy="524.2" r="3.1"/>
<circle cx="334.8" cy="524.2" r="3.1"/>
<circle cx="248.4" cy="533.3" r="4.5"/>
<circle cx="483.5" cy="598.4" r="4.6"/>
<circle cx="497.2" cy="756.5" r="3.2"/>
<circle cx="634.7" cy="534.3" r="3.8"/>
<circle cx="306.7" cy="726.9" r="3.0"/>
<circle cx="210.3" cy="627.8" r="3.8"/>
<circle cx="540.8" cy="748.3" r="3.1"/>
<circle cx="541.4" cy="527.7" r="3.7"/>
<circle cx="385.8" cy="524.0" r="3.9"/>
<circle cx="620.5" cy="525.0" r="3.6"/>
<circle cx="405.0" cy="533.7" r="3.0"/>
<circle cx="554.5" cy="730.1" r="4.1"/>
<circle cx="330.5" cy="523.9" r="4.1"/>
<circle cx="607.3" cy="749.0" r="3.0"/>
<circle cx="366.2" cy="534.7" r="3.7"/>
<circle cx="420.3" cy="549.3" r="3.3"/>
<circle cx="354.6" cy="535.4" r="3.6"/>
<circle cx="167.3" cy="613.2" r="4.4"/>
<circle cx="444.9" cy="523.6" r="3.6"/>
<circle cx="415.7" cy="761.0" r="3.0"/>
<circle cx="657.4" cy="750.1" r="4.3"/>
<circle cx="667.7" cy="568.3" r="3.1"/>
<circle cx="417.4" cy="753.4" r="3.7"/>
<circle cx="131.7" cy="749.4" r="3.1"/>
<circle cx="616.3" cy="533.7" r="3.3"/>
<circle cx="591.8" cy="524.3" r="3.1"/>
<circle cx="578.9" cy="523.6" r="3.2"/>
<circle cx="262.0" cy="533.7" r="3.0"/>
<circle cx="362.1" cy="758.5" r="4.3"/>
<circle cx="641.2" cy="767.2" r="3.2"/>
<circle cx="536.6" cy="621.4" r="3.2"/>
<circle cx="379.4" cy="783.4" r="4.3"/>
<circle cx="560.6" cy="757.9" r="3.0"/>
<circle cx="439.2" cy="578.4" r="3.0"/>
<circle cx="529.7" cy="524.4" r="3.0"/>
<circle cx="299.7" cy="533.2" r="5.0"/>
<circle cx="247.6" cy="612.2" r="3.5"/>
<circle cx="391.9" cy="645.2" r="3.5"/>
<circle cx="602.4" cy="757.0" r="3.5"/>
<circle cx="584.8" cy="524.8" r="3.8"/>
<circle cx="227.3" cy="752.9" r="3.2"/>
<circle cx="608.5" cy="534.1" r="3.7"/>
<circle cx="329.8" cy="522.9" r="3.1"/>
<circle cx="498.4" cy="745.1" r="3.1"/>
<circle cx="429.8" cy="548.6" r="4.1"/>
<circle cx="224.0" cy="756.5" r="3.4"/>
<circle cx="509.2" cy="754.2" r="3.3"/>
<circle cx="262.3" cy="737.2" r="3.3"/>
<circle cx="505.9" cy="578.1" r="3.0"/>
<circle cx="426.8" cy="550.6" r="3.1"/>
<circle cx="383.1" cy="534.0" r="3.8"/>
<circle cx="425.0" cy="523.8" r="3.3"/>
<circle cx="212.4" cy="534.6" r="4.6"/>
<circle cx="636.3" cy="758.3" r="3.0"/>
<circle cx="253.7" cy="713.9" r="3.9"/>
<circle cx="497.5" cy="730.9" r="3.4"/>
<circle cx="237.3" cy="534.6" r="3.5"/>
<circle cx="368.9" cy="637.5" r="3.1"/>
<circle cx="578.0" cy="528.4" r="3.0"/>
<circle cx="123.0" cy="628.5" r="3.2"/>
<circle cx="289.7" cy="559.0" r="4.2"/>
<circle cx="316.2" cy="533.1" r="3.1"/>
<circle cx="364.4" cy="661.7" r="3.0"/>
<circle cx="645.4" cy="529.7" r="3.9"/>
<circle cx="581.2" cy="747.1" r="3.2"/>
<circle cx="436.5" cy="592.5" r="3.5"/>
<circle cx="172.0" cy="779.4" r="3.7"/>
<circle cx="332.9" cy="558.7" r="3.1"/>
<circle cx="324.2" cy="567.0" r="3.2"/>
<circle cx="365.8" cy="779.5" r="3.2"/>
<circle cx="245.8" cy="761.3" r="3.3"/>
<circle cx="122.8" cy="616.8" r="3.6"/>
<circle cx="244.0" cy="762.2" r="3.6"/>
<circle cx="647.4" cy="524.4" r="3.0"/>
<circle cx="404.7" cy="756.3" r="3.2"/>
<circle cx="482.2" cy="619.1" r="3.1"/>
<circle cx="428.4" cy="710.8" r="3.1"/>
<circle cx="646.4" cy="543.8" r="3.3"/>
<circle cx="663.3" cy="694.9" r="3.4"/>
<circle cx="610.3" cy="523.8" r="3.1"/>
<circle cx="666.3" cy="533.8" r="3.0"/>
<circle cx="591.6" cy="533.7" r="3.7"/>
<circle cx="264.1" cy="789.2" r="4.2"/>
<circle cx="302.0" cy="697.0" r="3.0"/>
<circle cx="641.4" cy="529.2" r="3.1"/>
<circle cx="332.6" cy="535.3" r="3.5"/>
<circle cx="352.1" cy="540.7" r="3.2"/>
<circle cx="496.5" cy="554.4" r="4.2"/>
<circle cx="236.9" cy="758.5" r="3.1"/>
<circle cx="563.5" cy="753.9" r="3.1"/>
<circle cx="558.1" cy="533.9" r="3.2"/>
<circle cx="671.2" cy="733.6" r="3.0"/>
<circle cx="214.8" cy="534.1" r="4.2"/>
<circle cx="490.8" cy="627.6" r="3.0"/>
<circle cx="206.8" cy="535.3" r="3.0"/>
<circle cx="273.4" cy="714.1" r="3.0"/>
<circle cx="476.9" cy="747.5" r="3.0"/>
<circle cx="511.1" cy="785.5" r="4.0"/>
<circle cx="656.5" cy="524.5" r="3.2"/>
<circle cx="387.4" cy="523.3" r="4.2"/>
<circle cx="220.7" cy="675.3" r="3.2"/>
<circle cx="504.0" cy="583.7" r="3.5"/>
<circle cx="238.6" cy="524.4" r="5.3"/>
<circle cx="492.2" cy="569.0" r="3.0"/>
<circle cx="459.9" cy="738.1" r="3.2"/>
<circle cx="446.1" cy="752.2" r="3.7"/>
<circle cx="570.4" cy="571.0" r="3.0"/>
<circle cx="652.8" cy="532.6" r="4.4"/>
<circle cx="557.9" cy="729.8" r="3.1"/>
<circle cx="555.0" cy="764.6" r="3.2"/>
<circle cx="604.6" cy="539.2" r="3.3"/>
<circle cx="179.4" cy="533.6" r="3.3"/>
<circle cx="437.7" cy="532.7" r="3.0"/>
<circle cx="499.4" cy="534.7" r="3.3"/>
<circle cx="218.0" cy="534.8" r="3.3"/>
<circle cx="447.1" cy="774.8" r="3.1"/>
<circle cx="477.7" cy="523.9" r="3.5"/>
<circle cx="213.2" cy="756.3" r="3.4"/>
<circle cx="418.5" cy="767.3" r="3.7"/>
<circle cx="466.7" cy="781.7" r="3.5"/>
<circle cx="607.9" cy="737.2" r="4.0"/>
<circle cx="561.1" cy="658.1" r="3.4"/>
<circle cx="321.2" cy="745.0" r="3.3"/>
<circle cx="127.6" cy="772.2" r="3.2"/>
<circle cx="403.9" cy="533.1" r="3.0"/>
<circle cx="662.2" cy="743.7" r="3.2"/>
<circle cx="385.1" cy="523.2" r="6.8"/>
<circle cx="115.1" cy="729.7" r="3.1"/>
<circle cx="613.5" cy="599.6" r="3.0"/>
<circle cx="258.1" cy="534.2" r="3.1"/>
<circle cx="351.0" cy="525.6" r="3.3"/>
<circle cx="207.7" cy="688.1" r="3.8"/>
<circle cx="386.6" cy="535.6" r="4.8"/>
<circle cx="609.4" cy="533.3" r="3.0"/>
<circle cx="154.9" cy="730.1" r="3.8"/>
<circle cx="597.9" cy="529.8" r="3.2"/>
<circle cx="205.1" cy="536.6" r="3.0"/>
<circle cx="634.3" cy="523.9" r="3.0"/>
<circle cx="495.9" cy="534.3" r="3.9"/>
<circle cx="248.7" cy="744.8" r="3.0"/>
<circle cx="493.8" cy="527.8" r="3.1"/>
<circle cx="344.1" cy="585.3" r="3.3"/>
<circle cx="222.0" cy="524.1" r="3.9"/>
<circle cx="212.4" cy="535.2" r="3.0"/>
<circle cx="622.2" cy="709.9" r="3.1"/>
<circle cx="561.0" cy="582.4" r="3.6"/>
<circle cx="630.8" cy="778.5" r="4.4"/>
<circle cx="426.0" cy="800.4" r="3.4"/>
<circle cx="320.2" cy="524.6" r="3.5"/>
<circle cx="323.5" cy="762.4" r="3.0"/>
<circle cx="488.0" cy="516.8" r="3.6"/>
<circle cx="515.4" cy="753.0" r="4.2"/>
<circle cx="581.4" cy="533.8" r="3.1"/>
<circle cx="419.4" cy="533.3" r="3.2"/>
<circle cx="605.0" cy="525.4" r="4.4"/>
<circle cx="394.2" cy="534.3" r="4.0"/>
<circle cx="381.4" cy="524.4" r="3.4"/>
<circle cx="264.5" cy="764.6" r="3.2"/>
<circle cx="333.8" cy="523.7" r="3.3"/>
<circle cx="655.3" cy="767.6" r="3.9"/>
<circle cx="551.9" cy="524.4" r="3.7"/>
<circle cx="422.9" cy="525.1" r="3.0"/>
<circle cx="395.4" cy="524.3" r="3.1"/>
<circle cx="409.7" cy="538.2" r="3.2"/>
<circle cx="303.5" cy="521.0" r="3.9"/>
<circle cx="208.1" cy="524.0" r="4.5"/>
<circle cx="359.4" cy="727.9" r="3.2"/>
<circle cx="403.4" cy="768.4" r="3.0"/>
<circle cx="529.8" cy="756.7" r="3.0"/>
<circle cx="584.2" cy="734.3" r="3.3"/>
<circle cx="598.4" cy="524.3" r="3.5"/>
<circle cx="119.2" cy="772.5" r="3.8"/>
<circle cx="364.0" cy="524.0" r="3.4"/>
<circle cx="319.3" cy="585.3" r="3.6"/>
<circle cx="533.5" cy="768.4" r="3.6"/>
<circle cx="564.8" cy="539.9" r="3.8"/>
<circle cx="581.9" cy="718.3" r="3.0"/>
<circle cx="245.3" cy="531.3" r="3.1"/>
<circle cx="665.2" cy="720.7" r="3.4"/>
<circle cx="408.4" cy="524.1" r="3.5"/>
<circle cx="125.0" cy="584.8" r="3.5"/>
<circle cx="191.1" cy="574.5" r="3.1"/>
<circle cx="572.7" cy="733.5" r="3.0"/>
<circle cx="503.1" cy="729.2" r="3.0"/>
<circle cx="577.5" cy="735.7" r="3.7"/>
<circle cx="173.5" cy="769.7" r="3.4"/>
<circle cx="483.9" cy="781.7" r="3.3"/>
<circle cx="460.4" cy="523.9" r="3.8"/>
<circle cx="658.3" cy="764.8" r="3.7"/>
<circle cx="181.8" cy="764.1" r="4.1"/>
<circle cx="668.2" cy="524.4" r="3.1"/>
<circle cx="385.5" cy="592.1" r="4.4"/>
<circle cx="605.8" cy="749.9" r="4.3"/>
<circle cx="643.9" cy="764.2" r="3.1"/>
<circle cx="264.8" cy="611.9" r="3.6"/>
<circle cx="365.1" cy="761.6" r="3.9"/>
<circle cx="386.5" cy="533.8" r="3.0"/>
<circle cx="209.8" cy="738.6" r="3.0"/>
<circle cx="445.7" cy="778.1" r="3.1"/>
<circle cx="274.9" cy="606.1" r="3.0"/>
<circle cx="410.9" cy="738.0" r="3.7"/>
<circle cx="586.0" cy="636.2" r="3.3"/>
<circle cx="532.7" cy="517.6" r="3.0"/>
<circle cx="534.2" cy="757.1" r="3.2"/>
<circle cx="317.0" cy="724.2" r="3.2"/>
<circle cx="300.1" cy="528.9" r="3.2"/>
<circle cx="347.4" cy="604.2" r="3.6"/>
<circle cx="662.1" cy="624.4" r="3.0"/>
<circle cx="636.7" cy="533.6" r="3.2"/>
<circle cx="332.0" cy="641.0" r="4.0"/>
<circle cx="468.4" cy="533.6" r="3.7"/>
<circle cx="260.8" cy="532.3" r="3.0"/>
<circle cx="369.1" cy="778.4" r="4.1"/>
<circle cx="413.7" cy="578.1" r="3.9"/>
<circle cx="446.0" cy="524.0" r="3.4"/>
<circle cx="351.3" cy="527.2" r="3.0"/>
<circle cx="378.2" cy="755.6" r="4.3"/>
<circle cx="140.1" cy="729.9" r="3.4"/>
<circle cx="465.0" cy="524.1" r="3.8"/>
<circle cx="138.6" cy="564.2" r="3.3"/>
<circle cx="143.4" cy="533.3" r="3.2"/>
<circle cx="553.4" cy="523.8" r="3.1"/>
<circle cx="560.4" cy="534.7" r="3.3"/>
<circle cx="367.4" cy="534.2" r="4.6"/>
<circle cx="495.0" cy="589.8" r="4.6"/>
<circle cx="489.0" cy="533.1" r="3.4"/>
<circle cx="345.3" cy="611.4" r="3.3"/>
<circle cx="311.9" cy="747.9" r="3.0"/>
<circle cx="470.8" cy="752.5" r="3.6"/>
<circle cx="422.2" cy="534.2" r="4.7"/>
<circle cx="333.9" cy="599.6" r="3.3"/>
<circle cx="216.9" cy="539.9" r="3.5"/>
<circle cx="587.4" cy="534.2" r="3.4"/>
<circle cx="547.7" cy="534.8" r="3.7"/>
<circle cx="420.2" cy="524.1" r="3.5"/>
<circle cx="572.1" cy="524.8" r="3.7"/>
<circle cx="425.0" cy="567.1" r="3.0"/>
<circle cx="225.6" cy="759.2" r="5.7"/>
<circle cx="237.3" cy="591.8" r="3.5"/>
<circle cx="344.6" cy="524.2" r="3.5"/>
<circle cx="158.6" cy="763.6" r="3.4"/>
<circle cx="268.0" cy="620.5" r="3.5"/>
<circle cx="404.3" cy="775.4" r="3.0"/>
<circle cx="395.4" cy="750.6" r="3.6"/>
<circle cx="635.4" cy="706.2" r="3.1"/>
<circle cx="499.4" cy="751.1" r="3.0"/>
<circle cx="233.2" cy="542.9" r="3.3"/>
<circle cx="478.7" cy="760.3" r="4.2"/>
<circle cx="564.5" cy="723.1" r="3.9"/>
<circle cx="494.4" cy="563.7" r="3.3"/>
<circle cx="498.5" cy="569.1" r="3.0"/>
<circle cx="158.0" cy="720.3" r="3.1"/>
<circle cx="657.4" cy="523.8" r="3.3"/>
<circle cx="529.6" cy="529.3" r="3.1"/>
<circle cx="625.8" cy="530.3" r="4.5"/>
<circle cx="582.5" cy="767.1" r="3.4"/>
<circle cx="501.0" cy="773.1" r="3.0"/>
<circle cx="284.5" cy="753.4" r="3.1"/>
<circle cx="440.4" cy="534.3" r="3.2"/>
<circle cx="519.8" cy="777.1" r="3.4"/>
<circle cx="386.8" cy="571.5" r="3.3"/>
<circle cx="458.8" cy="524.3" r="3.7"/>
<circle cx="254.4" cy="534.1" r="3.6"/>
<circle cx="366.4" cy="534.6" r="3.0"/>
<circle cx="535.8" cy="524.0" r="3.2"/>
<circle cx="455.1" cy="533.5" r="3.8"/>
<circle cx="129.8" cy="772.5" r="3.1"/>
<circle cx="430.6" cy="529.8" r="3.8"/>
<circle cx="284.0" cy="735.3" r="3.0"/>
<circle cx="258.0" cy="524.1" r="5.1"/>
<circle cx="195.9" cy="738.5" r="4.4"/>
<circle cx="270.3" cy="553.5" r="3.5"/>
<circle cx="543.5" cy="602.8" r="4.3"/>
<circle cx="214.0" cy="547.7" r="4.3"/>
<circle cx="223.2" cy="661.8" r="3.0"/>
<circle cx="245.0" cy="581.6" r="3.0"/>
<circle cx="149.7" cy="622.9" r="3.5"/>
<circle cx="214.3" cy="578.1" r="3.0"/>
<circle cx="206.6" cy="746.3" r="3.6"/>
<circle cx="398.5" cy="524.9" r="4.2"/>
<circle cx="589.4" cy="534.3" r="3.7"/>
<circle cx="239.2" cy="534.6" r="3.4"/>
<circle cx="486.0" cy="752.5" r="3.0"/>
<circle cx="623.2" cy="562.2" r="3.1"/>
<circle cx="652.2" cy="535.0" r="3.4"/>
<circle cx="366.3" cy="778.1" r="3.5"/>
<circle cx="404.6" cy="761.4" r="3.2"/>
<circle cx="583.8" cy="534.3" r="3.4"/>
<circle cx="454.9" cy="524.0" r="3.6"/>
<circle cx="329.0" cy="524.3" r="3.5"/>
<circle cx="431.1" cy="534.8" r="3.4"/>
<circle cx="235.6" cy="534.8" r="3.1"/>
<circle cx="627.9" cy="564.3" r="3.0"/>
<circle cx="401.7" cy="778.8" r="3.1"/>
<circle cx="567.8" cy="730.8" r="3.0"/>
<circle cx="367.7" cy="592.4" r="4.2"/>
<circle cx="543.1" cy="618.7" r="3.3"/>
<circle cx="353.4" cy="771.1" r="4.4"/>
<circle cx="428.4" cy="756.0" r="4.6"/>
<circle cx="483.6" cy="628.3" r="3.1"/>
<circle cx="477.0" cy="533.5" r="3.0"/>
<circle cx="478.9" cy="549.9" r="3.4"/>
<circle cx="298.4" cy="609.7" r="3.1"/>
<circle cx="384.5" cy="524.3" r="3.2"/>
<circle cx="572.3" cy="535.5" r="5.0"/>
<circle cx="342.5" cy="570.9" r="3.2"/>
<circle cx="526.3" cy="749.8" r="3.1"/>
<circle cx="593.7" cy="534.0" r="4.0"/>
<circle cx="651.7" cy="745.0" r="3.2"/>
<circle cx="162.9" cy="544.4" r="4.1"/>
<circle cx="644.2" cy="523.7" r="4.9"/>
<circle cx="155.6" cy="566.0" r="3.3"/>
<circle cx="448.4" cy="717.2" r="3.6"/>
<circle cx="471.1" cy="755.5" r="3.2"/>
<circle cx="393.3" cy="786.2" r="3.5"/>
<circle cx="455.0" cy="767.6" r="3.3"/>
<circle cx="365.1" cy="534.5" r="4.6"/>
<circle cx="255.6" cy="730.0" r="3.1"/>
<circle cx="539.9" cy="764.2" r="3.1"/>
<circle cx="603.1" cy="761.6" r="3.4"/>
<circle cx="281.2" cy="523.2" r="4.3"/>
<circle cx="326.8" cy="695.3" r="3.1"/>
<circle cx="612.2" cy="743.7" r="3.2"/>
<circle cx="605.5" cy="773.7" r="3.5"/>
<circle cx="180.7" cy="771.7" r="3.3"/>
<circle cx="524.2" cy="725.9" r="3.0"/>
<circle cx="382.9" cy="764.3" r="3.2"/>
<circle cx="433.7" cy="761.5" r="3.5"/>
<circle cx="287.9" cy="721.9" r="3.0"/>
<circle cx="233.5" cy="587.8" r="3.9"/>
<circle cx="489.8" cy="534.1" r="3.3"/>
<circle cx="491.1" cy="754.8" r="4.9"/>
<circle cx="589.7" cy="749.9" r="4.4"/>
<circle cx="268.9" cy="589.5" r="3.2"/>
<circle cx="605.3" cy="524.5" r="3.6"/>
<circle cx="209.3" cy="534.2" r="3.1"/>
<circle cx="443.0" cy="573.6" r="3.1"/>
<circle cx="406.3" cy="609.9" r="3.7"/>
<circle cx="464.1" cy="772.6" r="4.8"/>
<circle cx="285.2" cy="776.9" r="3.4"/>
<circle cx="499.9" cy="776.3" r="3.0"/>
<circle cx="549.3" cy="739.8" r="3.0"/>
<circle cx="602.0" cy="576.2" r="3.2"/>
<circle cx="299.1" cy="744.9" r="4.2"/>
<circle cx="586.2" cy="765.3" r="3.3"/>
<circle cx="413.0" cy="590.1" r="3.2"/>
<circle cx="307.4" cy="752.4" r="3.2"/>
<circle cx="284.8" cy="534.7" r="4.4"/>
<circle cx="313.9" cy="524.3" r="3.1"/>
<circle cx="548.4" cy="530.1" r="3.3"/>
<circle cx="471.1" cy="594.4" r="3.7"/>
<circle cx="307.5" cy="563.3" r="4.0"/>
<circle cx="183.3" cy="689.1" r="3.5"/>
<circle cx="649.1" cy="775.3" r="3.1"/>
<circle cx="232.1" cy="523.9" r="3.5"/>
<circle cx="340.7" cy="532.4" r="3.0"/>
<circle cx="384.3" cy="577.0" r="3.8"/>
<circle cx="441.2" cy="525.1" r="3.1"/>
<circle cx="458.8" cy="523.8" r="3.7"/>
<circle cx="182.4" cy="541.6" r="3.5"/>
<circle cx="206.4" cy="676.9" r="3.3"/>
<circle cx="506.1" cy="524.5" r="3.0"/>
<circle cx="568.3" cy="784.4" r="3.3"/>
<circle cx="363.0" cy="540.9" r="3.1"/>
<circle cx="334.1" cy="597.4" r="3.2"/>
<circle cx="218.7" cy="772.2" r="4.3"/>
<circle cx="459.0" cy="533.6" r="3.1"/>
<circle cx="166.3" cy="586.6" r="3.7"/>
<circle cx="612.4" cy="597.2" r="3.5"/>
<circle cx="279.8" cy="524.5" r="3.1"/>
<circle cx="511.3" cy="532.8" r="3.4"/>
<circle cx="667.5" cy="768.7" r="4.5"/>
<circle cx="660.4" cy="732.4" r="3.3"/>
<circle cx="513.8" cy="530.1" r="5.5"/>
<circle cx="413.3" cy="589.7" r="3.1"/>
<circle cx="538.5" cy="755.1" r="3.9"/>
<circle cx="381.5" cy="543.1" r="3.0"/>
<circle cx="571.9" cy="531.6" r="3.7"/>
<circle cx="339.7" cy="581.1" r="3.2"/>
<circle cx="640.4" cy="523.6" r="4.4"/>
<circle cx="199.5" cy="533.8" r="3.3"/>
<circle cx="337.6" cy="741.8" r="3.3"/>
<circle cx="605.7" cy="533.1" r="4.0"/>
<circle cx="216.2" cy="574.1" r="3.0"/>
<circle cx="379.2" cy="524.5" r="3.2"/>
<circle cx="423.5" cy="734.4" r="3.1"/>
<circle cx="179.3" cy="771.9" r="3.6"/>
<circle cx="585.3" cy="534.2" r="3.2"/>
<circle cx="158.6" cy="756.7" r="3.0"/>
<circle cx="374.4" cy="524.3" r="3.1"/>
<circle cx="205.4" cy="524.8" r="3.5"/>
<circle cx="406.3" cy="540.1" r="3.0"/>
<circle cx="644.6" cy="585.2" r="4.4"/>
<circle cx="589.4" cy="533.6" r="3.7"/>
<circle cx="366.6" cy="523.7" r="3.1"/>
<circle cx="302.8" cy="525.0" r="3.1"/>
<circle cx="597.2" cy="532.5" r="3.0"/>
<circle cx="394.0" cy="779.9" r="3.0"/>
<circle cx="266.5" cy="566.9" r="4.6"/>
<circle cx="465.6" cy="743.9" r="3.2"/>
<circle cx="490.1" cy="628.2" r="3.1"/>
<circle cx="282.1" cy="524.1" r="3.9"/>
<circle cx="524.9" cy="523.7" r="3.0"/>
<circle cx="255.7" cy="523.5" r="4.4"/>
<circle cx="337.9" cy="522.8" r="3.7"/>
<circle cx="212.9" cy="530.1" r="3.0"/>
<circle cx="642.5" cy="524.1" r="3.6"/>
<circle cx="556.3" cy="523.9" r="3.3"/>
<circle cx="552.3" cy="652.6" r="4.0"/>
<circle cx="587.7" cy="756.4" r="3.5"/>
<circle cx="458.4" cy="685.0" r="3.3"/>
<circle cx="591.9" cy="535.5" r="3.2"/>
<circle cx="407.5" cy="524.5" r="4.7"/>
<circle cx="505.2" cy="534.8" r="3.1"/>
<circle cx="395.8" cy="527.7" r="3.7"/>
<circle cx="468.2" cy="774.0" r="4.0"/>
<circle cx="360.7" cy="548.1" r="3.4"/>
<circle cx="436.6" cy="533.7" r="3.8"/>
<circle cx="518.3" cy="530.7" r="3.0"/>
<circle cx="445.7" cy="523.7" r="5.4"/>
<circle cx="156.0" cy="570.9" r="3.5"/>
<circle cx="176.8" cy="763.3" r="3.1"/>
<circle cx="659.6" cy="562.6" r="3.5"/>
<circle cx="309.7" cy="762.8" r="3.8"/>
<circle cx="456.7" cy="523.7" r="3.8"/>
<circle cx="588.5" cy="534.4" r="3.4"/>
<circle cx="630.0" cy="535.1" r="3.0"/>
<circle cx="156.5" cy="561.2" r="3.3"/>
<circle cx="630.1" cy="764.3" r="3.5"/>
<circle cx="221.4" cy="540.0" r="4.5"/>
<circle cx="520.5" cy="524.4" r="3.8"/>
<circle cx="330.2" cy="769.7" r="3.9"/>
<circle cx="456.7" cy="523.9" r="3.2"/>
<circle cx="230.4" cy="731.5" r="3.2"/>
<circle cx="347.3" cy="534.3" r="3.7"/>
<circle cx="512.4" cy="533.6" r="3.7"/>
<circle cx="544.4" cy="702.7" r="3.2"/>
<circle cx="342.4" cy="568.4" r="3.2"/>
<circle cx="215.4" cy="538.4" r="3.0"/>
<circle cx="340.0" cy="738.4" r="3.0"/>
<circle cx="288.1" cy="557.3" r="4.2"/>
<circle cx="274.4" cy="744.8" r="3.4"/>
<circle cx="405.9" cy="524.4" r="3.3"/>
<circle cx="214.6" cy="743.1" r="3.1"/>
<circle cx="398.2" cy="580.3" r="3.0"/>
<circle cx="510.4" cy="581.6" r="3.4"/>
<circle cx="613.1" cy="648.9" r="3.1"/>
<circle cx="274.6" cy="523.4" r="4.0"/>
<circle cx="648.3" cy="522.7" r="3.4"/>
<circle cx="370.6" cy="540.1" r="3.0"/>
<circle cx="307.9" cy="735.8" r="3.6"/>
<circle cx="551.3" cy="524.4" r="3.3"/>
<circle cx="584.2" cy="699.4" r="3.7"/>
<circle cx="249.4" cy="774.2" r="3.1"/>
<circle cx="276.8" cy="757.0" r="5.1"/>
<circle cx="152.5" cy="523.0" r="4.0"/>
<circle cx="600.8" cy="524.2" r="3.4"/>
<circle cx="409.2" cy="737.3" r="3.2"/>
<circle cx="334.0" cy="560.7" r="3.1"/>
<circle cx="352.7" cy="523.6" r="3.0"/>
<circle cx="323.7" cy="532.0" r="4.7"/>
<circle cx="361.4" cy="724.9" r="4.8"/>
<circle cx="259.2" cy="678.3" r="4.8"/>
<circle cx="444.9" cy="714.1" r="4.5"/>
<circle cx="463.1" cy="524.4" r="3.8"/>
<circle cx="244.3" cy="772.3" r="3.2"/>
<circle cx="299.9" cy="766.1" r="3.5"/>
<circle cx="583.1" cy="554.7" r="3.1"/>
<circle cx="589.7" cy="534.1" r="3.1"/>
<circle cx="544.2" cy="534.7" r="3.1"/>
<circle cx="271.3" cy="745.9" r="3.1"/>
<circle cx="177.6" cy="688.2" r="4.5"/>
<circle cx="536.9" cy="734.8" r="3.1"/>
<circle cx="388.6" cy="533.5" r="4.2"/>
<circle cx="551.1" cy="551.3" r="3.5"/>
<circle cx="351.1" cy="533.6" r="3.3"/>
<circle cx="537.0" cy="742.7" r="3.2"/>
<circle cx="371.1" cy="737.8" r="3.8"/>
<circle cx="574.7" cy="523.6" r="3.2"/>
<circle cx="634.3" cy="534.4" r="3.4"/>
<circle cx="413.8" cy="783.1" r="3.1"/>
<circle cx="665.4" cy="524.9" r="3.7"/>
<circle cx="547.2" cy="800.5" r="3.1"/>
<circle cx="651.7" cy="742.5" r="4.3"/>
<circle cx="268.9" cy="743.7" r="3.1"/>
<circle cx="602.8" cy="743.1" r="3.0"/>
<circle cx="494.4" cy="524.3" r="3.8"/>
<circle cx="287.1" cy="760.0" r="3.4"/>
<circle cx="404.8" cy="728.7" r="3.1"/>
<circle cx="602.0" cy="735.1" r="4.3"/>
<circle cx="214.1" cy="640.7" r="3.1"/>
<circle cx="412.8" cy="534.3" r="3.4"/>
<circle cx="230.9" cy="573.1" r="3.5"/>
<circle cx="622.5" cy="726.2" r="3.0"/>
<circle cx="593.1" cy="534.7" r="3.4"/>
<circle cx="377.1" cy="594.8" r="3.0"/>
<circle cx="280.1" cy="531.4" r="4.3"/>
<circle cx="154.4" cy="747.9" r="3.5"/>
<circle cx="655.1" cy="769.5" r="3.0"/>
<circle cx="169.3" cy="797.0" r="3.2"/>
<circle cx="501.7" cy="731.7" r="4.6"/>
<circle cx="551.4" cy="534.4" r="4.7"/>
<circle cx="334.4" cy="560.8" r="3.0"/>
<circle cx="281.9" cy="602.5" r="3.5"/>
<circle cx="457.7" cy="755.4" r="3.4"/>
<circle cx="514.0" cy="533.9" r="3.0"/>
<circle cx="572.0" cy="695.2" r="3.6"/>
<circle cx="315.6" cy="737.9" r="3.3"/>
<circle cx="365.9" cy="582.5" r="3.3"/>
<circle cx="403.6" cy="568.0" r="3.0"/>
<circle cx="572.9" cy="524.7" r="3.7"/>
<circle cx="301.3" cy="527.0" r="3.3"/>
<circle cx="524.4" cy="534.1" r="3.0"/>
<circle cx="157.3" cy="742.2" r="3.6"/>
<circle cx="439.5" cy="745.2" r="3.0"/>
<circle cx="348.4" cy="527.9" r="4.1"/>
<circle cx="336.6" cy="537.4" r="3.0"/>
<circle cx="314.8" cy="581.8" r="3.2"/>
<circle cx="312.8" cy="534.7" r="3.5"/>
<circle cx="403.3" cy="533.8" r="3.2"/>
<circle cx="426.4" cy="523.7" r="3.0"/>
<circle cx="441.2" cy="767.7" r="3.2"/>
<circle cx="260.1" cy="523.9" r="3.5"/>
<circle cx="324.0" cy="535.0" r="3.3"/>
<circle cx="354.3" cy="523.7" r="3.2"/>
<circle cx="280.1" cy="534.4" r="3.1"/>
<circle cx="280.8" cy="708.9" r="3.1"/>
<circle cx="552.5" cy="562.6" r="3.3"/>
<circle cx="142.4" cy="668.2" r="3.0"/>
<circle cx="377.6" cy="534.5" r="3.1"/>
<circle cx="617.0" cy="571.6" r="3.8"/>
<circle cx="117.9" cy="772.1" r="3.4"/>
<circle cx="561.2" cy="745.9" r="5.0"/>
<circle cx="538.9" cy="523.9" r="3.0"/>
<circle cx="661.7" cy="776.1" r="3.0"/>
<circle cx="616.6" cy="648.7" r="4.4"/>
<circle cx="509.7" cy="636.4" r="3.1"/>
<circle cx="474.4" cy="524.4" r="3.5"/>
<circle cx="531.9" cy="523.8" r="3.4"/>
<circle cx="524.3" cy="718.7" r="3.1"/>
<circle cx="307.3" cy="774.6" r="3.0"/>
<circle cx="564.7" cy="534.1" r="3.3"/>
<circle cx="228.3" cy="546.6" r="3.5"/>
<circle cx="375.9" cy="610.8" r="3.8"/>
<circle cx="551.6" cy="523.8" r="3.1"/>
<circle cx="626.8" cy="711.9" r="5.3"/>
<circle cx="547.4" cy="563.4" r="3.1"/>
<circle cx="609.8" cy="534.4" r="3.4"/>
<circle cx="487.5" cy="535.0" r="3.3"/>
<circle cx="641.0" cy="524.2" r="4.1"/>
<circle cx="463.8" cy="524.9" r="3.1"/>
<circle cx="125.1" cy="533.2" r="3.7"/>
<circle cx="508.2" cy="554.3" r="3.6"/>
<circle cx="646.4" cy="737.7" r="3.1"/>
<circle cx="329.3" cy="764.9" r="3.6"/>
<circle cx="448.3" cy="790.9" r="4.0"/>
<circle cx="564.0" cy="726.5" r="3.2"/>
<circle cx="430.8" cy="523.7" r="4.8"/>
<circle cx="173.3" cy="615.6" r="3.1"/>
<circle cx="336.7" cy="523.8" r="3.3"/>
<circle cx="163.4" cy="539.0" r="3.3"/>
<circle cx="414.4" cy="564.8" r="3.2"/>
<circle cx="406.4" cy="743.4" r="3.0"/>
<circle cx="467.2" cy="550.6" r="3.5"/>
<circle cx="440.1" cy="550.9" r="3.3"/>
<circle cx="144.7" cy="763.3" r="3.1"/>
<circle cx="507.7" cy="758.8" r="3.0"/>
<circle cx="197.0" cy="522.5" r="3.9"/>
<circle cx="294.4" cy="533.9" r="4.5"/>
<circle cx="592.1" cy="534.3" r="3.0"/>
<circle cx="534.3" cy="742.4" r="3.1"/>
<circle cx="649.2" cy="530.3" r="3.0"/>
<circle cx="609.0" cy="535.9" r="3.5"/>
<circle cx="571.9" cy="751.2" r="3.4"/>
<circle cx="543.1" cy="759.4" r="3.4"/>
<circle cx="587.9" cy="752.2" r="3.5"/>
<circle cx="436.4" cy="534.4" r="3.6"/>
<circle cx="363.9" cy="735.9" r="3.0"/>
<circle cx="172.0" cy="742.2" r="3.4"/>
<circle cx="437.2" cy="524.3" r="3.9"/>
<circle cx="511.3" cy="757.0" r="3.8"/>
<circle cx="221.9" cy="565.8" r="3.8"/>
<circle cx="164.2" cy="545.0" r="4.1"/>
<circle cx="585.9" cy="767.1" r="4.1"/>
<circle cx="502.8" cy="606.5" r="3.0"/>
<circle cx="568.3" cy="790.7" r="3.3"/>
<circle cx="278.8" cy="555.4" r="4.1"/>
<circle cx="598.5" cy="756.9" r="3.0"/>
<circle cx="493.5" cy="763.4" r="3.7"/>
<circle cx="332.5" cy="524.9" r="3.3"/>
<circle cx="631.1" cy="762.6" r="3.4"/>
<circle cx="331.2" cy="776.6" r="3.2"/>
<circle cx="427.0" cy="523.4" r="3.8"/>
<circle cx="460.7" cy="730.4" r="3.5"/>
<circle cx="636.0" cy="721.8" r="3.0"/>
<circle cx="622.3" cy="534.1" r="3.3"/>
<circle cx="287.0" cy="523.5" r="3.3"/>
<circle cx="277.8" cy="533.8" r="3.0"/>
<circle cx="265.0" cy="779.3" r="3.2"/>
<circle cx="499.3" cy="700.0" r="3.5"/>
<circle cx="570.8" cy="752.8" r="4.5"/>
<circle cx="657.4" cy="548.4" r="3.4"/>
<circle cx="478.6" cy="533.5" r="3.1"/>
<circle cx="483.0" cy="774.2" r="3.2"/>
<circle cx="542.4" cy="749.5" r="3.0"/>
<circle cx="483.9" cy="524.1" r="3.0"/>
<circle cx="653.9" cy="544.7" r="3.2"/>
<circle cx="219.0" cy="623.6" r="3.4"/>
<circle cx="460.6" cy="523.8" r="3.8"/>
<circle cx="444.0" cy="544.9" r="3.0"/>
<circle cx="521.0" cy="546.5" r="3.3"/>
<circle cx="595.0" cy="533.6" r="4.1"/>
<circle cx="495.1" cy="772.6" r="4.5"/>
<circle cx="421.2" cy="780.5" r="3.2"/>
<circle cx="577.0" cy="533.9" r="3.0"/>
<circle cx="643.5" cy="753.8" r="3.2"/>
<circle cx="642.0" cy="524.4" r="3.1"/>
<circle cx="367.7" cy="775.3" r="4.1"/>
<circle cx="284.3" cy="659.7" r="3.2"/>
<circle cx="162.6" cy="783.6" r="3.4"/>
<circle cx="340.7" cy="534.1" r="3.4"/>
<circle cx="631.2" cy="566.6" r="3.4"/>
<circle cx="338.9" cy="756.2" r="3.2"/>
<circle cx="657.6" cy="559.2" r="4.0"/>
<circle cx="618.3" cy="748.0" r="3.9"/>
<circle cx="505.0" cy="749.2" r="3.0"/>
<circle cx="214.1" cy="743.1" r="3.1"/>
<circle cx="262.9" cy="524.4" r="4.2"/>
<circle cx="126.3" cy="745.3" r="3.0"/>
<circle cx="598.7" cy="596.7" r="3.3"/>
<circle cx="184.0" cy="772.0" r="4.3"/>
<circle cx="273.1" cy="664.8" r="3.1"/>
<circle cx="181.1" cy="687.7" r="3.2"/>
<circle cx="345.4" cy="565.8" r="4.4"/>
<circle cx="525.4" cy="723.1" r="3.6"/>
<circle cx="351.0" cy="532.3" r="3.1"/>
<circle cx="171.2" cy="615.1" r="3.4"/>
<circle cx="660.2" cy="533.9" r="4.1"/>
<circle cx="334.4" cy="549.1" r="3.4"/>
<circle cx="534.1" cy="524.2" r="3.7"/>
<circle cx="370.3" cy="759.7" r="3.3"/>
<circle cx="546.1" cy="535.0" r="4.5"/>
<circle cx="389.2" cy="534.0" r="3.3"/>
<circle cx="435.4" cy="759.4" r="4.3"/>
<circle cx="330.2" cy="534.1" r="3.0"/>
<circle cx="302.8" cy="532.9" r="3.8"/>
<circle cx="522.3" cy="524.5" r="5.0"/>
<circle cx="353.9" cy="523.5" r="3.0"/>
<circle cx="526.5" cy="564.3" r="3.1"/>
<circle cx="482.0" cy="772.9" r="4.7"/>
<circle cx="489.1" cy="677.9" r="4.7"/>
<circle cx="419.2" cy="648.7" r="3.3"/>
<circle cx="273.0" cy="528.5" r="3.2"/>
<circle cx="633.1" cy="764.9" r="3.2"/>
<circle cx="584.3" cy="613.1" r="3.9"/>
<circle cx="610.6" cy="762.1" r="4.1"/>
<circle cx="377.7" cy="533.7" r="3.2"/>
<circle cx="490.3" cy="534.8" r="3.2"/>
<circle cx="368.8" cy="756.6" r="3.7"/>
<circle cx="355.8" cy="530.6" r="3.0"/>
<circle cx="219.0" cy="627.3" r="3.1"/>
<circle cx="225.5" cy="726.7" r="3.5"/>
<circle cx="417.5" cy="524.4" r="3.4"/>
<circle cx="518.7" cy="524.7" r="3.5"/>
<circle cx="457.5" cy="620.6" r="3.8"/>
<circle cx="326.4" cy="749.7" r="3.4"/>
<circle cx="130.0" cy="523.4" r="4.1"/>
<circle cx="336.0" cy="569.8" r="3.1"/>
<circle cx="304.5" cy="714.0" r="3.4"/>
<circle cx="297.8" cy="708.1" r="3.1"/>
<circle cx="557.9" cy="755.6" r="3.4"/>
<circle cx="251.8" cy="717.2" r="3.0"/>
<circle cx="524.6" cy="524.6" r="3.0"/>
<circle cx="350.4" cy="603.3" r="3.7"/>
<circle cx="666.3" cy="523.9" r="4.0"/>
<circle cx="301.0" cy="523.9" r="4.6"/>
<circle cx="617.6" cy="733.1" r="3.0"/>
<circle cx="233.0" cy="720.9" r="3.6"/>
<circle cx="276.7" cy="775.6" r="4.0"/>
<circle cx="562.4" cy="524.0" r="3.6"/>
<circle cx="242.0" cy="740.0" r="3.5"/>
<circle cx="593.9" cy="524.3" r="4.7"/>
<circle cx="289.9" cy="766.7" r="4.0"/>
<circle cx="113.8" cy="533.5" r="3.3"/>
<circle cx="438.9" cy="572.9" r="3.5"/>
<circle cx="421.0" cy="524.3" r="3.0"/>
<circle cx="224.1" cy="570.8" r="3.4"/>
<circle cx="517.2" cy="534.0" r="3.6"/>
<circle cx="654.8" cy="755.6" r="3.7"/>
<circle cx="609.0" cy="535.3" r="3.4"/>
<circle cx="536.2" cy="533.7" r="3.3"/>
<circle cx="396.6" cy="722.9" r="3.1"/>
<circle cx="531.0" cy="590.4" r="3.8"/>
<circle cx="215.0" cy="554.0" r="3.0"/>
<circle cx="450.7" cy="523.0" r="3.7"/>
<circle cx="144.6" cy="542.8" r="3.1"/>
<circle cx="239.7" cy="762.8" r="4.2"/>
<circle cx="583.3" cy="727.0" r="3.4"/>
<circle cx="575.7" cy="535.0" r="3.5"/>
<circle cx="169.0" cy="606.3" r="3.1"/>
<circle cx="152.4" cy="740.8" r="3.2"/>
<circle cx="583.1" cy="606.5" r="3.5"/>
<circle cx="332.8" cy="534.3" r="3.7"/>
<circle cx="576.2" cy="711.7" r="4.7"/>
<circle cx="598.2" cy="523.8" r="3.2"/>
<circle cx="266.5" cy="524.5" r="4.3"/>
<circle cx="634.5" cy="738.1" r="3.4"/>
<circle cx="537.3" cy="752.5" r="3.0"/>
<circle cx="367.2" cy="727.1" r="3.6"/>
<circle cx="464.5" cy="745.8" r="5.9"/>
<circle cx="534.6" cy="551.6" r="3.2"/>
<circle cx="531.4" cy="534.0" r="3.8"/>
<circle cx="567.2" cy="551.5" r="6.1"/>
<circle cx="637.8" cy="535.8" r="3.4"/>
<circle cx="222.3" cy="523.2" r="3.2"/>
<circle cx="606.4" cy="534.3" r="3.0"/>
<circle cx="260.8" cy="522.7" r="3.8"/>
<circle cx="368.0" cy="770.4" r="3.0"/>
<circle cx="271.7" cy="524.1" r="3.8"/>
<circle cx="244.5" cy="539.6" r="3.2"/>
<circle cx="354.3" cy="532.8" r="3.1"/>
<circle cx="593.1" cy="534.5" r="3.4"/>
<circle cx="228.9" cy="544.3" r="5.0"/>
<circle cx="564.8" cy="779.2" r="5.1"/>
<circle cx="320.4" cy="608.6" r="3.5"/>
<circle cx="293.5" cy="532.0" r="3.2"/>
<circle cx="581.1" cy="533.8" r="3.0"/>
<circle cx="609.5" cy="740.5" r="3.3"/>
<circle cx="490.5" cy="766.3" r="6.7"/>
<circle cx="408.6" cy="533.7" r="3.5"/>
<circle cx="217.6" cy="766.6" r="3.4"/>
<circle cx="378.4" cy="539.7" r="3.1"/>
<circle cx="300.3" cy="721.0" r="4.0"/>
<circle cx="532.9" cy="575.4" r="4.1"/>
<circle cx="249.8" cy="534.0" r="3.1"/>
<circle cx="488.6" cy="534.0" r="3.9"/>
<circle cx="134.2" cy="772.4" r="3.6"/>
<circle cx="640.7" cy="535.9" r="3.0"/>
<circle cx="453.0" cy="530.4" r="4.2"/>
<circle cx="201.1" cy="545.8" r="3.0"/>
<circle cx="585.0" cy="692.4" r="3.0"/>
<circle cx="528.1" cy="572.1" r="4.0"/>
<circle cx="266.9" cy="729.8" r="3.1"/>
<circle cx="438.8" cy="524.9" r="3.1"/>
<circle cx="275.6" cy="534.2" r="3.4"/>
<circle cx="212.4" cy="714.8" r="3.3"/>
<circle cx="480.3" cy="550.5" r="5.6"/>
<circle cx="147.7" cy="740.4" r="3.7"/>
<circle cx="214.1" cy="780.0" r="3.0"/>
<circle cx="644.0" cy="524.1" r="3.4"/>
<circle cx="341.6" cy="533.5" r="4.5"/>
<circle cx="437.3" cy="523.4" r="3.1"/>
<circle cx="408.5" cy="534.6" r="3.1"/>
<circle cx="582.9" cy="753.2" r="3.9"/>
<circle cx="546.9" cy="749.0" r="3.2"/>
<circle cx="171.3" cy="755.2" r="3.9"/>
<circle cx="339.4" cy="535.2" r="4.0"/>
<circle cx="469.3" cy="774.4" r="3.2"/>
<circle cx="318.3" cy="523.8" r="3.7"/>
<circle cx="509.2" cy="681.5" r="3.8"/>
<circle cx="423.7" cy="754.4" r="3.0"/>
<circle cx="310.9" cy="533.2" r="3.5"/>
<circle cx="664.6" cy="534.2" r="3.0"/>
<circle cx="573.4" cy="533.0" r="3.6"/>
<circle cx="502.0" cy="763.3" r="4.2"/>
<circle cx="256.9" cy="524.2" r="3.7"/>
<circle cx="228.1" cy="534.6" r="4.0"/>
<circle cx="312.3" cy="534.7" r="3.1"/>
<circle cx="228.6" cy="594.8" r="3.3"/>
<circle cx="620.1" cy="524.0" r="3.3"/>
<circle cx="644.3" cy="726.1" r="3.4"/>
<circle cx="360.0" cy="732.2" r="3.3"/>
<circle cx="421.8" cy="734.4" r="3.0"/>
<circle cx="189.3" cy="764.8" r="3.3"/>
<circle cx="545.6" cy="753.3" r="3.2"/>
<circle cx="533.2" cy="524.5" r="3.5"/>
<circle cx="641.4" cy="534.5" r="3.0"/>
<circle cx="299.8" cy="702.5" r="3.2"/>
<circle cx="219.8" cy="537.8" r="3.4"/>
<circle cx="573.4" cy="678.5" r="4.1"/>
<circle cx="522.8" cy="746.6" r="3.7"/>
<circle cx="311.3" cy="747.0" r="5.4"/>
<circle cx="613.8" cy="548.7" r="4.2"/>
<circle cx="514.0" cy="524.0" r="3.0"/>
<circle cx="524.3" cy="534.4" r="3.0"/>
<circle cx="462.0" cy="523.6" r="3.0"/>
<circle cx="642.8" cy="738.9" r="3.0"/>
<circle cx="148.1" cy="681.2" r="3.2"/>
<circle cx="255.5" cy="603.4" r="4.2"/>
<circle cx="121.1" cy="534.3" r="3.4"/>
<circle cx="600.6" cy="748.2" r="3.3"/>
<circle cx="205.4" cy="532.6" r="4.0"/>
<circle cx="590.8" cy="534.2" r="3.5"/>
<circle cx="530.8" cy="524.3" r="4.0"/>
<circle cx="313.9" cy="586.8" r="3.3"/>
<circle cx="320.4" cy="583.4" r="3.0"/>
<circle cx="618.6" cy="751.6" r="4.0"/>
<circle cx="270.0" cy="523.7" r="3.5"/>
<circle cx="445.7" cy="572.9" r="3.0"/>
<circle cx="243.2" cy="722.1" r="3.3"/>
<circle cx="164.0" cy="772.3" r="3.4"/>
<circle cx="355.7" cy="534.5" r="3.5"/>
<circle cx="572.1" cy="525.8" r="4.4"/>
<circle cx="558.9" cy="523.6" r="3.0"/>
<circle cx="220.4" cy="533.9" r="3.2"/>
<circle cx="568.4" cy="767.5" r="5.7"/>
<circle cx="497.0" cy="594.7" r="3.2"/>
<circle cx="296.2" cy="699.3" r="4.0"/>
<circle cx="650.4" cy="627.1" r="3.4"/>
<circle cx="376.8" cy="673.5" r="3.0"/>
<circle cx="207.8" cy="723.1" r="3.0"/>
<circle cx="218.0" cy="771.8" r="4.2"/>
<circle cx="533.1" cy="533.1" r="3.4"/>
<circle cx="285.7" cy="772.6" r="3.4"/>
<circle cx="398.9" cy="774.0" r="3.7"/>
<circle cx="254.9" cy="528.9" r="3.9"/>
<circle cx="542.9" cy="536.5" r="3.1"/>
<circle cx="497.9" cy="757.6" r="3.2"/>
<circle cx="455.0" cy="730.9" r="3.6"/>
<circle cx="494.2" cy="776.5" r="4.1"/>
<circle cx="134.5" cy="533.3" r="4.0"/>
<circle cx="623.0" cy="524.0" r="3.5"/>
<circle cx="328.5" cy="573.4" r="3.1"/>
<circle cx="506.0" cy="774.3" r="3.2"/>
<circle cx="631.0" cy="566.4" r="4.6"/>
<circle cx="205.4" cy="524.1" r="3.8"/>
<circle cx="124.2" cy="549.8" r="3.2"/>
<circle cx="606.9" cy="567.8" r="3.4"/>
<circle cx="526.8" cy="751.6" r="3.5"/>
<circle cx="615.2" cy="750.9" r="3.7"/>
<circle cx="359.4" cy="759.2" r="3.7"/>
<circle cx="352.5" cy="523.6" r="3.2"/>
<circle cx="489.3" cy="533.7" r="4.1"/>
<circle cx="143.2" cy="771.9" r="4.3"/>
<circle cx="344.2" cy="528.4" r="3.9"/>
<circle cx="585.3" cy="525.1" r="3.1"/>
<circle cx="498.5" cy="532.6" r="3.7"/>
<circle cx="385.3" cy="533.3" r="3.5"/>
<circle cx="453.4" cy="524.3" r="3.1"/>
<circle cx="549.8" cy="734.1" r="3.3"/>
<circle cx="600.2" cy="757.8" r="3.0"/>
<circle cx="646.5" cy="757.7" r="3.3"/>
<circle cx="330.2" cy="523.4" r="3.3"/>
<circle cx="648.9" cy="775.7" r="3.8"/>
<circle cx="116.8" cy="522.4" r="4.1"/>
<circle cx="408.7" cy="551.4" r="3.2"/>
<circle cx="526.9" cy="530.6" r="3.6"/>
<circle cx="299.6" cy="524.1" r="3.1"/>
<circle cx="408.8" cy="534.5" r="3.6"/>
<circle cx="491.9" cy="583.7" r="3.4"/>
<circle cx="330.8" cy="768.5" r="4.9"/>
<circle cx="529.5" cy="566.1" r="3.2"/>
<circle cx="508.0" cy="524.1" r="3.4"/>
<circle cx="504.0" cy="647.7" r="4.8"/>
<circle cx="534.3" cy="521.1" r="3.6"/>
<circle cx="448.6" cy="524.7" r="4.7"/>
<circle cx="369.8" cy="554.9" r="3.3"/>
<circle cx="410.2" cy="692.2" r="3.5"/>
<circle cx="566.0" cy="647.4" r="3.1"/>
<circle cx="530.4" cy="534.2" r="3.3"/>
<circle cx="649.6" cy="531.9" r="3.1"/>
<circle cx="435.8" cy="602.8" r="3.0"/>
<circle cx="265.7" cy="722.8" r="3.2"/>
<circle cx="413.1" cy="768.4" r="3.1"/>
<circle cx="479.7" cy="734.6" r="4.0"/>
<circle cx="592.9" cy="806.5" r="3.0"/>
<circle cx="288.1" cy="726.7" r="6.8"/>
<circle cx="259.2" cy="714.8" r="4.1"/>
<circle cx="198.8" cy="533.6" r="3.6"/>
<circle cx="534.7" cy="519.2" r="3.8"/>
<circle cx="480.9" cy="523.4" r="3.9"/>
<circle cx="251.7" cy="524.1" r="3.1"/>
<circle cx="595.9" cy="761.6" r="4.2"/>
<circle cx="129.5" cy="706.6" r="3.1"/>
<circle cx="281.8" cy="708.7" r="3.6"/>
<circle cx="335.3" cy="629.9" r="3.6"/>
<circle cx="263.0" cy="726.7" r="3.0"/>
<circle cx="176.8" cy="776.2" r="3.3"/>
<circle cx="267.3" cy="522.5" r="3.2"/>
<circle cx="635.7" cy="534.0" r="3.3"/>
<circle cx="558.3" cy="524.6" r="3.2"/>
<circle cx="506.7" cy="761.4" r="3.7"/>
<circle cx="216.2" cy="529.0" r="4.2"/>
<circle cx="558.2" cy="774.6" r="3.0"/>
<circle cx="345.3" cy="557.9" r="3.1"/>
<circle cx="215.1" cy="766.1" r="3.1"/>
<circle cx="655.9" cy="745.0" r="3.3"/>
<circle cx="387.0" cy="743.5" r="3.4"/>
<circle cx="235.4" cy="523.8" r="3.7"/>
<circle cx="220.8" cy="615.7" r="4.1"/>
<circle cx="197.2" cy="772.1" r="5.1"/>
<circle cx="374.8" cy="732.9" r="4.0"/>
<circle cx="475.1" cy="535.0" r="3.0"/>
<circle cx="345.1" cy="630.8" r="3.8"/>
<circle cx="418.4" cy="588.7" r="4.1"/>
<circle cx="632.3" cy="779.9" r="3.3"/>
<circle cx="474.1" cy="533.3" r="4.5"/>
<circle cx="518.4" cy="726.8" r="3.1"/>
<circle cx="267.6" cy="773.5" r="3.2"/>
<circle cx="135.2" cy="740.7" r="4.1"/>
<circle cx="289.7" cy="524.4" r="3.1"/>
<circle cx="487.4" cy="784.1" r="3.4"/>
<circle cx="344.4" cy="562.3" r="3.5"/>
<circle cx="582.2" cy="538.2" r="3.0"/>
<circle cx="518.7" cy="534.8" r="3.1"/>
<circle cx="338.1" cy="739.0" r="3.4"/>
<circle cx="558.1" cy="524.0" r="5.7"/>
<circle cx="474.1" cy="723.1" r="4.6"/>
<circle cx="386.1" cy="755.3" r="3.0"/>
<circle cx="138.2" cy="772.2" r="3.3"/>
<circle cx="219.3" cy="762.3" r="3.8"/>
<circle cx="430.7" cy="531.7" r="3.1"/>
<circle cx="579.6" cy="737.4" r="3.8"/>
<circle cx="438.7" cy="722.6" r="3.5"/>
<circle cx="636.3" cy="757.0" r="3.2"/>
<circle cx="651.4" cy="623.8" r="4.8"/>
<circle cx="327.3" cy="770.7" r="3.5"/>
<circle cx="633.9" cy="751.1" r="4.3"/>
<circle cx="376.7" cy="534.6" r="3.1"/>
<circle cx="645.3" cy="535.3" r="3.2"/>
<circle cx="458.9" cy="770.0" r="3.2"/>
<circle cx="321.4" cy="747.0" r="3.2"/>
<circle cx="395.1" cy="527.5" r="3.8"/>
<circle cx="455.3" cy="749.2" r="3.2"/>
<circle cx="464.3" cy="745.3" r="3.5"/>
<circle cx="611.3" cy="534.2" r="3.2"/>
<circle cx="365.5" cy="684.0" r="3.8"/>
<circle cx="230.2" cy="537.8" r="3.1"/>
<circle cx="314.3" cy="758.2" r="3.4"/>
<circle cx="639.1" cy="569.9" r="3.0"/>
<circle cx="457.8" cy="524.4" r="3.8"/>
<circle cx="667.6" cy="675.7" r="3.0"/>
<circle cx="240.6" cy="529.5" r="3.5"/>
<circle cx="580.7" cy="736.9" r="4.0"/>
<circle cx="233.8" cy="533.2" r="3.4"/>
<circle cx="597.8" cy="728.3" r="3.1"/>
<circle cx="475.9" cy="767.0" r="3.6"/>
<circle cx="344.4" cy="523.9" r="4.0"/>
<circle cx="164.5" cy="533.8" r="3.9"/>
<circle cx="619.2" cy="560.1" r="3.5"/>
<circle cx="586.9" cy="563.4" r="3.1"/>
<circle cx="551.2" cy="731.8" r="3.6"/>
<circle cx="524.2" cy="524.5" r="3.1"/>
<circle cx="250.4" cy="612.4" r="3.2"/>
<circle cx="542.4" cy="770.4" r="3.0"/>
<circle cx="231.6" cy="524.3" r="3.1"/>
<circle cx="612.5" cy="760.6" r="3.0"/>
<circle cx="215.7" cy="536.4" r="3.6"/>
<circle cx="385.4" cy="534.0" r="3.2"/>
<circle cx="476.2" cy="721.4" r="3.1"/>
<circle cx="243.3" cy="747.6" r="3.4"/>
<circle cx="627.0" cy="524.0" r="3.2"/>
<circle cx="517.6" cy="532.4" r="3.9"/>
<circle cx="531.8" cy="524.2" r="3.4"/>
<circle cx="350.8" cy="522.7" r="4.2"/>
<circle cx="640.5" cy="742.6" r="4.1"/>
<circle cx="211.8" cy="743.5" r="3.7"/>
<circle cx="572.9" cy="535.1" r="3.3"/>
<circle cx="280.1" cy="756.5" r="3.0"/>
<circle cx="222.1" cy="541.5" r="3.2"/>
<circle cx="613.9" cy="755.5" r="3.5"/>
<circle cx="327.3" cy="533.5" r="3.1"/>
<circle cx="323.3" cy="755.1" r="3.2"/>
<circle cx="596.9" cy="534.0" r="3.3"/>
<circle cx="312.7" cy="751.0" r="3.8"/>
<circle cx="532.8" cy="750.9" r="4.3"/>
<circle cx="645.2" cy="755.0" r="3.1"/>
<circle cx="236.9" cy="757.7" r="3.8"/>
<circle cx="283.0" cy="523.5" r="3.4"/>
<circle cx="283.2" cy="531.5" r="3.8"/>
<circle cx="136.6" cy="522.6" r="5.1"/>
<circle cx="554.6" cy="762.7" r="3.1"/>
<circle cx="416.5" cy="535.9" r="3.0"/>
<circle cx="600.4" cy="727.9" r="4.2"/>
<circle cx="266.8" cy="524.4" r="4.2"/>
<circle cx="227.8" cy="744.7" r="4.1"/>
<circle cx="242.1" cy="753.4" r="3.9"/>
<circle cx="154.3" cy="772.1" r="3.3"/>
<circle cx="406.1" cy="533.9" r="5.1"/>
<circle cx="117.1" cy="623.7" r="3.9"/>
<circle cx="596.3" cy="762.9" r="5.6"/>
<circle cx="483.5" cy="730.6" r="3.4"/>
<circle cx="425.0" cy="524.2" r="3.5"/>
<circle cx="621.4" cy="720.4" r="3.3"/>
<circle cx="647.6" cy="736.6" r="3.1"/>
<circle cx="233.8" cy="746.3" r="4.2"/>
<circle cx="311.1" cy="524.2" r="3.3"/>
<circle cx="616.3" cy="776.7" r="3.4"/>
<circle cx="312.9" cy="524.4" r="3.8"/>
<circle cx="330.7" cy="761.5" r="3.1"/>
<circle cx="385.9" cy="525.3" r="3.5"/>
<circle cx="230.9" cy="770.7" r="4.0"/>
<circle cx="603.6" cy="743.2" r="3.2"/>
<circle cx="602.1" cy="535.6" r="3.0"/>
<circle cx="384.4" cy="569.1" r="4.0"/>
<circle cx="341.9" cy="564.6" r="4.3"/>
<circle cx="493.6" cy="523.6" r="4.5"/>
<circle cx="656.7" cy="523.9" r="3.6"/>
<circle cx="349.5" cy="540.6" r="4.3"/>
<circle cx="652.8" cy="739.0" r="3.0"/>
<circle cx="156.8" cy="617.7" r="3.3"/>
<circle cx="230.9" cy="542.2" r="4.2"/>
<circle cx="405.0" cy="526.6" r="3.8"/>
<circle cx="373.3" cy="772.1" r="3.3"/>
<circle cx="614.3" cy="533.3" r="4.0"/>
<circle cx="218.7" cy="536.3" r="3.2"/>
<circle cx="518.0" cy="757.1" r="3.0"/>
<circle cx="291.5" cy="665.5" r="3.9"/>
<circle cx="132.1" cy="533.6" r="3.6"/>
<circle cx="378.9" cy="745.7" r="3.0"/>
<circle cx="524.5" cy="634.3" r="3.1"/>
<circle cx="281.8" cy="592.8" r="3.1"/>
<circle cx="587.0" cy="772.9" r="3.1"/>
<circle cx="464.8" cy="744.5" r="4.1"/>
<circle cx="573.9" cy="737.5" r="4.1"/>
<circle cx="516.0" cy="533.9" r="3.3"/>
<circle cx="501.3" cy="619.1" r="4.7"/>
<circle cx="209.5" cy="534.1" r="3.7"/>
<circle cx="157.0" cy="779.1" r="5.3"/>
<circle cx="349.5" cy="564.0" r="3.7"/>
<circle cx="438.7" cy="776.0" r="3.0"/>
<circle cx="377.6" cy="739.4" r="3.2"/>
<circle cx="405.5" cy="775.8" r="3.2"/>
<circle cx="464.3" cy="534.9" r="3.0"/>
<circle cx="320.7" cy="581.5" r="3.1"/>
<circle cx="304.0" cy="760.5" r="3.2"/>
<circle cx="486.3" cy="601.5" r="3.0"/>
<circle cx="557.0" cy="575.9" r="3.2"/>
<circle cx="304.6" cy="524.4" r="3.6"/>
<circle cx="607.4" cy="534.6" r="5.1"/>
<circle cx="348.9" cy="549.1" r="3.2"/>
<circle cx="351.9" cy="726.5" r="5.0"/>
<circle cx="379.1" cy="532.0" r="3.1"/>
<circle cx="593.7" cy="754.1" r="3.2"/>
<circle cx="337.2" cy="524.9" r="3.5"/>
<circle cx="225.1" cy="588.3" r="3.0"/>
<circle cx="477.5" cy="523.5" r="3.4"/>
<circle cx="588.8" cy="532.0" r="3.0"/>
<circle cx="642.1" cy="760.8" r="3.6"/>
<circle cx="548.6" cy="762.3" r="3.1"/>
<circle cx="211.0" cy="535.5" r="3.2"/>
<circle cx="649.4" cy="743.7" r="3.2"/>
<circle cx="536.7" cy="518.2" r="3.5"/>
<circle cx="117.7" cy="586.2" r="3.2"/>
<circle cx="611.3" cy="782.1" r="3.1"/>
<circle cx="642.5" cy="523.9" r="3.4"/>
<circle cx="602.9" cy="738.2" r="3.9"/>
<circle cx="540.0" cy="669.5" r="4.3"/>
<circle cx="538.2" cy="753.0" r="3.1"/>
<circle cx="591.6" cy="717.4" r="3.1"/>
<circle cx="152.6" cy="688.4" r="3.5"/>
<circle cx="641.8" cy="525.8" r="3.9"/>
<circle cx="538.7" cy="524.2" r="3.4"/>
<circle cx="251.6" cy="732.8" r="3.0"/>
<circle cx="617.7" cy="536.4" r="3.9"/>
<circle cx="399.5" cy="533.2" r="3.6"/>
<circle cx="436.1" cy="733.6" r="4.9"/>
<circle cx="210.6" cy="542.1" r="3.0"/>
<circle cx="116.2" cy="548.2" r="4.7"/>
<circle cx="391.8" cy="717.3" r="3.4"/>
<circle cx="378.5" cy="746.7" r="3.1"/>
<circle cx="312.1" cy="534.1" r="3.0"/>
<circle cx="117.8" cy="647.7" r="4.3"/>
<circle cx="266.7" cy="768.1" r="3.6"/>
<circle cx="535.6" cy="656.5" r="3.8"/>
<circle cx="225.5" cy="542.1" r="3.9"/>
<circle cx="505.5" cy="522.2" r="3.2"/>
<circle cx="604.0" cy="621.0" r="3.5"/>
<circle cx="560.5" cy="598.2" r="3.0"/>
</g>
</svg>
<line x1="159.3" x2="159.3" y1="507.1" y2="823.8" stroke="#ff0000" stroke-width="3" stroke-dasharray="11 10.9"/>
<line x1="284.6" x2="284.6" y1="507.1" y2="823.8" stroke="#ff0000" stroke-width="3" stroke-dasharray="11 10.9"/>
<line x1="382.5" x2="382.5" y1="507.1" y2="823.8" stroke="#ff0000" stroke-width="3" stroke-dasharray="11 10.9"/>
<line x1="400.6" x2="400.6" y1="507.1" y2="823.8" stroke="#ff0000" stroke-width="3" stroke-dasharray="11 10.9"/>
<line x1="524.2" x2="524.2" y1="507.1" y2="823.8" stroke="#ff0000" stroke-width="3" stroke-dasharray="11 10.9"/>
<circle cx="159.1" cy="763.3" r="11.4" fill="#ff0000"/>
<circle cx="159.1" cy="803.1" r="11.4" fill="#ff0000"/>
<circle cx="284.3" cy="543.2" r="11.4" fill="#ff0000"/>
<circle cx="381.9" cy="533.0" r="11.4" fill="#ff0000"/>
<circle cx="401.0" cy="528.2" r="11.4" fill="#ff0000"/>
<circle cx="523.9" cy="593.3" r="11.4" fill="#ff0000"/>
<rect x="113.0" y="506.6" width="558.2" height="317.2" fill="none" stroke="#1a1a1a" stroke-width="2"/>
</svg></body></html>
